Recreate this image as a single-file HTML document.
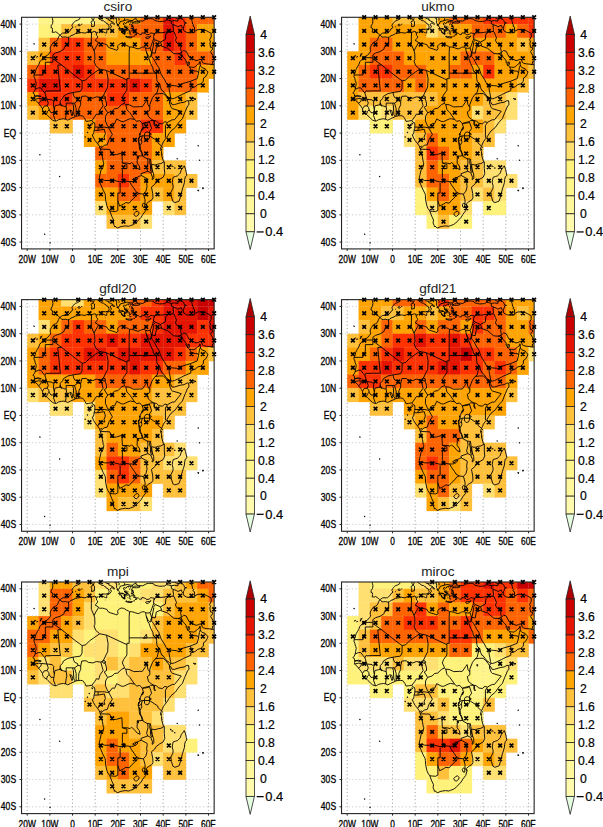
<!DOCTYPE html><html><head><meta charset="utf-8"><style>html,body{margin:0;padding:0;background:#fff;overflow:hidden}svg{display:block}</style></head><body>
<svg width="603" height="827" viewBox="0 0 603 827">
<rect width="603" height="827" fill="#fff"/>
<clipPath id="c0"><rect x="21.54" y="17.29" width="192.61" height="231.62"/></clipPath>
<g clip-path="url(#c0)">
<path d="M27.2 17.29V248.91M49.86 17.29V248.91M72.52 17.29V248.91M95.18 17.29V248.91M117.84 17.29V248.91M140.5 17.29V248.91M163.16 17.29V248.91M185.82 17.29V248.91M208.48 17.29V248.91" stroke="#a0a0a0" stroke-width="0.9" stroke-dasharray="1 2.56" fill="none"/>
<path d="M21.54 242.1H214.14M21.54 214.85H214.14M21.54 187.6H214.14M21.54 160.35H214.14M21.54 133.1H214.14M21.54 105.85H214.14M21.54 78.6H214.14M21.54 51.35H214.14M21.54 24.1H214.14" stroke="#c4c4c4" stroke-width="0.9" stroke-dasharray="1 2.56" fill="none"/>
<rect x="38.53" y="10.48" width="11.63" height="13.93" fill="#fff58a"/>
<rect x="49.86" y="10.48" width="11.63" height="13.93" fill="#fff58a"/>
<rect x="61.19" y="10.48" width="11.63" height="13.93" fill="#fff58a"/>
<rect x="72.52" y="10.48" width="11.63" height="13.93" fill="#fff58a"/>
<rect x="83.85" y="10.48" width="11.63" height="13.93" fill="#fff58a"/>
<rect x="95.18" y="10.48" width="11.63" height="13.93" fill="#ffe070"/>
<rect x="106.51" y="10.48" width="11.63" height="13.93" fill="#ffc03c"/>
<rect x="117.84" y="10.48" width="11.63" height="13.93" fill="#ffa400"/>
<rect x="129.17" y="10.48" width="11.63" height="13.93" fill="#ffa400"/>
<rect x="140.5" y="10.48" width="11.63" height="13.93" fill="#ff6400"/>
<rect x="151.83" y="10.48" width="11.63" height="13.93" fill="#ff6400"/>
<rect x="163.16" y="10.48" width="11.63" height="13.93" fill="#e41400"/>
<rect x="174.49" y="10.48" width="11.63" height="13.93" fill="#ff3200"/>
<rect x="185.82" y="10.48" width="11.63" height="13.93" fill="#ff6400"/>
<rect x="197.15" y="10.48" width="11.63" height="13.93" fill="#ff6400"/>
<rect x="208.48" y="10.48" width="11.63" height="13.93" fill="#ff6400"/>
<rect x="38.53" y="24.1" width="11.63" height="13.93" fill="#fff27a"/>
<rect x="49.86" y="24.1" width="11.63" height="13.93" fill="#fff27a"/>
<rect x="61.19" y="24.1" width="11.63" height="13.93" fill="#ffc03c"/>
<rect x="72.52" y="24.1" width="11.63" height="13.93" fill="#ffc03c"/>
<rect x="83.85" y="24.1" width="11.63" height="13.93" fill="#ffc03c"/>
<rect x="95.18" y="24.1" width="11.63" height="13.93" fill="#ffc03c"/>
<rect x="106.51" y="24.1" width="11.63" height="13.93" fill="#ffc03c"/>
<rect x="117.84" y="24.1" width="11.63" height="13.93" fill="#ffa400"/>
<rect x="129.17" y="24.1" width="11.63" height="13.93" fill="#ff6400"/>
<rect x="140.5" y="24.1" width="11.63" height="13.93" fill="#ff6400"/>
<rect x="151.83" y="24.1" width="11.63" height="13.93" fill="#ff6400"/>
<rect x="163.16" y="24.1" width="11.63" height="13.93" fill="#e41400"/>
<rect x="174.49" y="24.1" width="11.63" height="13.93" fill="#ff3200"/>
<rect x="185.82" y="24.1" width="11.63" height="13.93" fill="#ff6400"/>
<rect x="197.15" y="24.1" width="11.63" height="13.93" fill="#ffa400"/>
<rect x="208.48" y="24.1" width="11.63" height="13.93" fill="#ffa400"/>
<rect x="38.53" y="37.73" width="11.63" height="13.93" fill="#ffc03c"/>
<rect x="49.86" y="37.73" width="11.63" height="13.93" fill="#ff6400"/>
<rect x="61.19" y="37.73" width="11.63" height="13.93" fill="#ff3200"/>
<rect x="72.52" y="37.73" width="11.63" height="13.93" fill="#ff3200"/>
<rect x="83.85" y="37.73" width="11.63" height="13.93" fill="#ff6400"/>
<rect x="95.18" y="37.73" width="11.63" height="13.93" fill="#ff6400"/>
<rect x="106.51" y="37.73" width="11.63" height="13.93" fill="#ffa400"/>
<rect x="117.84" y="37.73" width="11.63" height="13.93" fill="#ffa400"/>
<rect x="129.17" y="37.73" width="11.63" height="13.93" fill="#ffa400"/>
<rect x="140.5" y="37.73" width="11.63" height="13.93" fill="#ff6400"/>
<rect x="151.83" y="37.73" width="11.63" height="13.93" fill="#ff6400"/>
<rect x="163.16" y="37.73" width="11.63" height="13.93" fill="#e41400"/>
<rect x="174.49" y="37.73" width="11.63" height="13.93" fill="#ff3200"/>
<rect x="185.82" y="37.73" width="11.63" height="13.93" fill="#ff6400"/>
<rect x="197.15" y="37.73" width="11.63" height="13.93" fill="#ffa400"/>
<rect x="208.48" y="37.73" width="11.63" height="13.93" fill="#ffa400"/>
<rect x="27.2" y="51.35" width="11.63" height="13.92" fill="#ffc03c"/>
<rect x="38.53" y="51.35" width="11.63" height="13.92" fill="#ffa400"/>
<rect x="49.86" y="51.35" width="11.63" height="13.92" fill="#ff3200"/>
<rect x="61.19" y="51.35" width="11.63" height="13.92" fill="#ff3200"/>
<rect x="72.52" y="51.35" width="11.63" height="13.92" fill="#ff3200"/>
<rect x="83.85" y="51.35" width="11.63" height="13.92" fill="#ff6400"/>
<rect x="95.18" y="51.35" width="11.63" height="13.92" fill="#ff6400"/>
<rect x="106.51" y="51.35" width="11.63" height="13.92" fill="#ffa400"/>
<rect x="117.84" y="51.35" width="11.63" height="13.92" fill="#ffa400"/>
<rect x="129.17" y="51.35" width="11.63" height="13.92" fill="#ffa400"/>
<rect x="140.5" y="51.35" width="11.63" height="13.92" fill="#ffa400"/>
<rect x="151.83" y="51.35" width="11.63" height="13.92" fill="#ff6400"/>
<rect x="163.16" y="51.35" width="11.63" height="13.92" fill="#ff6400"/>
<rect x="174.49" y="51.35" width="11.63" height="13.92" fill="#ff3200"/>
<rect x="185.82" y="51.35" width="11.63" height="13.92" fill="#ff6400"/>
<rect x="197.15" y="51.35" width="11.63" height="13.92" fill="#ff6400"/>
<rect x="208.48" y="51.35" width="11.63" height="13.92" fill="#ff6400"/>
<rect x="27.2" y="64.97" width="11.63" height="13.93" fill="#ff6400"/>
<rect x="38.53" y="64.97" width="11.63" height="13.93" fill="#ff3200"/>
<rect x="49.86" y="64.97" width="11.63" height="13.93" fill="#ff3200"/>
<rect x="61.19" y="64.97" width="11.63" height="13.93" fill="#ff3200"/>
<rect x="72.52" y="64.97" width="11.63" height="13.93" fill="#e41400"/>
<rect x="83.85" y="64.97" width="11.63" height="13.93" fill="#ff3200"/>
<rect x="95.18" y="64.97" width="11.63" height="13.93" fill="#ff6400"/>
<rect x="106.51" y="64.97" width="11.63" height="13.93" fill="#ff6400"/>
<rect x="117.84" y="64.97" width="11.63" height="13.93" fill="#ff6400"/>
<rect x="129.17" y="64.97" width="11.63" height="13.93" fill="#ff6400"/>
<rect x="140.5" y="64.97" width="11.63" height="13.93" fill="#ff6400"/>
<rect x="151.83" y="64.97" width="11.63" height="13.93" fill="#ff6400"/>
<rect x="163.16" y="64.97" width="11.63" height="13.93" fill="#ff6400"/>
<rect x="174.49" y="64.97" width="11.63" height="13.93" fill="#ff6400"/>
<rect x="185.82" y="64.97" width="11.63" height="13.93" fill="#ff6400"/>
<rect x="197.15" y="64.97" width="11.63" height="13.93" fill="#ffa400"/>
<rect x="208.48" y="64.97" width="11.63" height="13.93" fill="#ffa400"/>
<rect x="27.2" y="78.6" width="11.63" height="13.93" fill="#ff3200"/>
<rect x="38.53" y="78.6" width="11.63" height="13.93" fill="#e41400"/>
<rect x="49.86" y="78.6" width="11.63" height="13.93" fill="#e41400"/>
<rect x="61.19" y="78.6" width="11.63" height="13.93" fill="#ff3200"/>
<rect x="72.52" y="78.6" width="11.63" height="13.93" fill="#ff3200"/>
<rect x="83.85" y="78.6" width="11.63" height="13.93" fill="#ff3200"/>
<rect x="95.18" y="78.6" width="11.63" height="13.93" fill="#ff3200"/>
<rect x="106.51" y="78.6" width="11.63" height="13.93" fill="#ff3200"/>
<rect x="117.84" y="78.6" width="11.63" height="13.93" fill="#ff3200"/>
<rect x="129.17" y="78.6" width="11.63" height="13.93" fill="#e41400"/>
<rect x="140.5" y="78.6" width="11.63" height="13.93" fill="#ff3200"/>
<rect x="151.83" y="78.6" width="11.63" height="13.93" fill="#ff6400"/>
<rect x="163.16" y="78.6" width="11.63" height="13.93" fill="#ff6400"/>
<rect x="174.49" y="78.6" width="11.63" height="13.93" fill="#ff6400"/>
<rect x="185.82" y="78.6" width="11.63" height="13.93" fill="#ff6400"/>
<rect x="197.15" y="78.6" width="11.63" height="13.93" fill="#ffa400"/>
<rect x="27.2" y="92.22" width="11.63" height="13.93" fill="#ffa400"/>
<rect x="38.53" y="92.22" width="11.63" height="13.93" fill="#ff3200"/>
<rect x="49.86" y="92.22" width="11.63" height="13.93" fill="#ff3200"/>
<rect x="61.19" y="92.22" width="11.63" height="13.93" fill="#ff3200"/>
<rect x="72.52" y="92.22" width="11.63" height="13.93" fill="#ff6400"/>
<rect x="83.85" y="92.22" width="11.63" height="13.93" fill="#ff6400"/>
<rect x="95.18" y="92.22" width="11.63" height="13.93" fill="#ff6400"/>
<rect x="106.51" y="92.22" width="11.63" height="13.93" fill="#ff3200"/>
<rect x="117.84" y="92.22" width="11.63" height="13.93" fill="#ff3200"/>
<rect x="129.17" y="92.22" width="11.63" height="13.93" fill="#ff6400"/>
<rect x="140.5" y="92.22" width="11.63" height="13.93" fill="#ff6400"/>
<rect x="151.83" y="92.22" width="11.63" height="13.93" fill="#ff6400"/>
<rect x="163.16" y="92.22" width="11.63" height="13.93" fill="#ffa400"/>
<rect x="174.49" y="92.22" width="11.63" height="13.93" fill="#ffa400"/>
<rect x="185.82" y="92.22" width="11.63" height="13.93" fill="#ffc03c"/>
<rect x="27.2" y="105.85" width="11.63" height="13.93" fill="#ffc03c"/>
<rect x="38.53" y="105.85" width="11.63" height="13.93" fill="#ffa400"/>
<rect x="49.86" y="105.85" width="11.63" height="13.93" fill="#ff6400"/>
<rect x="61.19" y="105.85" width="11.63" height="13.93" fill="#ff6400"/>
<rect x="72.52" y="105.85" width="11.63" height="13.93" fill="#ff6400"/>
<rect x="83.85" y="105.85" width="11.63" height="13.93" fill="#ff6400"/>
<rect x="95.18" y="105.85" width="11.63" height="13.93" fill="#ff6400"/>
<rect x="106.51" y="105.85" width="11.63" height="13.93" fill="#ff6400"/>
<rect x="117.84" y="105.85" width="11.63" height="13.93" fill="#ff6400"/>
<rect x="129.17" y="105.85" width="11.63" height="13.93" fill="#ff6400"/>
<rect x="140.5" y="105.85" width="11.63" height="13.93" fill="#ff6400"/>
<rect x="151.83" y="105.85" width="11.63" height="13.93" fill="#ff6400"/>
<rect x="163.16" y="105.85" width="11.63" height="13.93" fill="#ffa400"/>
<rect x="174.49" y="105.85" width="11.63" height="13.93" fill="#ffa400"/>
<rect x="185.82" y="105.85" width="11.63" height="13.93" fill="#ffc03c"/>
<rect x="49.86" y="119.47" width="11.63" height="13.93" fill="#ffc03c"/>
<rect x="61.19" y="119.47" width="11.63" height="13.93" fill="#ffc03c"/>
<rect x="83.85" y="119.47" width="11.63" height="13.93" fill="#ffa400"/>
<rect x="95.18" y="119.47" width="11.63" height="13.93" fill="#ff6400"/>
<rect x="106.51" y="119.47" width="11.63" height="13.93" fill="#ff6400"/>
<rect x="117.84" y="119.47" width="11.63" height="13.93" fill="#ff6400"/>
<rect x="129.17" y="119.47" width="11.63" height="13.93" fill="#ff6400"/>
<rect x="140.5" y="119.47" width="11.63" height="13.93" fill="#ff3200"/>
<rect x="151.83" y="119.47" width="11.63" height="13.93" fill="#ff3200"/>
<rect x="163.16" y="119.47" width="11.63" height="13.93" fill="#ffa400"/>
<rect x="174.49" y="119.47" width="11.63" height="13.93" fill="#ffa400"/>
<rect x="83.85" y="133.1" width="11.63" height="13.93" fill="#ffa400"/>
<rect x="95.18" y="133.1" width="11.63" height="13.93" fill="#ffa400"/>
<rect x="106.51" y="133.1" width="11.63" height="13.93" fill="#ff6400"/>
<rect x="117.84" y="133.1" width="11.63" height="13.93" fill="#ff6400"/>
<rect x="129.17" y="133.1" width="11.63" height="13.93" fill="#ff6400"/>
<rect x="140.5" y="133.1" width="11.63" height="13.93" fill="#ff6400"/>
<rect x="151.83" y="133.1" width="11.63" height="13.93" fill="#ffa400"/>
<rect x="163.16" y="133.1" width="11.63" height="13.93" fill="#ffa400"/>
<rect x="95.18" y="146.72" width="11.63" height="13.93" fill="#ff6400"/>
<rect x="106.51" y="146.72" width="11.63" height="13.93" fill="#ff6400"/>
<rect x="117.84" y="146.72" width="11.63" height="13.93" fill="#ff6400"/>
<rect x="129.17" y="146.72" width="11.63" height="13.93" fill="#ff6400"/>
<rect x="140.5" y="146.72" width="11.63" height="13.93" fill="#ff6400"/>
<rect x="151.83" y="146.72" width="11.63" height="13.93" fill="#ffa400"/>
<rect x="95.18" y="160.35" width="11.63" height="13.93" fill="#ffa400"/>
<rect x="106.51" y="160.35" width="11.63" height="13.93" fill="#ff6400"/>
<rect x="117.84" y="160.35" width="11.63" height="13.93" fill="#ff6400"/>
<rect x="129.17" y="160.35" width="11.63" height="13.93" fill="#ff6400"/>
<rect x="140.5" y="160.35" width="11.63" height="13.93" fill="#ff6400"/>
<rect x="151.83" y="160.35" width="11.63" height="13.93" fill="#ffc03c"/>
<rect x="163.16" y="160.35" width="11.63" height="13.93" fill="#ffc03c"/>
<rect x="174.49" y="160.35" width="11.63" height="13.93" fill="#ffc03c"/>
<rect x="95.18" y="173.97" width="11.63" height="13.93" fill="#ff6400"/>
<rect x="106.51" y="173.97" width="11.63" height="13.93" fill="#ff6400"/>
<rect x="117.84" y="173.97" width="11.63" height="13.93" fill="#ff3200"/>
<rect x="129.17" y="173.97" width="11.63" height="13.93" fill="#ff6400"/>
<rect x="140.5" y="173.97" width="11.63" height="13.93" fill="#ffa400"/>
<rect x="151.83" y="173.97" width="11.63" height="13.93" fill="#ffa400"/>
<rect x="163.16" y="173.97" width="11.63" height="13.93" fill="#ffa400"/>
<rect x="174.49" y="173.97" width="11.63" height="13.93" fill="#ffc03c"/>
<rect x="185.82" y="173.97" width="11.63" height="13.93" fill="#ffc03c"/>
<rect x="95.18" y="187.6" width="11.63" height="13.93" fill="#ffa400"/>
<rect x="106.51" y="187.6" width="11.63" height="13.93" fill="#ffa400"/>
<rect x="117.84" y="187.6" width="11.63" height="13.93" fill="#ff6400"/>
<rect x="129.17" y="187.6" width="11.63" height="13.93" fill="#ff6400"/>
<rect x="140.5" y="187.6" width="11.63" height="13.93" fill="#ffa400"/>
<rect x="151.83" y="187.6" width="11.63" height="13.93" fill="#ffc03c"/>
<rect x="163.16" y="187.6" width="11.63" height="13.93" fill="#ffa400"/>
<rect x="174.49" y="187.6" width="11.63" height="13.93" fill="#ffc03c"/>
<rect x="95.18" y="201.22" width="11.63" height="13.93" fill="#ffe070"/>
<rect x="106.51" y="201.22" width="11.63" height="13.93" fill="#ffa400"/>
<rect x="117.84" y="201.22" width="11.63" height="13.93" fill="#ffa400"/>
<rect x="129.17" y="201.22" width="11.63" height="13.93" fill="#ffa400"/>
<rect x="140.5" y="201.22" width="11.63" height="13.93" fill="#ffa400"/>
<rect x="163.16" y="201.22" width="11.63" height="13.93" fill="#ffe070"/>
<rect x="174.49" y="201.22" width="11.63" height="13.93" fill="#ffc03c"/>
<rect x="106.51" y="214.85" width="11.63" height="13.93" fill="#ffc03c"/>
<rect x="117.84" y="214.85" width="11.63" height="13.93" fill="#ffc03c"/>
<rect x="129.17" y="214.85" width="11.63" height="13.93" fill="#ffc03c"/>
<rect x="140.5" y="214.85" width="11.63" height="13.93" fill="#ffe070"/>
<path d="M27.2 17.29V248.91M49.86 17.29V248.91M72.52 17.29V248.91M95.18 17.29V248.91M117.84 17.29V248.91M140.5 17.29V248.91M163.16 17.29V248.91M185.82 17.29V248.91M208.48 17.29V248.91" stroke="#a0a0a0" stroke-opacity="0.3" stroke-width="0.9" stroke-dasharray="1 2.56" fill="none"/>
<path d="M21.54 242.1H214.14M21.54 214.85H214.14M21.54 187.6H214.14M21.54 160.35H214.14M21.54 133.1H214.14M21.54 105.85H214.14M21.54 78.6H214.14M21.54 51.35H214.14M21.54 24.1H214.14" stroke="#d0d0d0" stroke-opacity="0.3" stroke-width="0.9" stroke-dasharray="1 2.56" fill="none"/>
<path d="M146.28 51.49L145.83 49.72L145.71 47.94L144.58 47.26L142.77 46.99L141.41 47.4L140.27 48.08L138.23 48.9L135.97 48.35L134.16 47.59L131.44 46.99L129.51 46.99L128.26 46.17L126.79 45.63L124.86 44.27L123.73 43.72L121.24 43.31L119.2 44.27L117.95 45.63L117.61 46.99L118.07 48.62L116.93 50.26L115.35 49.72L113.08 48.9L110.14 48.08L108.1 46.99L106.96 44.81L104.7 43.99L102.43 43.45L99.71 43.58L98.58 42.63L97.67 42.36L97.11 41.27L95.41 40.72L95.75 39.63L96.88 38.41L97.67 37.18L97.45 36.09L96.54 35.27L96.31 33.91L97.56 32.14L96.54 32.68L95.63 32.82L95.86 31.87L94.84 31.46L92.91 31.87L92.01 32.41L90.08 32.41L88.84 32.14L86.91 32.14L84.98 33.23L84.08 32.96L81.58 32.55L79.43 32.9L77.73 33.36L75.47 33.64L72.97 35L71.05 35.68L69.57 36.91L67.53 37.45L65.84 36.91L63.68 37.04L61.87 37.18L60.51 35.27L59.38 35.55L58.58 37.18L57.56 39.63L57.11 40.45L55.3 41.54L53.26 42.49L51.56 45.08L50.31 47.26L50.2 49.72L50.77 50.26L50.31 51.89L49.41 52.99L47.37 55.44L45.1 56.53L43.29 57.07L42.16 59.25L39.66 61.98L38.76 64.7L37.4 66.88L36.49 68.52L35.58 70.43L35.36 72.33L34.22 74.51L33.88 76.42L34.9 78.6L35.13 80.24L35.81 81.87L36.26 83.78L35.58 86.78L35.13 89.5L34.22 91.41L32.87 93.04L33.77 93.31L34.45 94.41L34.56 96.04L34.9 96.45L34.56 97.68L34.68 99.31L35.81 100.67L37.4 101.76L38.53 103.4L39.44 104.49L40.8 106.12L41.48 107.21L42.5 108.85L42.61 110.21L43.29 111.84L44.2 112.94L46.46 114.3L48.05 115.93L50.09 117.84L52.35 120.02L55.07 121.11L56.66 120.84L58.7 119.61L61.19 119.07L63.46 118.79L65.5 119.2L67.76 120.16L70.25 118.93L72.07 117.98L73.88 117.3L75.24 116.48L77.96 115.8L80.22 115.66L82.72 115.93L83.85 117.3L84.98 118.93L86.12 121.38L88.38 121.11L91.33 120.56L92.23 120.84L92.91 122.2L94.5 122.75L94.95 125.2L94.73 128.2L94.05 130.38L93.93 132.01L93.59 133.92L92.23 134.74L93.59 138L95.18 140.73L97.67 143.73L99.37 146.18L100.39 149.45L101.75 153.54L102.43 157.08L103.34 162.26L103.79 163.07L103.11 166.75L102.88 167.44L101.07 169.89L100.05 174.52L99.26 178.34L99.15 180.11L100.84 184.88L103.11 190.05L105.15 193.87L105.38 195.64L105.6 199.86L106.85 205.72L107.87 208.31L109.8 211.03L111.72 216.21L113.53 220.03L113.08 223.03L114.21 225.48L114.44 226.7L115.12 226.02L116.25 227.38L117.84 228.01L120.11 226.84L122.6 226.3L125.54 225.89L128.72 226.3L130.53 225.61L133.25 224.66L135.74 223.03L139.37 219.21L141.18 217.3L142.77 214.44L145.71 210.76L147.07 206.13L146.39 203.87L148.66 201.77L151.83 199.86L152.96 197.95L152.74 193.59L151.83 188.96L151.49 187.05L154.78 184.33L156.14 181.88L159.76 179.15L163.16 177.25L164.75 173.7L164.29 168.53L164.29 161.71L163.39 161.17L161.57 154.9L161.57 151.63L160.44 149.45L161.12 147L162.48 144.14L163.39 141.82L165.2 139.37L166.79 137.46L168.82 134.05L171.09 130.92L175.28 127.51L179.02 122.2L182.42 118.66L184.69 112.66L185.37 111.3L187.63 105.85L188.99 104.76L188.65 100.81L186.95 100.67L184.01 102.31L180.16 102.85L174.49 104.62L172.22 104.76L170.86 102.31L170.3 101.49L169.5 100.94L170.64 99.04L169.28 97.68L166.79 96.04L164.97 93.59L162.93 90.86L161.91 90.59L160.67 87.87L159.76 84.05L157.27 81.6L156.82 79.69L156.59 75.88L156.14 73.15L153.19 70.43L152.96 67.97L150.7 63.61L149.11 58.98L147.75 56.8L146.39 51.62L146.28 51.49M146.28 51.49L147.3 54.08L148.43 55.98L150.13 57.48L150.7 55.71L151.6 52.71L151.83 52.58L151.6 56.53L153.42 58.57L155.23 61.71L156.82 64.84L158.74 67.43L161.23 74.51L164.29 79.15L166.11 82.69L168.94 87.05L169.28 90.32L169.84 92.77L170.52 96.86L170.98 98.63L172.22 98.76L174.49 98.22L177.89 96.59L181.29 94.95L183.78 93.59L186.95 92.22L190.81 90.59L190.81 88.14L193.75 87.32L195.11 86.78L197.83 84.59L200.78 83.78L203.27 81.6L203.49 78.06L205.31 76.97L207.35 73.69L208.03 71.79L206.21 70.43L205.31 68.79L201.68 67.43L201 66.61L200.21 64.43L200.32 62.25L199.87 61.43L199.42 63.34L197.83 64.29L195.79 66.34L193.75 67.43L191.71 67.16L189.45 66.88L188.54 66.06L189.45 64.16L189.22 61.98L188.31 61.98L187.63 65.66L186.95 63.61L186.05 62.52L186.27 61.02L184.91 58.98L183.1 57.34L182.19 55.44L181.06 52.99L182.42 51.62L183.55 50.53L186.27 51.35L187.63 54.21L189.22 57.07L191.71 58.44L196.02 60.62L198.28 60.07L200.1 59.12L201.68 60.07L202.36 62.52L203.49 63.2L206.21 63.89L209.84 64.16L212.11 64.7L215.28 64.43M145.71 47.94L147.3 48.35L149.11 48.22L150.02 47.81L151.26 45.76L151.83 43.72L152.28 42.63L152.96 40.72L153.64 38.81L153.64 36.36L153.98 35.27L154.44 33.36L152.74 33.36L150.92 32.82L149.11 34.45L146.84 34.86L145.03 33.5L144.58 33.36L142.09 32.68L141.41 34.45L139.59 34.45L138.46 33.36L136.42 33.09L134.61 32.28L134.84 31.19L134.16 30.1L132.12 28.73L133.48 28.19L133.93 28.46L133.25 27.37L133.02 25.74L131.66 25.46L131.89 23.96L133.02 22.87L134.84 23.01L136.65 23.01L138.23 23.01L140.27 22.06L138.23 21.38L136.42 21.38L134.61 21.51L133.02 22.46L131.44 21.92L129.62 21.51L127.81 21.65L126.68 22.19L126.22 23.28L125.32 23.55L124.41 22.46L123.73 23.28L123.73 24.37L125.09 25.74L124.41 26.83L126 28.19L126.9 30.5L125.09 29.55L124.18 30.64L125.09 33.91L123.51 33.91L122.83 32.28L122.15 32.82L121.47 30.64L120.79 29.82L121.47 28.73L123.05 29L121.24 28.46L120.11 28.73L119.43 27.1L118.52 26.01L117.84 24.92L116.59 22.87L116.59 20.56L116.71 19.2L116.25 18.92L114.89 17.56L113.76 17.01M135.74 17.01L135.97 18.65L136.19 19.74L138.01 20.69L138.46 20.97L140.5 20.83L142.77 21.1L146.16 19.2L148.43 18.65L152.06 18.65L154.1 19.47L154.78 20.56L157.49 21.1L159.76 21.65L162.48 21.38L164.29 21.38L166.56 20.01L166.79 17.01M52.13 17.01L52.47 18.92L52.92 20.97L52.58 23.55L51.22 25.74L50.99 27.64L52.35 28.19L52.58 29.82L52.13 32.28L54.62 32.28L55.75 31.73L58.24 33.64L59.83 35L60.4 34.73L62.55 33.09L66.63 33.09L67.53 33.04L68.89 31.73L70.25 30.64L70.93 29L72.97 27.51L71.84 25.6L72.52 24.1L73.65 22.74L74.56 21.65L75.35 21.1L77.51 20.29L79.77 18.92L79.77 17.56L79.54 17.01M96.99 17.01L97.67 17.56L99.26 18.65L100.17 19.33L101.98 20.69L103.56 20.83L104.81 21.92L106.06 22.46L106.51 23.55L108.1 24.1L108.78 25.74L109.23 27.1L107.98 29.55L109 29.55L110.14 28.32L111.38 26.83L111.27 25.74L109.91 24.92L111.5 22.87L113.31 23.55L114.1 24.65L114.44 23.69L113.19 22.33L110.82 21.1L108.55 20.01L109.23 18.92L106.96 18.79L105.38 17.83L104.7 17.01M100.62 30.1L102.77 29.28L105.38 29.41L107.76 28.87L106.74 30.91L106.74 33.09L105.38 32.82L103.11 31.73L101.52 30.78L100.62 30.1M91.55 26.83L91.78 24.1L91.1 22.46L91.33 21.38L93.37 20.69L94.5 21.65L94.5 24.1L94.27 26.28L92.91 26.28L92.01 27.1L91.55 26.83M92.01 18.92L92.46 19.74L93.37 20.29L94.05 18.38L94.05 16.47L93.59 15.93L92.01 17.29L92.01 18.92M125.77 36.91L126 36.09L127.58 36.77L129.17 36.64L130.76 36.91L132.12 36.91L131.66 37.73L129.17 37.86L126.9 37.18L125.77 36.91M145.71 38L146.84 38.81L148.66 38.27L149.56 37.73L150.92 35.82L149.34 36.91L147.3 36.77L145.71 37.45L145.71 38M77.85 25.33L78.64 24.24L79.77 24.37L80.34 24.92L79.77 25.87L78.75 25.74L77.85 25.33M184.23 165.8L185.59 169.34L186.27 172.61L186.95 175.34L185.37 176.7L184.69 179.43L184.46 182.56L183.33 186.24L182.42 188.96L181.06 194.41L180.38 197.14L179.02 201.22L177.21 201.77L174.94 202.59L172.9 201.5L171.43 196.73L170.86 192.37L172.9 188.42L173.13 185.97L172.22 182.29L172.68 179.43L173.13 177.25L175.62 176.43L177.44 175.88L179.48 173.97L180.16 173.16L181.29 169.89L183.33 167.16L184.23 165.8M180.38 17.01L182.65 19.2L183.78 20.56L184.69 22.74L186.5 23.01L184.69 23.55L184.23 25.46L183.55 26.83L183.21 28.46L183.78 30.64L186.27 32.28L189.22 32.82L192.62 32.68L194.66 32.55L194.66 31.19L194.43 27.1L192.84 26.01L193.75 24.92L192.62 24.1L192.16 21.38L191.48 19.2L192.16 17.01M144.58 133.92L145.71 132.28L147.75 132.01L149.79 133.1L151.38 134.19L149.56 135.55L149.34 138L148.43 139.64L146.16 140.19L144.58 138.55L144.35 135.83L144.58 133.92M138.69 142.09L139.14 145.36L139.59 149.45L141.41 152.18L142.31 155.72L143.22 156.53L141.86 152.18L140.5 149.45L140.05 145.36L138.91 142.09M150.24 158.99L149.56 161.71L150.47 165.8L150.47 169.89L151.6 172.34L152.51 171.8L151.15 165.8L150.92 161.71L150.24 158.99M137.1 156.26L138.46 158.44L138.23 155.99L137.1 156.26M132.57 179.43L135.97 177.25L138.01 178.34L135.06 181.06L132.57 179.43M72.07 115.93L72.75 114.03L71.84 110.75L69.8 109.94L71.16 113.48L72.07 115.93M102.43 97.68L103.34 95.77L105.15 96.31L105.6 97.95L104.24 98.76L102.43 97.68M154.1 120.84L154.55 123.56L155.23 126.29L153.87 124.38L154.1 120.84M141.63 130.1L143.67 127.1L142.77 129.83L141.63 130.1M138.91 137.46L138.69 139.09L138.23 139.64L138.91 137.46M156.36 100.4L157.72 99.86L157.49 101.49L156.36 100.4M139.59 133.37L140.27 134.74L139.37 134.74L139.59 133.37M146.39 69.61L147.07 73.15L143.45 73.69L146.39 69.61M68.55 37.45L68.67 40.45L68.67 44.54L64.36 46.99L64.14 48.9L60.06 51.62L55.52 52.99L52.87 54.89L52.87 57.7M52.87 57.7L42.61 57.7M52.87 57.7L52.87 62.25L45.33 62.25L45.33 69.2L42.84 71.11L43.06 74.98L34 74.98M52.87 58.71L61.58 64.97M61.58 64.97L57.79 65.11L60.06 88.68L60.51 90.86L52.13 90.86L46.91 91.14L46.23 90.59L44.87 93.04M44.87 93.04L43.06 90.86L40.8 87.87L38.53 87.87L35.13 89.23M61.58 64.97L75.24 75.88L79.77 79.15L82.15 80.92M82.15 80.92L85.66 80.1L89.52 76.15L99.69 69.06M99.69 69.06L95.63 65.52L94.05 61.16L94.95 59.53L94.73 52.99L94.05 50.81M94.05 50.81L91.33 44.54L91.33 38.81L91.55 32.55M94.05 50.81L95.86 47.26L98.58 42.71M99.69 69.06L106.51 70.43L126.9 79.96L126.9 78.6L129.17 78.6L129.17 73.15M129.17 73.15L129.17 52.71L129.51 46.99M129.17 73.15L156.14 73.15M150.02 47.81L151.6 52.71M82.15 80.92L82.04 88.41L80.45 91.41L74.79 92.22L72.97 92.5M60.06 104.76L60.28 100.94L62.55 98.49L63.46 96.31L67.99 93.59L72.97 92.5M72.97 92.5L73.65 95.5L74.79 97.68L77.51 98.76L77.96 100.67M77.96 100.67L80.68 101.22L81.81 96.31L86.12 96.04L88.38 97.68L92.91 98.22L96.31 96.86L100.84 97.4L103.34 95.77M103.34 95.77L107.64 87.05L108.1 78.87L106.51 70.43M126.9 79.96L126.9 90.32L123.51 94.95L122.37 98.22L124.18 102.03L124.41 103.4M107.64 112.66L112.17 111.3L114.44 108.85L117.84 108.3L121.69 104.49L124.41 103.4M104.47 97.4L105.38 99.04L106.51 103.12L106.51 105.85L104.24 107.21L107.64 112.66M100.84 97.4L103.11 105.85L100.17 109.94L98.81 114.57L96.54 114.03L94.73 116.75L92.01 120.56M78.64 115.66L78.64 111.84L78.86 108.58L80.68 104.76L80.68 101.22M76.15 116.2L76.15 108.58L75.69 107.21L74.56 103.12M75.24 116.48L73.88 114.3L73.65 111.3L73.43 105.85L72.52 103.12M65.5 119.2L66.18 114.03L66.86 111.3L66.18 106.94L66.18 103.12L72.52 103.12L74.56 103.12L77.96 100.67M55.52 121.11L53.49 115.39L53.94 112.66L54.39 109.94L54.85 105.85L58.47 105.03L60.06 104.76L63.46 106.12L66.18 106.94M46.46 114.3L47.59 111.3L49.18 109.94L48.73 107.76L47.14 105.85L44.2 106.12L42.5 108.85M53.94 112.66L50.99 112.66L49.18 109.94M47.14 105.85L48.27 103.12L46.91 99.31L41.48 98.76L38.53 98.49L34.68 99.31M46.91 99.31L44.87 93.04M38.53 103.4L40.8 101.49L41.48 98.76M34.56 96.04L37.4 96.04L39.89 96.86L41.25 96.31L38.3 95.5L34.9 96.45M54.39 109.94L53.49 105.85L53.71 101.76L52.13 99.86L46.91 99.31M60.06 104.76L60.51 103.12L61.64 106.4M125.77 104.49L129.17 104.76L133.7 106.94L139.59 106.67L142.31 106.67L145.71 101.76L147.07 99.86L147.98 104.76L149.79 107.21M155.23 94.13L152.51 97.68L149.79 104.49L149.79 107.21L149.79 110.21L147.3 111.84L148.43 116.75L151.83 119.47L153.87 120.56M155.23 94.13L157.04 92.77L158.85 85.41L159.99 84.05M155.23 94.13L159.76 93.59L163.16 93.59L165.43 95.5L168.37 99.04L169.5 100.94M169.5 100.94L169.5 103.12L170.41 103.12M169.5 103.12L171.32 107.76L172.22 108.58L181.29 111.3L174.49 119.75L172.22 119.75L167.69 122.2L167.47 122.47M165.43 137.73L165.43 125.47L167.47 122.47M153.87 120.56L156.36 121.11L158.85 123.29L162.25 123.84L164.97 121.66L167.47 122.47M149.34 121.66L150.47 120.56L153.87 120.56M149.34 121.66L151.6 128.47L149.56 131.47L149.56 135.83M149.56 135.83L157.72 141.28L157.95 142.91L161.35 145.91M139.59 136.91L142.09 135.83L144.13 135.83L149.56 135.83M142.31 123.56L144.58 122.75L149.34 121.66M134.61 119.47L136.87 121.38L139.59 120.56L142.31 123.56M124.41 103.4L125.77 104.49L126.9 109.66L129.85 112.66L134.61 119.47M107.64 112.66L105.6 116.2L105.38 120.84L107.64 126.29L109.23 127.1L108.78 127.92M108.78 127.92L104.24 127.1L102.66 127.1L98.13 127.1L94.73 127.1M98.13 127.1L98.13 130.38L94.05 130.38M98.13 130.38L104.24 129.28L105.38 133.65L104.02 137.19L104.92 139.64L102.2 139.37L99.71 140.19L97.67 143.73M108.78 127.92L112.4 123.29L114.67 123.56L116.71 118.93L121.24 121.38L123.51 121.66L128.04 119.47L130.3 118.66L134.61 119.47M108.78 127.92L112.4 134.46L109.23 139.09L107.19 144.82L104.24 145.36L100.17 148.91M99.71 146.72L100.84 146.72L101.98 145.91M100.39 149.45L101.98 149.18L109.68 149.45L112.17 154.9L116.48 154.63L121.92 152.99L122.37 163.07L126.9 163.07L130.08 163.89L131.44 162.53L134.16 164.71L137.1 168.25L140.05 169.62L139.37 166.07L137.1 163.07L137.33 156.26L142.31 155.72M122.37 163.07L126.9 164.44L126.9 168.53L122.37 168.53L122.37 177.52L125.32 181.06M99.15 180.11L101.98 179.43L104.7 180.51L114.44 180.51L119.88 181.88L125.32 181.06L129.62 181.6M120.11 182.97L120.11 193.05L117.84 193.05L117.84 200.68L117.84 210.49L115.57 211.58L112.17 211.31L109.8 211.03M117.84 200.68L119.65 206.13L123.73 203.95L125.77 202.59L129.17 203.13L131.44 200.41L133.7 198.5L137.1 194.41L139.14 193.59M129.62 181.6L131.44 184.88L134.38 188.96L135.97 191.69L139.14 193.59M139.14 193.59L143.45 194.14M143.45 194.14L145.94 191.14L147.07 186.78L146.62 183.51L147.3 179.43L147.07 178.61L141.41 175.61M129.62 181.6L133.7 181.6L135.97 178.06L139.37 176.16L141.41 175.61M141.41 175.61L140.95 173.7L147.75 171.25L146.62 168.53L147.98 163.07L147.75 159.26L147.07 158.72L143.22 156.53M147.75 171.25L150.7 172.61L152.51 177.25L152.06 179.43L152.51 179.7L153.87 177.79L153.64 173.97L152.06 169.89L151.6 164.44M147.07 158.72L149.56 158.99L150.24 158.99M151.6 164.44L155.23 164.98L158.63 163.89L160.89 163.62L164.07 161.71M143.45 194.14L145.03 199.86L145.03 203.68L147.07 206.27M144.81 203.68L143.45 203.13L142.31 204.77L142.99 207.22L144.81 207.49L144.81 203.68M133.7 213.76L135.74 211.85L137.55 211.03L139.14 212.94L138.46 214.85L136.19 216.48L134.61 215.67L133.7 213.76M139.59 136.91L138.23 140.73L139.14 141L141.41 139.37L142.31 135.83M138.23 140.73L138.69 142.09M141.41 139.37L141.86 142.37L140.5 144.82L139.14 145.36M142.31 123.56L143.22 126.83L141.63 129.83L140.27 133.1L139.59 136.91M149.34 121.66L148.43 122.75L145.03 123.29L142.31 123.56M151.83 52.71L155.23 53.26L156.36 47.26L160.89 45.35L161.57 45.08M152.96 42.9L153.64 43.99L153.19 46.45L151.83 52.71M154.1 43.17L153.64 43.99M152.96 42.9L153.87 41.81L155.46 39.9L154.1 38.81L153.64 38.54M153.87 35.27L155.68 32.82L158.63 32.82L163.16 32.55L166.11 32L168.6 32M160.44 42.09L165.43 39.36L165.88 33.91L168.6 32M161.57 45.08L160.89 45.9L167.69 48.35L173.81 53.53L177.89 53.8L180.16 54.08L180.61 55.44L182.19 55.44M177.89 53.8L181.06 52.99L181.29 51.35L180.61 48.62L181.06 45.9L176.98 43.17L175.4 40.45L176.53 37.73L175.4 35.27L174.04 31.73L172.9 31.46L173.58 29.55L172.9 25.74L174.04 24.92M168.6 32L172.9 31.46M155.46 39.9L160.44 42.09L161.57 45.08M174.04 24.92L171.32 23.83L171.32 21.1L174.49 20.56L177.89 21.1L178.12 19.2L176.76 18.65L174.49 17.29L171.09 17.01M174.04 24.92L176.3 25.74L177.89 26.83L179.02 26.28L181.29 25.19L181.97 27.1L183.21 28.46M171.32 21.1L168.82 20.29L166.56 20.01M194.66 31.19L198.06 29.55L202.36 29.55L206.21 30.64L209.16 32.28L211.2 33.36L211.2 36.91L209.61 39.9L210.52 41.81L209.84 43.17L210.52 47.26L212.33 47.54L212.56 49.17L210.52 51.62L212.79 55.44L215.28 59.53M212.11 64.7L212.56 61.71L215.28 60.62M156.14 73.15L154.55 72.33L153.19 70.43M159.99 84.05L157.49 81.87M168.94 87.05L171.09 85.41L176.76 85.96L179.02 87.05L182.87 83.5L190.35 81.33L192.84 87.87M190.35 81.33L197.15 78.6L198.51 73.15L197.6 71.24L191.71 70.7L189.45 66.88M198.51 73.15L199.42 67.7L200.32 65.25M180.61 55.44L182.19 55.44M132.8 20.56L132.12 21.65M132.8 20.56L133.48 19.47L135.74 18.65M132.8 20.56L130.98 20.56L127.13 19.74L124.18 20.56L120.11 21.65L119.43 23.83L117.84 24.92M118.97 20.56L119.2 18.92L117.84 17.29M116.25 18.92L116.93 17.01M124.18 20.56L124.64 18.65L123.28 17.01M37.62 56.8L36.72 57.34L37.17 56.26L37.62 56.8M35.58 55.71L34.22 56.53L34.9 55.71L35.58 55.71M41.93 54.08L41.25 54.35L42.16 53.53L41.93 54.08M40.8 54.89L40.12 56.53L41.02 55.71L40.8 54.89M33.54 43.72L34.68 43.99L34 44.13L33.54 43.72M18.82 91.95L19.27 92.5L18.82 91.68M17.23 87.87L18.14 87.87M20.63 87.59L20.63 87.87M20.86 89.23L20.63 89.5M39.89 154.63L40.12 154.9M59.6 176.43L59.49 176.7M44.65 234.2L44.87 234.2M50.09 242.92L49.97 243.05M91.78 123.02L92.69 123.56L92.23 124.38L91.78 123.02M87.25 132.28L87.7 132.56M89.29 128.74L89.4 128.47M170.64 164.16L171.09 165.53M173.13 166.07L173.36 166.62M174.72 167.98L174.94 168.25M171.54 166.62L171.77 166.89M197.83 190.05L198.74 190.32L198.51 191.14L197.83 190.05M202.81 187.6L203.49 188.42L202.81 188.96L202.81 187.6M198.06 145.64L198.28 145.91M161.35 148.63L161.8 150.27M162.48 146.72L162.71 147.81M162.25 154.35L162.93 154.9M193.3 98.49L196.02 99.04L194.43 99.58L193.3 98.49M186.95 61.71L187.18 62.8M104.92 34.86L105.38 35.27M75.24 27.1L76.15 26.55M81.13 24.37L82.26 24.1M135.51 34.73L136.42 33.91L135.74 34.45M133.25 30.64L132.8 30.37M131.44 28.46L131.66 29M132.12 26.83L132.8 26.01M125.54 27.1L128.04 29L127.13 27.91M119.2 29L119.65 28.19M117.16 24.65L117.84 25.46M130.08 32L130.3 32.28M129.62 33.91L130.08 33.91M131.44 26.28L132.12 25.74L132.8 26.28L132.12 26.83L131.44 26.28M131.21 28.46L131.55 27.91L131.89 28.46L131.55 29L131.21 28.46M132.8 30.3L133.36 30.1L133.93 30.3L133.36 30.5L132.8 30.3M131.44 30.57L131.89 30.37L132.34 30.57L131.89 30.78L131.44 30.57M129.96 32.07L130.25 31.73L130.53 32.07L130.25 32.41L129.96 32.07M129.4 32.07L129.62 31.87L129.85 32.07L129.62 32.28L129.4 32.07M128.49 29.89L128.83 29.55L129.17 29.89L128.83 30.23L128.49 29.89M129.17 30.71L129.45 30.5L129.74 30.71L129.45 30.91L129.17 30.71M129.85 31.05L130.02 30.91L130.19 31.05L130.02 31.19L129.85 31.05M128.83 31.08L128.98 30.91L129.12 31.08L128.98 31.24L128.83 31.08M127.54 30.57L127.67 30.37L127.81 30.57L127.67 30.78L127.54 30.57M127.7 33.02L127.92 32.82L128.15 33.02L127.92 33.23L127.7 33.02M129.96 33.87L130.13 33.69L130.3 33.87L130.13 34.05L129.96 33.87M133.59 32.75L134.04 32.55L134.5 32.75L134.04 32.96L133.59 32.75M135.29 34.52L135.91 33.77L136.53 34.52L135.91 35.27L135.29 34.52M133.93 36.09L134.1 35.55L134.27 36.09L134.1 36.64L133.93 36.09M129.28 24.37L129.74 24.1L130.19 24.37L129.74 24.65L129.28 24.37M128.04 22.26L128.38 21.92L128.72 22.26L128.38 22.6L128.04 22.26M130.19 22.85L130.42 22.74L130.64 22.85L130.42 22.96L130.19 22.85M127.81 27.17L128.04 26.96L128.26 27.17L128.04 27.37L127.81 27.17M117.05 25.19L117.56 24.65L118.07 25.19L117.56 25.74L117.05 25.19M118.63 28.8L119.14 28.19L119.65 28.8L119.14 29.41L118.63 28.8M119.2 30.1L119.6 29.69L119.99 30.1L119.6 30.5L119.2 30.1M124.41 34.25L124.64 33.91L124.86 34.25L124.64 34.59L124.41 34.25M125.54 31.53L125.71 31.32L125.88 31.53L125.71 31.73L125.54 31.53M124.64 30.44L124.86 30.23L125.09 30.44L124.86 30.64L124.64 30.44M128.94 33.16L129.17 32.96L129.4 33.16L129.17 33.36L128.94 33.16M131.89 31.46L132.06 31.32L132.23 31.46L132.06 31.59L131.89 31.46M133.36 31.87L133.53 31.73L133.7 31.87L133.53 32L133.36 31.87M132.57 28.05L132.68 27.91L132.8 28.05L132.68 28.19L132.57 28.05M130.42 34.45L130.7 34.18L130.98 34.45L130.7 34.73L130.42 34.45M132.12 36.7L132.29 36.5L132.46 36.7L132.29 36.91L132.12 36.7M126.79 26.76L127.02 26.55L127.24 26.76L127.02 26.96L126.79 26.76M126 26.42L126.17 26.28L126.34 26.42L126.17 26.55L126 26.42M123.51 24.17L123.73 23.96L123.96 24.17L123.73 24.37L123.51 24.17M124.18 26.96L125.32 27.51L126.22 28.19L127.13 29L128.15 29.55L127.81 28.87L127.13 27.91L125.77 26.96L124.64 26.69L124.18 26.96M121.92 28.6L123.28 29.14L124.64 29.69L123.51 28.87L122.15 28.46M120.79 29.82L120.33 30.23L121.47 31.19L121.69 32.41L122.26 32.96L122.83 32.55L123.28 33.77L123.73 32.82L124.07 33.64L124.75 33.77L124.52 32L124.07 30.78L125.09 30.64L125.54 31.19L124.86 29.69" stroke="#000" stroke-width="0.9" fill="none" stroke-linejoin="round"/>
<g fill="#111"><circle cx="39.89" cy="154.76" r="0.75"/><circle cx="59.6" cy="176.56" r="0.75"/><circle cx="44.65" cy="234.2" r="0.75"/><circle cx="50.09" cy="242.92" r="0.75"/><circle cx="198.28" cy="145.64" r="0.75"/><circle cx="199.42" cy="160.35" r="0.75"/><circle cx="177.21" cy="158.72" r="0.75"/><circle cx="203.04" cy="188.15" r="0.75"/><circle cx="198.28" cy="190.6" r="0.75"/><circle cx="216.18" cy="186.78" r="0.75"/><circle cx="172.22" cy="166.34" r="0.75"/><circle cx="170.64" cy="164.71" r="0.75"/><circle cx="174.72" cy="167.98" r="0.75"/><circle cx="41.02" cy="54.35" r="0.75"/><circle cx="20.63" cy="89.23" r="0.75"/><circle cx="17.46" cy="92.5" r="0.75"/><circle cx="15.87" cy="86.78" r="0.75"/><circle cx="89.29" cy="128.74" r="0.75"/><circle cx="87.48" cy="132.56" r="0.75"/><circle cx="85.21" cy="136.91" r="0.75"/></g>
</g>
<rect x="21.54" y="17.29" width="192.61" height="231.62" fill="none" stroke="#222" stroke-width="1.1"/>
<path d="M27.2 248.91V250.91M49.86 248.91V250.91M72.52 248.91V250.91M95.18 248.91V250.91M117.84 248.91V250.91M140.5 248.91V250.91M163.16 248.91V250.91M185.82 248.91V250.91M208.48 248.91V250.91M21.54 242.1H19.54M21.54 214.85H19.54M21.54 187.6H19.54M21.54 160.35H19.54M21.54 133.1H19.54M21.54 105.85H19.54M21.54 78.6H19.54M21.54 51.35H19.54M21.54 24.1H19.54" stroke="#222" stroke-width="1" fill="none"/>
<path d="M99 15.44L102.69 19.14M99 19.14L102.69 15.44M110.33 15.44L114.02 19.14M110.33 19.14L114.02 15.44M144.31 15.44L148.01 19.14M144.31 19.14L148.01 15.44M155.64 15.44L159.34 19.14M155.64 19.14L159.34 15.44M166.97 15.44L170.67 19.14M166.97 19.14L170.67 15.44M178.31 15.44L182 19.14M178.31 19.14L182 15.44M189.63 15.44L193.33 19.14M189.63 19.14L193.33 15.44M200.97 15.44L204.66 19.14M200.97 19.14L204.66 15.44M212.29 15.44L215.99 19.14M212.29 19.14L215.99 15.44M65.01 29.06L68.7 32.76M65.01 32.76L68.7 29.06M76.34 29.06L80.03 32.76M76.34 32.76L80.03 29.06M87.67 29.06L91.36 32.76M87.67 32.76L91.36 29.06M99 29.06L102.69 32.76M99 32.76L102.69 29.06M110.33 29.06L114.02 32.76M110.33 32.76L114.02 29.06M121.66 29.06L125.36 32.76M121.66 32.76L125.36 29.06M132.99 29.06L136.69 32.76M132.99 32.76L136.69 29.06M144.31 29.06L148.01 32.76M144.31 32.76L148.01 29.06M155.64 29.06L159.34 32.76M155.64 32.76L159.34 29.06M166.97 29.06L170.67 32.76M166.97 32.76L170.67 29.06M178.31 29.06L182 32.76M178.31 32.76L182 29.06M189.63 29.06L193.33 32.76M189.63 32.76L193.33 29.06M200.97 29.06L204.66 32.76M200.97 32.76L204.66 29.06M212.29 29.06L215.99 32.76M212.29 32.76L215.99 29.06M42.34 42.69L46.05 46.39M42.34 46.39L46.05 42.69M53.67 42.69L57.38 46.39M53.67 46.39L57.38 42.69M65.01 42.69L68.7 46.39M65.01 46.39L68.7 42.69M76.34 42.69L80.03 46.39M76.34 46.39L80.03 42.69M87.67 42.69L91.36 46.39M87.67 46.39L91.36 42.69M99 42.69L102.69 46.39M99 46.39L102.69 42.69M110.33 42.69L114.02 46.39M110.33 46.39L114.02 42.69M121.66 42.69L125.36 46.39M121.66 46.39L125.36 42.69M132.99 42.69L136.69 46.39M132.99 46.39L136.69 42.69M144.31 42.69L148.01 46.39M144.31 46.39L148.01 42.69M155.64 42.69L159.34 46.39M155.64 46.39L159.34 42.69M166.97 42.69L170.67 46.39M166.97 46.39L170.67 42.69M178.31 42.69L182 46.39M178.31 46.39L182 42.69M189.63 42.69L193.33 46.39M189.63 46.39L193.33 42.69M200.97 42.69L204.66 46.39M200.97 46.39L204.66 42.69M212.29 42.69L215.99 46.39M212.29 46.39L215.99 42.69M31.02 56.31L34.72 60.01M31.02 60.01L34.72 56.31M42.34 56.31L46.05 60.01M42.34 60.01L46.05 56.31M53.67 56.31L57.38 60.01M53.67 60.01L57.38 56.31M65.01 56.31L68.7 60.01M65.01 60.01L68.7 56.31M76.34 56.31L80.03 60.01M76.34 60.01L80.03 56.31M87.67 56.31L91.36 60.01M87.67 60.01L91.36 56.31M99 56.31L102.69 60.01M99 60.01L102.69 56.31M144.31 56.31L148.01 60.01M144.31 60.01L148.01 56.31M155.64 56.31L159.34 60.01M155.64 60.01L159.34 56.31M166.97 56.31L170.67 60.01M166.97 60.01L170.67 56.31M178.31 56.31L182 60.01M178.31 60.01L182 56.31M189.63 56.31L193.33 60.01M189.63 60.01L193.33 56.31M200.97 56.31L204.66 60.01M200.97 60.01L204.66 56.31M212.29 56.31L215.99 60.01M212.29 60.01L215.99 56.31M31.02 69.94L34.72 73.64M31.02 73.64L34.72 69.94M42.34 69.94L46.05 73.64M42.34 73.64L46.05 69.94M53.67 69.94L57.38 73.64M53.67 73.64L57.38 69.94M65.01 69.94L68.7 73.64M65.01 73.64L68.7 69.94M76.34 69.94L80.03 73.64M76.34 73.64L80.03 69.94M87.67 69.94L91.36 73.64M87.67 73.64L91.36 69.94M99 69.94L102.69 73.64M99 73.64L102.69 69.94M110.33 69.94L114.02 73.64M110.33 73.64L114.02 69.94M121.66 69.94L125.36 73.64M121.66 73.64L125.36 69.94M132.99 69.94L136.69 73.64M132.99 73.64L136.69 69.94M144.31 69.94L148.01 73.64M144.31 73.64L148.01 69.94M155.64 69.94L159.34 73.64M155.64 73.64L159.34 69.94M166.97 69.94L170.67 73.64M166.97 73.64L170.67 69.94M178.31 69.94L182 73.64M178.31 73.64L182 69.94M189.63 69.94L193.33 73.64M189.63 73.64L193.33 69.94M200.97 69.94L204.66 73.64M200.97 73.64L204.66 69.94M212.29 69.94L215.99 73.64M212.29 73.64L215.99 69.94M31.02 83.56L34.72 87.26M31.02 87.26L34.72 83.56M42.34 83.56L46.05 87.26M42.34 87.26L46.05 83.56M53.67 83.56L57.38 87.26M53.67 87.26L57.38 83.56M65.01 83.56L68.7 87.26M65.01 87.26L68.7 83.56M76.34 83.56L80.03 87.26M76.34 87.26L80.03 83.56M87.67 83.56L91.36 87.26M87.67 87.26L91.36 83.56M99 83.56L102.69 87.26M99 87.26L102.69 83.56M110.33 83.56L114.02 87.26M110.33 87.26L114.02 83.56M121.66 83.56L125.36 87.26M121.66 87.26L125.36 83.56M132.99 83.56L136.69 87.26M132.99 87.26L136.69 83.56M144.31 83.56L148.01 87.26M144.31 87.26L148.01 83.56M155.64 83.56L159.34 87.26M155.64 87.26L159.34 83.56M166.97 83.56L170.67 87.26M166.97 87.26L170.67 83.56M178.31 83.56L182 87.26M178.31 87.26L182 83.56M189.63 83.56L193.33 87.26M189.63 87.26L193.33 83.56M200.97 83.56L204.66 87.26M200.97 87.26L204.66 83.56M31.02 97.19L34.72 100.89M31.02 100.89L34.72 97.19M42.34 97.19L46.05 100.89M42.34 100.89L46.05 97.19M53.67 97.19L57.38 100.89M53.67 100.89L57.38 97.19M65.01 97.19L68.7 100.89M65.01 100.89L68.7 97.19M76.34 97.19L80.03 100.89M76.34 100.89L80.03 97.19M87.67 97.19L91.36 100.89M87.67 100.89L91.36 97.19M99 97.19L102.69 100.89M99 100.89L102.69 97.19M110.33 97.19L114.02 100.89M110.33 100.89L114.02 97.19M121.66 97.19L125.36 100.89M121.66 100.89L125.36 97.19M132.99 97.19L136.69 100.89M132.99 100.89L136.69 97.19M144.31 97.19L148.01 100.89M144.31 100.89L148.01 97.19M155.64 97.19L159.34 100.89M155.64 100.89L159.34 97.19M166.97 97.19L170.67 100.89M166.97 100.89L170.67 97.19M178.31 97.19L182 100.89M178.31 100.89L182 97.19M189.63 97.19L193.33 100.89M189.63 100.89L193.33 97.19M31.02 110.81L34.72 114.51M31.02 114.51L34.72 110.81M42.34 110.81L46.05 114.51M42.34 114.51L46.05 110.81M53.67 110.81L57.38 114.51M53.67 114.51L57.38 110.81M65.01 110.81L68.7 114.51M65.01 114.51L68.7 110.81M76.34 110.81L80.03 114.51M76.34 114.51L80.03 110.81M87.67 110.81L91.36 114.51M87.67 114.51L91.36 110.81M99 110.81L102.69 114.51M99 114.51L102.69 110.81M110.33 110.81L114.02 114.51M110.33 114.51L114.02 110.81M121.66 110.81L125.36 114.51M121.66 114.51L125.36 110.81M132.99 110.81L136.69 114.51M132.99 114.51L136.69 110.81M144.31 110.81L148.01 114.51M144.31 114.51L148.01 110.81M155.64 110.81L159.34 114.51M155.64 114.51L159.34 110.81M166.97 110.81L170.67 114.51M166.97 114.51L170.67 110.81M178.31 110.81L182 114.51M178.31 114.51L182 110.81M189.63 110.81L193.33 114.51M189.63 114.51L193.33 110.81M53.67 124.44L57.38 128.14M53.67 128.14L57.38 124.44M65.01 124.44L68.7 128.14M65.01 128.14L68.7 124.44M87.67 124.44L91.36 128.14M87.67 128.14L91.36 124.44M99 124.44L102.69 128.14M99 128.14L102.69 124.44M110.33 124.44L114.02 128.14M110.33 128.14L114.02 124.44M121.66 124.44L125.36 128.14M121.66 128.14L125.36 124.44M132.99 124.44L136.69 128.14M132.99 128.14L136.69 124.44M144.31 124.44L148.01 128.14M144.31 128.14L148.01 124.44M155.64 124.44L159.34 128.14M155.64 128.14L159.34 124.44M166.97 124.44L170.67 128.14M166.97 128.14L170.67 124.44M178.31 124.44L182 128.14M178.31 128.14L182 124.44M87.67 138.06L91.36 141.76M87.67 141.76L91.36 138.06M99 138.06L102.69 141.76M99 141.76L102.69 138.06M110.33 138.06L114.02 141.76M110.33 141.76L114.02 138.06M121.66 138.06L125.36 141.76M121.66 141.76L125.36 138.06M132.99 138.06L136.69 141.76M132.99 141.76L136.69 138.06M144.31 138.06L148.01 141.76M144.31 141.76L148.01 138.06M155.64 138.06L159.34 141.76M155.64 141.76L159.34 138.06M166.97 138.06L170.67 141.76M166.97 141.76L170.67 138.06M99 151.69L102.69 155.39M99 155.39L102.69 151.69M110.33 151.69L114.02 155.39M110.33 155.39L114.02 151.69M121.66 151.69L125.36 155.39M121.66 155.39L125.36 151.69M132.99 151.69L136.69 155.39M132.99 155.39L136.69 151.69M144.31 151.69L148.01 155.39M144.31 155.39L148.01 151.69M155.64 151.69L159.34 155.39M155.64 155.39L159.34 151.69M99 165.31L102.69 169.01M99 169.01L102.69 165.31M110.33 165.31L114.02 169.01M110.33 169.01L114.02 165.31M121.66 165.31L125.36 169.01M121.66 169.01L125.36 165.31M132.99 165.31L136.69 169.01M132.99 169.01L136.69 165.31M144.31 165.31L148.01 169.01M144.31 169.01L148.01 165.31M155.64 165.31L159.34 169.01M155.64 169.01L159.34 165.31M166.97 165.31L170.67 169.01M166.97 169.01L170.67 165.31M178.31 165.31L182 169.01M178.31 169.01L182 165.31M99 178.94L102.69 182.64M99 182.64L102.69 178.94M110.33 178.94L114.02 182.64M110.33 182.64L114.02 178.94M121.66 178.94L125.36 182.64M121.66 182.64L125.36 178.94M132.99 178.94L136.69 182.64M132.99 182.64L136.69 178.94M144.31 178.94L148.01 182.64M144.31 182.64L148.01 178.94M155.64 178.94L159.34 182.64M155.64 182.64L159.34 178.94M166.97 178.94L170.67 182.64M166.97 182.64L170.67 178.94M178.31 178.94L182 182.64M178.31 182.64L182 178.94M189.63 178.94L193.33 182.64M189.63 182.64L193.33 178.94M99 192.56L102.69 196.26M99 196.26L102.69 192.56M110.33 192.56L114.02 196.26M110.33 196.26L114.02 192.56M121.66 192.56L125.36 196.26M121.66 196.26L125.36 192.56M132.99 192.56L136.69 196.26M132.99 196.26L136.69 192.56M144.31 192.56L148.01 196.26M144.31 196.26L148.01 192.56M155.64 192.56L159.34 196.26M155.64 196.26L159.34 192.56M166.97 192.56L170.67 196.26M166.97 196.26L170.67 192.56M178.31 192.56L182 196.26M178.31 196.26L182 192.56M99 206.19L102.69 209.89M99 209.89L102.69 206.19M110.33 206.19L114.02 209.89M110.33 209.89L114.02 206.19M121.66 206.19L125.36 209.89M121.66 209.89L125.36 206.19M132.99 206.19L136.69 209.89M132.99 209.89L136.69 206.19M144.31 206.19L148.01 209.89M144.31 209.89L148.01 206.19M166.97 206.19L170.67 209.89M166.97 209.89L170.67 206.19M178.31 206.19L182 209.89M178.31 209.89L182 206.19M110.33 219.81L114.02 223.51M110.33 223.51L114.02 219.81M121.66 219.81L125.36 223.51M121.66 223.51L125.36 219.81M132.99 219.81L136.69 223.51M132.99 223.51L136.69 219.81M144.31 219.81L148.01 223.51M144.31 223.51L148.01 219.81" stroke="#000" stroke-width="1.7" fill="none"/>
<text x="0" y="262.81" text-anchor="middle" font-size="10.2" stroke="#000" stroke-width="0.3" transform="translate(27.2 0) scale(0.82 1)" font-family="Liberation Sans, sans-serif">20W</text>
<text x="0" y="262.81" text-anchor="middle" font-size="10.2" stroke="#000" stroke-width="0.3" transform="translate(49.86 0) scale(0.82 1)" font-family="Liberation Sans, sans-serif">10W</text>
<text x="0" y="262.81" text-anchor="middle" font-size="10.2" stroke="#000" stroke-width="0.3" transform="translate(72.52 0) scale(0.82 1)" font-family="Liberation Sans, sans-serif">0</text>
<text x="0" y="262.81" text-anchor="middle" font-size="10.2" stroke="#000" stroke-width="0.3" transform="translate(95.18 0) scale(0.82 1)" font-family="Liberation Sans, sans-serif">10E</text>
<text x="0" y="262.81" text-anchor="middle" font-size="10.2" stroke="#000" stroke-width="0.3" transform="translate(117.84 0) scale(0.82 1)" font-family="Liberation Sans, sans-serif">20E</text>
<text x="0" y="262.81" text-anchor="middle" font-size="10.2" stroke="#000" stroke-width="0.3" transform="translate(140.5 0) scale(0.82 1)" font-family="Liberation Sans, sans-serif">30E</text>
<text x="0" y="262.81" text-anchor="middle" font-size="10.2" stroke="#000" stroke-width="0.3" transform="translate(163.16 0) scale(0.82 1)" font-family="Liberation Sans, sans-serif">40E</text>
<text x="0" y="262.81" text-anchor="middle" font-size="10.2" stroke="#000" stroke-width="0.3" transform="translate(185.82 0) scale(0.82 1)" font-family="Liberation Sans, sans-serif">50E</text>
<text x="0" y="262.81" text-anchor="middle" font-size="10.2" stroke="#000" stroke-width="0.3" transform="translate(208.48 0) scale(0.82 1)" font-family="Liberation Sans, sans-serif">60E</text>
<text x="0" y="245.7" text-anchor="end" font-size="10.2" stroke="#000" stroke-width="0.3" transform="translate(16.1 0) scale(0.84 1)" font-family="Liberation Sans, sans-serif">40S</text>
<text x="0" y="218.45" text-anchor="end" font-size="10.2" stroke="#000" stroke-width="0.3" transform="translate(16.1 0) scale(0.84 1)" font-family="Liberation Sans, sans-serif">30S</text>
<text x="0" y="191.2" text-anchor="end" font-size="10.2" stroke="#000" stroke-width="0.3" transform="translate(16.1 0) scale(0.84 1)" font-family="Liberation Sans, sans-serif">20S</text>
<text x="0" y="163.95" text-anchor="end" font-size="10.2" stroke="#000" stroke-width="0.3" transform="translate(16.1 0) scale(0.84 1)" font-family="Liberation Sans, sans-serif">10S</text>
<text x="0" y="136.7" text-anchor="end" font-size="10.2" stroke="#000" stroke-width="0.3" transform="translate(16.1 0) scale(0.84 1)" font-family="Liberation Sans, sans-serif">EQ</text>
<text x="0" y="109.45" text-anchor="end" font-size="10.2" stroke="#000" stroke-width="0.3" transform="translate(16.1 0) scale(0.84 1)" font-family="Liberation Sans, sans-serif">10N</text>
<text x="0" y="82.2" text-anchor="end" font-size="10.2" stroke="#000" stroke-width="0.3" transform="translate(16.1 0) scale(0.84 1)" font-family="Liberation Sans, sans-serif">20N</text>
<text x="0" y="54.95" text-anchor="end" font-size="10.2" stroke="#000" stroke-width="0.3" transform="translate(16.1 0) scale(0.84 1)" font-family="Liberation Sans, sans-serif">30N</text>
<text x="0" y="27.7" text-anchor="end" font-size="10.2" stroke="#000" stroke-width="0.3" transform="translate(16.1 0) scale(0.84 1)" font-family="Liberation Sans, sans-serif">40N</text>
<text x="117.84" y="10.9" text-anchor="middle" font-size="13.6" fill="#222" font-family="Liberation Sans, sans-serif">csiro</text>
<path d="M246 34.4L250.2 16.1L254.4 34.4Z" fill="#ae0000" stroke="#222" stroke-width="0.8"/>
<rect x="246" y="34.4" width="8.4" height="17.94" fill="#ca0000" stroke="#222" stroke-width="0.8"/>
<rect x="246" y="52.34" width="8.4" height="17.94" fill="#e41400" stroke="#222" stroke-width="0.8"/>
<rect x="246" y="70.28" width="8.4" height="17.94" fill="#ff3200" stroke="#222" stroke-width="0.8"/>
<rect x="246" y="88.22" width="8.4" height="17.94" fill="#ff6400" stroke="#222" stroke-width="0.8"/>
<rect x="246" y="106.16" width="8.4" height="17.94" fill="#ffa400" stroke="#222" stroke-width="0.8"/>
<rect x="246" y="124.1" width="8.4" height="17.94" fill="#ffc03c" stroke="#222" stroke-width="0.8"/>
<rect x="246" y="142.04" width="8.4" height="17.94" fill="#ffe070" stroke="#222" stroke-width="0.8"/>
<rect x="246" y="159.98" width="8.4" height="17.94" fill="#fff27a" stroke="#222" stroke-width="0.8"/>
<rect x="246" y="177.92" width="8.4" height="17.94" fill="#fff58a" stroke="#222" stroke-width="0.8"/>
<rect x="246" y="195.86" width="8.4" height="17.94" fill="#fff79c" stroke="#222" stroke-width="0.8"/>
<rect x="246" y="213.8" width="8.4" height="17.94" fill="#fffaae" stroke="#222" stroke-width="0.8"/>
<path d="M246 231.74L250.2 249.6L254.4 231.74Z" fill="#e6ffe1" stroke="#222" stroke-width="0.8"/>
<text x="260.2" y="38.7" font-size="12.2" stroke="#000" stroke-width="0.2" font-family="Liberation Sans, sans-serif">4</text>
<text x="257.9" y="56.64" font-size="12.2" stroke="#000" stroke-width="0.2" font-family="Liberation Sans, sans-serif">3.6</text>
<text x="257.9" y="74.58" font-size="12.2" stroke="#000" stroke-width="0.2" font-family="Liberation Sans, sans-serif">3.2</text>
<text x="257.9" y="92.52" font-size="12.2" stroke="#000" stroke-width="0.2" font-family="Liberation Sans, sans-serif">2.8</text>
<text x="257.9" y="110.46" font-size="12.2" stroke="#000" stroke-width="0.2" font-family="Liberation Sans, sans-serif">2.4</text>
<text x="259.9" y="128.4" font-size="12.2" stroke="#000" stroke-width="0.2" font-family="Liberation Sans, sans-serif">2</text>
<text x="257.9" y="146.34" font-size="12.2" stroke="#000" stroke-width="0.2" font-family="Liberation Sans, sans-serif">1.6</text>
<text x="257.9" y="164.28" font-size="12.2" stroke="#000" stroke-width="0.2" font-family="Liberation Sans, sans-serif">1.2</text>
<text x="257.9" y="182.22" font-size="12.2" stroke="#000" stroke-width="0.2" font-family="Liberation Sans, sans-serif">0.8</text>
<text x="257.9" y="200.16" font-size="12.2" stroke="#000" stroke-width="0.2" font-family="Liberation Sans, sans-serif">0.4</text>
<text x="259.9" y="218.1" font-size="12.2" stroke="#000" stroke-width="0.2" font-family="Liberation Sans, sans-serif">0</text>
<path d="M256.7 231.94H263.7" stroke="#000" stroke-width="1.25"/>
<text x="265.3" y="236.24" font-size="12.9" stroke="#000" stroke-width="0.2" font-family="Liberation Sans, sans-serif">0.4</text>
<clipPath id="c1"><rect x="341.53" y="17.29" width="192.61" height="231.62"/></clipPath>
<g clip-path="url(#c1)">
<path d="M347.2 17.29V248.91M369.86 17.29V248.91M392.52 17.29V248.91M415.18 17.29V248.91M437.84 17.29V248.91M460.5 17.29V248.91M483.16 17.29V248.91M505.82 17.29V248.91M528.48 17.29V248.91" stroke="#a0a0a0" stroke-width="0.9" stroke-dasharray="1 2.56" fill="none"/>
<path d="M341.53 242.1H534.14M341.53 214.85H534.14M341.53 187.6H534.14M341.53 160.35H534.14M341.53 133.1H534.14M341.53 105.85H534.14M341.53 78.6H534.14M341.53 51.35H534.14M341.53 24.1H534.14" stroke="#c4c4c4" stroke-width="0.9" stroke-dasharray="1 2.56" fill="none"/>
<rect x="358.53" y="10.48" width="11.63" height="13.93" fill="#ffa400"/>
<rect x="369.86" y="10.48" width="11.63" height="13.93" fill="#ffa400"/>
<rect x="381.19" y="10.48" width="11.63" height="13.93" fill="#ffa400"/>
<rect x="392.52" y="10.48" width="11.63" height="13.93" fill="#ffc03c"/>
<rect x="403.85" y="10.48" width="11.63" height="13.93" fill="#ffc03c"/>
<rect x="415.18" y="10.48" width="11.63" height="13.93" fill="#ffc03c"/>
<rect x="426.51" y="10.48" width="11.63" height="13.93" fill="#ffe070"/>
<rect x="437.84" y="10.48" width="11.63" height="13.93" fill="#ffa400"/>
<rect x="449.17" y="10.48" width="11.63" height="13.93" fill="#ff6400"/>
<rect x="460.5" y="10.48" width="11.63" height="13.93" fill="#ff6400"/>
<rect x="471.83" y="10.48" width="11.63" height="13.93" fill="#ff6400"/>
<rect x="483.16" y="10.48" width="11.63" height="13.93" fill="#ff3200"/>
<rect x="494.49" y="10.48" width="11.63" height="13.93" fill="#ff3200"/>
<rect x="505.82" y="10.48" width="11.63" height="13.93" fill="#ff3200"/>
<rect x="517.15" y="10.48" width="11.63" height="13.93" fill="#ff3200"/>
<rect x="528.48" y="10.48" width="11.63" height="13.93" fill="#ff3200"/>
<rect x="358.53" y="24.1" width="11.63" height="13.93" fill="#ffa400"/>
<rect x="369.86" y="24.1" width="11.63" height="13.93" fill="#ffa400"/>
<rect x="381.19" y="24.1" width="11.63" height="13.93" fill="#ffa400"/>
<rect x="392.52" y="24.1" width="11.63" height="13.93" fill="#ffa400"/>
<rect x="403.85" y="24.1" width="11.63" height="13.93" fill="#ffa400"/>
<rect x="415.18" y="24.1" width="11.63" height="13.93" fill="#ffa400"/>
<rect x="426.51" y="24.1" width="11.63" height="13.93" fill="#ffe070"/>
<rect x="437.84" y="24.1" width="11.63" height="13.93" fill="#ffc03c"/>
<rect x="449.17" y="24.1" width="11.63" height="13.93" fill="#ffa400"/>
<rect x="460.5" y="24.1" width="11.63" height="13.93" fill="#ffa400"/>
<rect x="471.83" y="24.1" width="11.63" height="13.93" fill="#ff6400"/>
<rect x="483.16" y="24.1" width="11.63" height="13.93" fill="#ff6400"/>
<rect x="494.49" y="24.1" width="11.63" height="13.93" fill="#ff6400"/>
<rect x="505.82" y="24.1" width="11.63" height="13.93" fill="#ffa400"/>
<rect x="517.15" y="24.1" width="11.63" height="13.93" fill="#ff6400"/>
<rect x="528.48" y="24.1" width="11.63" height="13.93" fill="#ff3200"/>
<rect x="358.53" y="37.73" width="11.63" height="13.93" fill="#ffa400"/>
<rect x="369.86" y="37.73" width="11.63" height="13.93" fill="#ff6400"/>
<rect x="381.19" y="37.73" width="11.63" height="13.93" fill="#ff6400"/>
<rect x="392.52" y="37.73" width="11.63" height="13.93" fill="#ffa400"/>
<rect x="403.85" y="37.73" width="11.63" height="13.93" fill="#ffa400"/>
<rect x="415.18" y="37.73" width="11.63" height="13.93" fill="#ffa400"/>
<rect x="426.51" y="37.73" width="11.63" height="13.93" fill="#ffa400"/>
<rect x="437.84" y="37.73" width="11.63" height="13.93" fill="#ffa400"/>
<rect x="449.17" y="37.73" width="11.63" height="13.93" fill="#ffa400"/>
<rect x="460.5" y="37.73" width="11.63" height="13.93" fill="#ffa400"/>
<rect x="471.83" y="37.73" width="11.63" height="13.93" fill="#ffa400"/>
<rect x="483.16" y="37.73" width="11.63" height="13.93" fill="#ffa400"/>
<rect x="494.49" y="37.73" width="11.63" height="13.93" fill="#ffa400"/>
<rect x="505.82" y="37.73" width="11.63" height="13.93" fill="#ffa400"/>
<rect x="517.15" y="37.73" width="11.63" height="13.93" fill="#ffc03c"/>
<rect x="528.48" y="37.73" width="11.63" height="13.93" fill="#ffa400"/>
<rect x="347.2" y="51.35" width="11.63" height="13.92" fill="#ffa400"/>
<rect x="358.53" y="51.35" width="11.63" height="13.92" fill="#ffa400"/>
<rect x="369.86" y="51.35" width="11.63" height="13.92" fill="#ff6400"/>
<rect x="381.19" y="51.35" width="11.63" height="13.92" fill="#ff6400"/>
<rect x="392.52" y="51.35" width="11.63" height="13.92" fill="#ff6400"/>
<rect x="403.85" y="51.35" width="11.63" height="13.92" fill="#ffa400"/>
<rect x="415.18" y="51.35" width="11.63" height="13.92" fill="#ffa400"/>
<rect x="426.51" y="51.35" width="11.63" height="13.92" fill="#ffa400"/>
<rect x="437.84" y="51.35" width="11.63" height="13.92" fill="#ffa400"/>
<rect x="449.17" y="51.35" width="11.63" height="13.92" fill="#ffa400"/>
<rect x="460.5" y="51.35" width="11.63" height="13.92" fill="#ff6400"/>
<rect x="471.83" y="51.35" width="11.63" height="13.92" fill="#ff6400"/>
<rect x="483.16" y="51.35" width="11.63" height="13.92" fill="#ff6400"/>
<rect x="494.49" y="51.35" width="11.63" height="13.92" fill="#ffa400"/>
<rect x="505.82" y="51.35" width="11.63" height="13.92" fill="#ffa400"/>
<rect x="517.15" y="51.35" width="11.63" height="13.92" fill="#ffa400"/>
<rect x="528.48" y="51.35" width="11.63" height="13.92" fill="#ffa400"/>
<rect x="347.2" y="64.97" width="11.63" height="13.93" fill="#ffa400"/>
<rect x="358.53" y="64.97" width="11.63" height="13.93" fill="#ff6400"/>
<rect x="369.86" y="64.97" width="11.63" height="13.93" fill="#ff3200"/>
<rect x="381.19" y="64.97" width="11.63" height="13.93" fill="#ff3200"/>
<rect x="392.52" y="64.97" width="11.63" height="13.93" fill="#ff6400"/>
<rect x="403.85" y="64.97" width="11.63" height="13.93" fill="#ff6400"/>
<rect x="415.18" y="64.97" width="11.63" height="13.93" fill="#ff6400"/>
<rect x="426.51" y="64.97" width="11.63" height="13.93" fill="#ffa400"/>
<rect x="437.84" y="64.97" width="11.63" height="13.93" fill="#ffa400"/>
<rect x="449.17" y="64.97" width="11.63" height="13.93" fill="#ff6400"/>
<rect x="460.5" y="64.97" width="11.63" height="13.93" fill="#ff6400"/>
<rect x="471.83" y="64.97" width="11.63" height="13.93" fill="#ffa400"/>
<rect x="483.16" y="64.97" width="11.63" height="13.93" fill="#ff3200"/>
<rect x="494.49" y="64.97" width="11.63" height="13.93" fill="#ffa400"/>
<rect x="505.82" y="64.97" width="11.63" height="13.93" fill="#ffa400"/>
<rect x="517.15" y="64.97" width="11.63" height="13.93" fill="#ffa400"/>
<rect x="528.48" y="64.97" width="11.63" height="13.93" fill="#ffc03c"/>
<rect x="347.2" y="78.6" width="11.63" height="13.93" fill="#ffa400"/>
<rect x="358.53" y="78.6" width="11.63" height="13.93" fill="#ff6400"/>
<rect x="369.86" y="78.6" width="11.63" height="13.93" fill="#ff6400"/>
<rect x="381.19" y="78.6" width="11.63" height="13.93" fill="#ff6400"/>
<rect x="392.52" y="78.6" width="11.63" height="13.93" fill="#ff6400"/>
<rect x="403.85" y="78.6" width="11.63" height="13.93" fill="#ffa400"/>
<rect x="415.18" y="78.6" width="11.63" height="13.93" fill="#ff6400"/>
<rect x="426.51" y="78.6" width="11.63" height="13.93" fill="#ffa400"/>
<rect x="437.84" y="78.6" width="11.63" height="13.93" fill="#ffa400"/>
<rect x="449.17" y="78.6" width="11.63" height="13.93" fill="#ffa400"/>
<rect x="460.5" y="78.6" width="11.63" height="13.93" fill="#ffa400"/>
<rect x="471.83" y="78.6" width="11.63" height="13.93" fill="#ffa400"/>
<rect x="483.16" y="78.6" width="11.63" height="13.93" fill="#ffa400"/>
<rect x="494.49" y="78.6" width="11.63" height="13.93" fill="#ffa400"/>
<rect x="505.82" y="78.6" width="11.63" height="13.93" fill="#ffa400"/>
<rect x="517.15" y="78.6" width="11.63" height="13.93" fill="#ffc03c"/>
<rect x="347.2" y="92.22" width="11.63" height="13.93" fill="#ffa400"/>
<rect x="358.53" y="92.22" width="11.63" height="13.93" fill="#ffc03c"/>
<rect x="369.86" y="92.22" width="11.63" height="13.93" fill="#ffc03c"/>
<rect x="381.19" y="92.22" width="11.63" height="13.93" fill="#ffc03c"/>
<rect x="392.52" y="92.22" width="11.63" height="13.93" fill="#ffc03c"/>
<rect x="403.85" y="92.22" width="11.63" height="13.93" fill="#ffc03c"/>
<rect x="415.18" y="92.22" width="11.63" height="13.93" fill="#ffc03c"/>
<rect x="426.51" y="92.22" width="11.63" height="13.93" fill="#ffc03c"/>
<rect x="437.84" y="92.22" width="11.63" height="13.93" fill="#ffa400"/>
<rect x="449.17" y="92.22" width="11.63" height="13.93" fill="#ffa400"/>
<rect x="460.5" y="92.22" width="11.63" height="13.93" fill="#ffa400"/>
<rect x="471.83" y="92.22" width="11.63" height="13.93" fill="#ffa400"/>
<rect x="483.16" y="92.22" width="11.63" height="13.93" fill="#ffc03c"/>
<rect x="494.49" y="92.22" width="11.63" height="13.93" fill="#ffc03c"/>
<rect x="505.82" y="92.22" width="11.63" height="13.93" fill="#ffe070"/>
<rect x="347.2" y="105.85" width="11.63" height="13.93" fill="#ffa400"/>
<rect x="358.53" y="105.85" width="11.63" height="13.93" fill="#ffe070"/>
<rect x="369.86" y="105.85" width="11.63" height="13.93" fill="#fff27a"/>
<rect x="381.19" y="105.85" width="11.63" height="13.93" fill="#ffe070"/>
<rect x="392.52" y="105.85" width="11.63" height="13.93" fill="#ffc03c"/>
<rect x="403.85" y="105.85" width="11.63" height="13.93" fill="#ffc03c"/>
<rect x="415.18" y="105.85" width="11.63" height="13.93" fill="#ffc03c"/>
<rect x="426.51" y="105.85" width="11.63" height="13.93" fill="#ffa400"/>
<rect x="437.84" y="105.85" width="11.63" height="13.93" fill="#ffa400"/>
<rect x="449.17" y="105.85" width="11.63" height="13.93" fill="#ffa400"/>
<rect x="460.5" y="105.85" width="11.63" height="13.93" fill="#ffa400"/>
<rect x="471.83" y="105.85" width="11.63" height="13.93" fill="#ffe070"/>
<rect x="483.16" y="105.85" width="11.63" height="13.93" fill="#ffc03c"/>
<rect x="494.49" y="105.85" width="11.63" height="13.93" fill="#ffc03c"/>
<rect x="505.82" y="105.85" width="11.63" height="13.93" fill="#ffe070"/>
<rect x="369.86" y="119.47" width="11.63" height="13.93" fill="#fff27a"/>
<rect x="381.19" y="119.47" width="11.63" height="13.93" fill="#fff27a"/>
<rect x="403.85" y="119.47" width="11.63" height="13.93" fill="#ffe070"/>
<rect x="415.18" y="119.47" width="11.63" height="13.93" fill="#ffa400"/>
<rect x="426.51" y="119.47" width="11.63" height="13.93" fill="#ffa400"/>
<rect x="437.84" y="119.47" width="11.63" height="13.93" fill="#ffa400"/>
<rect x="449.17" y="119.47" width="11.63" height="13.93" fill="#ffa400"/>
<rect x="460.5" y="119.47" width="11.63" height="13.93" fill="#ffa400"/>
<rect x="471.83" y="119.47" width="11.63" height="13.93" fill="#ffa400"/>
<rect x="483.16" y="119.47" width="11.63" height="13.93" fill="#ffc03c"/>
<rect x="494.49" y="119.47" width="11.63" height="13.93" fill="#ffe070"/>
<rect x="403.85" y="133.1" width="11.63" height="13.93" fill="#ffe070"/>
<rect x="415.18" y="133.1" width="11.63" height="13.93" fill="#ffc03c"/>
<rect x="426.51" y="133.1" width="11.63" height="13.93" fill="#ff6400"/>
<rect x="437.84" y="133.1" width="11.63" height="13.93" fill="#ffa400"/>
<rect x="449.17" y="133.1" width="11.63" height="13.93" fill="#ffa400"/>
<rect x="460.5" y="133.1" width="11.63" height="13.93" fill="#ffa400"/>
<rect x="471.83" y="133.1" width="11.63" height="13.93" fill="#ffc03c"/>
<rect x="483.16" y="133.1" width="11.63" height="13.93" fill="#ffc03c"/>
<rect x="415.18" y="146.72" width="11.63" height="13.93" fill="#ffc03c"/>
<rect x="426.51" y="146.72" width="11.63" height="13.93" fill="#ff3200"/>
<rect x="437.84" y="146.72" width="11.63" height="13.93" fill="#ff6400"/>
<rect x="449.17" y="146.72" width="11.63" height="13.93" fill="#ffa400"/>
<rect x="460.5" y="146.72" width="11.63" height="13.93" fill="#ffa400"/>
<rect x="471.83" y="146.72" width="11.63" height="13.93" fill="#ffc03c"/>
<rect x="415.18" y="160.35" width="11.63" height="13.93" fill="#ffc03c"/>
<rect x="426.51" y="160.35" width="11.63" height="13.93" fill="#ff6400"/>
<rect x="437.84" y="160.35" width="11.63" height="13.93" fill="#ffa400"/>
<rect x="449.17" y="160.35" width="11.63" height="13.93" fill="#ffa400"/>
<rect x="460.5" y="160.35" width="11.63" height="13.93" fill="#ffc03c"/>
<rect x="471.83" y="160.35" width="11.63" height="13.93" fill="#ffc03c"/>
<rect x="483.16" y="160.35" width="11.63" height="13.93" fill="#ffe070"/>
<rect x="494.49" y="160.35" width="11.63" height="13.93" fill="#ffe070"/>
<rect x="415.18" y="173.97" width="11.63" height="13.93" fill="#ffc03c"/>
<rect x="426.51" y="173.97" width="11.63" height="13.93" fill="#ff6400"/>
<rect x="437.84" y="173.97" width="11.63" height="13.93" fill="#ff6400"/>
<rect x="449.17" y="173.97" width="11.63" height="13.93" fill="#ffa400"/>
<rect x="460.5" y="173.97" width="11.63" height="13.93" fill="#ffc03c"/>
<rect x="471.83" y="173.97" width="11.63" height="13.93" fill="#ffc03c"/>
<rect x="483.16" y="173.97" width="11.63" height="13.93" fill="#ffe070"/>
<rect x="494.49" y="173.97" width="11.63" height="13.93" fill="#ffe070"/>
<rect x="505.82" y="173.97" width="11.63" height="13.93" fill="#ffe070"/>
<rect x="415.18" y="187.6" width="11.63" height="13.93" fill="#fff27a"/>
<rect x="426.51" y="187.6" width="11.63" height="13.93" fill="#ffa400"/>
<rect x="437.84" y="187.6" width="11.63" height="13.93" fill="#ff6400"/>
<rect x="449.17" y="187.6" width="11.63" height="13.93" fill="#ffa400"/>
<rect x="460.5" y="187.6" width="11.63" height="13.93" fill="#ffc03c"/>
<rect x="471.83" y="187.6" width="11.63" height="13.93" fill="#ffe070"/>
<rect x="483.16" y="187.6" width="11.63" height="13.93" fill="#ffc03c"/>
<rect x="494.49" y="187.6" width="11.63" height="13.93" fill="#ffe070"/>
<rect x="415.18" y="201.22" width="11.63" height="13.93" fill="#fff27a"/>
<rect x="426.51" y="201.22" width="11.63" height="13.93" fill="#ffe070"/>
<rect x="437.84" y="201.22" width="11.63" height="13.93" fill="#ffa400"/>
<rect x="449.17" y="201.22" width="11.63" height="13.93" fill="#ffa400"/>
<rect x="460.5" y="201.22" width="11.63" height="13.93" fill="#ffe070"/>
<rect x="483.16" y="201.22" width="11.63" height="13.93" fill="#fff27a"/>
<rect x="494.49" y="201.22" width="11.63" height="13.93" fill="#fff27a"/>
<rect x="426.51" y="214.85" width="11.63" height="13.93" fill="#fff27a"/>
<rect x="437.84" y="214.85" width="11.63" height="13.93" fill="#ffc03c"/>
<rect x="449.17" y="214.85" width="11.63" height="13.93" fill="#fff27a"/>
<rect x="460.5" y="214.85" width="11.63" height="13.93" fill="#fff27a"/>
<path d="M347.2 17.29V248.91M369.86 17.29V248.91M392.52 17.29V248.91M415.18 17.29V248.91M437.84 17.29V248.91M460.5 17.29V248.91M483.16 17.29V248.91M505.82 17.29V248.91M528.48 17.29V248.91" stroke="#a0a0a0" stroke-opacity="0.3" stroke-width="0.9" stroke-dasharray="1 2.56" fill="none"/>
<path d="M341.53 242.1H534.14M341.53 214.85H534.14M341.53 187.6H534.14M341.53 160.35H534.14M341.53 133.1H534.14M341.53 105.85H534.14M341.53 78.6H534.14M341.53 51.35H534.14M341.53 24.1H534.14" stroke="#d0d0d0" stroke-opacity="0.3" stroke-width="0.9" stroke-dasharray="1 2.56" fill="none"/>
<path d="M466.28 51.49L465.83 49.72L465.71 47.94L464.58 47.26L462.77 46.99L461.41 47.4L460.27 48.08L458.23 48.9L455.97 48.35L454.16 47.59L451.44 46.99L449.51 46.99L448.26 46.17L446.79 45.63L444.86 44.27L443.73 43.72L441.24 43.31L439.2 44.27L437.95 45.63L437.61 46.99L438.07 48.62L436.93 50.26L435.35 49.72L433.08 48.9L430.14 48.08L428.1 46.99L426.96 44.81L424.7 43.99L422.43 43.45L419.71 43.58L418.58 42.63L417.67 42.36L417.11 41.27L415.41 40.72L415.75 39.63L416.88 38.41L417.67 37.18L417.45 36.09L416.54 35.27L416.31 33.91L417.56 32.14L416.54 32.68L415.63 32.82L415.86 31.87L414.84 31.46L412.91 31.87L412.01 32.41L410.08 32.41L408.84 32.14L406.91 32.14L404.98 33.23L404.08 32.96L401.58 32.55L399.43 32.9L397.73 33.36L395.47 33.64L392.97 35L391.05 35.68L389.57 36.91L387.53 37.45L385.84 36.91L383.68 37.04L381.87 37.18L380.51 35.27L379.38 35.55L378.58 37.18L377.56 39.63L377.11 40.45L375.3 41.54L373.26 42.49L371.56 45.08L370.31 47.26L370.2 49.72L370.77 50.26L370.31 51.89L369.41 52.99L367.37 55.44L365.1 56.53L363.29 57.07L362.16 59.25L359.66 61.98L358.76 64.7L357.4 66.88L356.49 68.52L355.58 70.43L355.36 72.33L354.22 74.51L353.88 76.42L354.9 78.6L355.13 80.24L355.81 81.87L356.26 83.78L355.58 86.78L355.13 89.5L354.22 91.41L352.87 93.04L353.77 93.31L354.45 94.41L354.56 96.04L354.9 96.45L354.56 97.68L354.68 99.31L355.81 100.67L357.4 101.76L358.53 103.4L359.44 104.49L360.8 106.12L361.48 107.21L362.5 108.85L362.61 110.21L363.29 111.84L364.19 112.94L366.46 114.3L368.05 115.93L370.09 117.84L372.35 120.02L375.07 121.11L376.66 120.84L378.7 119.61L381.19 119.07L383.46 118.79L385.5 119.2L387.76 120.16L390.25 118.93L392.07 117.98L393.88 117.3L395.24 116.48L397.96 115.8L400.22 115.66L402.72 115.93L403.85 117.3L404.98 118.93L406.12 121.38L408.38 121.11L411.33 120.56L412.23 120.84L412.91 122.2L414.5 122.75L414.95 125.2L414.73 128.2L414.05 130.38L413.93 132.01L413.59 133.92L412.23 134.74L413.59 138L415.18 140.73L417.67 143.73L419.37 146.18L420.39 149.45L421.75 153.54L422.43 157.08L423.34 162.26L423.79 163.07L423.11 166.75L422.88 167.44L421.07 169.89L420.05 174.52L419.26 178.34L419.15 180.11L420.84 184.88L423.11 190.05L425.15 193.87L425.38 195.64L425.6 199.86L426.85 205.72L427.87 208.31L429.8 211.03L431.72 216.21L433.53 220.03L433.08 223.03L434.21 225.48L434.44 226.7L435.12 226.02L436.25 227.38L437.84 228.01L440.11 226.84L442.6 226.3L445.54 225.89L448.72 226.3L450.53 225.61L453.25 224.66L455.74 223.03L459.37 219.21L461.18 217.3L462.77 214.44L465.71 210.76L467.07 206.13L466.39 203.87L468.66 201.77L471.83 199.86L472.96 197.95L472.74 193.59L471.83 188.96L471.49 187.05L474.78 184.33L476.14 181.88L479.76 179.15L483.16 177.25L484.75 173.7L484.29 168.53L484.29 161.71L483.39 161.17L481.57 154.9L481.57 151.63L480.44 149.45L481.12 147L482.48 144.14L483.39 141.82L485.2 139.37L486.79 137.46L488.82 134.05L491.09 130.92L495.28 127.51L499.02 122.2L502.42 118.66L504.69 112.66L505.37 111.3L507.63 105.85L508.99 104.76L508.65 100.81L506.95 100.67L504.01 102.31L500.15 102.85L494.49 104.62L492.22 104.76L490.86 102.31L490.3 101.49L489.5 100.94L490.64 99.04L489.28 97.68L486.79 96.04L484.97 93.59L482.93 90.86L481.91 90.59L480.67 87.87L479.76 84.05L477.27 81.6L476.82 79.69L476.59 75.88L476.14 73.15L473.19 70.43L472.96 67.97L470.7 63.61L469.11 58.98L467.75 56.8L466.39 51.62L466.28 51.49M466.28 51.49L467.3 54.08L468.43 55.98L470.13 57.48L470.7 55.71L471.6 52.71L471.83 52.58L471.6 56.53L473.42 58.57L475.23 61.71L476.82 64.84L478.74 67.43L481.23 74.51L484.29 79.15L486.11 82.69L488.94 87.05L489.28 90.32L489.84 92.77L490.52 96.86L490.98 98.63L492.22 98.76L494.49 98.22L497.89 96.59L501.29 94.95L503.78 93.59L506.95 92.22L510.81 90.59L510.81 88.14L513.75 87.32L515.11 86.78L517.83 84.59L520.78 83.78L523.27 81.6L523.49 78.06L525.31 76.97L527.35 73.69L528.03 71.79L526.21 70.43L525.31 68.79L521.68 67.43L521 66.61L520.21 64.43L520.32 62.25L519.87 61.43L519.42 63.34L517.83 64.29L515.79 66.34L513.75 67.43L511.71 67.16L509.45 66.88L508.54 66.06L509.45 64.16L509.22 61.98L508.31 61.98L507.63 65.66L506.95 63.61L506.05 62.52L506.27 61.02L504.91 58.98L503.1 57.34L502.19 55.44L501.06 52.99L502.42 51.62L503.55 50.53L506.27 51.35L507.63 54.21L509.22 57.07L511.71 58.44L516.02 60.62L518.28 60.07L520.1 59.12L521.68 60.07L522.36 62.52L523.49 63.2L526.21 63.89L529.84 64.16L532.11 64.7L535.28 64.43M465.71 47.94L467.3 48.35L469.11 48.22L470.02 47.81L471.26 45.76L471.83 43.72L472.28 42.63L472.96 40.72L473.64 38.81L473.64 36.36L473.98 35.27L474.44 33.36L472.74 33.36L470.92 32.82L469.11 34.45L466.84 34.86L465.03 33.5L464.58 33.36L462.09 32.68L461.41 34.45L459.59 34.45L458.46 33.36L456.42 33.09L454.61 32.28L454.83 31.19L454.16 30.1L452.12 28.73L453.48 28.19L453.93 28.46L453.25 27.37L453.02 25.74L451.66 25.46L451.89 23.96L453.02 22.87L454.83 23.01L456.65 23.01L458.23 23.01L460.27 22.06L458.23 21.38L456.42 21.38L454.61 21.51L453.02 22.46L451.44 21.92L449.62 21.51L447.81 21.65L446.68 22.19L446.22 23.28L445.32 23.55L444.41 22.46L443.73 23.28L443.73 24.37L445.09 25.74L444.41 26.83L446 28.19L446.9 30.5L445.09 29.55L444.18 30.64L445.09 33.91L443.5 33.91L442.83 32.28L442.15 32.82L441.47 30.64L440.79 29.82L441.47 28.73L443.05 29L441.24 28.46L440.11 28.73L439.43 27.1L438.52 26.01L437.84 24.92L436.59 22.87L436.59 20.56L436.71 19.2L436.25 18.92L434.89 17.56L433.76 17.01M455.74 17.01L455.97 18.65L456.19 19.74L458.01 20.69L458.46 20.97L460.5 20.83L462.77 21.1L466.16 19.2L468.43 18.65L472.06 18.65L474.1 19.47L474.78 20.56L477.5 21.1L479.76 21.65L482.48 21.38L484.29 21.38L486.56 20.01L486.79 17.01M372.13 17.01L372.47 18.92L372.92 20.97L372.58 23.55L371.22 25.74L370.99 27.64L372.35 28.19L372.58 29.82L372.13 32.28L374.62 32.28L375.75 31.73L378.24 33.64L379.83 35L380.4 34.73L382.55 33.09L386.63 33.09L387.53 33.04L388.89 31.73L390.25 30.64L390.93 29L392.97 27.51L391.84 25.6L392.52 24.1L393.65 22.74L394.56 21.65L395.35 21.1L397.51 20.29L399.77 18.92L399.77 17.56L399.54 17.01M416.99 17.01L417.67 17.56L419.26 18.65L420.17 19.33L421.98 20.69L423.56 20.83L424.81 21.92L426.06 22.46L426.51 23.55L428.1 24.1L428.78 25.74L429.23 27.1L427.98 29.55L429 29.55L430.14 28.32L431.38 26.83L431.27 25.74L429.91 24.92L431.5 22.87L433.31 23.55L434.1 24.65L434.44 23.69L433.19 22.33L430.82 21.1L428.55 20.01L429.23 18.92L426.96 18.79L425.38 17.83L424.7 17.01M420.62 30.1L422.77 29.28L425.38 29.41L427.76 28.87L426.74 30.91L426.74 33.09L425.38 32.82L423.11 31.73L421.52 30.78L420.62 30.1M411.55 26.83L411.78 24.1L411.1 22.46L411.33 21.38L413.37 20.69L414.5 21.65L414.5 24.1L414.27 26.28L412.91 26.28L412.01 27.1L411.55 26.83M412.01 18.92L412.46 19.74L413.37 20.29L414.05 18.38L414.05 16.47L413.59 15.93L412.01 17.29L412.01 18.92M445.77 36.91L446 36.09L447.58 36.77L449.17 36.64L450.76 36.91L452.12 36.91L451.66 37.73L449.17 37.86L446.9 37.18L445.77 36.91M465.71 38L466.84 38.81L468.66 38.27L469.56 37.73L470.92 35.82L469.34 36.91L467.3 36.77L465.71 37.45L465.71 38M397.85 25.33L398.64 24.24L399.77 24.37L400.34 24.92L399.77 25.87L398.75 25.74L397.85 25.33M504.23 165.8L505.59 169.34L506.27 172.61L506.95 175.34L505.37 176.7L504.69 179.43L504.46 182.56L503.33 186.24L502.42 188.96L501.06 194.41L500.38 197.14L499.02 201.22L497.21 201.77L494.94 202.59L492.9 201.5L491.43 196.73L490.86 192.37L492.9 188.42L493.13 185.97L492.22 182.29L492.68 179.43L493.13 177.25L495.62 176.43L497.44 175.88L499.48 173.97L500.15 173.16L501.29 169.89L503.33 167.16L504.23 165.8M500.38 17.01L502.65 19.2L503.78 20.56L504.69 22.74L506.5 23.01L504.69 23.55L504.23 25.46L503.55 26.83L503.21 28.46L503.78 30.64L506.27 32.28L509.22 32.82L512.62 32.68L514.66 32.55L514.66 31.19L514.43 27.1L512.84 26.01L513.75 24.92L512.62 24.1L512.16 21.38L511.49 19.2L512.16 17.01M464.58 133.92L465.71 132.28L467.75 132.01L469.79 133.1L471.38 134.19L469.56 135.55L469.34 138L468.43 139.64L466.16 140.19L464.58 138.55L464.35 135.83L464.58 133.92M458.69 142.09L459.14 145.36L459.59 149.45L461.41 152.18L462.31 155.72L463.22 156.53L461.86 152.18L460.5 149.45L460.05 145.36L458.91 142.09M470.24 158.99L469.56 161.71L470.47 165.8L470.47 169.89L471.6 172.34L472.51 171.8L471.15 165.8L470.92 161.71L470.24 158.99M457.1 156.26L458.46 158.44L458.23 155.99L457.1 156.26M452.57 179.43L455.97 177.25L458.01 178.34L455.06 181.06L452.57 179.43M392.07 115.93L392.75 114.03L391.84 110.75L389.8 109.94L391.16 113.48L392.07 115.93M422.43 97.68L423.34 95.77L425.15 96.31L425.6 97.95L424.24 98.76L422.43 97.68M474.1 120.84L474.55 123.56L475.23 126.29L473.87 124.38L474.1 120.84M461.63 130.1L463.67 127.1L462.77 129.83L461.63 130.1M458.91 137.46L458.69 139.09L458.23 139.64L458.91 137.46M476.36 100.4L477.72 99.86L477.5 101.49L476.36 100.4M459.59 133.37L460.27 134.74L459.37 134.74L459.59 133.37M466.39 69.61L467.07 73.15L463.45 73.69L466.39 69.61M388.55 37.45L388.67 40.45L388.67 44.54L384.36 46.99L384.14 48.9L380.06 51.62L375.52 52.99L372.87 54.89L372.87 57.7M372.87 57.7L362.61 57.7M372.87 57.7L372.87 62.25L365.33 62.25L365.33 69.2L362.84 71.11L363.06 74.98L354 74.98M372.87 58.71L381.58 64.97M381.58 64.97L377.79 65.11L380.06 88.68L380.51 90.86L372.13 90.86L366.91 91.14L366.23 90.59L364.87 93.04M364.87 93.04L363.06 90.86L360.8 87.87L358.53 87.87L355.13 89.23M381.58 64.97L395.24 75.88L399.77 79.15L402.15 80.92M402.15 80.92L405.66 80.1L409.51 76.15L419.69 69.06M419.69 69.06L415.63 65.52L414.05 61.16L414.95 59.53L414.73 52.99L414.05 50.81M414.05 50.81L411.33 44.54L411.33 38.81L411.55 32.55M414.05 50.81L415.86 47.26L418.58 42.71M419.69 69.06L426.51 70.43L446.9 79.96L446.9 78.6L449.17 78.6L449.17 73.15M449.17 73.15L449.17 52.71L449.51 46.99M449.17 73.15L476.14 73.15M470.02 47.81L471.6 52.71M402.15 80.92L402.04 88.41L400.45 91.41L394.79 92.22L392.97 92.5M380.06 104.76L380.28 100.94L382.55 98.49L383.46 96.31L387.99 93.59L392.97 92.5M392.97 92.5L393.65 95.5L394.79 97.68L397.51 98.76L397.96 100.67M397.96 100.67L400.68 101.22L401.81 96.31L406.12 96.04L408.38 97.68L412.91 98.22L416.31 96.86L420.84 97.4L423.34 95.77M423.34 95.77L427.64 87.05L428.1 78.87L426.51 70.43M446.9 79.96L446.9 90.32L443.5 94.95L442.37 98.22L444.18 102.03L444.41 103.4M427.64 112.66L432.17 111.3L434.44 108.85L437.84 108.3L441.69 104.49L444.41 103.4M424.47 97.4L425.38 99.04L426.51 103.12L426.51 105.85L424.24 107.21L427.64 112.66M420.84 97.4L423.11 105.85L420.17 109.94L418.81 114.57L416.54 114.03L414.73 116.75L412.01 120.56M398.64 115.66L398.64 111.84L398.86 108.58L400.68 104.76L400.68 101.22M396.15 116.2L396.15 108.58L395.69 107.21L394.56 103.12M395.24 116.48L393.88 114.3L393.65 111.3L393.43 105.85L392.52 103.12M385.5 119.2L386.18 114.03L386.86 111.3L386.18 106.94L386.18 103.12L392.52 103.12L394.56 103.12L397.96 100.67M375.52 121.11L373.49 115.39L373.94 112.66L374.39 109.94L374.85 105.85L378.47 105.03L380.06 104.76L383.46 106.12L386.18 106.94M366.46 114.3L367.59 111.3L369.18 109.94L368.73 107.76L367.14 105.85L364.19 106.12L362.5 108.85M373.94 112.66L370.99 112.66L369.18 109.94M367.14 105.85L368.27 103.12L366.91 99.31L361.48 98.76L358.53 98.49L354.68 99.31M366.91 99.31L364.87 93.04M358.53 103.4L360.8 101.49L361.48 98.76M354.56 96.04L357.4 96.04L359.89 96.86L361.25 96.31L358.3 95.5L354.9 96.45M374.39 109.94L373.49 105.85L373.71 101.76L372.13 99.86L366.91 99.31M380.06 104.76L380.51 103.12L381.64 106.4M445.77 104.49L449.17 104.76L453.7 106.94L459.59 106.67L462.31 106.67L465.71 101.76L467.07 99.86L467.98 104.76L469.79 107.21M475.23 94.13L472.51 97.68L469.79 104.49L469.79 107.21L469.79 110.21L467.3 111.84L468.43 116.75L471.83 119.47L473.87 120.56M475.23 94.13L477.04 92.77L478.85 85.41L479.99 84.05M475.23 94.13L479.76 93.59L483.16 93.59L485.43 95.5L488.37 99.04L489.5 100.94M489.5 100.94L489.5 103.12L490.41 103.12M489.5 103.12L491.32 107.76L492.22 108.58L501.29 111.3L494.49 119.75L492.22 119.75L487.69 122.2L487.47 122.47M485.43 137.73L485.43 125.47L487.47 122.47M473.87 120.56L476.36 121.11L478.85 123.29L482.25 123.84L484.97 121.66L487.47 122.47M469.34 121.66L470.47 120.56L473.87 120.56M469.34 121.66L471.6 128.47L469.56 131.47L469.56 135.83M469.56 135.83L477.72 141.28L477.95 142.91L481.35 145.91M459.59 136.91L462.09 135.83L464.13 135.83L469.56 135.83M462.31 123.56L464.58 122.75L469.34 121.66M454.61 119.47L456.87 121.38L459.59 120.56L462.31 123.56M444.41 103.4L445.77 104.49L446.9 109.66L449.85 112.66L454.61 119.47M427.64 112.66L425.6 116.2L425.38 120.84L427.64 126.29L429.23 127.1L428.78 127.92M428.78 127.92L424.24 127.1L422.66 127.1L418.13 127.1L414.73 127.1M418.13 127.1L418.13 130.38L414.05 130.38M418.13 130.38L424.24 129.28L425.38 133.65L424.02 137.19L424.92 139.64L422.2 139.37L419.71 140.19L417.67 143.73M428.78 127.92L432.4 123.29L434.67 123.56L436.71 118.93L441.24 121.38L443.5 121.66L448.04 119.47L450.3 118.66L454.61 119.47M428.78 127.92L432.4 134.46L429.23 139.09L427.19 144.82L424.24 145.36L420.17 148.91M419.71 146.72L420.84 146.72L421.98 145.91M420.39 149.45L421.98 149.18L429.68 149.45L432.17 154.9L436.48 154.63L441.92 152.99L442.37 163.07L446.9 163.07L450.08 163.89L451.44 162.53L454.16 164.71L457.1 168.25L460.05 169.62L459.37 166.07L457.1 163.07L457.33 156.26L462.31 155.72M442.37 163.07L446.9 164.44L446.9 168.53L442.37 168.53L442.37 177.52L445.32 181.06M419.15 180.11L421.98 179.43L424.7 180.51L434.44 180.51L439.88 181.88L445.32 181.06L449.62 181.6M440.11 182.97L440.11 193.05L437.84 193.05L437.84 200.68L437.84 210.49L435.57 211.58L432.17 211.31L429.8 211.03M437.84 200.68L439.65 206.13L443.73 203.95L445.77 202.59L449.17 203.13L451.44 200.41L453.7 198.5L457.1 194.41L459.14 193.59M449.62 181.6L451.44 184.88L454.38 188.96L455.97 191.69L459.14 193.59M459.14 193.59L463.45 194.14M463.45 194.14L465.94 191.14L467.07 186.78L466.62 183.51L467.3 179.43L467.07 178.61L461.41 175.61M449.62 181.6L453.7 181.6L455.97 178.06L459.37 176.16L461.41 175.61M461.41 175.61L460.95 173.7L467.75 171.25L466.62 168.53L467.98 163.07L467.75 159.26L467.07 158.72L463.22 156.53M467.75 171.25L470.7 172.61L472.51 177.25L472.06 179.43L472.51 179.7L473.87 177.79L473.64 173.97L472.06 169.89L471.6 164.44M467.07 158.72L469.56 158.99L470.24 158.99M471.6 164.44L475.23 164.98L478.63 163.89L480.89 163.62L484.07 161.71M463.45 194.14L465.03 199.86L465.03 203.68L467.07 206.27M464.81 203.68L463.45 203.13L462.31 204.77L462.99 207.22L464.81 207.49L464.81 203.68M453.7 213.76L455.74 211.85L457.55 211.03L459.14 212.94L458.46 214.85L456.19 216.48L454.61 215.67L453.7 213.76M459.59 136.91L458.23 140.73L459.14 141L461.41 139.37L462.31 135.83M458.23 140.73L458.69 142.09M461.41 139.37L461.86 142.37L460.5 144.82L459.14 145.36M462.31 123.56L463.22 126.83L461.63 129.83L460.27 133.1L459.59 136.91M469.34 121.66L468.43 122.75L465.03 123.29L462.31 123.56M471.83 52.71L475.23 53.26L476.36 47.26L480.89 45.35L481.57 45.08M472.96 42.9L473.64 43.99L473.19 46.45L471.83 52.71M474.1 43.17L473.64 43.99M472.96 42.9L473.87 41.81L475.46 39.9L474.1 38.81L473.64 38.54M473.87 35.27L475.68 32.82L478.63 32.82L483.16 32.55L486.11 32L488.6 32M480.44 42.09L485.43 39.36L485.88 33.91L488.6 32M481.57 45.08L480.89 45.9L487.69 48.35L493.81 53.53L497.89 53.8L500.15 54.08L500.61 55.44L502.19 55.44M497.89 53.8L501.06 52.99L501.29 51.35L500.61 48.62L501.06 45.9L496.98 43.17L495.4 40.45L496.53 37.73L495.4 35.27L494.04 31.73L492.9 31.46L493.58 29.55L492.9 25.74L494.04 24.92M488.6 32L492.9 31.46M475.46 39.9L480.44 42.09L481.57 45.08M494.04 24.92L491.32 23.83L491.32 21.1L494.49 20.56L497.89 21.1L498.12 19.2L496.76 18.65L494.49 17.29L491.09 17.01M494.04 24.92L496.3 25.74L497.89 26.83L499.02 26.28L501.29 25.19L501.97 27.1L503.21 28.46M491.32 21.1L488.82 20.29L486.56 20.01M514.66 31.19L518.06 29.55L522.36 29.55L526.21 30.64L529.16 32.28L531.2 33.36L531.2 36.91L529.61 39.9L530.52 41.81L529.84 43.17L530.52 47.26L532.33 47.54L532.56 49.17L530.52 51.62L532.79 55.44L535.28 59.53M532.11 64.7L532.56 61.71L535.28 60.62M476.14 73.15L474.55 72.33L473.19 70.43M479.99 84.05L477.5 81.87M488.94 87.05L491.09 85.41L496.76 85.96L499.02 87.05L502.87 83.5L510.35 81.33L512.84 87.87M510.35 81.33L517.15 78.6L518.51 73.15L517.6 71.24L511.71 70.7L509.45 66.88M518.51 73.15L519.42 67.7L520.32 65.25M500.61 55.44L502.19 55.44M452.8 20.56L452.12 21.65M452.8 20.56L453.48 19.47L455.74 18.65M452.8 20.56L450.98 20.56L447.13 19.74L444.18 20.56L440.11 21.65L439.43 23.83L437.84 24.92M438.97 20.56L439.2 18.92L437.84 17.29M436.25 18.92L436.93 17.01M444.18 20.56L444.64 18.65L443.28 17.01M357.62 56.8L356.72 57.34L357.17 56.26L357.62 56.8M355.58 55.71L354.22 56.53L354.9 55.71L355.58 55.71M361.93 54.08L361.25 54.35L362.16 53.53L361.93 54.08M360.8 54.89L360.12 56.53L361.02 55.71L360.8 54.89M353.54 43.72L354.68 43.99L354 44.13L353.54 43.72M338.82 91.95L339.27 92.5L338.82 91.68M337.23 87.87L338.14 87.87M340.63 87.59L340.63 87.87M340.86 89.23L340.63 89.5M359.89 154.63L360.12 154.9M379.6 176.43L379.49 176.7M364.65 234.2L364.87 234.2M370.09 242.92L369.97 243.05M411.78 123.02L412.69 123.56L412.23 124.38L411.78 123.02M407.25 132.28L407.7 132.56M409.29 128.74L409.4 128.47M490.64 164.16L491.09 165.53M493.13 166.07L493.36 166.62M494.72 167.98L494.94 168.25M491.54 166.62L491.77 166.89M517.83 190.05L518.74 190.32L518.51 191.14L517.83 190.05M522.82 187.6L523.49 188.42L522.82 188.96L522.82 187.6M518.06 145.64L518.28 145.91M481.35 148.63L481.8 150.27M482.48 146.72L482.71 147.81M482.25 154.35L482.93 154.9M513.3 98.49L516.02 99.04L514.43 99.58L513.3 98.49M506.95 61.71L507.18 62.8M424.92 34.86L425.38 35.27M395.24 27.1L396.15 26.55M401.13 24.37L402.26 24.1M455.51 34.73L456.42 33.91L455.74 34.45M453.25 30.64L452.8 30.37M451.44 28.46L451.66 29M452.12 26.83L452.8 26.01M445.54 27.1L448.04 29L447.13 27.91M439.2 29L439.65 28.19M437.16 24.65L437.84 25.46M450.08 32L450.3 32.28M449.62 33.91L450.08 33.91M451.44 26.28L452.12 25.74L452.8 26.28L452.12 26.83L451.44 26.28M451.21 28.46L451.55 27.91L451.89 28.46L451.55 29L451.21 28.46M452.8 30.3L453.36 30.1L453.93 30.3L453.36 30.5L452.8 30.3M451.44 30.57L451.89 30.37L452.34 30.57L451.89 30.78L451.44 30.57M449.96 32.07L450.25 31.73L450.53 32.07L450.25 32.41L449.96 32.07M449.4 32.07L449.62 31.87L449.85 32.07L449.62 32.28L449.4 32.07M448.49 29.89L448.83 29.55L449.17 29.89L448.83 30.23L448.49 29.89M449.17 30.71L449.45 30.5L449.74 30.71L449.45 30.91L449.17 30.71M449.85 31.05L450.02 30.91L450.19 31.05L450.02 31.19L449.85 31.05M448.83 31.08L448.98 30.91L449.12 31.08L448.98 31.24L448.83 31.08M447.54 30.57L447.67 30.37L447.81 30.57L447.67 30.78L447.54 30.57M447.7 33.02L447.92 32.82L448.15 33.02L447.92 33.23L447.7 33.02M449.96 33.87L450.13 33.69L450.3 33.87L450.13 34.05L449.96 33.87M453.59 32.75L454.04 32.55L454.5 32.75L454.04 32.96L453.59 32.75M455.29 34.52L455.91 33.77L456.53 34.52L455.91 35.27L455.29 34.52M453.93 36.09L454.1 35.55L454.27 36.09L454.1 36.64L453.93 36.09M449.28 24.37L449.74 24.1L450.19 24.37L449.74 24.65L449.28 24.37M448.04 22.26L448.38 21.92L448.72 22.26L448.38 22.6L448.04 22.26M450.19 22.85L450.42 22.74L450.64 22.85L450.42 22.96L450.19 22.85M447.81 27.17L448.04 26.96L448.26 27.17L448.04 27.37L447.81 27.17M437.05 25.19L437.56 24.65L438.07 25.19L437.56 25.74L437.05 25.19M438.63 28.8L439.14 28.19L439.65 28.8L439.14 29.41L438.63 28.8M439.2 30.1L439.6 29.69L439.99 30.1L439.6 30.5L439.2 30.1M444.41 34.25L444.64 33.91L444.86 34.25L444.64 34.59L444.41 34.25M445.54 31.53L445.71 31.32L445.88 31.53L445.71 31.73L445.54 31.53M444.64 30.44L444.86 30.23L445.09 30.44L444.86 30.64L444.64 30.44M448.94 33.16L449.17 32.96L449.4 33.16L449.17 33.36L448.94 33.16M451.89 31.46L452.06 31.32L452.23 31.46L452.06 31.59L451.89 31.46M453.36 31.87L453.53 31.73L453.7 31.87L453.53 32L453.36 31.87M452.57 28.05L452.68 27.91L452.8 28.05L452.68 28.19L452.57 28.05M450.42 34.45L450.7 34.18L450.98 34.45L450.7 34.73L450.42 34.45M452.12 36.7L452.29 36.5L452.46 36.7L452.29 36.91L452.12 36.7M446.79 26.76L447.02 26.55L447.24 26.76L447.02 26.96L446.79 26.76M446 26.42L446.17 26.28L446.34 26.42L446.17 26.55L446 26.42M443.5 24.17L443.73 23.96L443.96 24.17L443.73 24.37L443.5 24.17M444.18 26.96L445.32 27.51L446.22 28.19L447.13 29L448.15 29.55L447.81 28.87L447.13 27.91L445.77 26.96L444.64 26.69L444.18 26.96M441.92 28.6L443.28 29.14L444.64 29.69L443.5 28.87L442.15 28.46M440.79 29.82L440.33 30.23L441.47 31.19L441.69 32.41L442.26 32.96L442.83 32.55L443.28 33.77L443.73 32.82L444.07 33.64L444.75 33.77L444.52 32L444.07 30.78L445.09 30.64L445.54 31.19L444.86 29.69" stroke="#000" stroke-width="0.9" fill="none" stroke-linejoin="round"/>
<g fill="#111"><circle cx="359.89" cy="154.76" r="0.75"/><circle cx="379.6" cy="176.56" r="0.75"/><circle cx="364.65" cy="234.2" r="0.75"/><circle cx="370.09" cy="242.92" r="0.75"/><circle cx="518.28" cy="145.64" r="0.75"/><circle cx="519.42" cy="160.35" r="0.75"/><circle cx="497.21" cy="158.72" r="0.75"/><circle cx="523.04" cy="188.15" r="0.75"/><circle cx="518.28" cy="190.6" r="0.75"/><circle cx="536.18" cy="186.78" r="0.75"/><circle cx="492.22" cy="166.34" r="0.75"/><circle cx="490.64" cy="164.71" r="0.75"/><circle cx="494.72" cy="167.98" r="0.75"/><circle cx="361.02" cy="54.35" r="0.75"/><circle cx="340.63" cy="89.23" r="0.75"/><circle cx="337.46" cy="92.5" r="0.75"/><circle cx="335.87" cy="86.78" r="0.75"/><circle cx="409.29" cy="128.74" r="0.75"/><circle cx="407.48" cy="132.56" r="0.75"/><circle cx="405.21" cy="136.91" r="0.75"/></g>
</g>
<rect x="341.53" y="17.29" width="192.61" height="231.62" fill="none" stroke="#222" stroke-width="1.1"/>
<path d="M347.2 248.91V250.91M369.86 248.91V250.91M392.52 248.91V250.91M415.18 248.91V250.91M437.84 248.91V250.91M460.5 248.91V250.91M483.16 248.91V250.91M505.82 248.91V250.91M528.48 248.91V250.91M341.53 242.1H339.53M341.53 214.85H339.53M341.53 187.6H339.53M341.53 160.35H339.53M341.53 133.1H339.53M341.53 105.85H339.53M341.53 78.6H339.53M341.53 51.35H339.53M341.53 24.1H339.53" stroke="#222" stroke-width="1" fill="none"/>
<path d="M362.34 15.44L366.05 19.14M362.34 19.14L366.05 15.44M373.67 15.44L377.38 19.14M373.67 19.14L377.38 15.44M385 15.44L388.71 19.14M385 19.14L388.71 15.44M396.33 15.44L400.04 19.14M396.33 19.14L400.04 15.44M407.66 15.44L411.37 19.14M407.66 19.14L411.37 15.44M418.99 15.44L422.69 19.14M418.99 19.14L422.69 15.44M452.98 15.44L456.69 19.14M452.98 19.14L456.69 15.44M464.31 15.44L468.01 19.14M464.31 19.14L468.01 15.44M475.64 15.44L479.35 19.14M475.64 19.14L479.35 15.44M486.97 15.44L490.68 19.14M486.97 19.14L490.68 15.44M498.3 15.44L502 19.14M498.3 19.14L502 15.44M509.63 15.44L513.34 19.14M509.63 19.14L513.34 15.44M520.97 15.44L524.67 19.14M520.97 19.14L524.67 15.44M532.29 15.44L536 19.14M532.29 19.14L536 15.44M362.34 29.06L366.05 32.76M362.34 32.76L366.05 29.06M373.67 29.06L377.38 32.76M373.67 32.76L377.38 29.06M385 29.06L388.71 32.76M385 32.76L388.71 29.06M396.33 29.06L400.04 32.76M396.33 32.76L400.04 29.06M407.66 29.06L411.37 32.76M407.66 32.76L411.37 29.06M418.99 29.06L422.69 32.76M418.99 32.76L422.69 29.06M430.32 29.06L434.02 32.76M430.32 32.76L434.02 29.06M452.98 29.06L456.69 32.76M452.98 32.76L456.69 29.06M464.31 29.06L468.01 32.76M464.31 32.76L468.01 29.06M475.64 29.06L479.35 32.76M475.64 32.76L479.35 29.06M486.97 29.06L490.68 32.76M486.97 32.76L490.68 29.06M498.3 29.06L502 32.76M498.3 32.76L502 29.06M509.63 29.06L513.34 32.76M509.63 32.76L513.34 29.06M520.97 29.06L524.67 32.76M520.97 32.76L524.67 29.06M532.29 29.06L536 32.76M532.29 32.76L536 29.06M362.34 42.69L366.05 46.39M362.34 46.39L366.05 42.69M373.67 42.69L377.38 46.39M373.67 46.39L377.38 42.69M385 42.69L388.71 46.39M385 46.39L388.71 42.69M396.33 42.69L400.04 46.39M396.33 46.39L400.04 42.69M407.66 42.69L411.37 46.39M407.66 46.39L411.37 42.69M418.99 42.69L422.69 46.39M418.99 46.39L422.69 42.69M430.32 42.69L434.02 46.39M430.32 46.39L434.02 42.69M441.65 42.69L445.36 46.39M441.65 46.39L445.36 42.69M452.98 42.69L456.69 46.39M452.98 46.39L456.69 42.69M464.31 42.69L468.01 46.39M464.31 46.39L468.01 42.69M475.64 42.69L479.35 46.39M475.64 46.39L479.35 42.69M486.97 42.69L490.68 46.39M486.97 46.39L490.68 42.69M498.3 42.69L502 46.39M498.3 46.39L502 42.69M509.63 42.69L513.34 46.39M509.63 46.39L513.34 42.69M520.97 42.69L524.67 46.39M520.97 46.39L524.67 42.69M532.29 42.69L536 46.39M532.29 46.39L536 42.69M351.01 56.31L354.72 60.01M351.01 60.01L354.72 56.31M362.34 56.31L366.05 60.01M362.34 60.01L366.05 56.31M373.67 56.31L377.38 60.01M373.67 60.01L377.38 56.31M385 56.31L388.71 60.01M385 60.01L388.71 56.31M396.33 56.31L400.04 60.01M396.33 60.01L400.04 56.31M407.66 56.31L411.37 60.01M407.66 60.01L411.37 56.31M430.32 56.31L434.02 60.01M430.32 60.01L434.02 56.31M441.65 56.31L445.36 60.01M441.65 60.01L445.36 56.31M452.98 56.31L456.69 60.01M452.98 60.01L456.69 56.31M464.31 56.31L468.01 60.01M464.31 60.01L468.01 56.31M475.64 56.31L479.35 60.01M475.64 60.01L479.35 56.31M486.97 56.31L490.68 60.01M486.97 60.01L490.68 56.31M498.3 56.31L502 60.01M498.3 60.01L502 56.31M509.63 56.31L513.34 60.01M509.63 60.01L513.34 56.31M520.97 56.31L524.67 60.01M520.97 60.01L524.67 56.31M532.29 56.31L536 60.01M532.29 60.01L536 56.31M351.01 69.94L354.72 73.64M351.01 73.64L354.72 69.94M362.34 69.94L366.05 73.64M362.34 73.64L366.05 69.94M373.67 69.94L377.38 73.64M373.67 73.64L377.38 69.94M385 69.94L388.71 73.64M385 73.64L388.71 69.94M396.33 69.94L400.04 73.64M396.33 73.64L400.04 69.94M407.66 69.94L411.37 73.64M407.66 73.64L411.37 69.94M418.99 69.94L422.69 73.64M418.99 73.64L422.69 69.94M430.32 69.94L434.02 73.64M430.32 73.64L434.02 69.94M441.65 69.94L445.36 73.64M441.65 73.64L445.36 69.94M452.98 69.94L456.69 73.64M452.98 73.64L456.69 69.94M464.31 69.94L468.01 73.64M464.31 73.64L468.01 69.94M475.64 69.94L479.35 73.64M475.64 73.64L479.35 69.94M486.97 69.94L490.68 73.64M486.97 73.64L490.68 69.94M498.3 69.94L502 73.64M498.3 73.64L502 69.94M509.63 69.94L513.34 73.64M509.63 73.64L513.34 69.94M520.97 69.94L524.67 73.64M520.97 73.64L524.67 69.94M532.29 69.94L536 73.64M532.29 73.64L536 69.94M351.01 83.56L354.72 87.26M351.01 87.26L354.72 83.56M362.34 83.56L366.05 87.26M362.34 87.26L366.05 83.56M373.67 83.56L377.38 87.26M373.67 87.26L377.38 83.56M385 83.56L388.71 87.26M385 87.26L388.71 83.56M396.33 83.56L400.04 87.26M396.33 87.26L400.04 83.56M407.66 83.56L411.37 87.26M407.66 87.26L411.37 83.56M418.99 83.56L422.69 87.26M418.99 87.26L422.69 83.56M430.32 83.56L434.02 87.26M430.32 87.26L434.02 83.56M441.65 83.56L445.36 87.26M441.65 87.26L445.36 83.56M452.98 83.56L456.69 87.26M452.98 87.26L456.69 83.56M464.31 83.56L468.01 87.26M464.31 87.26L468.01 83.56M475.64 83.56L479.35 87.26M475.64 87.26L479.35 83.56M486.97 83.56L490.68 87.26M486.97 87.26L490.68 83.56M498.3 83.56L502 87.26M498.3 87.26L502 83.56M509.63 83.56L513.34 87.26M509.63 87.26L513.34 83.56M520.97 83.56L524.67 87.26M520.97 87.26L524.67 83.56M351.01 97.19L354.72 100.89M351.01 100.89L354.72 97.19M362.34 97.19L366.05 100.89M362.34 100.89L366.05 97.19M373.67 97.19L377.38 100.89M373.67 100.89L377.38 97.19M385 97.19L388.71 100.89M385 100.89L388.71 97.19M396.33 97.19L400.04 100.89M396.33 100.89L400.04 97.19M407.66 97.19L411.37 100.89M407.66 100.89L411.37 97.19M418.99 97.19L422.69 100.89M418.99 100.89L422.69 97.19M430.32 97.19L434.02 100.89M430.32 100.89L434.02 97.19M441.65 97.19L445.36 100.89M441.65 100.89L445.36 97.19M452.98 97.19L456.69 100.89M452.98 100.89L456.69 97.19M464.31 97.19L468.01 100.89M464.31 100.89L468.01 97.19M475.64 97.19L479.35 100.89M475.64 100.89L479.35 97.19M486.97 97.19L490.68 100.89M486.97 100.89L490.68 97.19M498.3 97.19L502 100.89M498.3 100.89L502 97.19M351.01 110.81L354.72 114.51M351.01 114.51L354.72 110.81M362.34 110.81L366.05 114.51M362.34 114.51L366.05 110.81M373.67 110.81L377.38 114.51M373.67 114.51L377.38 110.81M385 110.81L388.71 114.51M385 114.51L388.71 110.81M396.33 110.81L400.04 114.51M396.33 114.51L400.04 110.81M407.66 110.81L411.37 114.51M407.66 114.51L411.37 110.81M418.99 110.81L422.69 114.51M418.99 114.51L422.69 110.81M430.32 110.81L434.02 114.51M430.32 114.51L434.02 110.81M441.65 110.81L445.36 114.51M441.65 114.51L445.36 110.81M452.98 110.81L456.69 114.51M452.98 114.51L456.69 110.81M475.64 110.81L479.35 114.51M475.64 114.51L479.35 110.81M486.97 110.81L490.68 114.51M486.97 114.51L490.68 110.81M373.67 124.44L377.38 128.14M373.67 128.14L377.38 124.44M385 124.44L388.71 128.14M385 128.14L388.71 124.44M407.66 124.44L411.37 128.14M407.66 128.14L411.37 124.44M418.99 124.44L422.69 128.14M418.99 128.14L422.69 124.44M430.32 124.44L434.02 128.14M430.32 128.14L434.02 124.44M441.65 124.44L445.36 128.14M441.65 128.14L445.36 124.44M452.98 124.44L456.69 128.14M452.98 128.14L456.69 124.44M475.64 124.44L479.35 128.14M475.64 128.14L479.35 124.44M407.66 138.06L411.37 141.76M407.66 141.76L411.37 138.06M418.99 138.06L422.69 141.76M418.99 141.76L422.69 138.06M430.32 138.06L434.02 141.76M430.32 141.76L434.02 138.06M441.65 138.06L445.36 141.76M441.65 141.76L445.36 138.06M452.98 138.06L456.69 141.76M452.98 141.76L456.69 138.06M464.31 138.06L468.01 141.76M464.31 141.76L468.01 138.06M475.64 138.06L479.35 141.76M475.64 141.76L479.35 138.06M486.97 138.06L490.68 141.76M486.97 141.76L490.68 138.06M418.99 151.69L422.69 155.39M418.99 155.39L422.69 151.69M430.32 151.69L434.02 155.39M430.32 155.39L434.02 151.69M441.65 151.69L445.36 155.39M441.65 155.39L445.36 151.69M452.98 151.69L456.69 155.39M452.98 155.39L456.69 151.69M464.31 151.69L468.01 155.39M464.31 155.39L468.01 151.69M475.64 151.69L479.35 155.39M475.64 155.39L479.35 151.69M418.99 165.31L422.69 169.01M418.99 169.01L422.69 165.31M430.32 165.31L434.02 169.01M430.32 169.01L434.02 165.31M441.65 165.31L445.36 169.01M441.65 169.01L445.36 165.31M452.98 165.31L456.69 169.01M452.98 169.01L456.69 165.31M464.31 165.31L468.01 169.01M464.31 169.01L468.01 165.31M475.64 165.31L479.35 169.01M475.64 169.01L479.35 165.31M486.97 165.31L490.68 169.01M486.97 169.01L490.68 165.31M498.3 165.31L502 169.01M498.3 169.01L502 165.31M418.99 178.94L422.69 182.64M418.99 182.64L422.69 178.94M430.32 178.94L434.02 182.64M430.32 182.64L434.02 178.94M441.65 178.94L445.36 182.64M441.65 182.64L445.36 178.94M452.98 178.94L456.69 182.64M452.98 182.64L456.69 178.94M464.31 178.94L468.01 182.64M464.31 182.64L468.01 178.94M475.64 178.94L479.35 182.64M475.64 182.64L479.35 178.94M486.97 178.94L490.68 182.64M486.97 182.64L490.68 178.94M498.3 178.94L502 182.64M498.3 182.64L502 178.94M509.63 178.94L513.34 182.64M509.63 182.64L513.34 178.94M430.32 192.56L434.02 196.26M430.32 196.26L434.02 192.56M441.65 192.56L445.36 196.26M441.65 196.26L445.36 192.56M452.98 192.56L456.69 196.26M452.98 196.26L456.69 192.56M475.64 192.56L479.35 196.26M475.64 196.26L479.35 192.56M486.97 192.56L490.68 196.26M486.97 196.26L490.68 192.56M498.3 192.56L502 196.26M498.3 196.26L502 192.56M430.32 206.19L434.02 209.89M430.32 209.89L434.02 206.19M441.65 206.19L445.36 209.89M441.65 209.89L445.36 206.19M452.98 206.19L456.69 209.89M452.98 209.89L456.69 206.19M464.31 206.19L468.01 209.89M464.31 209.89L468.01 206.19M486.97 206.19L490.68 209.89M486.97 209.89L490.68 206.19M441.65 219.81L445.36 223.51M441.65 223.51L445.36 219.81M464.31 219.81L468.01 223.51M464.31 223.51L468.01 219.81" stroke="#000" stroke-width="1.7" fill="none"/>
<text x="0" y="262.81" text-anchor="middle" font-size="10.2" stroke="#000" stroke-width="0.3" transform="translate(347.2 0) scale(0.82 1)" font-family="Liberation Sans, sans-serif">20W</text>
<text x="0" y="262.81" text-anchor="middle" font-size="10.2" stroke="#000" stroke-width="0.3" transform="translate(369.86 0) scale(0.82 1)" font-family="Liberation Sans, sans-serif">10W</text>
<text x="0" y="262.81" text-anchor="middle" font-size="10.2" stroke="#000" stroke-width="0.3" transform="translate(392.52 0) scale(0.82 1)" font-family="Liberation Sans, sans-serif">0</text>
<text x="0" y="262.81" text-anchor="middle" font-size="10.2" stroke="#000" stroke-width="0.3" transform="translate(415.18 0) scale(0.82 1)" font-family="Liberation Sans, sans-serif">10E</text>
<text x="0" y="262.81" text-anchor="middle" font-size="10.2" stroke="#000" stroke-width="0.3" transform="translate(437.84 0) scale(0.82 1)" font-family="Liberation Sans, sans-serif">20E</text>
<text x="0" y="262.81" text-anchor="middle" font-size="10.2" stroke="#000" stroke-width="0.3" transform="translate(460.5 0) scale(0.82 1)" font-family="Liberation Sans, sans-serif">30E</text>
<text x="0" y="262.81" text-anchor="middle" font-size="10.2" stroke="#000" stroke-width="0.3" transform="translate(483.16 0) scale(0.82 1)" font-family="Liberation Sans, sans-serif">40E</text>
<text x="0" y="262.81" text-anchor="middle" font-size="10.2" stroke="#000" stroke-width="0.3" transform="translate(505.82 0) scale(0.82 1)" font-family="Liberation Sans, sans-serif">50E</text>
<text x="0" y="262.81" text-anchor="middle" font-size="10.2" stroke="#000" stroke-width="0.3" transform="translate(528.48 0) scale(0.82 1)" font-family="Liberation Sans, sans-serif">60E</text>
<text x="0" y="245.7" text-anchor="end" font-size="10.2" stroke="#000" stroke-width="0.3" transform="translate(336.1 0) scale(0.84 1)" font-family="Liberation Sans, sans-serif">40S</text>
<text x="0" y="218.45" text-anchor="end" font-size="10.2" stroke="#000" stroke-width="0.3" transform="translate(336.1 0) scale(0.84 1)" font-family="Liberation Sans, sans-serif">30S</text>
<text x="0" y="191.2" text-anchor="end" font-size="10.2" stroke="#000" stroke-width="0.3" transform="translate(336.1 0) scale(0.84 1)" font-family="Liberation Sans, sans-serif">20S</text>
<text x="0" y="163.95" text-anchor="end" font-size="10.2" stroke="#000" stroke-width="0.3" transform="translate(336.1 0) scale(0.84 1)" font-family="Liberation Sans, sans-serif">10S</text>
<text x="0" y="136.7" text-anchor="end" font-size="10.2" stroke="#000" stroke-width="0.3" transform="translate(336.1 0) scale(0.84 1)" font-family="Liberation Sans, sans-serif">EQ</text>
<text x="0" y="109.45" text-anchor="end" font-size="10.2" stroke="#000" stroke-width="0.3" transform="translate(336.1 0) scale(0.84 1)" font-family="Liberation Sans, sans-serif">10N</text>
<text x="0" y="82.2" text-anchor="end" font-size="10.2" stroke="#000" stroke-width="0.3" transform="translate(336.1 0) scale(0.84 1)" font-family="Liberation Sans, sans-serif">20N</text>
<text x="0" y="54.95" text-anchor="end" font-size="10.2" stroke="#000" stroke-width="0.3" transform="translate(336.1 0) scale(0.84 1)" font-family="Liberation Sans, sans-serif">30N</text>
<text x="0" y="27.7" text-anchor="end" font-size="10.2" stroke="#000" stroke-width="0.3" transform="translate(336.1 0) scale(0.84 1)" font-family="Liberation Sans, sans-serif">40N</text>
<text x="437.84" y="10.9" text-anchor="middle" font-size="13.6" fill="#222" font-family="Liberation Sans, sans-serif">ukmo</text>
<path d="M566 34.4L570.2 16.1L574.4 34.4Z" fill="#ae0000" stroke="#222" stroke-width="0.8"/>
<rect x="566" y="34.4" width="8.4" height="17.94" fill="#ca0000" stroke="#222" stroke-width="0.8"/>
<rect x="566" y="52.34" width="8.4" height="17.94" fill="#e41400" stroke="#222" stroke-width="0.8"/>
<rect x="566" y="70.28" width="8.4" height="17.94" fill="#ff3200" stroke="#222" stroke-width="0.8"/>
<rect x="566" y="88.22" width="8.4" height="17.94" fill="#ff6400" stroke="#222" stroke-width="0.8"/>
<rect x="566" y="106.16" width="8.4" height="17.94" fill="#ffa400" stroke="#222" stroke-width="0.8"/>
<rect x="566" y="124.1" width="8.4" height="17.94" fill="#ffc03c" stroke="#222" stroke-width="0.8"/>
<rect x="566" y="142.04" width="8.4" height="17.94" fill="#ffe070" stroke="#222" stroke-width="0.8"/>
<rect x="566" y="159.98" width="8.4" height="17.94" fill="#fff27a" stroke="#222" stroke-width="0.8"/>
<rect x="566" y="177.92" width="8.4" height="17.94" fill="#fff58a" stroke="#222" stroke-width="0.8"/>
<rect x="566" y="195.86" width="8.4" height="17.94" fill="#fff79c" stroke="#222" stroke-width="0.8"/>
<rect x="566" y="213.8" width="8.4" height="17.94" fill="#fffaae" stroke="#222" stroke-width="0.8"/>
<path d="M566 231.74L570.2 249.6L574.4 231.74Z" fill="#e6ffe1" stroke="#222" stroke-width="0.8"/>
<text x="580.2" y="38.7" font-size="12.2" stroke="#000" stroke-width="0.2" font-family="Liberation Sans, sans-serif">4</text>
<text x="577.9" y="56.64" font-size="12.2" stroke="#000" stroke-width="0.2" font-family="Liberation Sans, sans-serif">3.6</text>
<text x="577.9" y="74.58" font-size="12.2" stroke="#000" stroke-width="0.2" font-family="Liberation Sans, sans-serif">3.2</text>
<text x="577.9" y="92.52" font-size="12.2" stroke="#000" stroke-width="0.2" font-family="Liberation Sans, sans-serif">2.8</text>
<text x="577.9" y="110.46" font-size="12.2" stroke="#000" stroke-width="0.2" font-family="Liberation Sans, sans-serif">2.4</text>
<text x="579.9" y="128.4" font-size="12.2" stroke="#000" stroke-width="0.2" font-family="Liberation Sans, sans-serif">2</text>
<text x="577.9" y="146.34" font-size="12.2" stroke="#000" stroke-width="0.2" font-family="Liberation Sans, sans-serif">1.6</text>
<text x="577.9" y="164.28" font-size="12.2" stroke="#000" stroke-width="0.2" font-family="Liberation Sans, sans-serif">1.2</text>
<text x="577.9" y="182.22" font-size="12.2" stroke="#000" stroke-width="0.2" font-family="Liberation Sans, sans-serif">0.8</text>
<text x="577.9" y="200.16" font-size="12.2" stroke="#000" stroke-width="0.2" font-family="Liberation Sans, sans-serif">0.4</text>
<text x="579.9" y="218.1" font-size="12.2" stroke="#000" stroke-width="0.2" font-family="Liberation Sans, sans-serif">0</text>
<path d="M576.7 231.94H583.7" stroke="#000" stroke-width="1.25"/>
<text x="585.3" y="236.24" font-size="12.9" stroke="#000" stroke-width="0.2" font-family="Liberation Sans, sans-serif">0.4</text>
<clipPath id="c2"><rect x="21.54" y="299.64" width="192.61" height="231.62"/></clipPath>
<g clip-path="url(#c2)">
<path d="M27.2 299.64V531.26M49.86 299.64V531.26M72.52 299.64V531.26M95.18 299.64V531.26M117.84 299.64V531.26M140.5 299.64V531.26M163.16 299.64V531.26M185.82 299.64V531.26M208.48 299.64V531.26" stroke="#a0a0a0" stroke-width="0.9" stroke-dasharray="1 2.56" fill="none"/>
<path d="M21.54 524.45H214.14M21.54 497.2H214.14M21.54 469.95H214.14M21.54 442.7H214.14M21.54 415.45H214.14M21.54 388.2H214.14M21.54 360.95H214.14M21.54 333.7H214.14M21.54 306.45H214.14" stroke="#c4c4c4" stroke-width="0.9" stroke-dasharray="1 2.56" fill="none"/>
<rect x="38.53" y="292.83" width="11.63" height="13.93" fill="#ffa400"/>
<rect x="49.86" y="292.83" width="11.63" height="13.93" fill="#ffa400"/>
<rect x="61.19" y="292.83" width="11.63" height="13.93" fill="#ffe070"/>
<rect x="72.52" y="292.83" width="11.63" height="13.93" fill="#ffe070"/>
<rect x="83.85" y="292.83" width="11.63" height="13.93" fill="#ffa400"/>
<rect x="95.18" y="292.83" width="11.63" height="13.93" fill="#ffa400"/>
<rect x="106.51" y="292.83" width="11.63" height="13.93" fill="#ffa400"/>
<rect x="117.84" y="292.83" width="11.63" height="13.93" fill="#ffa400"/>
<rect x="129.17" y="292.83" width="11.63" height="13.93" fill="#ff6400"/>
<rect x="140.5" y="292.83" width="11.63" height="13.93" fill="#ff6400"/>
<rect x="151.83" y="292.83" width="11.63" height="13.93" fill="#ff3200"/>
<rect x="163.16" y="292.83" width="11.63" height="13.93" fill="#e41400"/>
<rect x="174.49" y="292.83" width="11.63" height="13.93" fill="#e41400"/>
<rect x="185.82" y="292.83" width="11.63" height="13.93" fill="#e41400"/>
<rect x="197.15" y="292.83" width="11.63" height="13.93" fill="#ca0000"/>
<rect x="208.48" y="292.83" width="11.63" height="13.93" fill="#ca0000"/>
<rect x="38.53" y="306.45" width="11.63" height="13.93" fill="#ffa400"/>
<rect x="49.86" y="306.45" width="11.63" height="13.93" fill="#ffa400"/>
<rect x="61.19" y="306.45" width="11.63" height="13.93" fill="#ffa400"/>
<rect x="72.52" y="306.45" width="11.63" height="13.93" fill="#ffa400"/>
<rect x="83.85" y="306.45" width="11.63" height="13.93" fill="#ffa400"/>
<rect x="95.18" y="306.45" width="11.63" height="13.93" fill="#ffa400"/>
<rect x="106.51" y="306.45" width="11.63" height="13.93" fill="#ffa400"/>
<rect x="117.84" y="306.45" width="11.63" height="13.93" fill="#ffa400"/>
<rect x="129.17" y="306.45" width="11.63" height="13.93" fill="#ff6400"/>
<rect x="140.5" y="306.45" width="11.63" height="13.93" fill="#ff3200"/>
<rect x="151.83" y="306.45" width="11.63" height="13.93" fill="#ff3200"/>
<rect x="163.16" y="306.45" width="11.63" height="13.93" fill="#e41400"/>
<rect x="174.49" y="306.45" width="11.63" height="13.93" fill="#e41400"/>
<rect x="185.82" y="306.45" width="11.63" height="13.93" fill="#e41400"/>
<rect x="197.15" y="306.45" width="11.63" height="13.93" fill="#ca0000"/>
<rect x="208.48" y="306.45" width="11.63" height="13.93" fill="#e41400"/>
<rect x="38.53" y="320.08" width="11.63" height="13.93" fill="#ffe070"/>
<rect x="49.86" y="320.08" width="11.63" height="13.93" fill="#ffa400"/>
<rect x="61.19" y="320.08" width="11.63" height="13.93" fill="#ff6400"/>
<rect x="72.52" y="320.08" width="11.63" height="13.93" fill="#ff3200"/>
<rect x="83.85" y="320.08" width="11.63" height="13.93" fill="#ff6400"/>
<rect x="95.18" y="320.08" width="11.63" height="13.93" fill="#ff6400"/>
<rect x="106.51" y="320.08" width="11.63" height="13.93" fill="#ffa400"/>
<rect x="117.84" y="320.08" width="11.63" height="13.93" fill="#ff6400"/>
<rect x="129.17" y="320.08" width="11.63" height="13.93" fill="#ff6400"/>
<rect x="140.5" y="320.08" width="11.63" height="13.93" fill="#ff6400"/>
<rect x="151.83" y="320.08" width="11.63" height="13.93" fill="#ff3200"/>
<rect x="163.16" y="320.08" width="11.63" height="13.93" fill="#e41400"/>
<rect x="174.49" y="320.08" width="11.63" height="13.93" fill="#e41400"/>
<rect x="185.82" y="320.08" width="11.63" height="13.93" fill="#e41400"/>
<rect x="197.15" y="320.08" width="11.63" height="13.93" fill="#ff3200"/>
<rect x="208.48" y="320.08" width="11.63" height="13.93" fill="#e41400"/>
<rect x="27.2" y="333.7" width="11.63" height="13.93" fill="#ffc03c"/>
<rect x="38.53" y="333.7" width="11.63" height="13.93" fill="#ffa400"/>
<rect x="49.86" y="333.7" width="11.63" height="13.93" fill="#ff6400"/>
<rect x="61.19" y="333.7" width="11.63" height="13.93" fill="#ff3200"/>
<rect x="72.52" y="333.7" width="11.63" height="13.93" fill="#ff3200"/>
<rect x="83.85" y="333.7" width="11.63" height="13.93" fill="#ff3200"/>
<rect x="95.18" y="333.7" width="11.63" height="13.93" fill="#ff3200"/>
<rect x="106.51" y="333.7" width="11.63" height="13.93" fill="#e41400"/>
<rect x="117.84" y="333.7" width="11.63" height="13.93" fill="#ff3200"/>
<rect x="129.17" y="333.7" width="11.63" height="13.93" fill="#ff3200"/>
<rect x="140.5" y="333.7" width="11.63" height="13.93" fill="#e41400"/>
<rect x="151.83" y="333.7" width="11.63" height="13.93" fill="#e41400"/>
<rect x="163.16" y="333.7" width="11.63" height="13.93" fill="#e41400"/>
<rect x="174.49" y="333.7" width="11.63" height="13.93" fill="#e41400"/>
<rect x="185.82" y="333.7" width="11.63" height="13.93" fill="#ff3200"/>
<rect x="197.15" y="333.7" width="11.63" height="13.93" fill="#ff3200"/>
<rect x="208.48" y="333.7" width="11.63" height="13.93" fill="#ff3200"/>
<rect x="27.2" y="347.33" width="11.63" height="13.93" fill="#ffa400"/>
<rect x="38.53" y="347.33" width="11.63" height="13.93" fill="#ff6400"/>
<rect x="49.86" y="347.33" width="11.63" height="13.93" fill="#ff3200"/>
<rect x="61.19" y="347.33" width="11.63" height="13.93" fill="#ff3200"/>
<rect x="72.52" y="347.33" width="11.63" height="13.93" fill="#ff3200"/>
<rect x="83.85" y="347.33" width="11.63" height="13.93" fill="#e41400"/>
<rect x="95.18" y="347.33" width="11.63" height="13.93" fill="#e41400"/>
<rect x="106.51" y="347.33" width="11.63" height="13.93" fill="#ff3200"/>
<rect x="117.84" y="347.33" width="11.63" height="13.93" fill="#e41400"/>
<rect x="129.17" y="347.33" width="11.63" height="13.93" fill="#e41400"/>
<rect x="140.5" y="347.33" width="11.63" height="13.93" fill="#e41400"/>
<rect x="151.83" y="347.33" width="11.63" height="13.93" fill="#e41400"/>
<rect x="163.16" y="347.33" width="11.63" height="13.93" fill="#e41400"/>
<rect x="174.49" y="347.33" width="11.63" height="13.93" fill="#ff3200"/>
<rect x="185.82" y="347.33" width="11.63" height="13.93" fill="#ff6400"/>
<rect x="197.15" y="347.33" width="11.63" height="13.93" fill="#ffa400"/>
<rect x="208.48" y="347.33" width="11.63" height="13.93" fill="#ffc03c"/>
<rect x="27.2" y="360.95" width="11.63" height="13.93" fill="#ffa400"/>
<rect x="38.53" y="360.95" width="11.63" height="13.93" fill="#ff6400"/>
<rect x="49.86" y="360.95" width="11.63" height="13.93" fill="#ff3200"/>
<rect x="61.19" y="360.95" width="11.63" height="13.93" fill="#ff3200"/>
<rect x="72.52" y="360.95" width="11.63" height="13.93" fill="#ff3200"/>
<rect x="83.85" y="360.95" width="11.63" height="13.93" fill="#ff3200"/>
<rect x="95.18" y="360.95" width="11.63" height="13.93" fill="#ff3200"/>
<rect x="106.51" y="360.95" width="11.63" height="13.93" fill="#ff3200"/>
<rect x="117.84" y="360.95" width="11.63" height="13.93" fill="#ff3200"/>
<rect x="129.17" y="360.95" width="11.63" height="13.93" fill="#e41400"/>
<rect x="140.5" y="360.95" width="11.63" height="13.93" fill="#ff3200"/>
<rect x="151.83" y="360.95" width="11.63" height="13.93" fill="#ff3200"/>
<rect x="163.16" y="360.95" width="11.63" height="13.93" fill="#ff6400"/>
<rect x="174.49" y="360.95" width="11.63" height="13.93" fill="#ff6400"/>
<rect x="185.82" y="360.95" width="11.63" height="13.93" fill="#ffa400"/>
<rect x="197.15" y="360.95" width="11.63" height="13.93" fill="#ffa400"/>
<rect x="27.2" y="374.58" width="11.63" height="13.93" fill="#ffa400"/>
<rect x="38.53" y="374.58" width="11.63" height="13.93" fill="#ffa400"/>
<rect x="49.86" y="374.58" width="11.63" height="13.93" fill="#ffa400"/>
<rect x="61.19" y="374.58" width="11.63" height="13.93" fill="#ffa400"/>
<rect x="72.52" y="374.58" width="11.63" height="13.93" fill="#ffa400"/>
<rect x="83.85" y="374.58" width="11.63" height="13.93" fill="#ffa400"/>
<rect x="95.18" y="374.58" width="11.63" height="13.93" fill="#ff6400"/>
<rect x="106.51" y="374.58" width="11.63" height="13.93" fill="#ff6400"/>
<rect x="117.84" y="374.58" width="11.63" height="13.93" fill="#ff6400"/>
<rect x="129.17" y="374.58" width="11.63" height="13.93" fill="#ff6400"/>
<rect x="140.5" y="374.58" width="11.63" height="13.93" fill="#ff6400"/>
<rect x="151.83" y="374.58" width="11.63" height="13.93" fill="#ffa400"/>
<rect x="163.16" y="374.58" width="11.63" height="13.93" fill="#ffa400"/>
<rect x="174.49" y="374.58" width="11.63" height="13.93" fill="#ffc03c"/>
<rect x="185.82" y="374.58" width="11.63" height="13.93" fill="#ffc03c"/>
<rect x="27.2" y="388.2" width="11.63" height="13.93" fill="#ffe070"/>
<rect x="38.53" y="388.2" width="11.63" height="13.93" fill="#ffc03c"/>
<rect x="49.86" y="388.2" width="11.63" height="13.93" fill="#ffc03c"/>
<rect x="61.19" y="388.2" width="11.63" height="13.93" fill="#ffc03c"/>
<rect x="72.52" y="388.2" width="11.63" height="13.93" fill="#ffa400"/>
<rect x="83.85" y="388.2" width="11.63" height="13.93" fill="#ffa400"/>
<rect x="95.18" y="388.2" width="11.63" height="13.93" fill="#ffa400"/>
<rect x="106.51" y="388.2" width="11.63" height="13.93" fill="#ffa400"/>
<rect x="117.84" y="388.2" width="11.63" height="13.93" fill="#ffa400"/>
<rect x="129.17" y="388.2" width="11.63" height="13.93" fill="#ffa400"/>
<rect x="140.5" y="388.2" width="11.63" height="13.93" fill="#ffa400"/>
<rect x="151.83" y="388.2" width="11.63" height="13.93" fill="#ffc03c"/>
<rect x="163.16" y="388.2" width="11.63" height="13.93" fill="#ffc03c"/>
<rect x="174.49" y="388.2" width="11.63" height="13.93" fill="#ffc03c"/>
<rect x="185.82" y="388.2" width="11.63" height="13.93" fill="#ffc03c"/>
<rect x="49.86" y="401.83" width="11.63" height="13.93" fill="#ffe070"/>
<rect x="61.19" y="401.83" width="11.63" height="13.93" fill="#ffe070"/>
<rect x="83.85" y="401.83" width="11.63" height="13.93" fill="#ffe070"/>
<rect x="95.18" y="401.83" width="11.63" height="13.93" fill="#ffa400"/>
<rect x="106.51" y="401.83" width="11.63" height="13.93" fill="#ffa400"/>
<rect x="117.84" y="401.83" width="11.63" height="13.93" fill="#ffa400"/>
<rect x="129.17" y="401.83" width="11.63" height="13.93" fill="#ffa400"/>
<rect x="140.5" y="401.83" width="11.63" height="13.93" fill="#ffa400"/>
<rect x="151.83" y="401.83" width="11.63" height="13.93" fill="#ffc03c"/>
<rect x="163.16" y="401.83" width="11.63" height="13.93" fill="#ffc03c"/>
<rect x="174.49" y="401.83" width="11.63" height="13.93" fill="#ffc03c"/>
<rect x="83.85" y="415.45" width="11.63" height="13.93" fill="#ffe070"/>
<rect x="95.18" y="415.45" width="11.63" height="13.93" fill="#ffa400"/>
<rect x="106.51" y="415.45" width="11.63" height="13.93" fill="#ffa400"/>
<rect x="117.84" y="415.45" width="11.63" height="13.93" fill="#ffa400"/>
<rect x="129.17" y="415.45" width="11.63" height="13.93" fill="#ffa400"/>
<rect x="140.5" y="415.45" width="11.63" height="13.93" fill="#ffa400"/>
<rect x="151.83" y="415.45" width="11.63" height="13.93" fill="#ffa400"/>
<rect x="163.16" y="415.45" width="11.63" height="13.93" fill="#ffc03c"/>
<rect x="95.18" y="429.08" width="11.63" height="13.93" fill="#ffc03c"/>
<rect x="106.51" y="429.08" width="11.63" height="13.93" fill="#ffa400"/>
<rect x="117.84" y="429.08" width="11.63" height="13.93" fill="#ffa400"/>
<rect x="129.17" y="429.08" width="11.63" height="13.93" fill="#ffa400"/>
<rect x="140.5" y="429.08" width="11.63" height="13.93" fill="#ffa400"/>
<rect x="151.83" y="429.08" width="11.63" height="13.93" fill="#ffc03c"/>
<rect x="95.18" y="442.7" width="11.63" height="13.93" fill="#ffc03c"/>
<rect x="106.51" y="442.7" width="11.63" height="13.93" fill="#ff6400"/>
<rect x="117.84" y="442.7" width="11.63" height="13.93" fill="#ffa400"/>
<rect x="129.17" y="442.7" width="11.63" height="13.93" fill="#ffa400"/>
<rect x="140.5" y="442.7" width="11.63" height="13.93" fill="#ffc03c"/>
<rect x="151.83" y="442.7" width="11.63" height="13.93" fill="#ffc03c"/>
<rect x="163.16" y="442.7" width="11.63" height="13.93" fill="#ffc03c"/>
<rect x="174.49" y="442.7" width="11.63" height="13.93" fill="#ffe070"/>
<rect x="95.18" y="456.33" width="11.63" height="13.93" fill="#ffa400"/>
<rect x="106.51" y="456.33" width="11.63" height="13.93" fill="#ff3200"/>
<rect x="117.84" y="456.33" width="11.63" height="13.93" fill="#ff3200"/>
<rect x="129.17" y="456.33" width="11.63" height="13.93" fill="#ff6400"/>
<rect x="140.5" y="456.33" width="11.63" height="13.93" fill="#ffc03c"/>
<rect x="151.83" y="456.33" width="11.63" height="13.93" fill="#ffc03c"/>
<rect x="163.16" y="456.33" width="11.63" height="13.93" fill="#ffe070"/>
<rect x="174.49" y="456.33" width="11.63" height="13.93" fill="#ffe070"/>
<rect x="185.82" y="456.33" width="11.63" height="13.93" fill="#ffe070"/>
<rect x="95.18" y="469.95" width="11.63" height="13.93" fill="#ffe070"/>
<rect x="106.51" y="469.95" width="11.63" height="13.93" fill="#ff6400"/>
<rect x="117.84" y="469.95" width="11.63" height="13.93" fill="#ff3200"/>
<rect x="129.17" y="469.95" width="11.63" height="13.93" fill="#ff6400"/>
<rect x="140.5" y="469.95" width="11.63" height="13.93" fill="#ffc03c"/>
<rect x="151.83" y="469.95" width="11.63" height="13.93" fill="#ffc03c"/>
<rect x="163.16" y="469.95" width="11.63" height="13.93" fill="#ffc03c"/>
<rect x="174.49" y="469.95" width="11.63" height="13.93" fill="#ffc03c"/>
<rect x="95.18" y="483.58" width="11.63" height="13.93" fill="#ffe070"/>
<rect x="106.51" y="483.58" width="11.63" height="13.93" fill="#ffa400"/>
<rect x="117.84" y="483.58" width="11.63" height="13.93" fill="#ffa400"/>
<rect x="129.17" y="483.58" width="11.63" height="13.93" fill="#ffa400"/>
<rect x="140.5" y="483.58" width="11.63" height="13.93" fill="#ffa400"/>
<rect x="163.16" y="483.58" width="11.63" height="13.93" fill="#ffc03c"/>
<rect x="174.49" y="483.58" width="11.63" height="13.93" fill="#ffc03c"/>
<rect x="106.51" y="497.2" width="11.63" height="13.93" fill="#ffa400"/>
<rect x="117.84" y="497.2" width="11.63" height="13.93" fill="#ffc03c"/>
<rect x="129.17" y="497.2" width="11.63" height="13.93" fill="#ffc03c"/>
<rect x="140.5" y="497.2" width="11.63" height="13.93" fill="#ffe070"/>
<path d="M27.2 299.64V531.26M49.86 299.64V531.26M72.52 299.64V531.26M95.18 299.64V531.26M117.84 299.64V531.26M140.5 299.64V531.26M163.16 299.64V531.26M185.82 299.64V531.26M208.48 299.64V531.26" stroke="#a0a0a0" stroke-opacity="0.3" stroke-width="0.9" stroke-dasharray="1 2.56" fill="none"/>
<path d="M21.54 524.45H214.14M21.54 497.2H214.14M21.54 469.95H214.14M21.54 442.7H214.14M21.54 415.45H214.14M21.54 388.2H214.14M21.54 360.95H214.14M21.54 333.7H214.14M21.54 306.45H214.14" stroke="#d0d0d0" stroke-opacity="0.3" stroke-width="0.9" stroke-dasharray="1 2.56" fill="none"/>
<path d="M146.28 333.84L145.83 332.07L145.71 330.29L144.58 329.61L142.77 329.34L141.41 329.75L140.27 330.43L138.23 331.25L135.97 330.7L134.16 329.94L131.44 329.34L129.51 329.34L128.26 328.52L126.79 327.98L124.86 326.62L123.73 326.07L121.24 325.66L119.2 326.62L117.95 327.98L117.61 329.34L118.07 330.98L116.93 332.61L115.35 332.07L113.08 331.25L110.14 330.43L108.1 329.34L106.96 327.16L104.7 326.34L102.43 325.8L99.71 325.93L98.58 324.98L97.67 324.71L97.11 323.62L95.41 323.07L95.75 321.98L96.88 320.76L97.67 319.53L97.45 318.44L96.54 317.62L96.31 316.26L97.56 314.49L96.54 315.03L95.63 315.17L95.86 314.22L94.84 313.81L92.91 314.22L92.01 314.76L90.08 314.76L88.84 314.49L86.91 314.49L84.98 315.58L84.08 315.31L81.58 314.9L79.43 315.25L77.73 315.72L75.47 315.99L72.97 317.35L71.05 318.03L69.57 319.26L67.53 319.8L65.84 319.26L63.68 319.39L61.87 319.53L60.51 317.62L59.38 317.9L58.58 319.53L57.56 321.98L57.11 322.8L55.3 323.89L53.26 324.84L51.56 327.43L50.31 329.61L50.2 332.07L50.77 332.61L50.31 334.25L49.41 335.34L47.37 337.79L45.1 338.88L43.29 339.42L42.16 341.6L39.66 344.33L38.76 347.05L37.4 349.23L36.49 350.87L35.58 352.78L35.36 354.68L34.22 356.86L33.88 358.77L34.9 360.95L35.13 362.59L35.81 364.22L36.26 366.13L35.58 369.13L35.13 371.85L34.22 373.76L32.87 375.39L33.77 375.67L34.45 376.76L34.56 378.39L34.9 378.8L34.56 380.03L34.68 381.66L35.81 383.02L37.4 384.11L38.53 385.75L39.44 386.84L40.8 388.47L41.48 389.56L42.5 391.2L42.61 392.56L43.29 394.2L44.2 395.29L46.46 396.65L48.05 398.28L50.09 400.19L52.35 402.37L55.07 403.46L56.66 403.19L58.7 401.96L61.19 401.42L63.46 401.14L65.5 401.55L67.76 402.51L70.25 401.28L72.07 400.33L73.88 399.65L75.24 398.83L77.96 398.15L80.22 398.01L82.72 398.28L83.85 399.65L84.98 401.28L86.12 403.73L88.38 403.46L91.33 402.92L92.23 403.19L92.91 404.55L94.5 405.1L94.95 407.55L94.73 410.55L94.05 412.73L93.93 414.36L93.59 416.27L92.23 417.09L93.59 420.36L95.18 423.08L97.67 426.08L99.37 428.53L100.39 431.8L101.75 435.89L102.43 439.43L103.34 444.61L103.79 445.43L103.11 449.1L102.88 449.79L101.07 452.24L100.05 456.87L99.26 460.69L99.15 462.46L100.84 467.23L103.11 472.4L105.15 476.22L105.38 477.99L105.6 482.21L106.85 488.07L107.87 490.66L109.8 493.39L111.72 498.56L113.53 502.38L113.08 505.38L114.21 507.83L114.44 509.05L115.12 508.37L116.25 509.74L117.84 510.36L120.11 509.19L122.6 508.65L125.54 508.24L128.72 508.65L130.53 507.96L133.25 507.01L135.74 505.38L139.37 501.56L141.18 499.65L142.77 496.79L145.71 493.11L147.07 488.48L146.39 486.22L148.66 484.12L151.83 482.21L152.96 480.31L152.74 475.95L151.83 471.31L151.49 469.41L154.78 466.68L156.14 464.23L159.76 461.5L163.16 459.6L164.75 456.05L164.29 450.88L164.29 444.06L163.39 443.52L161.57 437.25L161.57 433.98L160.44 431.8L161.12 429.35L162.48 426.49L163.39 424.17L165.2 421.72L166.79 419.81L168.82 416.4L171.09 413.27L175.28 409.86L179.02 404.55L182.42 401.01L184.69 395.01L185.37 393.65L187.63 388.2L188.99 387.11L188.65 383.16L186.95 383.02L184.01 384.66L180.16 385.2L174.49 386.97L172.22 387.11L170.86 384.66L170.3 383.84L169.5 383.3L170.64 381.39L169.28 380.03L166.79 378.39L164.97 375.94L162.93 373.21L161.91 372.94L160.67 370.22L159.76 366.4L157.27 363.95L156.82 362.04L156.59 358.23L156.14 355.5L153.19 352.78L152.96 350.32L150.7 345.96L149.11 341.33L147.75 339.15L146.39 333.97L146.28 333.84M146.28 333.84L147.3 336.43L148.43 338.33L150.13 339.83L150.7 338.06L151.6 335.06L151.83 334.93L151.6 338.88L153.42 340.92L155.23 344.06L156.82 347.19L158.74 349.78L161.23 356.86L164.29 361.5L166.11 365.04L168.94 369.4L169.28 372.67L169.84 375.12L170.52 379.21L170.98 380.98L172.22 381.12L174.49 380.57L177.89 378.94L181.29 377.3L183.78 375.94L186.95 374.58L190.81 372.94L190.81 370.49L193.75 369.67L195.11 369.13L197.83 366.95L200.78 366.13L203.27 363.95L203.49 360.41L205.31 359.32L207.35 356.05L208.03 354.14L206.21 352.78L205.31 351.14L201.68 349.78L201 348.96L200.21 346.78L200.32 344.6L199.87 343.78L199.42 345.69L197.83 346.64L195.79 348.69L193.75 349.78L191.71 349.51L189.45 349.23L188.54 348.42L189.45 346.51L189.22 344.33L188.31 344.33L187.63 348.01L186.95 345.96L186.05 344.87L186.27 343.37L184.91 341.33L183.1 339.7L182.19 337.79L181.06 335.34L182.42 333.97L183.55 332.88L186.27 333.7L187.63 336.56L189.22 339.42L191.71 340.79L196.02 342.97L198.28 342.42L200.1 341.47L201.68 342.42L202.36 344.87L203.49 345.55L206.21 346.24L209.84 346.51L212.11 347.05L215.28 346.78M145.71 330.29L147.3 330.7L149.11 330.57L150.02 330.16L151.26 328.11L151.83 326.07L152.28 324.98L152.96 323.07L153.64 321.17L153.64 318.71L153.98 317.62L154.44 315.72L152.74 315.72L150.92 315.17L149.11 316.81L146.84 317.21L145.03 315.85L144.58 315.72L142.09 315.03L141.41 316.81L139.59 316.81L138.46 315.72L136.42 315.44L134.61 314.63L134.84 313.54L134.16 312.45L132.12 311.08L133.48 310.54L133.93 310.81L133.25 309.72L133.02 308.09L131.66 307.81L131.89 306.31L133.02 305.22L134.84 305.36L136.65 305.36L138.23 305.36L140.27 304.41L138.23 303.73L136.42 303.73L134.61 303.86L133.02 304.82L131.44 304.27L129.62 303.86L127.81 304L126.68 304.54L126.22 305.63L125.32 305.91L124.41 304.82L123.73 305.63L123.73 306.72L125.09 308.09L124.41 309.18L126 310.54L126.9 312.85L125.09 311.9L124.18 312.99L125.09 316.26L123.51 316.26L122.83 314.63L122.15 315.17L121.47 312.99L120.79 312.17L121.47 311.08L123.05 311.36L121.24 310.81L120.11 311.08L119.43 309.45L118.52 308.36L117.84 307.27L116.59 305.22L116.59 302.91L116.71 301.55L116.25 301.27L114.89 299.91L113.76 299.37M135.74 299.37L135.97 301L136.19 302.09L138.01 303.04L138.46 303.32L140.5 303.18L142.77 303.45L146.16 301.55L148.43 301L152.06 301L154.1 301.82L154.78 302.91L157.49 303.45L159.76 304L162.48 303.73L164.29 303.73L166.56 302.36L166.79 299.37M52.13 299.37L52.47 301.27L52.92 303.32L52.58 305.91L51.22 308.09L50.99 309.99L52.35 310.54L52.58 312.17L52.13 314.63L54.62 314.63L55.75 314.08L58.24 315.99L59.83 317.35L60.4 317.08L62.55 315.44L66.63 315.44L67.53 315.39L68.89 314.08L70.25 312.99L70.93 311.36L72.97 309.86L71.84 307.95L72.52 306.45L73.65 305.09L74.56 304L75.35 303.45L77.51 302.64L79.77 301.27L79.77 299.91L79.54 299.37M96.99 299.37L97.67 299.91L99.26 301L100.17 301.68L101.98 303.04L103.56 303.18L104.81 304.27L106.06 304.82L106.51 305.91L108.1 306.45L108.78 308.09L109.23 309.45L107.98 311.9L109 311.9L110.14 310.67L111.38 309.18L111.27 308.09L109.91 307.27L111.5 305.22L113.31 305.91L114.1 307L114.44 306.04L113.19 304.68L110.82 303.45L108.55 302.36L109.23 301.27L106.96 301.14L105.38 300.18L104.7 299.37M100.62 312.45L102.77 311.63L105.38 311.76L107.76 311.22L106.74 313.26L106.74 315.44L105.38 315.17L103.11 314.08L101.52 313.13L100.62 312.45M91.55 309.18L91.78 306.45L91.1 304.82L91.33 303.73L93.37 303.04L94.5 304L94.5 306.45L94.27 308.63L92.91 308.63L92.01 309.45L91.55 309.18M92.01 301.27L92.46 302.09L93.37 302.64L94.05 300.73L94.05 298.82L93.59 298.28L92.01 299.64L92.01 301.27M125.77 319.26L126 318.44L127.58 319.12L129.17 318.99L130.76 319.26L132.12 319.26L131.66 320.08L129.17 320.21L126.9 319.53L125.77 319.26M145.71 320.35L146.84 321.17L148.66 320.62L149.56 320.08L150.92 318.17L149.34 319.26L147.3 319.12L145.71 319.8L145.71 320.35M77.85 307.68L78.64 306.59L79.77 306.72L80.34 307.27L79.77 308.22L78.75 308.09L77.85 307.68M184.23 448.15L185.59 451.69L186.27 454.96L186.95 457.69L185.37 459.05L184.69 461.78L184.46 464.91L183.33 468.59L182.42 471.31L181.06 476.76L180.38 479.49L179.02 483.58L177.21 484.12L174.94 484.94L172.9 483.85L171.43 479.08L170.86 474.72L172.9 470.77L173.13 468.32L172.22 464.64L172.68 461.78L173.13 459.6L175.62 458.78L177.44 458.23L179.48 456.33L180.16 455.51L181.29 452.24L183.33 449.51L184.23 448.15M180.38 299.37L182.65 301.55L183.78 302.91L184.69 305.09L186.5 305.36L184.69 305.91L184.23 307.81L183.55 309.18L183.21 310.81L183.78 312.99L186.27 314.63L189.22 315.17L192.62 315.03L194.66 314.9L194.66 313.54L194.43 309.45L192.84 308.36L193.75 307.27L192.62 306.45L192.16 303.73L191.48 301.55L192.16 299.37M144.58 416.27L145.71 414.63L147.75 414.36L149.79 415.45L151.38 416.54L149.56 417.9L149.34 420.36L148.43 421.99L146.16 422.54L144.58 420.9L144.35 418.18L144.58 416.27M138.69 424.44L139.14 427.71L139.59 431.8L141.41 434.53L142.31 438.07L143.22 438.89L141.86 434.53L140.5 431.8L140.05 427.71L138.91 424.44M150.24 441.34L149.56 444.06L150.47 448.15L150.47 452.24L151.6 454.69L152.51 454.15L151.15 448.15L150.92 444.06L150.24 441.34M137.1 438.61L138.46 440.79L138.23 438.34L137.1 438.61M132.57 461.78L135.97 459.6L138.01 460.69L135.06 463.41L132.57 461.78M72.07 398.28L72.75 396.38L71.84 393.11L69.8 392.29L71.16 395.83L72.07 398.28M102.43 380.03L103.34 378.12L105.15 378.66L105.6 380.3L104.24 381.12L102.43 380.03M154.1 403.19L154.55 405.91L155.23 408.64L153.87 406.73L154.1 403.19M141.63 412.45L143.67 409.46L142.77 412.18L141.63 412.45M138.91 419.81L138.69 421.45L138.23 421.99L138.91 419.81M156.36 382.75L157.72 382.21L157.49 383.84L156.36 382.75M139.59 415.72L140.27 417.09L139.37 417.09L139.59 415.72M146.39 351.96L147.07 355.5L143.45 356.05L146.39 351.96M68.55 319.8L68.67 322.8L68.67 326.89L64.36 329.34L64.14 331.25L60.06 333.97L55.52 335.34L52.87 337.24L52.87 340.05M52.87 340.05L42.61 340.05M52.87 340.05L52.87 344.6L45.33 344.6L45.33 351.55L42.84 353.46L43.06 357.33L34 357.33M52.87 341.06L61.58 347.33M61.58 347.33L57.79 347.46L60.06 371.03L60.51 373.21L52.13 373.21L46.91 373.49L46.23 372.94L44.87 375.39M44.87 375.39L43.06 373.21L40.8 370.22L38.53 370.22L35.13 371.58M61.58 347.33L75.24 358.23L79.77 361.5L82.15 363.27M82.15 363.27L85.66 362.45L89.52 358.5L99.69 351.41M99.69 351.41L95.63 347.87L94.05 343.51L94.95 341.88L94.73 335.34L94.05 333.16M94.05 333.16L91.33 326.89L91.33 321.17L91.55 314.9M94.05 333.16L95.86 329.61L98.58 325.06M99.69 351.41L106.51 352.78L126.9 362.31L126.9 360.95L129.17 360.95L129.17 355.5M129.17 355.5L129.17 335.06L129.51 329.34M129.17 355.5L156.14 355.5M150.02 330.16L151.6 335.06M82.15 363.27L82.04 370.76L80.45 373.76L74.79 374.58L72.97 374.85M60.06 387.11L60.28 383.3L62.55 380.84L63.46 378.66L67.99 375.94L72.97 374.85M72.97 374.85L73.65 377.85L74.79 380.03L77.51 381.12L77.96 383.02M77.96 383.02L80.68 383.57L81.81 378.66L86.12 378.39L88.38 380.03L92.91 380.57L96.31 379.21L100.84 379.75L103.34 378.12M103.34 378.12L107.64 369.4L108.1 361.22L106.51 352.78M126.9 362.31L126.9 372.67L123.51 377.3L122.37 380.57L124.18 384.39L124.41 385.75M107.64 395.01L112.17 393.65L114.44 391.2L117.84 390.65L121.69 386.84L124.41 385.75M104.47 379.75L105.38 381.39L106.51 385.48L106.51 388.2L104.24 389.56L107.64 395.01M100.84 379.75L103.11 388.2L100.17 392.29L98.81 396.92L96.54 396.38L94.73 399.1L92.01 402.92M78.64 398.01L78.64 394.2L78.86 390.93L80.68 387.11L80.68 383.57M76.15 398.56L76.15 390.93L75.69 389.56L74.56 385.48M75.24 398.83L73.88 396.65L73.65 393.65L73.43 388.2L72.52 385.48M65.5 401.55L66.18 396.38L66.86 393.65L66.18 389.29L66.18 385.48L72.52 385.48L74.56 385.48L77.96 383.02M55.52 403.46L53.49 397.74L53.94 395.01L54.39 392.29L54.85 388.2L58.47 387.38L60.06 387.11L63.46 388.47L66.18 389.29M46.46 396.65L47.59 393.65L49.18 392.29L48.73 390.11L47.14 388.2L44.2 388.47L42.5 391.2M53.94 395.01L50.99 395.01L49.18 392.29M47.14 388.2L48.27 385.48L46.91 381.66L41.48 381.12L38.53 380.84L34.68 381.66M46.91 381.66L44.87 375.39M38.53 385.75L40.8 383.84L41.48 381.12M34.56 378.39L37.4 378.39L39.89 379.21L41.25 378.66L38.3 377.85L34.9 378.8M54.39 392.29L53.49 388.2L53.71 384.11L52.13 382.21L46.91 381.66M60.06 387.11L60.51 385.48L61.64 388.75M125.77 386.84L129.17 387.11L133.7 389.29L139.59 389.02L142.31 389.02L145.71 384.11L147.07 382.21L147.98 387.11L149.79 389.56M155.23 376.48L152.51 380.03L149.79 386.84L149.79 389.56L149.79 392.56L147.3 394.2L148.43 399.1L151.83 401.83L153.87 402.92M155.23 376.48L157.04 375.12L158.85 367.76L159.99 366.4M155.23 376.48L159.76 375.94L163.16 375.94L165.43 377.85L168.37 381.39L169.5 383.3M169.5 383.3L169.5 385.48L170.41 385.48M169.5 385.48L171.32 390.11L172.22 390.93L181.29 393.65L174.49 402.1L172.22 402.1L167.69 404.55L167.47 404.82M165.43 420.08L165.43 407.82L167.47 404.82M153.87 402.92L156.36 403.46L158.85 405.64L162.25 406.19L164.97 404.01L167.47 404.82M149.34 404.01L150.47 402.92L153.87 402.92M149.34 404.01L151.6 410.82L149.56 413.82L149.56 418.18M149.56 418.18L157.72 423.63L157.95 425.26L161.35 428.26M139.59 419.27L142.09 418.18L144.13 418.18L149.56 418.18M142.31 405.91L144.58 405.1L149.34 404.01M134.61 401.83L136.87 403.73L139.59 402.92L142.31 405.91M124.41 385.75L125.77 386.84L126.9 392.02L129.85 395.01L134.61 401.83M107.64 395.01L105.6 398.56L105.38 403.19L107.64 408.64L109.23 409.46L108.78 410.27M108.78 410.27L104.24 409.46L102.66 409.46L98.13 409.46L94.73 409.46M98.13 409.46L98.13 412.73L94.05 412.73M98.13 412.73L104.24 411.64L105.38 416L104.02 419.54L104.92 421.99L102.2 421.72L99.71 422.54L97.67 426.08M108.78 410.27L112.4 405.64L114.67 405.91L116.71 401.28L121.24 403.73L123.51 404.01L128.04 401.83L130.3 401.01L134.61 401.83M108.78 410.27L112.4 416.81L109.23 421.45L107.19 427.17L104.24 427.71L100.17 431.26M99.71 429.08L100.84 429.08L101.98 428.26M100.39 431.8L101.98 431.53L109.68 431.8L112.17 437.25L116.48 436.98L121.92 435.34L122.37 445.43L126.9 445.43L130.08 446.24L131.44 444.88L134.16 447.06L137.1 450.6L140.05 451.97L139.37 448.42L137.1 445.43L137.33 438.61L142.31 438.07M122.37 445.43L126.9 446.79L126.9 450.88L122.37 450.88L122.37 459.87L125.32 463.41M99.15 462.46L101.98 461.78L104.7 462.87L114.44 462.87L119.88 464.23L125.32 463.41L129.62 463.96M120.11 465.32L120.11 475.4L117.84 475.4L117.84 483.03L117.84 492.84L115.57 493.93L112.17 493.66L109.8 493.39M117.84 483.03L119.65 488.48L123.73 486.3L125.77 484.94L129.17 485.48L131.44 482.76L133.7 480.85L137.1 476.76L139.14 475.95M129.62 463.96L131.44 467.23L134.38 471.31L135.97 474.04L139.14 475.95M139.14 475.95L143.45 476.49M143.45 476.49L145.94 473.49L147.07 469.13L146.62 465.86L147.3 461.78L147.07 460.96L141.41 457.96M129.62 463.96L133.7 463.96L135.97 460.41L139.37 458.51L141.41 457.96M141.41 457.96L140.95 456.05L147.75 453.6L146.62 450.88L147.98 445.43L147.75 441.61L147.07 441.07L143.22 438.89M147.75 453.6L150.7 454.96L152.51 459.6L152.06 461.78L152.51 462.05L153.87 460.14L153.64 456.33L152.06 452.24L151.6 446.79M147.07 441.07L149.56 441.34L150.24 441.34M151.6 446.79L155.23 447.33L158.63 446.24L160.89 445.97L164.07 444.06M143.45 476.49L145.03 482.21L145.03 486.03L147.07 488.62M144.81 486.03L143.45 485.48L142.31 487.12L142.99 489.57L144.81 489.84L144.81 486.03M133.7 496.11L135.74 494.2L137.55 493.39L139.14 495.29L138.46 497.2L136.19 498.84L134.61 498.02L133.7 496.11M139.59 419.27L138.23 423.08L139.14 423.35L141.41 421.72L142.31 418.18M138.23 423.08L138.69 424.44M141.41 421.72L141.86 424.72L140.5 427.17L139.14 427.71M142.31 405.91L143.22 409.18L141.63 412.18L140.27 415.45L139.59 419.27M149.34 404.01L148.43 405.1L145.03 405.64L142.31 405.91M151.83 335.06L155.23 335.61L156.36 329.61L160.89 327.71L161.57 327.43M152.96 325.25L153.64 326.34L153.19 328.8L151.83 335.06M154.1 325.53L153.64 326.34M152.96 325.25L153.87 324.16L155.46 322.26L154.1 321.17L153.64 320.89M153.87 317.62L155.68 315.17L158.63 315.17L163.16 314.9L166.11 314.35L168.6 314.35M160.44 324.44L165.43 321.71L165.88 316.26L168.6 314.35M161.57 327.43L160.89 328.25L167.69 330.7L173.81 335.88L177.89 336.15L180.16 336.43L180.61 337.79L182.19 337.79M177.89 336.15L181.06 335.34L181.29 333.7L180.61 330.98L181.06 328.25L176.98 325.53L175.4 322.8L176.53 320.08L175.4 317.62L174.04 314.08L172.9 313.81L173.58 311.9L172.9 308.09L174.04 307.27M168.6 314.35L172.9 313.81M155.46 322.26L160.44 324.44L161.57 327.43M174.04 307.27L171.32 306.18L171.32 303.45L174.49 302.91L177.89 303.45L178.12 301.55L176.76 301L174.49 299.64L171.09 299.37M174.04 307.27L176.3 308.09L177.89 309.18L179.02 308.63L181.29 307.54L181.97 309.45L183.21 310.81M171.32 303.45L168.82 302.64L166.56 302.36M194.66 313.54L198.06 311.9L202.36 311.9L206.21 312.99L209.16 314.63L211.2 315.72L211.2 319.26L209.61 322.26L210.52 324.16L209.84 325.53L210.52 329.61L212.33 329.89L212.56 331.52L210.52 333.97L212.79 337.79L215.28 341.88M212.11 347.05L212.56 344.06L215.28 342.97M156.14 355.5L154.55 354.68L153.19 352.78M159.99 366.4L157.49 364.22M168.94 369.4L171.09 367.76L176.76 368.31L179.02 369.4L182.87 365.86L190.35 363.68L192.84 370.22M190.35 363.68L197.15 360.95L198.51 355.5L197.6 353.59L191.71 353.05L189.45 349.23M198.51 355.5L199.42 350.05L200.32 347.6M180.61 337.79L182.19 337.79M132.8 302.91L132.12 304M132.8 302.91L133.48 301.82L135.74 301M132.8 302.91L130.98 302.91L127.13 302.09L124.18 302.91L120.11 304L119.43 306.18L117.84 307.27M118.97 302.91L119.2 301.27L117.84 299.64M116.25 301.27L116.93 299.37M124.18 302.91L124.64 301L123.28 299.37M37.62 339.15L36.72 339.7L37.17 338.61L37.62 339.15M35.58 338.06L34.22 338.88L34.9 338.06L35.58 338.06M41.93 336.43L41.25 336.7L42.16 335.88L41.93 336.43M40.8 337.24L40.12 338.88L41.02 338.06L40.8 337.24M33.54 326.07L34.68 326.34L34 326.48L33.54 326.07M18.82 374.3L19.27 374.85L18.82 374.03M17.23 370.22L18.14 370.22M20.63 369.94L20.63 370.22M20.86 371.58L20.63 371.85M39.89 436.98L40.12 437.25M59.6 458.78L59.49 459.05M44.65 516.55L44.87 516.55M50.09 525.27L49.97 525.4M91.78 405.37L92.69 405.91L92.23 406.73L91.78 405.37M87.25 414.63L87.7 414.91M89.29 411.09L89.4 410.82M170.64 446.52L171.09 447.88M173.13 448.42L173.36 448.97M174.72 450.33L174.94 450.6M171.54 448.97L171.77 449.24M197.83 472.4L198.74 472.68L198.51 473.49L197.83 472.4M202.81 469.95L203.49 470.77L202.81 471.31L202.81 469.95M198.06 427.99L198.28 428.26M161.35 430.98L161.8 432.62M162.48 429.08L162.71 430.17M162.25 436.71L162.93 437.25M193.3 380.84L196.02 381.39L194.43 381.93L193.3 380.84M186.95 344.06L187.18 345.15M104.92 317.21L105.38 317.62M75.24 309.45L76.15 308.9M81.13 306.72L82.26 306.45M135.51 317.08L136.42 316.26L135.74 316.81M133.25 312.99L132.8 312.72M131.44 310.81L131.66 311.36M132.12 309.18L132.8 308.36M125.54 309.45L128.04 311.36L127.13 310.27M119.2 311.36L119.65 310.54M117.16 307L117.84 307.81M130.08 314.35L130.3 314.63M129.62 316.26L130.08 316.26M131.44 308.63L132.12 308.09L132.8 308.63L132.12 309.18L131.44 308.63M131.21 310.81L131.55 310.27L131.89 310.81L131.55 311.36L131.21 310.81M132.8 312.65L133.36 312.45L133.93 312.65L133.36 312.85L132.8 312.65M131.44 312.92L131.89 312.72L132.34 312.92L131.89 313.13L131.44 312.92M129.96 314.42L130.25 314.08L130.53 314.42L130.25 314.76L129.96 314.42M129.4 314.42L129.62 314.22L129.85 314.42L129.62 314.63L129.4 314.42M128.49 312.24L128.83 311.9L129.17 312.24L128.83 312.58L128.49 312.24M129.17 313.06L129.45 312.85L129.74 313.06L129.45 313.26L129.17 313.06M129.85 313.4L130.02 313.26L130.19 313.4L130.02 313.54L129.85 313.4M128.83 313.43L128.98 313.26L129.12 313.43L128.98 313.59L128.83 313.43M127.54 312.92L127.67 312.72L127.81 312.92L127.67 313.13L127.54 312.92M127.7 315.37L127.92 315.17L128.15 315.37L127.92 315.58L127.7 315.37M129.96 316.22L130.13 316.04L130.3 316.22L130.13 316.4L129.96 316.22M133.59 315.1L134.04 314.9L134.5 315.1L134.04 315.31L133.59 315.1M135.29 316.87L135.91 316.12L136.53 316.87L135.91 317.62L135.29 316.87M133.93 318.44L134.1 317.9L134.27 318.44L134.1 318.99L133.93 318.44M129.28 306.72L129.74 306.45L130.19 306.72L129.74 307L129.28 306.72M128.04 304.61L128.38 304.27L128.72 304.61L128.38 304.95L128.04 304.61M130.19 305.2L130.42 305.09L130.64 305.2L130.42 305.31L130.19 305.2M127.81 309.52L128.04 309.31L128.26 309.52L128.04 309.72L127.81 309.52M117.05 307.54L117.56 307L118.07 307.54L117.56 308.09L117.05 307.54M118.63 311.15L119.14 310.54L119.65 311.15L119.14 311.76L118.63 311.15M119.2 312.45L119.6 312.04L119.99 312.45L119.6 312.85L119.2 312.45M124.41 316.6L124.64 316.26L124.86 316.6L124.64 316.94L124.41 316.6M125.54 313.88L125.71 313.67L125.88 313.88L125.71 314.08L125.54 313.88M124.64 312.79L124.86 312.58L125.09 312.79L124.86 312.99L124.64 312.79M128.94 315.51L129.17 315.31L129.4 315.51L129.17 315.72L128.94 315.51M131.89 313.81L132.06 313.67L132.23 313.81L132.06 313.94L131.89 313.81M133.36 314.22L133.53 314.08L133.7 314.22L133.53 314.35L133.36 314.22M132.57 310.4L132.68 310.27L132.8 310.4L132.68 310.54L132.57 310.4M130.42 316.81L130.7 316.53L130.98 316.81L130.7 317.08L130.42 316.81M132.12 319.05L132.29 318.85L132.46 319.05L132.29 319.26L132.12 319.05M126.79 309.11L127.02 308.9L127.24 309.11L127.02 309.31L126.79 309.11M126 308.77L126.17 308.63L126.34 308.77L126.17 308.9L126 308.77M123.51 306.52L123.73 306.31L123.96 306.52L123.73 306.72L123.51 306.52M124.18 309.31L125.32 309.86L126.22 310.54L127.13 311.36L128.15 311.9L127.81 311.22L127.13 310.27L125.77 309.31L124.64 309.04L124.18 309.31M121.92 310.95L123.28 311.49L124.64 312.04L123.51 311.22L122.15 310.81M120.79 312.17L120.33 312.58L121.47 313.54L121.69 314.76L122.26 315.31L122.83 314.9L123.28 316.12L123.73 315.17L124.07 315.99L124.75 316.12L124.52 314.35L124.07 313.13L125.09 312.99L125.54 313.54L124.86 312.04" stroke="#000" stroke-width="0.9" fill="none" stroke-linejoin="round"/>
<g fill="#111"><circle cx="39.89" cy="437.11" r="0.75"/><circle cx="59.6" cy="458.91" r="0.75"/><circle cx="44.65" cy="516.55" r="0.75"/><circle cx="50.09" cy="525.27" r="0.75"/><circle cx="198.28" cy="427.99" r="0.75"/><circle cx="199.42" cy="442.7" r="0.75"/><circle cx="177.21" cy="441.07" r="0.75"/><circle cx="203.04" cy="470.5" r="0.75"/><circle cx="198.28" cy="472.95" r="0.75"/><circle cx="216.18" cy="469.13" r="0.75"/><circle cx="172.22" cy="448.7" r="0.75"/><circle cx="170.64" cy="447.06" r="0.75"/><circle cx="174.72" cy="450.33" r="0.75"/><circle cx="41.02" cy="336.7" r="0.75"/><circle cx="20.63" cy="371.58" r="0.75"/><circle cx="17.46" cy="374.85" r="0.75"/><circle cx="15.87" cy="369.13" r="0.75"/><circle cx="89.29" cy="411.09" r="0.75"/><circle cx="87.48" cy="414.91" r="0.75"/><circle cx="85.21" cy="419.27" r="0.75"/></g>
</g>
<rect x="21.54" y="299.64" width="192.61" height="231.62" fill="none" stroke="#222" stroke-width="1.1"/>
<path d="M27.2 531.26V533.26M49.86 531.26V533.26M72.52 531.26V533.26M95.18 531.26V533.26M117.84 531.26V533.26M140.5 531.26V533.26M163.16 531.26V533.26M185.82 531.26V533.26M208.48 531.26V533.26M21.54 524.45H19.54M21.54 497.2H19.54M21.54 469.95H19.54M21.54 442.7H19.54M21.54 415.45H19.54M21.54 388.2H19.54M21.54 360.95H19.54M21.54 333.7H19.54M21.54 306.45H19.54" stroke="#222" stroke-width="1" fill="none"/>
<path d="M42.34 297.79L46.05 301.49M42.34 301.49L46.05 297.79M53.67 297.79L57.38 301.49M53.67 301.49L57.38 297.79M76.34 297.79L80.03 301.49M76.34 301.49L80.03 297.79M87.67 297.79L91.36 301.49M87.67 301.49L91.36 297.79M99 297.79L102.69 301.49M99 301.49L102.69 297.79M110.33 297.79L114.02 301.49M110.33 301.49L114.02 297.79M121.66 297.79L125.36 301.49M121.66 301.49L125.36 297.79M132.99 297.79L136.69 301.49M132.99 301.49L136.69 297.79M144.31 297.79L148.01 301.49M144.31 301.49L148.01 297.79M155.64 297.79L159.34 301.49M155.64 301.49L159.34 297.79M166.97 297.79L170.67 301.49M166.97 301.49L170.67 297.79M178.31 297.79L182 301.49M178.31 301.49L182 297.79M189.63 297.79L193.33 301.49M189.63 301.49L193.33 297.79M200.97 297.79L204.66 301.49M200.97 301.49L204.66 297.79M212.29 297.79L215.99 301.49M212.29 301.49L215.99 297.79M42.34 311.41L46.05 315.11M42.34 315.11L46.05 311.41M53.67 311.41L57.38 315.11M53.67 315.11L57.38 311.41M65.01 311.41L68.7 315.11M65.01 315.11L68.7 311.41M76.34 311.41L80.03 315.11M76.34 315.11L80.03 311.41M87.67 311.41L91.36 315.11M87.67 315.11L91.36 311.41M99 311.41L102.69 315.11M99 315.11L102.69 311.41M110.33 311.41L114.02 315.11M110.33 315.11L114.02 311.41M132.99 311.41L136.69 315.11M132.99 315.11L136.69 311.41M144.31 311.41L148.01 315.11M144.31 315.11L148.01 311.41M155.64 311.41L159.34 315.11M155.64 315.11L159.34 311.41M166.97 311.41L170.67 315.11M166.97 315.11L170.67 311.41M178.31 311.41L182 315.11M178.31 315.11L182 311.41M189.63 311.41L193.33 315.11M189.63 315.11L193.33 311.41M200.97 311.41L204.66 315.11M200.97 315.11L204.66 311.41M212.29 311.41L215.99 315.11M212.29 315.11L215.99 311.41M42.34 325.04L46.05 328.74M42.34 328.74L46.05 325.04M53.67 325.04L57.38 328.74M53.67 328.74L57.38 325.04M65.01 325.04L68.7 328.74M65.01 328.74L68.7 325.04M76.34 325.04L80.03 328.74M76.34 328.74L80.03 325.04M87.67 325.04L91.36 328.74M87.67 328.74L91.36 325.04M99 325.04L102.69 328.74M99 328.74L102.69 325.04M110.33 325.04L114.02 328.74M110.33 328.74L114.02 325.04M121.66 325.04L125.36 328.74M121.66 328.74L125.36 325.04M132.99 325.04L136.69 328.74M132.99 328.74L136.69 325.04M144.31 325.04L148.01 328.74M144.31 328.74L148.01 325.04M155.64 325.04L159.34 328.74M155.64 328.74L159.34 325.04M166.97 325.04L170.67 328.74M166.97 328.74L170.67 325.04M178.31 325.04L182 328.74M178.31 328.74L182 325.04M189.63 325.04L193.33 328.74M189.63 328.74L193.33 325.04M200.97 325.04L204.66 328.74M200.97 328.74L204.66 325.04M212.29 325.04L215.99 328.74M212.29 328.74L215.99 325.04M31.02 338.66L34.72 342.36M31.02 342.36L34.72 338.66M42.34 338.66L46.05 342.36M42.34 342.36L46.05 338.66M53.67 338.66L57.38 342.36M53.67 342.36L57.38 338.66M65.01 338.66L68.7 342.36M65.01 342.36L68.7 338.66M76.34 338.66L80.03 342.36M76.34 342.36L80.03 338.66M87.67 338.66L91.36 342.36M87.67 342.36L91.36 338.66M99 338.66L102.69 342.36M99 342.36L102.69 338.66M110.33 338.66L114.02 342.36M110.33 342.36L114.02 338.66M121.66 338.66L125.36 342.36M121.66 342.36L125.36 338.66M132.99 338.66L136.69 342.36M132.99 342.36L136.69 338.66M144.31 338.66L148.01 342.36M144.31 342.36L148.01 338.66M155.64 338.66L159.34 342.36M155.64 342.36L159.34 338.66M166.97 338.66L170.67 342.36M166.97 342.36L170.67 338.66M178.31 338.66L182 342.36M178.31 342.36L182 338.66M189.63 338.66L193.33 342.36M189.63 342.36L193.33 338.66M200.97 338.66L204.66 342.36M200.97 342.36L204.66 338.66M212.29 338.66L215.99 342.36M212.29 342.36L215.99 338.66M31.02 352.29L34.72 355.99M31.02 355.99L34.72 352.29M42.34 352.29L46.05 355.99M42.34 355.99L46.05 352.29M53.67 352.29L57.38 355.99M53.67 355.99L57.38 352.29M65.01 352.29L68.7 355.99M65.01 355.99L68.7 352.29M76.34 352.29L80.03 355.99M76.34 355.99L80.03 352.29M87.67 352.29L91.36 355.99M87.67 355.99L91.36 352.29M99 352.29L102.69 355.99M99 355.99L102.69 352.29M110.33 352.29L114.02 355.99M110.33 355.99L114.02 352.29M121.66 352.29L125.36 355.99M121.66 355.99L125.36 352.29M132.99 352.29L136.69 355.99M132.99 355.99L136.69 352.29M144.31 352.29L148.01 355.99M144.31 355.99L148.01 352.29M155.64 352.29L159.34 355.99M155.64 355.99L159.34 352.29M166.97 352.29L170.67 355.99M166.97 355.99L170.67 352.29M178.31 352.29L182 355.99M178.31 355.99L182 352.29M189.63 352.29L193.33 355.99M189.63 355.99L193.33 352.29M200.97 352.29L204.66 355.99M200.97 355.99L204.66 352.29M212.29 352.29L215.99 355.99M212.29 355.99L215.99 352.29M31.02 365.91L34.72 369.61M31.02 369.61L34.72 365.91M42.34 365.91L46.05 369.61M42.34 369.61L46.05 365.91M53.67 365.91L57.38 369.61M53.67 369.61L57.38 365.91M65.01 365.91L68.7 369.61M65.01 369.61L68.7 365.91M76.34 365.91L80.03 369.61M76.34 369.61L80.03 365.91M87.67 365.91L91.36 369.61M87.67 369.61L91.36 365.91M99 365.91L102.69 369.61M99 369.61L102.69 365.91M110.33 365.91L114.02 369.61M110.33 369.61L114.02 365.91M121.66 365.91L125.36 369.61M121.66 369.61L125.36 365.91M132.99 365.91L136.69 369.61M132.99 369.61L136.69 365.91M144.31 365.91L148.01 369.61M144.31 369.61L148.01 365.91M155.64 365.91L159.34 369.61M155.64 369.61L159.34 365.91M166.97 365.91L170.67 369.61M166.97 369.61L170.67 365.91M178.31 365.91L182 369.61M178.31 369.61L182 365.91M189.63 365.91L193.33 369.61M189.63 369.61L193.33 365.91M200.97 365.91L204.66 369.61M200.97 369.61L204.66 365.91M31.02 379.54L34.72 383.24M31.02 383.24L34.72 379.54M42.34 379.54L46.05 383.24M42.34 383.24L46.05 379.54M53.67 379.54L57.38 383.24M53.67 383.24L57.38 379.54M65.01 379.54L68.7 383.24M65.01 383.24L68.7 379.54M76.34 379.54L80.03 383.24M76.34 383.24L80.03 379.54M87.67 379.54L91.36 383.24M87.67 383.24L91.36 379.54M99 379.54L102.69 383.24M99 383.24L102.69 379.54M110.33 379.54L114.02 383.24M110.33 383.24L114.02 379.54M121.66 379.54L125.36 383.24M121.66 383.24L125.36 379.54M132.99 379.54L136.69 383.24M132.99 383.24L136.69 379.54M144.31 379.54L148.01 383.24M144.31 383.24L148.01 379.54M155.64 379.54L159.34 383.24M155.64 383.24L159.34 379.54M166.97 379.54L170.67 383.24M166.97 383.24L170.67 379.54M178.31 379.54L182 383.24M178.31 383.24L182 379.54M189.63 379.54L193.33 383.24M189.63 383.24L193.33 379.54M31.02 393.16L34.72 396.86M31.02 396.86L34.72 393.16M42.34 393.16L46.05 396.86M42.34 396.86L46.05 393.16M53.67 393.16L57.38 396.86M53.67 396.86L57.38 393.16M65.01 393.16L68.7 396.86M65.01 396.86L68.7 393.16M76.34 393.16L80.03 396.86M76.34 396.86L80.03 393.16M87.67 393.16L91.36 396.86M87.67 396.86L91.36 393.16M99 393.16L102.69 396.86M99 396.86L102.69 393.16M110.33 393.16L114.02 396.86M110.33 396.86L114.02 393.16M121.66 393.16L125.36 396.86M121.66 396.86L125.36 393.16M132.99 393.16L136.69 396.86M132.99 396.86L136.69 393.16M144.31 393.16L148.01 396.86M144.31 396.86L148.01 393.16M155.64 393.16L159.34 396.86M155.64 396.86L159.34 393.16M166.97 393.16L170.67 396.86M166.97 396.86L170.67 393.16M189.63 393.16L193.33 396.86M189.63 396.86L193.33 393.16M53.67 406.79L57.38 410.49M53.67 410.49L57.38 406.79M65.01 406.79L68.7 410.49M65.01 410.49L68.7 406.79M87.67 406.79L91.36 410.49M87.67 410.49L91.36 406.79M99 406.79L102.69 410.49M99 410.49L102.69 406.79M110.33 406.79L114.02 410.49M110.33 410.49L114.02 406.79M121.66 406.79L125.36 410.49M121.66 410.49L125.36 406.79M132.99 406.79L136.69 410.49M132.99 410.49L136.69 406.79M144.31 406.79L148.01 410.49M144.31 410.49L148.01 406.79M155.64 406.79L159.34 410.49M155.64 410.49L159.34 406.79M166.97 406.79L170.67 410.49M166.97 410.49L170.67 406.79M178.31 406.79L182 410.49M178.31 410.49L182 406.79M87.67 420.41L91.36 424.11M87.67 424.11L91.36 420.41M99 420.41L102.69 424.11M99 424.11L102.69 420.41M110.33 420.41L114.02 424.11M110.33 424.11L114.02 420.41M121.66 420.41L125.36 424.11M121.66 424.11L125.36 420.41M132.99 420.41L136.69 424.11M132.99 424.11L136.69 420.41M144.31 420.41L148.01 424.11M144.31 424.11L148.01 420.41M155.64 420.41L159.34 424.11M155.64 424.11L159.34 420.41M166.97 420.41L170.67 424.11M166.97 424.11L170.67 420.41M99 434.04L102.69 437.74M99 437.74L102.69 434.04M110.33 434.04L114.02 437.74M110.33 437.74L114.02 434.04M121.66 434.04L125.36 437.74M121.66 437.74L125.36 434.04M132.99 434.04L136.69 437.74M132.99 437.74L136.69 434.04M144.31 434.04L148.01 437.74M144.31 437.74L148.01 434.04M155.64 434.04L159.34 437.74M155.64 437.74L159.34 434.04M99 447.66L102.69 451.36M99 451.36L102.69 447.66M110.33 447.66L114.02 451.36M110.33 451.36L114.02 447.66M121.66 447.66L125.36 451.36M121.66 451.36L125.36 447.66M132.99 447.66L136.69 451.36M132.99 451.36L136.69 447.66M144.31 447.66L148.01 451.36M144.31 451.36L148.01 447.66M155.64 447.66L159.34 451.36M155.64 451.36L159.34 447.66M166.97 447.66L170.67 451.36M166.97 451.36L170.67 447.66M178.31 447.66L182 451.36M178.31 451.36L182 447.66M99 461.29L102.69 464.99M99 464.99L102.69 461.29M110.33 461.29L114.02 464.99M110.33 464.99L114.02 461.29M121.66 461.29L125.36 464.99M121.66 464.99L125.36 461.29M132.99 461.29L136.69 464.99M132.99 464.99L136.69 461.29M144.31 461.29L148.01 464.99M144.31 464.99L148.01 461.29M155.64 461.29L159.34 464.99M155.64 464.99L159.34 461.29M166.97 461.29L170.67 464.99M166.97 464.99L170.67 461.29M178.31 461.29L182 464.99M178.31 464.99L182 461.29M189.63 461.29L193.33 464.99M189.63 464.99L193.33 461.29M99 474.91L102.69 478.61M99 478.61L102.69 474.91M110.33 474.91L114.02 478.61M110.33 478.61L114.02 474.91M121.66 474.91L125.36 478.61M121.66 478.61L125.36 474.91M132.99 474.91L136.69 478.61M132.99 478.61L136.69 474.91M144.31 474.91L148.01 478.61M144.31 478.61L148.01 474.91M155.64 474.91L159.34 478.61M155.64 478.61L159.34 474.91M166.97 474.91L170.67 478.61M166.97 478.61L170.67 474.91M178.31 474.91L182 478.61M178.31 478.61L182 474.91M99 488.54L102.69 492.24M99 492.24L102.69 488.54M110.33 488.54L114.02 492.24M110.33 492.24L114.02 488.54M121.66 488.54L125.36 492.24M121.66 492.24L125.36 488.54M132.99 488.54L136.69 492.24M132.99 492.24L136.69 488.54M144.31 488.54L148.01 492.24M144.31 492.24L148.01 488.54M166.97 488.54L170.67 492.24M166.97 492.24L170.67 488.54M178.31 488.54L182 492.24M178.31 492.24L182 488.54M110.33 502.16L114.02 505.86M110.33 505.86L114.02 502.16M121.66 502.16L125.36 505.86M121.66 505.86L125.36 502.16M132.99 502.16L136.69 505.86M132.99 505.86L136.69 502.16M144.31 502.16L148.01 505.86M144.31 505.86L148.01 502.16" stroke="#000" stroke-width="1.7" fill="none"/>
<text x="0" y="545.16" text-anchor="middle" font-size="10.2" stroke="#000" stroke-width="0.3" transform="translate(27.2 0) scale(0.82 1)" font-family="Liberation Sans, sans-serif">20W</text>
<text x="0" y="545.16" text-anchor="middle" font-size="10.2" stroke="#000" stroke-width="0.3" transform="translate(49.86 0) scale(0.82 1)" font-family="Liberation Sans, sans-serif">10W</text>
<text x="0" y="545.16" text-anchor="middle" font-size="10.2" stroke="#000" stroke-width="0.3" transform="translate(72.52 0) scale(0.82 1)" font-family="Liberation Sans, sans-serif">0</text>
<text x="0" y="545.16" text-anchor="middle" font-size="10.2" stroke="#000" stroke-width="0.3" transform="translate(95.18 0) scale(0.82 1)" font-family="Liberation Sans, sans-serif">10E</text>
<text x="0" y="545.16" text-anchor="middle" font-size="10.2" stroke="#000" stroke-width="0.3" transform="translate(117.84 0) scale(0.82 1)" font-family="Liberation Sans, sans-serif">20E</text>
<text x="0" y="545.16" text-anchor="middle" font-size="10.2" stroke="#000" stroke-width="0.3" transform="translate(140.5 0) scale(0.82 1)" font-family="Liberation Sans, sans-serif">30E</text>
<text x="0" y="545.16" text-anchor="middle" font-size="10.2" stroke="#000" stroke-width="0.3" transform="translate(163.16 0) scale(0.82 1)" font-family="Liberation Sans, sans-serif">40E</text>
<text x="0" y="545.16" text-anchor="middle" font-size="10.2" stroke="#000" stroke-width="0.3" transform="translate(185.82 0) scale(0.82 1)" font-family="Liberation Sans, sans-serif">50E</text>
<text x="0" y="545.16" text-anchor="middle" font-size="10.2" stroke="#000" stroke-width="0.3" transform="translate(208.48 0) scale(0.82 1)" font-family="Liberation Sans, sans-serif">60E</text>
<text x="0" y="528.05" text-anchor="end" font-size="10.2" stroke="#000" stroke-width="0.3" transform="translate(16.1 0) scale(0.84 1)" font-family="Liberation Sans, sans-serif">40S</text>
<text x="0" y="500.8" text-anchor="end" font-size="10.2" stroke="#000" stroke-width="0.3" transform="translate(16.1 0) scale(0.84 1)" font-family="Liberation Sans, sans-serif">30S</text>
<text x="0" y="473.55" text-anchor="end" font-size="10.2" stroke="#000" stroke-width="0.3" transform="translate(16.1 0) scale(0.84 1)" font-family="Liberation Sans, sans-serif">20S</text>
<text x="0" y="446.3" text-anchor="end" font-size="10.2" stroke="#000" stroke-width="0.3" transform="translate(16.1 0) scale(0.84 1)" font-family="Liberation Sans, sans-serif">10S</text>
<text x="0" y="419.05" text-anchor="end" font-size="10.2" stroke="#000" stroke-width="0.3" transform="translate(16.1 0) scale(0.84 1)" font-family="Liberation Sans, sans-serif">EQ</text>
<text x="0" y="391.8" text-anchor="end" font-size="10.2" stroke="#000" stroke-width="0.3" transform="translate(16.1 0) scale(0.84 1)" font-family="Liberation Sans, sans-serif">10N</text>
<text x="0" y="364.55" text-anchor="end" font-size="10.2" stroke="#000" stroke-width="0.3" transform="translate(16.1 0) scale(0.84 1)" font-family="Liberation Sans, sans-serif">20N</text>
<text x="0" y="337.3" text-anchor="end" font-size="10.2" stroke="#000" stroke-width="0.3" transform="translate(16.1 0) scale(0.84 1)" font-family="Liberation Sans, sans-serif">30N</text>
<text x="0" y="310.05" text-anchor="end" font-size="10.2" stroke="#000" stroke-width="0.3" transform="translate(16.1 0) scale(0.84 1)" font-family="Liberation Sans, sans-serif">40N</text>
<text x="117.84" y="293.25" text-anchor="middle" font-size="13.6" fill="#222" font-family="Liberation Sans, sans-serif">gfdl20</text>
<path d="M246 316.75L250.2 298.45L254.4 316.75Z" fill="#ae0000" stroke="#222" stroke-width="0.8"/>
<rect x="246" y="316.75" width="8.4" height="17.94" fill="#ca0000" stroke="#222" stroke-width="0.8"/>
<rect x="246" y="334.69" width="8.4" height="17.94" fill="#e41400" stroke="#222" stroke-width="0.8"/>
<rect x="246" y="352.63" width="8.4" height="17.94" fill="#ff3200" stroke="#222" stroke-width="0.8"/>
<rect x="246" y="370.57" width="8.4" height="17.94" fill="#ff6400" stroke="#222" stroke-width="0.8"/>
<rect x="246" y="388.51" width="8.4" height="17.94" fill="#ffa400" stroke="#222" stroke-width="0.8"/>
<rect x="246" y="406.45" width="8.4" height="17.94" fill="#ffc03c" stroke="#222" stroke-width="0.8"/>
<rect x="246" y="424.39" width="8.4" height="17.94" fill="#ffe070" stroke="#222" stroke-width="0.8"/>
<rect x="246" y="442.33" width="8.4" height="17.94" fill="#fff27a" stroke="#222" stroke-width="0.8"/>
<rect x="246" y="460.27" width="8.4" height="17.94" fill="#fff58a" stroke="#222" stroke-width="0.8"/>
<rect x="246" y="478.21" width="8.4" height="17.94" fill="#fff79c" stroke="#222" stroke-width="0.8"/>
<rect x="246" y="496.15" width="8.4" height="17.94" fill="#fffaae" stroke="#222" stroke-width="0.8"/>
<path d="M246 514.09L250.2 531.95L254.4 514.09Z" fill="#e6ffe1" stroke="#222" stroke-width="0.8"/>
<text x="260.2" y="321.05" font-size="12.2" stroke="#000" stroke-width="0.2" font-family="Liberation Sans, sans-serif">4</text>
<text x="257.9" y="338.99" font-size="12.2" stroke="#000" stroke-width="0.2" font-family="Liberation Sans, sans-serif">3.6</text>
<text x="257.9" y="356.93" font-size="12.2" stroke="#000" stroke-width="0.2" font-family="Liberation Sans, sans-serif">3.2</text>
<text x="257.9" y="374.87" font-size="12.2" stroke="#000" stroke-width="0.2" font-family="Liberation Sans, sans-serif">2.8</text>
<text x="257.9" y="392.81" font-size="12.2" stroke="#000" stroke-width="0.2" font-family="Liberation Sans, sans-serif">2.4</text>
<text x="259.9" y="410.75" font-size="12.2" stroke="#000" stroke-width="0.2" font-family="Liberation Sans, sans-serif">2</text>
<text x="257.9" y="428.69" font-size="12.2" stroke="#000" stroke-width="0.2" font-family="Liberation Sans, sans-serif">1.6</text>
<text x="257.9" y="446.63" font-size="12.2" stroke="#000" stroke-width="0.2" font-family="Liberation Sans, sans-serif">1.2</text>
<text x="257.9" y="464.57" font-size="12.2" stroke="#000" stroke-width="0.2" font-family="Liberation Sans, sans-serif">0.8</text>
<text x="257.9" y="482.51" font-size="12.2" stroke="#000" stroke-width="0.2" font-family="Liberation Sans, sans-serif">0.4</text>
<text x="259.9" y="500.45" font-size="12.2" stroke="#000" stroke-width="0.2" font-family="Liberation Sans, sans-serif">0</text>
<path d="M256.7 514.29H263.7" stroke="#000" stroke-width="1.25"/>
<text x="265.3" y="518.59" font-size="12.9" stroke="#000" stroke-width="0.2" font-family="Liberation Sans, sans-serif">0.4</text>
<clipPath id="c3"><rect x="341.53" y="299.64" width="192.61" height="231.62"/></clipPath>
<g clip-path="url(#c3)">
<path d="M347.2 299.64V531.26M369.86 299.64V531.26M392.52 299.64V531.26M415.18 299.64V531.26M437.84 299.64V531.26M460.5 299.64V531.26M483.16 299.64V531.26M505.82 299.64V531.26M528.48 299.64V531.26" stroke="#a0a0a0" stroke-width="0.9" stroke-dasharray="1 2.56" fill="none"/>
<path d="M341.53 524.45H534.14M341.53 497.2H534.14M341.53 469.95H534.14M341.53 442.7H534.14M341.53 415.45H534.14M341.53 388.2H534.14M341.53 360.95H534.14M341.53 333.7H534.14M341.53 306.45H534.14" stroke="#c4c4c4" stroke-width="0.9" stroke-dasharray="1 2.56" fill="none"/>
<rect x="358.53" y="292.83" width="11.63" height="13.93" fill="#ffa400"/>
<rect x="369.86" y="292.83" width="11.63" height="13.93" fill="#ffa400"/>
<rect x="381.19" y="292.83" width="11.63" height="13.93" fill="#ffa400"/>
<rect x="392.52" y="292.83" width="11.63" height="13.93" fill="#ff6400"/>
<rect x="403.85" y="292.83" width="11.63" height="13.93" fill="#ff6400"/>
<rect x="415.18" y="292.83" width="11.63" height="13.93" fill="#ff6400"/>
<rect x="426.51" y="292.83" width="11.63" height="13.93" fill="#ffa400"/>
<rect x="437.84" y="292.83" width="11.63" height="13.93" fill="#ff3200"/>
<rect x="449.17" y="292.83" width="11.63" height="13.93" fill="#ff6400"/>
<rect x="460.5" y="292.83" width="11.63" height="13.93" fill="#ff6400"/>
<rect x="471.83" y="292.83" width="11.63" height="13.93" fill="#ff6400"/>
<rect x="483.16" y="292.83" width="11.63" height="13.93" fill="#ff6400"/>
<rect x="494.49" y="292.83" width="11.63" height="13.93" fill="#ff6400"/>
<rect x="505.82" y="292.83" width="11.63" height="13.93" fill="#ffa400"/>
<rect x="517.15" y="292.83" width="11.63" height="13.93" fill="#ffa400"/>
<rect x="528.48" y="292.83" width="11.63" height="13.93" fill="#ffa400"/>
<rect x="358.53" y="306.45" width="11.63" height="13.93" fill="#ffa400"/>
<rect x="369.86" y="306.45" width="11.63" height="13.93" fill="#ffa400"/>
<rect x="381.19" y="306.45" width="11.63" height="13.93" fill="#ffc03c"/>
<rect x="392.52" y="306.45" width="11.63" height="13.93" fill="#ffc03c"/>
<rect x="403.85" y="306.45" width="11.63" height="13.93" fill="#ffa400"/>
<rect x="415.18" y="306.45" width="11.63" height="13.93" fill="#ffa400"/>
<rect x="426.51" y="306.45" width="11.63" height="13.93" fill="#ffc03c"/>
<rect x="437.84" y="306.45" width="11.63" height="13.93" fill="#ffa400"/>
<rect x="449.17" y="306.45" width="11.63" height="13.93" fill="#ff6400"/>
<rect x="460.5" y="306.45" width="11.63" height="13.93" fill="#ff6400"/>
<rect x="471.83" y="306.45" width="11.63" height="13.93" fill="#ff3200"/>
<rect x="483.16" y="306.45" width="11.63" height="13.93" fill="#ff3200"/>
<rect x="494.49" y="306.45" width="11.63" height="13.93" fill="#ff6400"/>
<rect x="505.82" y="306.45" width="11.63" height="13.93" fill="#ffa400"/>
<rect x="517.15" y="306.45" width="11.63" height="13.93" fill="#ffc03c"/>
<rect x="528.48" y="306.45" width="11.63" height="13.93" fill="#ffa400"/>
<rect x="358.53" y="320.08" width="11.63" height="13.93" fill="#ffc03c"/>
<rect x="369.86" y="320.08" width="11.63" height="13.93" fill="#ffa400"/>
<rect x="381.19" y="320.08" width="11.63" height="13.93" fill="#ff6400"/>
<rect x="392.52" y="320.08" width="11.63" height="13.93" fill="#ffa400"/>
<rect x="403.85" y="320.08" width="11.63" height="13.93" fill="#ffa400"/>
<rect x="415.18" y="320.08" width="11.63" height="13.93" fill="#ff6400"/>
<rect x="426.51" y="320.08" width="11.63" height="13.93" fill="#ffa400"/>
<rect x="437.84" y="320.08" width="11.63" height="13.93" fill="#ff6400"/>
<rect x="449.17" y="320.08" width="11.63" height="13.93" fill="#ff6400"/>
<rect x="460.5" y="320.08" width="11.63" height="13.93" fill="#ffa400"/>
<rect x="471.83" y="320.08" width="11.63" height="13.93" fill="#ff3200"/>
<rect x="483.16" y="320.08" width="11.63" height="13.93" fill="#ff6400"/>
<rect x="494.49" y="320.08" width="11.63" height="13.93" fill="#ff6400"/>
<rect x="505.82" y="320.08" width="11.63" height="13.93" fill="#ffa400"/>
<rect x="517.15" y="320.08" width="11.63" height="13.93" fill="#ffa400"/>
<rect x="528.48" y="320.08" width="11.63" height="13.93" fill="#ff6400"/>
<rect x="347.2" y="333.7" width="11.63" height="13.93" fill="#ffc03c"/>
<rect x="358.53" y="333.7" width="11.63" height="13.93" fill="#ffa400"/>
<rect x="369.86" y="333.7" width="11.63" height="13.93" fill="#ffa400"/>
<rect x="381.19" y="333.7" width="11.63" height="13.93" fill="#ff6400"/>
<rect x="392.52" y="333.7" width="11.63" height="13.93" fill="#ff3200"/>
<rect x="403.85" y="333.7" width="11.63" height="13.93" fill="#ff3200"/>
<rect x="415.18" y="333.7" width="11.63" height="13.93" fill="#e41400"/>
<rect x="426.51" y="333.7" width="11.63" height="13.93" fill="#ff3200"/>
<rect x="437.84" y="333.7" width="11.63" height="13.93" fill="#ff3200"/>
<rect x="449.17" y="333.7" width="11.63" height="13.93" fill="#e41400"/>
<rect x="460.5" y="333.7" width="11.63" height="13.93" fill="#ff3200"/>
<rect x="471.83" y="333.7" width="11.63" height="13.93" fill="#ff6400"/>
<rect x="483.16" y="333.7" width="11.63" height="13.93" fill="#ff6400"/>
<rect x="494.49" y="333.7" width="11.63" height="13.93" fill="#ff6400"/>
<rect x="505.82" y="333.7" width="11.63" height="13.93" fill="#ffa400"/>
<rect x="517.15" y="333.7" width="11.63" height="13.93" fill="#ffa400"/>
<rect x="528.48" y="333.7" width="11.63" height="13.93" fill="#ffa400"/>
<rect x="347.2" y="347.33" width="11.63" height="13.93" fill="#ffa400"/>
<rect x="358.53" y="347.33" width="11.63" height="13.93" fill="#ffa400"/>
<rect x="369.86" y="347.33" width="11.63" height="13.93" fill="#ff6400"/>
<rect x="381.19" y="347.33" width="11.63" height="13.93" fill="#ff3200"/>
<rect x="392.52" y="347.33" width="11.63" height="13.93" fill="#e41400"/>
<rect x="403.85" y="347.33" width="11.63" height="13.93" fill="#ff3200"/>
<rect x="415.18" y="347.33" width="11.63" height="13.93" fill="#ff3200"/>
<rect x="426.51" y="347.33" width="11.63" height="13.93" fill="#ff3200"/>
<rect x="437.84" y="347.33" width="11.63" height="13.93" fill="#ff3200"/>
<rect x="449.17" y="347.33" width="11.63" height="13.93" fill="#e41400"/>
<rect x="460.5" y="347.33" width="11.63" height="13.93" fill="#ca0000"/>
<rect x="471.83" y="347.33" width="11.63" height="13.93" fill="#ff3200"/>
<rect x="483.16" y="347.33" width="11.63" height="13.93" fill="#ff3200"/>
<rect x="494.49" y="347.33" width="11.63" height="13.93" fill="#ff6400"/>
<rect x="505.82" y="347.33" width="11.63" height="13.93" fill="#ff6400"/>
<rect x="517.15" y="347.33" width="11.63" height="13.93" fill="#ffa400"/>
<rect x="528.48" y="347.33" width="11.63" height="13.93" fill="#ffe070"/>
<rect x="347.2" y="360.95" width="11.63" height="13.93" fill="#ffa400"/>
<rect x="358.53" y="360.95" width="11.63" height="13.93" fill="#ff3200"/>
<rect x="369.86" y="360.95" width="11.63" height="13.93" fill="#ff3200"/>
<rect x="381.19" y="360.95" width="11.63" height="13.93" fill="#e41400"/>
<rect x="392.52" y="360.95" width="11.63" height="13.93" fill="#ff3200"/>
<rect x="403.85" y="360.95" width="11.63" height="13.93" fill="#ff3200"/>
<rect x="415.18" y="360.95" width="11.63" height="13.93" fill="#ff3200"/>
<rect x="426.51" y="360.95" width="11.63" height="13.93" fill="#ff3200"/>
<rect x="437.84" y="360.95" width="11.63" height="13.93" fill="#e41400"/>
<rect x="449.17" y="360.95" width="11.63" height="13.93" fill="#e41400"/>
<rect x="460.5" y="360.95" width="11.63" height="13.93" fill="#ff3200"/>
<rect x="471.83" y="360.95" width="11.63" height="13.93" fill="#ff3200"/>
<rect x="483.16" y="360.95" width="11.63" height="13.93" fill="#ff6400"/>
<rect x="494.49" y="360.95" width="11.63" height="13.93" fill="#ff3200"/>
<rect x="505.82" y="360.95" width="11.63" height="13.93" fill="#ff6400"/>
<rect x="517.15" y="360.95" width="11.63" height="13.93" fill="#ffa400"/>
<rect x="347.2" y="374.58" width="11.63" height="13.93" fill="#ff6400"/>
<rect x="358.53" y="374.58" width="11.63" height="13.93" fill="#ff3200"/>
<rect x="369.86" y="374.58" width="11.63" height="13.93" fill="#ff3200"/>
<rect x="381.19" y="374.58" width="11.63" height="13.93" fill="#ff6400"/>
<rect x="392.52" y="374.58" width="11.63" height="13.93" fill="#ff6400"/>
<rect x="403.85" y="374.58" width="11.63" height="13.93" fill="#ff6400"/>
<rect x="415.18" y="374.58" width="11.63" height="13.93" fill="#ff6400"/>
<rect x="426.51" y="374.58" width="11.63" height="13.93" fill="#ff6400"/>
<rect x="437.84" y="374.58" width="11.63" height="13.93" fill="#ff6400"/>
<rect x="449.17" y="374.58" width="11.63" height="13.93" fill="#ff6400"/>
<rect x="460.5" y="374.58" width="11.63" height="13.93" fill="#ff6400"/>
<rect x="471.83" y="374.58" width="11.63" height="13.93" fill="#ff6400"/>
<rect x="483.16" y="374.58" width="11.63" height="13.93" fill="#ff6400"/>
<rect x="494.49" y="374.58" width="11.63" height="13.93" fill="#ff6400"/>
<rect x="505.82" y="374.58" width="11.63" height="13.93" fill="#ffa400"/>
<rect x="347.2" y="388.2" width="11.63" height="13.93" fill="#ffc03c"/>
<rect x="358.53" y="388.2" width="11.63" height="13.93" fill="#ffa400"/>
<rect x="369.86" y="388.2" width="11.63" height="13.93" fill="#ffa400"/>
<rect x="381.19" y="388.2" width="11.63" height="13.93" fill="#ffa400"/>
<rect x="392.52" y="388.2" width="11.63" height="13.93" fill="#ffa400"/>
<rect x="403.85" y="388.2" width="11.63" height="13.93" fill="#ffa400"/>
<rect x="415.18" y="388.2" width="11.63" height="13.93" fill="#ffa400"/>
<rect x="426.51" y="388.2" width="11.63" height="13.93" fill="#ffa400"/>
<rect x="437.84" y="388.2" width="11.63" height="13.93" fill="#ffa400"/>
<rect x="449.17" y="388.2" width="11.63" height="13.93" fill="#ffa400"/>
<rect x="460.5" y="388.2" width="11.63" height="13.93" fill="#ffa400"/>
<rect x="471.83" y="388.2" width="11.63" height="13.93" fill="#ffa400"/>
<rect x="483.16" y="388.2" width="11.63" height="13.93" fill="#ffa400"/>
<rect x="494.49" y="388.2" width="11.63" height="13.93" fill="#ffa400"/>
<rect x="505.82" y="388.2" width="11.63" height="13.93" fill="#ffc03c"/>
<rect x="369.86" y="401.83" width="11.63" height="13.93" fill="#ffc03c"/>
<rect x="381.19" y="401.83" width="11.63" height="13.93" fill="#ffc03c"/>
<rect x="403.85" y="401.83" width="11.63" height="13.93" fill="#ffa400"/>
<rect x="415.18" y="401.83" width="11.63" height="13.93" fill="#ffa400"/>
<rect x="426.51" y="401.83" width="11.63" height="13.93" fill="#ffa400"/>
<rect x="437.84" y="401.83" width="11.63" height="13.93" fill="#ffa400"/>
<rect x="449.17" y="401.83" width="11.63" height="13.93" fill="#ffa400"/>
<rect x="460.5" y="401.83" width="11.63" height="13.93" fill="#ffa400"/>
<rect x="471.83" y="401.83" width="11.63" height="13.93" fill="#ffa400"/>
<rect x="483.16" y="401.83" width="11.63" height="13.93" fill="#ffa400"/>
<rect x="494.49" y="401.83" width="11.63" height="13.93" fill="#ffa400"/>
<rect x="403.85" y="415.45" width="11.63" height="13.93" fill="#ffc03c"/>
<rect x="415.18" y="415.45" width="11.63" height="13.93" fill="#ffa400"/>
<rect x="426.51" y="415.45" width="11.63" height="13.93" fill="#ff6400"/>
<rect x="437.84" y="415.45" width="11.63" height="13.93" fill="#ffa400"/>
<rect x="449.17" y="415.45" width="11.63" height="13.93" fill="#ffa400"/>
<rect x="460.5" y="415.45" width="11.63" height="13.93" fill="#ffc03c"/>
<rect x="471.83" y="415.45" width="11.63" height="13.93" fill="#ffc03c"/>
<rect x="483.16" y="415.45" width="11.63" height="13.93" fill="#ffc03c"/>
<rect x="415.18" y="429.08" width="11.63" height="13.93" fill="#ffc03c"/>
<rect x="426.51" y="429.08" width="11.63" height="13.93" fill="#ff6400"/>
<rect x="437.84" y="429.08" width="11.63" height="13.93" fill="#ff6400"/>
<rect x="449.17" y="429.08" width="11.63" height="13.93" fill="#ff6400"/>
<rect x="460.5" y="429.08" width="11.63" height="13.93" fill="#ffc03c"/>
<rect x="471.83" y="429.08" width="11.63" height="13.93" fill="#ffc03c"/>
<rect x="415.18" y="442.7" width="11.63" height="13.93" fill="#ff6400"/>
<rect x="426.51" y="442.7" width="11.63" height="13.93" fill="#ff6400"/>
<rect x="437.84" y="442.7" width="11.63" height="13.93" fill="#ff6400"/>
<rect x="449.17" y="442.7" width="11.63" height="13.93" fill="#ffa400"/>
<rect x="460.5" y="442.7" width="11.63" height="13.93" fill="#ffc03c"/>
<rect x="471.83" y="442.7" width="11.63" height="13.93" fill="#ffc03c"/>
<rect x="483.16" y="442.7" width="11.63" height="13.93" fill="#ffc03c"/>
<rect x="494.49" y="442.7" width="11.63" height="13.93" fill="#ffc03c"/>
<rect x="415.18" y="456.33" width="11.63" height="13.93" fill="#ff6400"/>
<rect x="426.51" y="456.33" width="11.63" height="13.93" fill="#ff3200"/>
<rect x="437.84" y="456.33" width="11.63" height="13.93" fill="#ff6400"/>
<rect x="449.17" y="456.33" width="11.63" height="13.93" fill="#ffa400"/>
<rect x="460.5" y="456.33" width="11.63" height="13.93" fill="#ffc03c"/>
<rect x="471.83" y="456.33" width="11.63" height="13.93" fill="#ffc03c"/>
<rect x="483.16" y="456.33" width="11.63" height="13.93" fill="#ffc03c"/>
<rect x="494.49" y="456.33" width="11.63" height="13.93" fill="#ffc03c"/>
<rect x="505.82" y="456.33" width="11.63" height="13.93" fill="#ffc03c"/>
<rect x="415.18" y="469.95" width="11.63" height="13.93" fill="#ffa400"/>
<rect x="426.51" y="469.95" width="11.63" height="13.93" fill="#ff6400"/>
<rect x="437.84" y="469.95" width="11.63" height="13.93" fill="#ff6400"/>
<rect x="449.17" y="469.95" width="11.63" height="13.93" fill="#ffa400"/>
<rect x="460.5" y="469.95" width="11.63" height="13.93" fill="#ffc03c"/>
<rect x="471.83" y="469.95" width="11.63" height="13.93" fill="#ffc03c"/>
<rect x="483.16" y="469.95" width="11.63" height="13.93" fill="#ffc03c"/>
<rect x="494.49" y="469.95" width="11.63" height="13.93" fill="#ffc03c"/>
<rect x="415.18" y="483.58" width="11.63" height="13.93" fill="#ffe070"/>
<rect x="426.51" y="483.58" width="11.63" height="13.93" fill="#ffa400"/>
<rect x="437.84" y="483.58" width="11.63" height="13.93" fill="#ff6400"/>
<rect x="449.17" y="483.58" width="11.63" height="13.93" fill="#ffc03c"/>
<rect x="460.5" y="483.58" width="11.63" height="13.93" fill="#ffc03c"/>
<rect x="483.16" y="483.58" width="11.63" height="13.93" fill="#ffe070"/>
<rect x="494.49" y="483.58" width="11.63" height="13.93" fill="#ffc03c"/>
<rect x="426.51" y="497.2" width="11.63" height="13.93" fill="#ffa400"/>
<rect x="437.84" y="497.2" width="11.63" height="13.93" fill="#ffc03c"/>
<rect x="449.17" y="497.2" width="11.63" height="13.93" fill="#ffe070"/>
<rect x="460.5" y="497.2" width="11.63" height="13.93" fill="#ffc03c"/>
<path d="M347.2 299.64V531.26M369.86 299.64V531.26M392.52 299.64V531.26M415.18 299.64V531.26M437.84 299.64V531.26M460.5 299.64V531.26M483.16 299.64V531.26M505.82 299.64V531.26M528.48 299.64V531.26" stroke="#a0a0a0" stroke-opacity="0.3" stroke-width="0.9" stroke-dasharray="1 2.56" fill="none"/>
<path d="M341.53 524.45H534.14M341.53 497.2H534.14M341.53 469.95H534.14M341.53 442.7H534.14M341.53 415.45H534.14M341.53 388.2H534.14M341.53 360.95H534.14M341.53 333.7H534.14M341.53 306.45H534.14" stroke="#d0d0d0" stroke-opacity="0.3" stroke-width="0.9" stroke-dasharray="1 2.56" fill="none"/>
<path d="M466.28 333.84L465.83 332.07L465.71 330.29L464.58 329.61L462.77 329.34L461.41 329.75L460.27 330.43L458.23 331.25L455.97 330.7L454.16 329.94L451.44 329.34L449.51 329.34L448.26 328.52L446.79 327.98L444.86 326.62L443.73 326.07L441.24 325.66L439.2 326.62L437.95 327.98L437.61 329.34L438.07 330.98L436.93 332.61L435.35 332.07L433.08 331.25L430.14 330.43L428.1 329.34L426.96 327.16L424.7 326.34L422.43 325.8L419.71 325.93L418.58 324.98L417.67 324.71L417.11 323.62L415.41 323.07L415.75 321.98L416.88 320.76L417.67 319.53L417.45 318.44L416.54 317.62L416.31 316.26L417.56 314.49L416.54 315.03L415.63 315.17L415.86 314.22L414.84 313.81L412.91 314.22L412.01 314.76L410.08 314.76L408.84 314.49L406.91 314.49L404.98 315.58L404.08 315.31L401.58 314.9L399.43 315.25L397.73 315.72L395.47 315.99L392.97 317.35L391.05 318.03L389.57 319.26L387.53 319.8L385.84 319.26L383.68 319.39L381.87 319.53L380.51 317.62L379.38 317.9L378.58 319.53L377.56 321.98L377.11 322.8L375.3 323.89L373.26 324.84L371.56 327.43L370.31 329.61L370.2 332.07L370.77 332.61L370.31 334.25L369.41 335.34L367.37 337.79L365.1 338.88L363.29 339.42L362.16 341.6L359.66 344.33L358.76 347.05L357.4 349.23L356.49 350.87L355.58 352.78L355.36 354.68L354.22 356.86L353.88 358.77L354.9 360.95L355.13 362.59L355.81 364.22L356.26 366.13L355.58 369.13L355.13 371.85L354.22 373.76L352.87 375.39L353.77 375.67L354.45 376.76L354.56 378.39L354.9 378.8L354.56 380.03L354.68 381.66L355.81 383.02L357.4 384.11L358.53 385.75L359.44 386.84L360.8 388.47L361.48 389.56L362.5 391.2L362.61 392.56L363.29 394.2L364.19 395.29L366.46 396.65L368.05 398.28L370.09 400.19L372.35 402.37L375.07 403.46L376.66 403.19L378.7 401.96L381.19 401.42L383.46 401.14L385.5 401.55L387.76 402.51L390.25 401.28L392.07 400.33L393.88 399.65L395.24 398.83L397.96 398.15L400.22 398.01L402.72 398.28L403.85 399.65L404.98 401.28L406.12 403.73L408.38 403.46L411.33 402.92L412.23 403.19L412.91 404.55L414.5 405.1L414.95 407.55L414.73 410.55L414.05 412.73L413.93 414.36L413.59 416.27L412.23 417.09L413.59 420.36L415.18 423.08L417.67 426.08L419.37 428.53L420.39 431.8L421.75 435.89L422.43 439.43L423.34 444.61L423.79 445.43L423.11 449.1L422.88 449.79L421.07 452.24L420.05 456.87L419.26 460.69L419.15 462.46L420.84 467.23L423.11 472.4L425.15 476.22L425.38 477.99L425.6 482.21L426.85 488.07L427.87 490.66L429.8 493.39L431.72 498.56L433.53 502.38L433.08 505.38L434.21 507.83L434.44 509.05L435.12 508.37L436.25 509.74L437.84 510.36L440.11 509.19L442.6 508.65L445.54 508.24L448.72 508.65L450.53 507.96L453.25 507.01L455.74 505.38L459.37 501.56L461.18 499.65L462.77 496.79L465.71 493.11L467.07 488.48L466.39 486.22L468.66 484.12L471.83 482.21L472.96 480.31L472.74 475.95L471.83 471.31L471.49 469.41L474.78 466.68L476.14 464.23L479.76 461.5L483.16 459.6L484.75 456.05L484.29 450.88L484.29 444.06L483.39 443.52L481.57 437.25L481.57 433.98L480.44 431.8L481.12 429.35L482.48 426.49L483.39 424.17L485.2 421.72L486.79 419.81L488.82 416.4L491.09 413.27L495.28 409.86L499.02 404.55L502.42 401.01L504.69 395.01L505.37 393.65L507.63 388.2L508.99 387.11L508.65 383.16L506.95 383.02L504.01 384.66L500.15 385.2L494.49 386.97L492.22 387.11L490.86 384.66L490.3 383.84L489.5 383.3L490.64 381.39L489.28 380.03L486.79 378.39L484.97 375.94L482.93 373.21L481.91 372.94L480.67 370.22L479.76 366.4L477.27 363.95L476.82 362.04L476.59 358.23L476.14 355.5L473.19 352.78L472.96 350.32L470.7 345.96L469.11 341.33L467.75 339.15L466.39 333.97L466.28 333.84M466.28 333.84L467.3 336.43L468.43 338.33L470.13 339.83L470.7 338.06L471.6 335.06L471.83 334.93L471.6 338.88L473.42 340.92L475.23 344.06L476.82 347.19L478.74 349.78L481.23 356.86L484.29 361.5L486.11 365.04L488.94 369.4L489.28 372.67L489.84 375.12L490.52 379.21L490.98 380.98L492.22 381.12L494.49 380.57L497.89 378.94L501.29 377.3L503.78 375.94L506.95 374.58L510.81 372.94L510.81 370.49L513.75 369.67L515.11 369.13L517.83 366.95L520.78 366.13L523.27 363.95L523.49 360.41L525.31 359.32L527.35 356.05L528.03 354.14L526.21 352.78L525.31 351.14L521.68 349.78L521 348.96L520.21 346.78L520.32 344.6L519.87 343.78L519.42 345.69L517.83 346.64L515.79 348.69L513.75 349.78L511.71 349.51L509.45 349.23L508.54 348.42L509.45 346.51L509.22 344.33L508.31 344.33L507.63 348.01L506.95 345.96L506.05 344.87L506.27 343.37L504.91 341.33L503.1 339.7L502.19 337.79L501.06 335.34L502.42 333.97L503.55 332.88L506.27 333.7L507.63 336.56L509.22 339.42L511.71 340.79L516.02 342.97L518.28 342.42L520.1 341.47L521.68 342.42L522.36 344.87L523.49 345.55L526.21 346.24L529.84 346.51L532.11 347.05L535.28 346.78M465.71 330.29L467.3 330.7L469.11 330.57L470.02 330.16L471.26 328.11L471.83 326.07L472.28 324.98L472.96 323.07L473.64 321.17L473.64 318.71L473.98 317.62L474.44 315.72L472.74 315.72L470.92 315.17L469.11 316.81L466.84 317.21L465.03 315.85L464.58 315.72L462.09 315.03L461.41 316.81L459.59 316.81L458.46 315.72L456.42 315.44L454.61 314.63L454.83 313.54L454.16 312.45L452.12 311.08L453.48 310.54L453.93 310.81L453.25 309.72L453.02 308.09L451.66 307.81L451.89 306.31L453.02 305.22L454.83 305.36L456.65 305.36L458.23 305.36L460.27 304.41L458.23 303.73L456.42 303.73L454.61 303.86L453.02 304.82L451.44 304.27L449.62 303.86L447.81 304L446.68 304.54L446.22 305.63L445.32 305.91L444.41 304.82L443.73 305.63L443.73 306.72L445.09 308.09L444.41 309.18L446 310.54L446.9 312.85L445.09 311.9L444.18 312.99L445.09 316.26L443.5 316.26L442.83 314.63L442.15 315.17L441.47 312.99L440.79 312.17L441.47 311.08L443.05 311.36L441.24 310.81L440.11 311.08L439.43 309.45L438.52 308.36L437.84 307.27L436.59 305.22L436.59 302.91L436.71 301.55L436.25 301.27L434.89 299.91L433.76 299.37M455.74 299.37L455.97 301L456.19 302.09L458.01 303.04L458.46 303.32L460.5 303.18L462.77 303.45L466.16 301.55L468.43 301L472.06 301L474.1 301.82L474.78 302.91L477.5 303.45L479.76 304L482.48 303.73L484.29 303.73L486.56 302.36L486.79 299.37M372.13 299.37L372.47 301.27L372.92 303.32L372.58 305.91L371.22 308.09L370.99 309.99L372.35 310.54L372.58 312.17L372.13 314.63L374.62 314.63L375.75 314.08L378.24 315.99L379.83 317.35L380.4 317.08L382.55 315.44L386.63 315.44L387.53 315.39L388.89 314.08L390.25 312.99L390.93 311.36L392.97 309.86L391.84 307.95L392.52 306.45L393.65 305.09L394.56 304L395.35 303.45L397.51 302.64L399.77 301.27L399.77 299.91L399.54 299.37M416.99 299.37L417.67 299.91L419.26 301L420.17 301.68L421.98 303.04L423.56 303.18L424.81 304.27L426.06 304.82L426.51 305.91L428.1 306.45L428.78 308.09L429.23 309.45L427.98 311.9L429 311.9L430.14 310.67L431.38 309.18L431.27 308.09L429.91 307.27L431.5 305.22L433.31 305.91L434.1 307L434.44 306.04L433.19 304.68L430.82 303.45L428.55 302.36L429.23 301.27L426.96 301.14L425.38 300.18L424.7 299.37M420.62 312.45L422.77 311.63L425.38 311.76L427.76 311.22L426.74 313.26L426.74 315.44L425.38 315.17L423.11 314.08L421.52 313.13L420.62 312.45M411.55 309.18L411.78 306.45L411.1 304.82L411.33 303.73L413.37 303.04L414.5 304L414.5 306.45L414.27 308.63L412.91 308.63L412.01 309.45L411.55 309.18M412.01 301.27L412.46 302.09L413.37 302.64L414.05 300.73L414.05 298.82L413.59 298.28L412.01 299.64L412.01 301.27M445.77 319.26L446 318.44L447.58 319.12L449.17 318.99L450.76 319.26L452.12 319.26L451.66 320.08L449.17 320.21L446.9 319.53L445.77 319.26M465.71 320.35L466.84 321.17L468.66 320.62L469.56 320.08L470.92 318.17L469.34 319.26L467.3 319.12L465.71 319.8L465.71 320.35M397.85 307.68L398.64 306.59L399.77 306.72L400.34 307.27L399.77 308.22L398.75 308.09L397.85 307.68M504.23 448.15L505.59 451.69L506.27 454.96L506.95 457.69L505.37 459.05L504.69 461.78L504.46 464.91L503.33 468.59L502.42 471.31L501.06 476.76L500.38 479.49L499.02 483.58L497.21 484.12L494.94 484.94L492.9 483.85L491.43 479.08L490.86 474.72L492.9 470.77L493.13 468.32L492.22 464.64L492.68 461.78L493.13 459.6L495.62 458.78L497.44 458.23L499.48 456.33L500.15 455.51L501.29 452.24L503.33 449.51L504.23 448.15M500.38 299.37L502.65 301.55L503.78 302.91L504.69 305.09L506.5 305.36L504.69 305.91L504.23 307.81L503.55 309.18L503.21 310.81L503.78 312.99L506.27 314.63L509.22 315.17L512.62 315.03L514.66 314.9L514.66 313.54L514.43 309.45L512.84 308.36L513.75 307.27L512.62 306.45L512.16 303.73L511.49 301.55L512.16 299.37M464.58 416.27L465.71 414.63L467.75 414.36L469.79 415.45L471.38 416.54L469.56 417.9L469.34 420.36L468.43 421.99L466.16 422.54L464.58 420.9L464.35 418.18L464.58 416.27M458.69 424.44L459.14 427.71L459.59 431.8L461.41 434.53L462.31 438.07L463.22 438.89L461.86 434.53L460.5 431.8L460.05 427.71L458.91 424.44M470.24 441.34L469.56 444.06L470.47 448.15L470.47 452.24L471.6 454.69L472.51 454.15L471.15 448.15L470.92 444.06L470.24 441.34M457.1 438.61L458.46 440.79L458.23 438.34L457.1 438.61M452.57 461.78L455.97 459.6L458.01 460.69L455.06 463.41L452.57 461.78M392.07 398.28L392.75 396.38L391.84 393.11L389.8 392.29L391.16 395.83L392.07 398.28M422.43 380.03L423.34 378.12L425.15 378.66L425.6 380.3L424.24 381.12L422.43 380.03M474.1 403.19L474.55 405.91L475.23 408.64L473.87 406.73L474.1 403.19M461.63 412.45L463.67 409.46L462.77 412.18L461.63 412.45M458.91 419.81L458.69 421.45L458.23 421.99L458.91 419.81M476.36 382.75L477.72 382.21L477.5 383.84L476.36 382.75M459.59 415.72L460.27 417.09L459.37 417.09L459.59 415.72M466.39 351.96L467.07 355.5L463.45 356.05L466.39 351.96M388.55 319.8L388.67 322.8L388.67 326.89L384.36 329.34L384.14 331.25L380.06 333.97L375.52 335.34L372.87 337.24L372.87 340.05M372.87 340.05L362.61 340.05M372.87 340.05L372.87 344.6L365.33 344.6L365.33 351.55L362.84 353.46L363.06 357.33L354 357.33M372.87 341.06L381.58 347.33M381.58 347.33L377.79 347.46L380.06 371.03L380.51 373.21L372.13 373.21L366.91 373.49L366.23 372.94L364.87 375.39M364.87 375.39L363.06 373.21L360.8 370.22L358.53 370.22L355.13 371.58M381.58 347.33L395.24 358.23L399.77 361.5L402.15 363.27M402.15 363.27L405.66 362.45L409.51 358.5L419.69 351.41M419.69 351.41L415.63 347.87L414.05 343.51L414.95 341.88L414.73 335.34L414.05 333.16M414.05 333.16L411.33 326.89L411.33 321.17L411.55 314.9M414.05 333.16L415.86 329.61L418.58 325.06M419.69 351.41L426.51 352.78L446.9 362.31L446.9 360.95L449.17 360.95L449.17 355.5M449.17 355.5L449.17 335.06L449.51 329.34M449.17 355.5L476.14 355.5M470.02 330.16L471.6 335.06M402.15 363.27L402.04 370.76L400.45 373.76L394.79 374.58L392.97 374.85M380.06 387.11L380.28 383.3L382.55 380.84L383.46 378.66L387.99 375.94L392.97 374.85M392.97 374.85L393.65 377.85L394.79 380.03L397.51 381.12L397.96 383.02M397.96 383.02L400.68 383.57L401.81 378.66L406.12 378.39L408.38 380.03L412.91 380.57L416.31 379.21L420.84 379.75L423.34 378.12M423.34 378.12L427.64 369.4L428.1 361.22L426.51 352.78M446.9 362.31L446.9 372.67L443.5 377.3L442.37 380.57L444.18 384.39L444.41 385.75M427.64 395.01L432.17 393.65L434.44 391.2L437.84 390.65L441.69 386.84L444.41 385.75M424.47 379.75L425.38 381.39L426.51 385.48L426.51 388.2L424.24 389.56L427.64 395.01M420.84 379.75L423.11 388.2L420.17 392.29L418.81 396.92L416.54 396.38L414.73 399.1L412.01 402.92M398.64 398.01L398.64 394.2L398.86 390.93L400.68 387.11L400.68 383.57M396.15 398.56L396.15 390.93L395.69 389.56L394.56 385.48M395.24 398.83L393.88 396.65L393.65 393.65L393.43 388.2L392.52 385.48M385.5 401.55L386.18 396.38L386.86 393.65L386.18 389.29L386.18 385.48L392.52 385.48L394.56 385.48L397.96 383.02M375.52 403.46L373.49 397.74L373.94 395.01L374.39 392.29L374.85 388.2L378.47 387.38L380.06 387.11L383.46 388.47L386.18 389.29M366.46 396.65L367.59 393.65L369.18 392.29L368.73 390.11L367.14 388.2L364.19 388.47L362.5 391.2M373.94 395.01L370.99 395.01L369.18 392.29M367.14 388.2L368.27 385.48L366.91 381.66L361.48 381.12L358.53 380.84L354.68 381.66M366.91 381.66L364.87 375.39M358.53 385.75L360.8 383.84L361.48 381.12M354.56 378.39L357.4 378.39L359.89 379.21L361.25 378.66L358.3 377.85L354.9 378.8M374.39 392.29L373.49 388.2L373.71 384.11L372.13 382.21L366.91 381.66M380.06 387.11L380.51 385.48L381.64 388.75M445.77 386.84L449.17 387.11L453.7 389.29L459.59 389.02L462.31 389.02L465.71 384.11L467.07 382.21L467.98 387.11L469.79 389.56M475.23 376.48L472.51 380.03L469.79 386.84L469.79 389.56L469.79 392.56L467.3 394.2L468.43 399.1L471.83 401.83L473.87 402.92M475.23 376.48L477.04 375.12L478.85 367.76L479.99 366.4M475.23 376.48L479.76 375.94L483.16 375.94L485.43 377.85L488.37 381.39L489.5 383.3M489.5 383.3L489.5 385.48L490.41 385.48M489.5 385.48L491.32 390.11L492.22 390.93L501.29 393.65L494.49 402.1L492.22 402.1L487.69 404.55L487.47 404.82M485.43 420.08L485.43 407.82L487.47 404.82M473.87 402.92L476.36 403.46L478.85 405.64L482.25 406.19L484.97 404.01L487.47 404.82M469.34 404.01L470.47 402.92L473.87 402.92M469.34 404.01L471.6 410.82L469.56 413.82L469.56 418.18M469.56 418.18L477.72 423.63L477.95 425.26L481.35 428.26M459.59 419.27L462.09 418.18L464.13 418.18L469.56 418.18M462.31 405.91L464.58 405.1L469.34 404.01M454.61 401.83L456.87 403.73L459.59 402.92L462.31 405.91M444.41 385.75L445.77 386.84L446.9 392.02L449.85 395.01L454.61 401.83M427.64 395.01L425.6 398.56L425.38 403.19L427.64 408.64L429.23 409.46L428.78 410.27M428.78 410.27L424.24 409.46L422.66 409.46L418.13 409.46L414.73 409.46M418.13 409.46L418.13 412.73L414.05 412.73M418.13 412.73L424.24 411.64L425.38 416L424.02 419.54L424.92 421.99L422.2 421.72L419.71 422.54L417.67 426.08M428.78 410.27L432.4 405.64L434.67 405.91L436.71 401.28L441.24 403.73L443.5 404.01L448.04 401.83L450.3 401.01L454.61 401.83M428.78 410.27L432.4 416.81L429.23 421.45L427.19 427.17L424.24 427.71L420.17 431.26M419.71 429.08L420.84 429.08L421.98 428.26M420.39 431.8L421.98 431.53L429.68 431.8L432.17 437.25L436.48 436.98L441.92 435.34L442.37 445.43L446.9 445.43L450.08 446.24L451.44 444.88L454.16 447.06L457.1 450.6L460.05 451.97L459.37 448.42L457.1 445.43L457.33 438.61L462.31 438.07M442.37 445.43L446.9 446.79L446.9 450.88L442.37 450.88L442.37 459.87L445.32 463.41M419.15 462.46L421.98 461.78L424.7 462.87L434.44 462.87L439.88 464.23L445.32 463.41L449.62 463.96M440.11 465.32L440.11 475.4L437.84 475.4L437.84 483.03L437.84 492.84L435.57 493.93L432.17 493.66L429.8 493.39M437.84 483.03L439.65 488.48L443.73 486.3L445.77 484.94L449.17 485.48L451.44 482.76L453.7 480.85L457.1 476.76L459.14 475.95M449.62 463.96L451.44 467.23L454.38 471.31L455.97 474.04L459.14 475.95M459.14 475.95L463.45 476.49M463.45 476.49L465.94 473.49L467.07 469.13L466.62 465.86L467.3 461.78L467.07 460.96L461.41 457.96M449.62 463.96L453.7 463.96L455.97 460.41L459.37 458.51L461.41 457.96M461.41 457.96L460.95 456.05L467.75 453.6L466.62 450.88L467.98 445.43L467.75 441.61L467.07 441.07L463.22 438.89M467.75 453.6L470.7 454.96L472.51 459.6L472.06 461.78L472.51 462.05L473.87 460.14L473.64 456.33L472.06 452.24L471.6 446.79M467.07 441.07L469.56 441.34L470.24 441.34M471.6 446.79L475.23 447.33L478.63 446.24L480.89 445.97L484.07 444.06M463.45 476.49L465.03 482.21L465.03 486.03L467.07 488.62M464.81 486.03L463.45 485.48L462.31 487.12L462.99 489.57L464.81 489.84L464.81 486.03M453.7 496.11L455.74 494.2L457.55 493.39L459.14 495.29L458.46 497.2L456.19 498.84L454.61 498.02L453.7 496.11M459.59 419.27L458.23 423.08L459.14 423.35L461.41 421.72L462.31 418.18M458.23 423.08L458.69 424.44M461.41 421.72L461.86 424.72L460.5 427.17L459.14 427.71M462.31 405.91L463.22 409.18L461.63 412.18L460.27 415.45L459.59 419.27M469.34 404.01L468.43 405.1L465.03 405.64L462.31 405.91M471.83 335.06L475.23 335.61L476.36 329.61L480.89 327.71L481.57 327.43M472.96 325.25L473.64 326.34L473.19 328.8L471.83 335.06M474.1 325.53L473.64 326.34M472.96 325.25L473.87 324.16L475.46 322.26L474.1 321.17L473.64 320.89M473.87 317.62L475.68 315.17L478.63 315.17L483.16 314.9L486.11 314.35L488.6 314.35M480.44 324.44L485.43 321.71L485.88 316.26L488.6 314.35M481.57 327.43L480.89 328.25L487.69 330.7L493.81 335.88L497.89 336.15L500.15 336.43L500.61 337.79L502.19 337.79M497.89 336.15L501.06 335.34L501.29 333.7L500.61 330.98L501.06 328.25L496.98 325.53L495.4 322.8L496.53 320.08L495.4 317.62L494.04 314.08L492.9 313.81L493.58 311.9L492.9 308.09L494.04 307.27M488.6 314.35L492.9 313.81M475.46 322.26L480.44 324.44L481.57 327.43M494.04 307.27L491.32 306.18L491.32 303.45L494.49 302.91L497.89 303.45L498.12 301.55L496.76 301L494.49 299.64L491.09 299.37M494.04 307.27L496.3 308.09L497.89 309.18L499.02 308.63L501.29 307.54L501.97 309.45L503.21 310.81M491.32 303.45L488.82 302.64L486.56 302.36M514.66 313.54L518.06 311.9L522.36 311.9L526.21 312.99L529.16 314.63L531.2 315.72L531.2 319.26L529.61 322.26L530.52 324.16L529.84 325.53L530.52 329.61L532.33 329.89L532.56 331.52L530.52 333.97L532.79 337.79L535.28 341.88M532.11 347.05L532.56 344.06L535.28 342.97M476.14 355.5L474.55 354.68L473.19 352.78M479.99 366.4L477.5 364.22M488.94 369.4L491.09 367.76L496.76 368.31L499.02 369.4L502.87 365.86L510.35 363.68L512.84 370.22M510.35 363.68L517.15 360.95L518.51 355.5L517.6 353.59L511.71 353.05L509.45 349.23M518.51 355.5L519.42 350.05L520.32 347.6M500.61 337.79L502.19 337.79M452.8 302.91L452.12 304M452.8 302.91L453.48 301.82L455.74 301M452.8 302.91L450.98 302.91L447.13 302.09L444.18 302.91L440.11 304L439.43 306.18L437.84 307.27M438.97 302.91L439.2 301.27L437.84 299.64M436.25 301.27L436.93 299.37M444.18 302.91L444.64 301L443.28 299.37M357.62 339.15L356.72 339.7L357.17 338.61L357.62 339.15M355.58 338.06L354.22 338.88L354.9 338.06L355.58 338.06M361.93 336.43L361.25 336.7L362.16 335.88L361.93 336.43M360.8 337.24L360.12 338.88L361.02 338.06L360.8 337.24M353.54 326.07L354.68 326.34L354 326.48L353.54 326.07M338.82 374.3L339.27 374.85L338.82 374.03M337.23 370.22L338.14 370.22M340.63 369.94L340.63 370.22M340.86 371.58L340.63 371.85M359.89 436.98L360.12 437.25M379.6 458.78L379.49 459.05M364.65 516.55L364.87 516.55M370.09 525.27L369.97 525.4M411.78 405.37L412.69 405.91L412.23 406.73L411.78 405.37M407.25 414.63L407.7 414.91M409.29 411.09L409.4 410.82M490.64 446.52L491.09 447.88M493.13 448.42L493.36 448.97M494.72 450.33L494.94 450.6M491.54 448.97L491.77 449.24M517.83 472.4L518.74 472.68L518.51 473.49L517.83 472.4M522.82 469.95L523.49 470.77L522.82 471.31L522.82 469.95M518.06 427.99L518.28 428.26M481.35 430.98L481.8 432.62M482.48 429.08L482.71 430.17M482.25 436.71L482.93 437.25M513.3 380.84L516.02 381.39L514.43 381.93L513.3 380.84M506.95 344.06L507.18 345.15M424.92 317.21L425.38 317.62M395.24 309.45L396.15 308.9M401.13 306.72L402.26 306.45M455.51 317.08L456.42 316.26L455.74 316.81M453.25 312.99L452.8 312.72M451.44 310.81L451.66 311.36M452.12 309.18L452.8 308.36M445.54 309.45L448.04 311.36L447.13 310.27M439.2 311.36L439.65 310.54M437.16 307L437.84 307.81M450.08 314.35L450.3 314.63M449.62 316.26L450.08 316.26M451.44 308.63L452.12 308.09L452.8 308.63L452.12 309.18L451.44 308.63M451.21 310.81L451.55 310.27L451.89 310.81L451.55 311.36L451.21 310.81M452.8 312.65L453.36 312.45L453.93 312.65L453.36 312.85L452.8 312.65M451.44 312.92L451.89 312.72L452.34 312.92L451.89 313.13L451.44 312.92M449.96 314.42L450.25 314.08L450.53 314.42L450.25 314.76L449.96 314.42M449.4 314.42L449.62 314.22L449.85 314.42L449.62 314.63L449.4 314.42M448.49 312.24L448.83 311.9L449.17 312.24L448.83 312.58L448.49 312.24M449.17 313.06L449.45 312.85L449.74 313.06L449.45 313.26L449.17 313.06M449.85 313.4L450.02 313.26L450.19 313.4L450.02 313.54L449.85 313.4M448.83 313.43L448.98 313.26L449.12 313.43L448.98 313.59L448.83 313.43M447.54 312.92L447.67 312.72L447.81 312.92L447.67 313.13L447.54 312.92M447.7 315.37L447.92 315.17L448.15 315.37L447.92 315.58L447.7 315.37M449.96 316.22L450.13 316.04L450.3 316.22L450.13 316.4L449.96 316.22M453.59 315.1L454.04 314.9L454.5 315.1L454.04 315.31L453.59 315.1M455.29 316.87L455.91 316.12L456.53 316.87L455.91 317.62L455.29 316.87M453.93 318.44L454.1 317.9L454.27 318.44L454.1 318.99L453.93 318.44M449.28 306.72L449.74 306.45L450.19 306.72L449.74 307L449.28 306.72M448.04 304.61L448.38 304.27L448.72 304.61L448.38 304.95L448.04 304.61M450.19 305.2L450.42 305.09L450.64 305.2L450.42 305.31L450.19 305.2M447.81 309.52L448.04 309.31L448.26 309.52L448.04 309.72L447.81 309.52M437.05 307.54L437.56 307L438.07 307.54L437.56 308.09L437.05 307.54M438.63 311.15L439.14 310.54L439.65 311.15L439.14 311.76L438.63 311.15M439.2 312.45L439.6 312.04L439.99 312.45L439.6 312.85L439.2 312.45M444.41 316.6L444.64 316.26L444.86 316.6L444.64 316.94L444.41 316.6M445.54 313.88L445.71 313.67L445.88 313.88L445.71 314.08L445.54 313.88M444.64 312.79L444.86 312.58L445.09 312.79L444.86 312.99L444.64 312.79M448.94 315.51L449.17 315.31L449.4 315.51L449.17 315.72L448.94 315.51M451.89 313.81L452.06 313.67L452.23 313.81L452.06 313.94L451.89 313.81M453.36 314.22L453.53 314.08L453.7 314.22L453.53 314.35L453.36 314.22M452.57 310.4L452.68 310.27L452.8 310.4L452.68 310.54L452.57 310.4M450.42 316.81L450.7 316.53L450.98 316.81L450.7 317.08L450.42 316.81M452.12 319.05L452.29 318.85L452.46 319.05L452.29 319.26L452.12 319.05M446.79 309.11L447.02 308.9L447.24 309.11L447.02 309.31L446.79 309.11M446 308.77L446.17 308.63L446.34 308.77L446.17 308.9L446 308.77M443.5 306.52L443.73 306.31L443.96 306.52L443.73 306.72L443.5 306.52M444.18 309.31L445.32 309.86L446.22 310.54L447.13 311.36L448.15 311.9L447.81 311.22L447.13 310.27L445.77 309.31L444.64 309.04L444.18 309.31M441.92 310.95L443.28 311.49L444.64 312.04L443.5 311.22L442.15 310.81M440.79 312.17L440.33 312.58L441.47 313.54L441.69 314.76L442.26 315.31L442.83 314.9L443.28 316.12L443.73 315.17L444.07 315.99L444.75 316.12L444.52 314.35L444.07 313.13L445.09 312.99L445.54 313.54L444.86 312.04" stroke="#000" stroke-width="0.9" fill="none" stroke-linejoin="round"/>
<g fill="#111"><circle cx="359.89" cy="437.11" r="0.75"/><circle cx="379.6" cy="458.91" r="0.75"/><circle cx="364.65" cy="516.55" r="0.75"/><circle cx="370.09" cy="525.27" r="0.75"/><circle cx="518.28" cy="427.99" r="0.75"/><circle cx="519.42" cy="442.7" r="0.75"/><circle cx="497.21" cy="441.07" r="0.75"/><circle cx="523.04" cy="470.5" r="0.75"/><circle cx="518.28" cy="472.95" r="0.75"/><circle cx="536.18" cy="469.13" r="0.75"/><circle cx="492.22" cy="448.7" r="0.75"/><circle cx="490.64" cy="447.06" r="0.75"/><circle cx="494.72" cy="450.33" r="0.75"/><circle cx="361.02" cy="336.7" r="0.75"/><circle cx="340.63" cy="371.58" r="0.75"/><circle cx="337.46" cy="374.85" r="0.75"/><circle cx="335.87" cy="369.13" r="0.75"/><circle cx="409.29" cy="411.09" r="0.75"/><circle cx="407.48" cy="414.91" r="0.75"/><circle cx="405.21" cy="419.27" r="0.75"/></g>
</g>
<rect x="341.53" y="299.64" width="192.61" height="231.62" fill="none" stroke="#222" stroke-width="1.1"/>
<path d="M347.2 531.26V533.26M369.86 531.26V533.26M392.52 531.26V533.26M415.18 531.26V533.26M437.84 531.26V533.26M460.5 531.26V533.26M483.16 531.26V533.26M505.82 531.26V533.26M528.48 531.26V533.26M341.53 524.45H339.53M341.53 497.2H339.53M341.53 469.95H339.53M341.53 442.7H339.53M341.53 415.45H339.53M341.53 388.2H339.53M341.53 360.95H339.53M341.53 333.7H339.53M341.53 306.45H339.53" stroke="#222" stroke-width="1" fill="none"/>
<path d="M362.34 297.79L366.05 301.49M362.34 301.49L366.05 297.79M373.67 297.79L377.38 301.49M373.67 301.49L377.38 297.79M385 297.79L388.71 301.49M385 301.49L388.71 297.79M396.33 297.79L400.04 301.49M396.33 301.49L400.04 297.79M407.66 297.79L411.37 301.49M407.66 301.49L411.37 297.79M418.99 297.79L422.69 301.49M418.99 301.49L422.69 297.79M430.32 297.79L434.02 301.49M430.32 301.49L434.02 297.79M441.65 297.79L445.36 301.49M441.65 301.49L445.36 297.79M452.98 297.79L456.69 301.49M452.98 301.49L456.69 297.79M464.31 297.79L468.01 301.49M464.31 301.49L468.01 297.79M475.64 297.79L479.35 301.49M475.64 301.49L479.35 297.79M486.97 297.79L490.68 301.49M486.97 301.49L490.68 297.79M498.3 297.79L502 301.49M498.3 301.49L502 297.79M509.63 297.79L513.34 301.49M509.63 301.49L513.34 297.79M520.97 297.79L524.67 301.49M520.97 301.49L524.67 297.79M532.29 297.79L536 301.49M532.29 301.49L536 297.79M362.34 311.41L366.05 315.11M362.34 315.11L366.05 311.41M373.67 311.41L377.38 315.11M373.67 315.11L377.38 311.41M385 311.41L388.71 315.11M385 315.11L388.71 311.41M396.33 311.41L400.04 315.11M396.33 315.11L400.04 311.41M407.66 311.41L411.37 315.11M407.66 315.11L411.37 311.41M418.99 311.41L422.69 315.11M418.99 315.11L422.69 311.41M430.32 311.41L434.02 315.11M430.32 315.11L434.02 311.41M452.98 311.41L456.69 315.11M452.98 315.11L456.69 311.41M464.31 311.41L468.01 315.11M464.31 315.11L468.01 311.41M475.64 311.41L479.35 315.11M475.64 315.11L479.35 311.41M486.97 311.41L490.68 315.11M486.97 315.11L490.68 311.41M498.3 311.41L502 315.11M498.3 315.11L502 311.41M509.63 311.41L513.34 315.11M509.63 315.11L513.34 311.41M520.97 311.41L524.67 315.11M520.97 315.11L524.67 311.41M532.29 311.41L536 315.11M532.29 315.11L536 311.41M362.34 325.04L366.05 328.74M362.34 328.74L366.05 325.04M373.67 325.04L377.38 328.74M373.67 328.74L377.38 325.04M385 325.04L388.71 328.74M385 328.74L388.71 325.04M396.33 325.04L400.04 328.74M396.33 328.74L400.04 325.04M407.66 325.04L411.37 328.74M407.66 328.74L411.37 325.04M418.99 325.04L422.69 328.74M418.99 328.74L422.69 325.04M430.32 325.04L434.02 328.74M430.32 328.74L434.02 325.04M441.65 325.04L445.36 328.74M441.65 328.74L445.36 325.04M452.98 325.04L456.69 328.74M452.98 328.74L456.69 325.04M464.31 325.04L468.01 328.74M464.31 328.74L468.01 325.04M475.64 325.04L479.35 328.74M475.64 328.74L479.35 325.04M486.97 325.04L490.68 328.74M486.97 328.74L490.68 325.04M498.3 325.04L502 328.74M498.3 328.74L502 325.04M509.63 325.04L513.34 328.74M509.63 328.74L513.34 325.04M520.97 325.04L524.67 328.74M520.97 328.74L524.67 325.04M532.29 325.04L536 328.74M532.29 328.74L536 325.04M351.01 338.66L354.72 342.36M351.01 342.36L354.72 338.66M362.34 338.66L366.05 342.36M362.34 342.36L366.05 338.66M373.67 338.66L377.38 342.36M373.67 342.36L377.38 338.66M385 338.66L388.71 342.36M385 342.36L388.71 338.66M396.33 338.66L400.04 342.36M396.33 342.36L400.04 338.66M407.66 338.66L411.37 342.36M407.66 342.36L411.37 338.66M418.99 338.66L422.69 342.36M418.99 342.36L422.69 338.66M430.32 338.66L434.02 342.36M430.32 342.36L434.02 338.66M441.65 338.66L445.36 342.36M441.65 342.36L445.36 338.66M452.98 338.66L456.69 342.36M452.98 342.36L456.69 338.66M464.31 338.66L468.01 342.36M464.31 342.36L468.01 338.66M475.64 338.66L479.35 342.36M475.64 342.36L479.35 338.66M486.97 338.66L490.68 342.36M486.97 342.36L490.68 338.66M498.3 338.66L502 342.36M498.3 342.36L502 338.66M509.63 338.66L513.34 342.36M509.63 342.36L513.34 338.66M520.97 338.66L524.67 342.36M520.97 342.36L524.67 338.66M532.29 338.66L536 342.36M532.29 342.36L536 338.66M351.01 352.29L354.72 355.99M351.01 355.99L354.72 352.29M362.34 352.29L366.05 355.99M362.34 355.99L366.05 352.29M373.67 352.29L377.38 355.99M373.67 355.99L377.38 352.29M385 352.29L388.71 355.99M385 355.99L388.71 352.29M396.33 352.29L400.04 355.99M396.33 355.99L400.04 352.29M407.66 352.29L411.37 355.99M407.66 355.99L411.37 352.29M418.99 352.29L422.69 355.99M418.99 355.99L422.69 352.29M430.32 352.29L434.02 355.99M430.32 355.99L434.02 352.29M441.65 352.29L445.36 355.99M441.65 355.99L445.36 352.29M452.98 352.29L456.69 355.99M452.98 355.99L456.69 352.29M464.31 352.29L468.01 355.99M464.31 355.99L468.01 352.29M475.64 352.29L479.35 355.99M475.64 355.99L479.35 352.29M486.97 352.29L490.68 355.99M486.97 355.99L490.68 352.29M498.3 352.29L502 355.99M498.3 355.99L502 352.29M509.63 352.29L513.34 355.99M509.63 355.99L513.34 352.29M520.97 352.29L524.67 355.99M520.97 355.99L524.67 352.29M532.29 352.29L536 355.99M532.29 355.99L536 352.29M351.01 365.91L354.72 369.61M351.01 369.61L354.72 365.91M362.34 365.91L366.05 369.61M362.34 369.61L366.05 365.91M373.67 365.91L377.38 369.61M373.67 369.61L377.38 365.91M385 365.91L388.71 369.61M385 369.61L388.71 365.91M396.33 365.91L400.04 369.61M396.33 369.61L400.04 365.91M407.66 365.91L411.37 369.61M407.66 369.61L411.37 365.91M418.99 365.91L422.69 369.61M418.99 369.61L422.69 365.91M430.32 365.91L434.02 369.61M430.32 369.61L434.02 365.91M441.65 365.91L445.36 369.61M441.65 369.61L445.36 365.91M452.98 365.91L456.69 369.61M452.98 369.61L456.69 365.91M464.31 365.91L468.01 369.61M464.31 369.61L468.01 365.91M475.64 365.91L479.35 369.61M475.64 369.61L479.35 365.91M486.97 365.91L490.68 369.61M486.97 369.61L490.68 365.91M498.3 365.91L502 369.61M498.3 369.61L502 365.91M509.63 365.91L513.34 369.61M509.63 369.61L513.34 365.91M520.97 365.91L524.67 369.61M520.97 369.61L524.67 365.91M351.01 379.54L354.72 383.24M351.01 383.24L354.72 379.54M362.34 379.54L366.05 383.24M362.34 383.24L366.05 379.54M373.67 379.54L377.38 383.24M373.67 383.24L377.38 379.54M385 379.54L388.71 383.24M385 383.24L388.71 379.54M396.33 379.54L400.04 383.24M396.33 383.24L400.04 379.54M407.66 379.54L411.37 383.24M407.66 383.24L411.37 379.54M418.99 379.54L422.69 383.24M418.99 383.24L422.69 379.54M430.32 379.54L434.02 383.24M430.32 383.24L434.02 379.54M441.65 379.54L445.36 383.24M441.65 383.24L445.36 379.54M452.98 379.54L456.69 383.24M452.98 383.24L456.69 379.54M464.31 379.54L468.01 383.24M464.31 383.24L468.01 379.54M475.64 379.54L479.35 383.24M475.64 383.24L479.35 379.54M486.97 379.54L490.68 383.24M486.97 383.24L490.68 379.54M498.3 379.54L502 383.24M498.3 383.24L502 379.54M509.63 379.54L513.34 383.24M509.63 383.24L513.34 379.54M351.01 393.16L354.72 396.86M351.01 396.86L354.72 393.16M362.34 393.16L366.05 396.86M362.34 396.86L366.05 393.16M373.67 393.16L377.38 396.86M373.67 396.86L377.38 393.16M385 393.16L388.71 396.86M385 396.86L388.71 393.16M396.33 393.16L400.04 396.86M396.33 396.86L400.04 393.16M407.66 393.16L411.37 396.86M407.66 396.86L411.37 393.16M418.99 393.16L422.69 396.86M418.99 396.86L422.69 393.16M430.32 393.16L434.02 396.86M430.32 396.86L434.02 393.16M441.65 393.16L445.36 396.86M441.65 396.86L445.36 393.16M452.98 393.16L456.69 396.86M452.98 396.86L456.69 393.16M475.64 393.16L479.35 396.86M475.64 396.86L479.35 393.16M486.97 393.16L490.68 396.86M486.97 396.86L490.68 393.16M509.63 393.16L513.34 396.86M509.63 396.86L513.34 393.16M373.67 406.79L377.38 410.49M373.67 410.49L377.38 406.79M385 406.79L388.71 410.49M385 410.49L388.71 406.79M407.66 406.79L411.37 410.49M407.66 410.49L411.37 406.79M418.99 406.79L422.69 410.49M418.99 410.49L422.69 406.79M430.32 406.79L434.02 410.49M430.32 410.49L434.02 406.79M441.65 406.79L445.36 410.49M441.65 410.49L445.36 406.79M452.98 406.79L456.69 410.49M452.98 410.49L456.69 406.79M486.97 406.79L490.68 410.49M486.97 410.49L490.68 406.79M498.3 406.79L502 410.49M498.3 410.49L502 406.79M407.66 420.41L411.37 424.11M407.66 424.11L411.37 420.41M418.99 420.41L422.69 424.11M418.99 424.11L422.69 420.41M430.32 420.41L434.02 424.11M430.32 424.11L434.02 420.41M441.65 420.41L445.36 424.11M441.65 424.11L445.36 420.41M452.98 420.41L456.69 424.11M452.98 424.11L456.69 420.41M475.64 420.41L479.35 424.11M475.64 424.11L479.35 420.41M486.97 420.41L490.68 424.11M486.97 424.11L490.68 420.41M418.99 434.04L422.69 437.74M418.99 437.74L422.69 434.04M430.32 434.04L434.02 437.74M430.32 437.74L434.02 434.04M441.65 434.04L445.36 437.74M441.65 437.74L445.36 434.04M452.98 434.04L456.69 437.74M452.98 437.74L456.69 434.04M464.31 434.04L468.01 437.74M464.31 437.74L468.01 434.04M475.64 434.04L479.35 437.74M475.64 437.74L479.35 434.04M418.99 447.66L422.69 451.36M418.99 451.36L422.69 447.66M430.32 447.66L434.02 451.36M430.32 451.36L434.02 447.66M441.65 447.66L445.36 451.36M441.65 451.36L445.36 447.66M475.64 447.66L479.35 451.36M475.64 451.36L479.35 447.66M486.97 447.66L490.68 451.36M486.97 451.36L490.68 447.66M498.3 447.66L502 451.36M498.3 451.36L502 447.66M418.99 461.29L422.69 464.99M418.99 464.99L422.69 461.29M430.32 461.29L434.02 464.99M430.32 464.99L434.02 461.29M441.65 461.29L445.36 464.99M441.65 464.99L445.36 461.29M475.64 461.29L479.35 464.99M475.64 464.99L479.35 461.29M486.97 461.29L490.68 464.99M486.97 464.99L490.68 461.29M498.3 461.29L502 464.99M498.3 464.99L502 461.29M509.63 461.29L513.34 464.99M509.63 464.99L513.34 461.29M418.99 474.91L422.69 478.61M418.99 478.61L422.69 474.91M430.32 474.91L434.02 478.61M430.32 478.61L434.02 474.91M441.65 474.91L445.36 478.61M441.65 478.61L445.36 474.91M475.64 474.91L479.35 478.61M475.64 478.61L479.35 474.91M486.97 474.91L490.68 478.61M486.97 478.61L490.68 474.91M498.3 474.91L502 478.61M498.3 478.61L502 474.91M418.99 488.54L422.69 492.24M418.99 492.24L422.69 488.54M430.32 488.54L434.02 492.24M430.32 492.24L434.02 488.54M441.65 488.54L445.36 492.24M441.65 492.24L445.36 488.54M452.98 488.54L456.69 492.24M452.98 492.24L456.69 488.54M464.31 488.54L468.01 492.24M464.31 492.24L468.01 488.54M486.97 488.54L490.68 492.24M486.97 492.24L490.68 488.54M498.3 488.54L502 492.24M498.3 492.24L502 488.54M430.32 502.16L434.02 505.86M430.32 505.86L434.02 502.16M441.65 502.16L445.36 505.86M441.65 505.86L445.36 502.16M452.98 502.16L456.69 505.86M452.98 505.86L456.69 502.16M464.31 502.16L468.01 505.86M464.31 505.86L468.01 502.16" stroke="#000" stroke-width="1.7" fill="none"/>
<text x="0" y="545.16" text-anchor="middle" font-size="10.2" stroke="#000" stroke-width="0.3" transform="translate(347.2 0) scale(0.82 1)" font-family="Liberation Sans, sans-serif">20W</text>
<text x="0" y="545.16" text-anchor="middle" font-size="10.2" stroke="#000" stroke-width="0.3" transform="translate(369.86 0) scale(0.82 1)" font-family="Liberation Sans, sans-serif">10W</text>
<text x="0" y="545.16" text-anchor="middle" font-size="10.2" stroke="#000" stroke-width="0.3" transform="translate(392.52 0) scale(0.82 1)" font-family="Liberation Sans, sans-serif">0</text>
<text x="0" y="545.16" text-anchor="middle" font-size="10.2" stroke="#000" stroke-width="0.3" transform="translate(415.18 0) scale(0.82 1)" font-family="Liberation Sans, sans-serif">10E</text>
<text x="0" y="545.16" text-anchor="middle" font-size="10.2" stroke="#000" stroke-width="0.3" transform="translate(437.84 0) scale(0.82 1)" font-family="Liberation Sans, sans-serif">20E</text>
<text x="0" y="545.16" text-anchor="middle" font-size="10.2" stroke="#000" stroke-width="0.3" transform="translate(460.5 0) scale(0.82 1)" font-family="Liberation Sans, sans-serif">30E</text>
<text x="0" y="545.16" text-anchor="middle" font-size="10.2" stroke="#000" stroke-width="0.3" transform="translate(483.16 0) scale(0.82 1)" font-family="Liberation Sans, sans-serif">40E</text>
<text x="0" y="545.16" text-anchor="middle" font-size="10.2" stroke="#000" stroke-width="0.3" transform="translate(505.82 0) scale(0.82 1)" font-family="Liberation Sans, sans-serif">50E</text>
<text x="0" y="545.16" text-anchor="middle" font-size="10.2" stroke="#000" stroke-width="0.3" transform="translate(528.48 0) scale(0.82 1)" font-family="Liberation Sans, sans-serif">60E</text>
<text x="0" y="528.05" text-anchor="end" font-size="10.2" stroke="#000" stroke-width="0.3" transform="translate(336.1 0) scale(0.84 1)" font-family="Liberation Sans, sans-serif">40S</text>
<text x="0" y="500.8" text-anchor="end" font-size="10.2" stroke="#000" stroke-width="0.3" transform="translate(336.1 0) scale(0.84 1)" font-family="Liberation Sans, sans-serif">30S</text>
<text x="0" y="473.55" text-anchor="end" font-size="10.2" stroke="#000" stroke-width="0.3" transform="translate(336.1 0) scale(0.84 1)" font-family="Liberation Sans, sans-serif">20S</text>
<text x="0" y="446.3" text-anchor="end" font-size="10.2" stroke="#000" stroke-width="0.3" transform="translate(336.1 0) scale(0.84 1)" font-family="Liberation Sans, sans-serif">10S</text>
<text x="0" y="419.05" text-anchor="end" font-size="10.2" stroke="#000" stroke-width="0.3" transform="translate(336.1 0) scale(0.84 1)" font-family="Liberation Sans, sans-serif">EQ</text>
<text x="0" y="391.8" text-anchor="end" font-size="10.2" stroke="#000" stroke-width="0.3" transform="translate(336.1 0) scale(0.84 1)" font-family="Liberation Sans, sans-serif">10N</text>
<text x="0" y="364.55" text-anchor="end" font-size="10.2" stroke="#000" stroke-width="0.3" transform="translate(336.1 0) scale(0.84 1)" font-family="Liberation Sans, sans-serif">20N</text>
<text x="0" y="337.3" text-anchor="end" font-size="10.2" stroke="#000" stroke-width="0.3" transform="translate(336.1 0) scale(0.84 1)" font-family="Liberation Sans, sans-serif">30N</text>
<text x="0" y="310.05" text-anchor="end" font-size="10.2" stroke="#000" stroke-width="0.3" transform="translate(336.1 0) scale(0.84 1)" font-family="Liberation Sans, sans-serif">40N</text>
<text x="437.84" y="293.25" text-anchor="middle" font-size="13.6" fill="#222" font-family="Liberation Sans, sans-serif">gfdl21</text>
<path d="M566 316.75L570.2 298.45L574.4 316.75Z" fill="#ae0000" stroke="#222" stroke-width="0.8"/>
<rect x="566" y="316.75" width="8.4" height="17.94" fill="#ca0000" stroke="#222" stroke-width="0.8"/>
<rect x="566" y="334.69" width="8.4" height="17.94" fill="#e41400" stroke="#222" stroke-width="0.8"/>
<rect x="566" y="352.63" width="8.4" height="17.94" fill="#ff3200" stroke="#222" stroke-width="0.8"/>
<rect x="566" y="370.57" width="8.4" height="17.94" fill="#ff6400" stroke="#222" stroke-width="0.8"/>
<rect x="566" y="388.51" width="8.4" height="17.94" fill="#ffa400" stroke="#222" stroke-width="0.8"/>
<rect x="566" y="406.45" width="8.4" height="17.94" fill="#ffc03c" stroke="#222" stroke-width="0.8"/>
<rect x="566" y="424.39" width="8.4" height="17.94" fill="#ffe070" stroke="#222" stroke-width="0.8"/>
<rect x="566" y="442.33" width="8.4" height="17.94" fill="#fff27a" stroke="#222" stroke-width="0.8"/>
<rect x="566" y="460.27" width="8.4" height="17.94" fill="#fff58a" stroke="#222" stroke-width="0.8"/>
<rect x="566" y="478.21" width="8.4" height="17.94" fill="#fff79c" stroke="#222" stroke-width="0.8"/>
<rect x="566" y="496.15" width="8.4" height="17.94" fill="#fffaae" stroke="#222" stroke-width="0.8"/>
<path d="M566 514.09L570.2 531.95L574.4 514.09Z" fill="#e6ffe1" stroke="#222" stroke-width="0.8"/>
<text x="580.2" y="321.05" font-size="12.2" stroke="#000" stroke-width="0.2" font-family="Liberation Sans, sans-serif">4</text>
<text x="577.9" y="338.99" font-size="12.2" stroke="#000" stroke-width="0.2" font-family="Liberation Sans, sans-serif">3.6</text>
<text x="577.9" y="356.93" font-size="12.2" stroke="#000" stroke-width="0.2" font-family="Liberation Sans, sans-serif">3.2</text>
<text x="577.9" y="374.87" font-size="12.2" stroke="#000" stroke-width="0.2" font-family="Liberation Sans, sans-serif">2.8</text>
<text x="577.9" y="392.81" font-size="12.2" stroke="#000" stroke-width="0.2" font-family="Liberation Sans, sans-serif">2.4</text>
<text x="579.9" y="410.75" font-size="12.2" stroke="#000" stroke-width="0.2" font-family="Liberation Sans, sans-serif">2</text>
<text x="577.9" y="428.69" font-size="12.2" stroke="#000" stroke-width="0.2" font-family="Liberation Sans, sans-serif">1.6</text>
<text x="577.9" y="446.63" font-size="12.2" stroke="#000" stroke-width="0.2" font-family="Liberation Sans, sans-serif">1.2</text>
<text x="577.9" y="464.57" font-size="12.2" stroke="#000" stroke-width="0.2" font-family="Liberation Sans, sans-serif">0.8</text>
<text x="577.9" y="482.51" font-size="12.2" stroke="#000" stroke-width="0.2" font-family="Liberation Sans, sans-serif">0.4</text>
<text x="579.9" y="500.45" font-size="12.2" stroke="#000" stroke-width="0.2" font-family="Liberation Sans, sans-serif">0</text>
<path d="M576.7 514.29H583.7" stroke="#000" stroke-width="1.25"/>
<text x="585.3" y="518.59" font-size="12.9" stroke="#000" stroke-width="0.2" font-family="Liberation Sans, sans-serif">0.4</text>
<clipPath id="c4"><rect x="21.54" y="581.99" width="192.61" height="231.62"/></clipPath>
<g clip-path="url(#c4)">
<path d="M27.2 581.99V813.61M49.86 581.99V813.61M72.52 581.99V813.61M95.18 581.99V813.61M117.84 581.99V813.61M140.5 581.99V813.61M163.16 581.99V813.61M185.82 581.99V813.61M208.48 581.99V813.61" stroke="#a0a0a0" stroke-width="0.9" stroke-dasharray="1 2.56" fill="none"/>
<path d="M21.54 806.8H214.14M21.54 779.55H214.14M21.54 752.3H214.14M21.54 725.05H214.14M21.54 697.8H214.14M21.54 670.55H214.14M21.54 643.3H214.14M21.54 616.05H214.14M21.54 588.8H214.14" stroke="#c4c4c4" stroke-width="0.9" stroke-dasharray="1 2.56" fill="none"/>
<rect x="38.53" y="575.18" width="11.63" height="13.93" fill="#ffe070"/>
<rect x="49.86" y="575.18" width="11.63" height="13.93" fill="#ffa400"/>
<rect x="61.19" y="575.18" width="11.63" height="13.93" fill="#ffa400"/>
<rect x="72.52" y="575.18" width="11.63" height="13.93" fill="#ffc03c"/>
<rect x="83.85" y="575.18" width="11.63" height="13.93" fill="#ffc03c"/>
<rect x="95.18" y="575.18" width="11.63" height="13.93" fill="#ffe070"/>
<rect x="106.51" y="575.18" width="11.63" height="13.93" fill="#ffe070"/>
<rect x="117.84" y="575.18" width="11.63" height="13.93" fill="#fff27a"/>
<rect x="129.17" y="575.18" width="11.63" height="13.93" fill="#fff27a"/>
<rect x="140.5" y="575.18" width="11.63" height="13.93" fill="#fff27a"/>
<rect x="151.83" y="575.18" width="11.63" height="13.93" fill="#ffe070"/>
<rect x="163.16" y="575.18" width="11.63" height="13.93" fill="#ffe070"/>
<rect x="174.49" y="575.18" width="11.63" height="13.93" fill="#ffc03c"/>
<rect x="185.82" y="575.18" width="11.63" height="13.93" fill="#ffa400"/>
<rect x="197.15" y="575.18" width="11.63" height="13.93" fill="#ff6400"/>
<rect x="208.48" y="575.18" width="11.63" height="13.93" fill="#ff6400"/>
<rect x="38.53" y="588.8" width="11.63" height="13.93" fill="#ffe070"/>
<rect x="49.86" y="588.8" width="11.63" height="13.93" fill="#ff6400"/>
<rect x="61.19" y="588.8" width="11.63" height="13.93" fill="#ff6400"/>
<rect x="72.52" y="588.8" width="11.63" height="13.93" fill="#ffa400"/>
<rect x="83.85" y="588.8" width="11.63" height="13.93" fill="#ffc03c"/>
<rect x="95.18" y="588.8" width="11.63" height="13.93" fill="#fff27a"/>
<rect x="106.51" y="588.8" width="11.63" height="13.93" fill="#fff27a"/>
<rect x="117.84" y="588.8" width="11.63" height="13.93" fill="#fff27a"/>
<rect x="129.17" y="588.8" width="11.63" height="13.93" fill="#fff27a"/>
<rect x="140.5" y="588.8" width="11.63" height="13.93" fill="#ffe070"/>
<rect x="151.83" y="588.8" width="11.63" height="13.93" fill="#ffe070"/>
<rect x="163.16" y="588.8" width="11.63" height="13.93" fill="#ffc03c"/>
<rect x="174.49" y="588.8" width="11.63" height="13.93" fill="#ffc03c"/>
<rect x="185.82" y="588.8" width="11.63" height="13.93" fill="#ffc03c"/>
<rect x="197.15" y="588.8" width="11.63" height="13.93" fill="#ffa400"/>
<rect x="208.48" y="588.8" width="11.63" height="13.93" fill="#ff6400"/>
<rect x="38.53" y="602.43" width="11.63" height="13.93" fill="#ffe070"/>
<rect x="49.86" y="602.43" width="11.63" height="13.93" fill="#ff6400"/>
<rect x="61.19" y="602.43" width="11.63" height="13.93" fill="#ff6400"/>
<rect x="72.52" y="602.43" width="11.63" height="13.93" fill="#ffa400"/>
<rect x="83.85" y="602.43" width="11.63" height="13.93" fill="#ffe070"/>
<rect x="95.18" y="602.43" width="11.63" height="13.93" fill="#fff27a"/>
<rect x="106.51" y="602.43" width="11.63" height="13.93" fill="#fff27a"/>
<rect x="117.84" y="602.43" width="11.63" height="13.93" fill="#fff27a"/>
<rect x="129.17" y="602.43" width="11.63" height="13.93" fill="#fff27a"/>
<rect x="140.5" y="602.43" width="11.63" height="13.93" fill="#fff27a"/>
<rect x="151.83" y="602.43" width="11.63" height="13.93" fill="#fff27a"/>
<rect x="163.16" y="602.43" width="11.63" height="13.93" fill="#ffc03c"/>
<rect x="174.49" y="602.43" width="11.63" height="13.93" fill="#ffa400"/>
<rect x="185.82" y="602.43" width="11.63" height="13.93" fill="#ffa400"/>
<rect x="197.15" y="602.43" width="11.63" height="13.93" fill="#ffa400"/>
<rect x="208.48" y="602.43" width="11.63" height="13.93" fill="#ffc03c"/>
<rect x="27.2" y="616.05" width="11.63" height="13.93" fill="#ffa400"/>
<rect x="38.53" y="616.05" width="11.63" height="13.93" fill="#ff6400"/>
<rect x="49.86" y="616.05" width="11.63" height="13.93" fill="#ff6400"/>
<rect x="61.19" y="616.05" width="11.63" height="13.93" fill="#ffa400"/>
<rect x="72.52" y="616.05" width="11.63" height="13.93" fill="#ffc03c"/>
<rect x="83.85" y="616.05" width="11.63" height="13.93" fill="#ffe070"/>
<rect x="95.18" y="616.05" width="11.63" height="13.93" fill="#fff27a"/>
<rect x="106.51" y="616.05" width="11.63" height="13.93" fill="#fff27a"/>
<rect x="117.84" y="616.05" width="11.63" height="13.93" fill="#fff27a"/>
<rect x="129.17" y="616.05" width="11.63" height="13.93" fill="#fff27a"/>
<rect x="140.5" y="616.05" width="11.63" height="13.93" fill="#fff27a"/>
<rect x="151.83" y="616.05" width="11.63" height="13.93" fill="#ffc03c"/>
<rect x="163.16" y="616.05" width="11.63" height="13.93" fill="#ffa400"/>
<rect x="174.49" y="616.05" width="11.63" height="13.93" fill="#ffa400"/>
<rect x="185.82" y="616.05" width="11.63" height="13.93" fill="#ffa400"/>
<rect x="197.15" y="616.05" width="11.63" height="13.93" fill="#ffa400"/>
<rect x="208.48" y="616.05" width="11.63" height="13.93" fill="#ffc03c"/>
<rect x="27.2" y="629.68" width="11.63" height="13.93" fill="#ff6400"/>
<rect x="38.53" y="629.68" width="11.63" height="13.93" fill="#ff6400"/>
<rect x="49.86" y="629.68" width="11.63" height="13.93" fill="#ffa400"/>
<rect x="61.19" y="629.68" width="11.63" height="13.93" fill="#ffa400"/>
<rect x="72.52" y="629.68" width="11.63" height="13.93" fill="#ffe070"/>
<rect x="83.85" y="629.68" width="11.63" height="13.93" fill="#fff27a"/>
<rect x="95.18" y="629.68" width="11.63" height="13.93" fill="#ffe070"/>
<rect x="106.51" y="629.68" width="11.63" height="13.93" fill="#ffe070"/>
<rect x="117.84" y="629.68" width="11.63" height="13.93" fill="#fff27a"/>
<rect x="129.17" y="629.68" width="11.63" height="13.93" fill="#fff27a"/>
<rect x="140.5" y="629.68" width="11.63" height="13.93" fill="#ffe070"/>
<rect x="151.83" y="629.68" width="11.63" height="13.93" fill="#ffc03c"/>
<rect x="163.16" y="629.68" width="11.63" height="13.93" fill="#ffa400"/>
<rect x="174.49" y="629.68" width="11.63" height="13.93" fill="#ffa400"/>
<rect x="185.82" y="629.68" width="11.63" height="13.93" fill="#ffa400"/>
<rect x="197.15" y="629.68" width="11.63" height="13.93" fill="#ffc03c"/>
<rect x="208.48" y="629.68" width="11.63" height="13.93" fill="#ffc03c"/>
<rect x="27.2" y="643.3" width="11.63" height="13.93" fill="#ff6400"/>
<rect x="38.53" y="643.3" width="11.63" height="13.93" fill="#ffa400"/>
<rect x="49.86" y="643.3" width="11.63" height="13.93" fill="#ffc03c"/>
<rect x="61.19" y="643.3" width="11.63" height="13.93" fill="#ffc03c"/>
<rect x="72.52" y="643.3" width="11.63" height="13.93" fill="#fff27a"/>
<rect x="83.85" y="643.3" width="11.63" height="13.93" fill="#ffe070"/>
<rect x="95.18" y="643.3" width="11.63" height="13.93" fill="#ffe070"/>
<rect x="106.51" y="643.3" width="11.63" height="13.93" fill="#ffe070"/>
<rect x="117.84" y="643.3" width="11.63" height="13.93" fill="#fff27a"/>
<rect x="129.17" y="643.3" width="11.63" height="13.93" fill="#ffe070"/>
<rect x="140.5" y="643.3" width="11.63" height="13.93" fill="#ffa400"/>
<rect x="151.83" y="643.3" width="11.63" height="13.93" fill="#ffa400"/>
<rect x="163.16" y="643.3" width="11.63" height="13.93" fill="#ffa400"/>
<rect x="174.49" y="643.3" width="11.63" height="13.93" fill="#ffa400"/>
<rect x="185.82" y="643.3" width="11.63" height="13.93" fill="#ffc03c"/>
<rect x="197.15" y="643.3" width="11.63" height="13.93" fill="#ffc03c"/>
<rect x="27.2" y="656.93" width="11.63" height="13.93" fill="#ffa400"/>
<rect x="38.53" y="656.93" width="11.63" height="13.93" fill="#ffe070"/>
<rect x="49.86" y="656.93" width="11.63" height="13.93" fill="#ffc03c"/>
<rect x="61.19" y="656.93" width="11.63" height="13.93" fill="#fff27a"/>
<rect x="72.52" y="656.93" width="11.63" height="13.93" fill="#fff27a"/>
<rect x="83.85" y="656.93" width="11.63" height="13.93" fill="#fff27a"/>
<rect x="95.18" y="656.93" width="11.63" height="13.93" fill="#ffe070"/>
<rect x="106.51" y="656.93" width="11.63" height="13.93" fill="#ffc03c"/>
<rect x="117.84" y="656.93" width="11.63" height="13.93" fill="#ffe070"/>
<rect x="129.17" y="656.93" width="11.63" height="13.93" fill="#ffc03c"/>
<rect x="140.5" y="656.93" width="11.63" height="13.93" fill="#ffc03c"/>
<rect x="151.83" y="656.93" width="11.63" height="13.93" fill="#ffa400"/>
<rect x="163.16" y="656.93" width="11.63" height="13.93" fill="#ffc03c"/>
<rect x="174.49" y="656.93" width="11.63" height="13.93" fill="#ffc03c"/>
<rect x="185.82" y="656.93" width="11.63" height="13.93" fill="#ffe070"/>
<rect x="27.2" y="670.55" width="11.63" height="13.93" fill="#ffc03c"/>
<rect x="38.53" y="670.55" width="11.63" height="13.93" fill="#ffe070"/>
<rect x="49.86" y="670.55" width="11.63" height="13.93" fill="#ffc03c"/>
<rect x="61.19" y="670.55" width="11.63" height="13.93" fill="#ffc03c"/>
<rect x="72.52" y="670.55" width="11.63" height="13.93" fill="#fff27a"/>
<rect x="83.85" y="670.55" width="11.63" height="13.93" fill="#fff27a"/>
<rect x="95.18" y="670.55" width="11.63" height="13.93" fill="#ffe070"/>
<rect x="106.51" y="670.55" width="11.63" height="13.93" fill="#fff27a"/>
<rect x="117.84" y="670.55" width="11.63" height="13.93" fill="#ffe070"/>
<rect x="129.17" y="670.55" width="11.63" height="13.93" fill="#ffc03c"/>
<rect x="140.5" y="670.55" width="11.63" height="13.93" fill="#ffc03c"/>
<rect x="151.83" y="670.55" width="11.63" height="13.93" fill="#ffc03c"/>
<rect x="163.16" y="670.55" width="11.63" height="13.93" fill="#ffc03c"/>
<rect x="174.49" y="670.55" width="11.63" height="13.93" fill="#ffe070"/>
<rect x="185.82" y="670.55" width="11.63" height="13.93" fill="#ffe070"/>
<rect x="49.86" y="684.18" width="11.63" height="13.93" fill="#ffe070"/>
<rect x="61.19" y="684.18" width="11.63" height="13.93" fill="#ffe070"/>
<rect x="83.85" y="684.18" width="11.63" height="13.93" fill="#ffe070"/>
<rect x="95.18" y="684.18" width="11.63" height="13.93" fill="#ffc03c"/>
<rect x="106.51" y="684.18" width="11.63" height="13.93" fill="#ffe070"/>
<rect x="117.84" y="684.18" width="11.63" height="13.93" fill="#ffe070"/>
<rect x="129.17" y="684.18" width="11.63" height="13.93" fill="#ffc03c"/>
<rect x="140.5" y="684.18" width="11.63" height="13.93" fill="#ffc03c"/>
<rect x="151.83" y="684.18" width="11.63" height="13.93" fill="#ffc03c"/>
<rect x="163.16" y="684.18" width="11.63" height="13.93" fill="#ffc03c"/>
<rect x="174.49" y="684.18" width="11.63" height="13.93" fill="#ffe070"/>
<rect x="83.85" y="697.8" width="11.63" height="13.93" fill="#ffc03c"/>
<rect x="95.18" y="697.8" width="11.63" height="13.93" fill="#ffc03c"/>
<rect x="106.51" y="697.8" width="11.63" height="13.93" fill="#ffc03c"/>
<rect x="117.84" y="697.8" width="11.63" height="13.93" fill="#ffc03c"/>
<rect x="129.17" y="697.8" width="11.63" height="13.93" fill="#ffc03c"/>
<rect x="140.5" y="697.8" width="11.63" height="13.93" fill="#ffc03c"/>
<rect x="151.83" y="697.8" width="11.63" height="13.93" fill="#ffc03c"/>
<rect x="163.16" y="697.8" width="11.63" height="13.93" fill="#ffe070"/>
<rect x="95.18" y="711.43" width="11.63" height="13.93" fill="#ffc03c"/>
<rect x="106.51" y="711.43" width="11.63" height="13.93" fill="#ffa400"/>
<rect x="117.84" y="711.43" width="11.63" height="13.93" fill="#ffa400"/>
<rect x="129.17" y="711.43" width="11.63" height="13.93" fill="#ffc03c"/>
<rect x="140.5" y="711.43" width="11.63" height="13.93" fill="#ffc03c"/>
<rect x="151.83" y="711.43" width="11.63" height="13.93" fill="#ffe070"/>
<rect x="95.18" y="725.05" width="11.63" height="13.93" fill="#ffa400"/>
<rect x="106.51" y="725.05" width="11.63" height="13.93" fill="#ffa400"/>
<rect x="117.84" y="725.05" width="11.63" height="13.93" fill="#ffa400"/>
<rect x="129.17" y="725.05" width="11.63" height="13.93" fill="#ffc03c"/>
<rect x="140.5" y="725.05" width="11.63" height="13.93" fill="#ffc03c"/>
<rect x="151.83" y="725.05" width="11.63" height="13.93" fill="#ffc03c"/>
<rect x="163.16" y="725.05" width="11.63" height="13.93" fill="#ffe070"/>
<rect x="174.49" y="725.05" width="11.63" height="13.93" fill="#ffe070"/>
<rect x="95.18" y="738.68" width="11.63" height="13.93" fill="#ffa400"/>
<rect x="106.51" y="738.68" width="11.63" height="13.93" fill="#ff6400"/>
<rect x="117.84" y="738.68" width="11.63" height="13.93" fill="#ffa400"/>
<rect x="129.17" y="738.68" width="11.63" height="13.93" fill="#ffa400"/>
<rect x="140.5" y="738.68" width="11.63" height="13.93" fill="#ffc03c"/>
<rect x="151.83" y="738.68" width="11.63" height="13.93" fill="#ffc03c"/>
<rect x="163.16" y="738.68" width="11.63" height="13.93" fill="#ffe070"/>
<rect x="174.49" y="738.68" width="11.63" height="13.93" fill="#ffe070"/>
<rect x="185.82" y="738.68" width="11.63" height="13.93" fill="#fff27a"/>
<rect x="95.18" y="752.3" width="11.63" height="13.93" fill="#ffa400"/>
<rect x="106.51" y="752.3" width="11.63" height="13.93" fill="#ff6400"/>
<rect x="117.84" y="752.3" width="11.63" height="13.93" fill="#ff6400"/>
<rect x="129.17" y="752.3" width="11.63" height="13.93" fill="#ffa400"/>
<rect x="140.5" y="752.3" width="11.63" height="13.93" fill="#ffc03c"/>
<rect x="151.83" y="752.3" width="11.63" height="13.93" fill="#ffe070"/>
<rect x="163.16" y="752.3" width="11.63" height="13.93" fill="#ffc03c"/>
<rect x="174.49" y="752.3" width="11.63" height="13.93" fill="#ffc03c"/>
<rect x="95.18" y="765.93" width="11.63" height="13.93" fill="#ffc03c"/>
<rect x="106.51" y="765.93" width="11.63" height="13.93" fill="#ffa400"/>
<rect x="117.84" y="765.93" width="11.63" height="13.93" fill="#ff6400"/>
<rect x="129.17" y="765.93" width="11.63" height="13.93" fill="#ffa400"/>
<rect x="140.5" y="765.93" width="11.63" height="13.93" fill="#ffa400"/>
<rect x="163.16" y="765.93" width="11.63" height="13.93" fill="#ffc03c"/>
<rect x="174.49" y="765.93" width="11.63" height="13.93" fill="#ffc03c"/>
<rect x="106.51" y="779.55" width="11.63" height="13.93" fill="#ffc03c"/>
<rect x="117.84" y="779.55" width="11.63" height="13.93" fill="#ffc03c"/>
<rect x="129.17" y="779.55" width="11.63" height="13.93" fill="#ffc03c"/>
<rect x="140.5" y="779.55" width="11.63" height="13.93" fill="#ffc03c"/>
<path d="M27.2 581.99V813.61M49.86 581.99V813.61M72.52 581.99V813.61M95.18 581.99V813.61M117.84 581.99V813.61M140.5 581.99V813.61M163.16 581.99V813.61M185.82 581.99V813.61M208.48 581.99V813.61" stroke="#a0a0a0" stroke-opacity="0.3" stroke-width="0.9" stroke-dasharray="1 2.56" fill="none"/>
<path d="M21.54 806.8H214.14M21.54 779.55H214.14M21.54 752.3H214.14M21.54 725.05H214.14M21.54 697.8H214.14M21.54 670.55H214.14M21.54 643.3H214.14M21.54 616.05H214.14M21.54 588.8H214.14" stroke="#d0d0d0" stroke-opacity="0.3" stroke-width="0.9" stroke-dasharray="1 2.56" fill="none"/>
<path d="M146.28 616.19L145.83 614.42L145.71 612.64L144.58 611.96L142.77 611.69L141.41 612.1L140.27 612.78L138.23 613.6L135.97 613.05L134.16 612.29L131.44 611.69L129.51 611.69L128.26 610.87L126.79 610.33L124.86 608.97L123.73 608.42L121.24 608.01L119.2 608.97L117.95 610.33L117.61 611.69L118.07 613.33L116.93 614.96L115.35 614.42L113.08 613.6L110.14 612.78L108.1 611.69L106.96 609.51L104.7 608.69L102.43 608.15L99.71 608.28L98.58 607.33L97.67 607.06L97.11 605.97L95.41 605.42L95.75 604.33L96.88 603.11L97.67 601.88L97.45 600.79L96.54 599.97L96.31 598.61L97.56 596.84L96.54 597.38L95.63 597.52L95.86 596.57L94.84 596.16L92.91 596.57L92.01 597.11L90.08 597.11L88.84 596.84L86.91 596.84L84.98 597.93L84.08 597.66L81.58 597.25L79.43 597.6L77.73 598.07L75.47 598.34L72.97 599.7L71.05 600.38L69.57 601.61L67.53 602.15L65.84 601.61L63.68 601.74L61.87 601.88L60.51 599.97L59.38 600.25L58.58 601.88L57.56 604.33L57.11 605.15L55.3 606.24L53.26 607.19L51.56 609.78L50.31 611.96L50.2 614.42L50.77 614.96L50.31 616.6L49.41 617.69L47.37 620.14L45.1 621.23L43.29 621.77L42.16 623.95L39.66 626.68L38.76 629.4L37.4 631.58L36.49 633.22L35.58 635.13L35.36 637.03L34.22 639.21L33.88 641.12L34.9 643.3L35.13 644.94L35.81 646.57L36.26 648.48L35.58 651.48L35.13 654.2L34.22 656.11L32.87 657.74L33.77 658.02L34.45 659.11L34.56 660.74L34.9 661.15L34.56 662.38L34.68 664.01L35.81 665.37L37.4 666.46L38.53 668.1L39.44 669.19L40.8 670.82L41.48 671.91L42.5 673.55L42.61 674.91L43.29 676.55L44.2 677.64L46.46 679L48.05 680.63L50.09 682.54L52.35 684.72L55.07 685.81L56.66 685.54L58.7 684.31L61.19 683.77L63.46 683.49L65.5 683.9L67.76 684.86L70.25 683.63L72.07 682.68L73.88 682L75.24 681.18L77.96 680.5L80.22 680.36L82.72 680.63L83.85 682L84.98 683.63L86.12 686.08L88.38 685.81L91.33 685.27L92.23 685.54L92.91 686.9L94.5 687.45L94.95 689.9L94.73 692.9L94.05 695.08L93.93 696.71L93.59 698.62L92.23 699.44L93.59 702.71L95.18 705.43L97.67 708.43L99.37 710.88L100.39 714.15L101.75 718.24L102.43 721.78L103.34 726.96L103.79 727.78L103.11 731.45L102.88 732.14L101.07 734.59L100.05 739.22L99.26 743.04L99.15 744.81L100.84 749.58L103.11 754.75L105.15 758.57L105.38 760.34L105.6 764.56L106.85 770.42L107.87 773.01L109.8 775.74L111.72 780.91L113.53 784.73L113.08 787.73L114.21 790.18L114.44 791.4L115.12 790.72L116.25 792.09L117.84 792.71L120.11 791.54L122.6 791L125.54 790.59L128.72 791L130.53 790.31L133.25 789.36L135.74 787.73L139.37 783.91L141.18 782L142.77 779.14L145.71 775.46L147.07 770.83L146.39 768.57L148.66 766.47L151.83 764.56L152.96 762.66L152.74 758.3L151.83 753.66L151.49 751.76L154.78 749.03L156.14 746.58L159.76 743.85L163.16 741.95L164.75 738.4L164.29 733.23L164.29 726.41L163.39 725.87L161.57 719.6L161.57 716.33L160.44 714.15L161.12 711.7L162.48 708.84L163.39 706.52L165.2 704.07L166.79 702.16L168.82 698.75L171.09 695.62L175.28 692.21L179.02 686.9L182.42 683.36L184.69 677.36L185.37 676L187.63 670.55L188.99 669.46L188.65 665.51L186.95 665.37L184.01 667.01L180.16 667.55L174.49 669.32L172.22 669.46L170.86 667.01L170.3 666.19L169.5 665.65L170.64 663.74L169.28 662.38L166.79 660.74L164.97 658.29L162.93 655.56L161.91 655.29L160.67 652.57L159.76 648.75L157.27 646.3L156.82 644.39L156.59 640.58L156.14 637.85L153.19 635.13L152.96 632.67L150.7 628.31L149.11 623.68L147.75 621.5L146.39 616.32L146.28 616.19M146.28 616.19L147.3 618.78L148.43 620.68L150.13 622.18L150.7 620.41L151.6 617.41L151.83 617.28L151.6 621.23L153.42 623.27L155.23 626.41L156.82 629.54L158.74 632.13L161.23 639.21L164.29 643.85L166.11 647.39L168.94 651.75L169.28 655.02L169.84 657.47L170.52 661.56L170.98 663.33L172.22 663.47L174.49 662.92L177.89 661.29L181.29 659.65L183.78 658.29L186.95 656.93L190.81 655.29L190.81 652.84L193.75 652.02L195.11 651.48L197.83 649.3L200.78 648.48L203.27 646.3L203.49 642.76L205.31 641.67L207.35 638.4L208.03 636.49L206.21 635.13L205.31 633.49L201.68 632.13L201 631.31L200.21 629.13L200.32 626.95L199.87 626.13L199.42 628.04L197.83 628.99L195.79 631.04L193.75 632.13L191.71 631.86L189.45 631.58L188.54 630.77L189.45 628.86L189.22 626.68L188.31 626.68L187.63 630.36L186.95 628.31L186.05 627.22L186.27 625.72L184.91 623.68L183.1 622.05L182.19 620.14L181.06 617.69L182.42 616.32L183.55 615.23L186.27 616.05L187.63 618.91L189.22 621.77L191.71 623.14L196.02 625.32L198.28 624.77L200.1 623.82L201.68 624.77L202.36 627.22L203.49 627.9L206.21 628.59L209.84 628.86L212.11 629.4L215.28 629.13M145.71 612.64L147.3 613.05L149.11 612.92L150.02 612.51L151.26 610.46L151.83 608.42L152.28 607.33L152.96 605.42L153.64 603.52L153.64 601.06L153.98 599.97L154.44 598.07L152.74 598.07L150.92 597.52L149.11 599.16L146.84 599.56L145.03 598.2L144.58 598.07L142.09 597.38L141.41 599.16L139.59 599.16L138.46 598.07L136.42 597.79L134.61 596.98L134.84 595.89L134.16 594.8L132.12 593.43L133.48 592.89L133.93 593.16L133.25 592.07L133.02 590.44L131.66 590.16L131.89 588.66L133.02 587.57L134.84 587.71L136.65 587.71L138.23 587.71L140.27 586.76L138.23 586.08L136.42 586.08L134.61 586.21L133.02 587.17L131.44 586.62L129.62 586.21L127.81 586.35L126.68 586.89L126.22 587.98L125.32 588.26L124.41 587.17L123.73 587.98L123.73 589.07L125.09 590.44L124.41 591.53L126 592.89L126.9 595.2L125.09 594.25L124.18 595.34L125.09 598.61L123.51 598.61L122.83 596.98L122.15 597.52L121.47 595.34L120.79 594.52L121.47 593.43L123.05 593.71L121.24 593.16L120.11 593.43L119.43 591.8L118.52 590.71L117.84 589.62L116.59 587.57L116.59 585.26L116.71 583.9L116.25 583.62L114.89 582.26L113.76 581.72M135.74 581.72L135.97 583.35L136.19 584.44L138.01 585.39L138.46 585.67L140.5 585.53L142.77 585.8L146.16 583.9L148.43 583.35L152.06 583.35L154.1 584.17L154.78 585.26L157.49 585.8L159.76 586.35L162.48 586.08L164.29 586.08L166.56 584.71L166.79 581.72M52.13 581.72L52.47 583.62L52.92 585.67L52.58 588.26L51.22 590.44L50.99 592.34L52.35 592.89L52.58 594.52L52.13 596.98L54.62 596.98L55.75 596.43L58.24 598.34L59.83 599.7L60.4 599.43L62.55 597.79L66.63 597.79L67.53 597.74L68.89 596.43L70.25 595.34L70.93 593.71L72.97 592.21L71.84 590.3L72.52 588.8L73.65 587.44L74.56 586.35L75.35 585.8L77.51 584.99L79.77 583.62L79.77 582.26L79.54 581.72M96.99 581.72L97.67 582.26L99.26 583.35L100.17 584.03L101.98 585.39L103.56 585.53L104.81 586.62L106.06 587.17L106.51 588.26L108.1 588.8L108.78 590.44L109.23 591.8L107.98 594.25L109 594.25L110.14 593.02L111.38 591.53L111.27 590.44L109.91 589.62L111.5 587.57L113.31 588.26L114.1 589.35L114.44 588.39L113.19 587.03L110.82 585.8L108.55 584.71L109.23 583.62L106.96 583.49L105.38 582.53L104.7 581.72M100.62 594.8L102.77 593.98L105.38 594.11L107.76 593.57L106.74 595.61L106.74 597.79L105.38 597.52L103.11 596.43L101.52 595.48L100.62 594.8M91.55 591.53L91.78 588.8L91.1 587.17L91.33 586.08L93.37 585.39L94.5 586.35L94.5 588.8L94.27 590.98L92.91 590.98L92.01 591.8L91.55 591.53M92.01 583.62L92.46 584.44L93.37 584.99L94.05 583.08L94.05 581.17L93.59 580.63L92.01 581.99L92.01 583.62M125.77 601.61L126 600.79L127.58 601.47L129.17 601.34L130.76 601.61L132.12 601.61L131.66 602.43L129.17 602.56L126.9 601.88L125.77 601.61M145.71 602.7L146.84 603.52L148.66 602.97L149.56 602.43L150.92 600.52L149.34 601.61L147.3 601.47L145.71 602.15L145.71 602.7M77.85 590.03L78.64 588.94L79.77 589.07L80.34 589.62L79.77 590.57L78.75 590.44L77.85 590.03M184.23 730.5L185.59 734.04L186.27 737.31L186.95 740.04L185.37 741.4L184.69 744.13L184.46 747.26L183.33 750.94L182.42 753.66L181.06 759.11L180.38 761.84L179.02 765.93L177.21 766.47L174.94 767.29L172.9 766.2L171.43 761.43L170.86 757.07L172.9 753.12L173.13 750.67L172.22 746.99L172.68 744.13L173.13 741.95L175.62 741.13L177.44 740.58L179.48 738.68L180.16 737.86L181.29 734.59L183.33 731.86L184.23 730.5M180.38 581.72L182.65 583.9L183.78 585.26L184.69 587.44L186.5 587.71L184.69 588.26L184.23 590.16L183.55 591.53L183.21 593.16L183.78 595.34L186.27 596.98L189.22 597.52L192.62 597.38L194.66 597.25L194.66 595.89L194.43 591.8L192.84 590.71L193.75 589.62L192.62 588.8L192.16 586.08L191.48 583.9L192.16 581.72M144.58 698.62L145.71 696.98L147.75 696.71L149.79 697.8L151.38 698.89L149.56 700.25L149.34 702.71L148.43 704.34L146.16 704.89L144.58 703.25L144.35 700.53L144.58 698.62M138.69 706.79L139.14 710.06L139.59 714.15L141.41 716.88L142.31 720.42L143.22 721.24L141.86 716.88L140.5 714.15L140.05 710.06L138.91 706.79M150.24 723.69L149.56 726.41L150.47 730.5L150.47 734.59L151.6 737.04L152.51 736.5L151.15 730.5L150.92 726.41L150.24 723.69M137.1 720.96L138.46 723.14L138.23 720.69L137.1 720.96M132.57 744.13L135.97 741.95L138.01 743.04L135.06 745.76L132.57 744.13M72.07 680.63L72.75 678.73L71.84 675.46L69.8 674.64L71.16 678.18L72.07 680.63M102.43 662.38L103.34 660.47L105.15 661.01L105.6 662.65L104.24 663.47L102.43 662.38M154.1 685.54L154.55 688.26L155.23 690.99L153.87 689.08L154.1 685.54M141.63 694.8L143.67 691.81L142.77 694.53L141.63 694.8M138.91 702.16L138.69 703.8L138.23 704.34L138.91 702.16M156.36 665.1L157.72 664.56L157.49 666.19L156.36 665.1M139.59 698.07L140.27 699.44L139.37 699.44L139.59 698.07M146.39 634.31L147.07 637.85L143.45 638.4L146.39 634.31M68.55 602.15L68.67 605.15L68.67 609.24L64.36 611.69L64.14 613.6L60.06 616.32L55.52 617.69L52.87 619.59L52.87 622.4M52.87 622.4L42.61 622.4M52.87 622.4L52.87 626.95L45.33 626.95L45.33 633.9L42.84 635.81L43.06 639.68L34 639.68M52.87 623.41L61.58 629.68M61.58 629.68L57.79 629.81L60.06 653.38L60.51 655.56L52.13 655.56L46.91 655.84L46.23 655.29L44.87 657.74M44.87 657.74L43.06 655.56L40.8 652.57L38.53 652.57L35.13 653.93M61.58 629.68L75.24 640.58L79.77 643.85L82.15 645.62M82.15 645.62L85.66 644.8L89.52 640.85L99.69 633.76M99.69 633.76L95.63 630.22L94.05 625.86L94.95 624.23L94.73 617.69L94.05 615.51M94.05 615.51L91.33 609.24L91.33 603.52L91.55 597.25M94.05 615.51L95.86 611.96L98.58 607.41M99.69 633.76L106.51 635.13L126.9 644.66L126.9 643.3L129.17 643.3L129.17 637.85M129.17 637.85L129.17 617.41L129.51 611.69M129.17 637.85L156.14 637.85M150.02 612.51L151.6 617.41M82.15 645.62L82.04 653.11L80.45 656.11L74.79 656.93L72.97 657.2M60.06 669.46L60.28 665.65L62.55 663.19L63.46 661.01L67.99 658.29L72.97 657.2M72.97 657.2L73.65 660.2L74.79 662.38L77.51 663.47L77.96 665.37M77.96 665.37L80.68 665.92L81.81 661.01L86.12 660.74L88.38 662.38L92.91 662.92L96.31 661.56L100.84 662.1L103.34 660.47M103.34 660.47L107.64 651.75L108.1 643.57L106.51 635.13M126.9 644.66L126.9 655.02L123.51 659.65L122.37 662.92L124.18 666.74L124.41 668.1M107.64 677.36L112.17 676L114.44 673.55L117.84 673L121.69 669.19L124.41 668.1M104.47 662.1L105.38 663.74L106.51 667.83L106.51 670.55L104.24 671.91L107.64 677.36M100.84 662.1L103.11 670.55L100.17 674.64L98.81 679.27L96.54 678.73L94.73 681.45L92.01 685.27M78.64 680.36L78.64 676.55L78.86 673.28L80.68 669.46L80.68 665.92M76.15 680.91L76.15 673.28L75.69 671.91L74.56 667.83M75.24 681.18L73.88 679L73.65 676L73.43 670.55L72.52 667.83M65.5 683.9L66.18 678.73L66.86 676L66.18 671.64L66.18 667.83L72.52 667.83L74.56 667.83L77.96 665.37M55.52 685.81L53.49 680.09L53.94 677.36L54.39 674.64L54.85 670.55L58.47 669.73L60.06 669.46L63.46 670.82L66.18 671.64M46.46 679L47.59 676L49.18 674.64L48.73 672.46L47.14 670.55L44.2 670.82L42.5 673.55M53.94 677.36L50.99 677.36L49.18 674.64M47.14 670.55L48.27 667.83L46.91 664.01L41.48 663.47L38.53 663.19L34.68 664.01M46.91 664.01L44.87 657.74M38.53 668.1L40.8 666.19L41.48 663.47M34.56 660.74L37.4 660.74L39.89 661.56L41.25 661.01L38.3 660.2L34.9 661.15M54.39 674.64L53.49 670.55L53.71 666.46L52.13 664.56L46.91 664.01M60.06 669.46L60.51 667.83L61.64 671.1M125.77 669.19L129.17 669.46L133.7 671.64L139.59 671.37L142.31 671.37L145.71 666.46L147.07 664.56L147.98 669.46L149.79 671.91M155.23 658.83L152.51 662.38L149.79 669.19L149.79 671.91L149.79 674.91L147.3 676.55L148.43 681.45L151.83 684.18L153.87 685.27M155.23 658.83L157.04 657.47L158.85 650.11L159.99 648.75M155.23 658.83L159.76 658.29L163.16 658.29L165.43 660.2L168.37 663.74L169.5 665.65M169.5 665.65L169.5 667.83L170.41 667.83M169.5 667.83L171.32 672.46L172.22 673.28L181.29 676L174.49 684.45L172.22 684.45L167.69 686.9L167.47 687.17M165.43 702.43L165.43 690.17L167.47 687.17M153.87 685.27L156.36 685.81L158.85 687.99L162.25 688.54L164.97 686.36L167.47 687.17M149.34 686.36L150.47 685.27L153.87 685.27M149.34 686.36L151.6 693.17L149.56 696.17L149.56 700.53M149.56 700.53L157.72 705.98L157.95 707.61L161.35 710.61M139.59 701.62L142.09 700.53L144.13 700.53L149.56 700.53M142.31 688.26L144.58 687.45L149.34 686.36M134.61 684.18L136.87 686.08L139.59 685.27L142.31 688.26M124.41 668.1L125.77 669.19L126.9 674.37L129.85 677.36L134.61 684.18M107.64 677.36L105.6 680.91L105.38 685.54L107.64 690.99L109.23 691.81L108.78 692.62M108.78 692.62L104.24 691.81L102.66 691.81L98.13 691.81L94.73 691.81M98.13 691.81L98.13 695.08L94.05 695.08M98.13 695.08L104.24 693.99L105.38 698.35L104.02 701.89L104.92 704.34L102.2 704.07L99.71 704.89L97.67 708.43M108.78 692.62L112.4 687.99L114.67 688.26L116.71 683.63L121.24 686.08L123.51 686.36L128.04 684.18L130.3 683.36L134.61 684.18M108.78 692.62L112.4 699.16L109.23 703.8L107.19 709.52L104.24 710.06L100.17 713.61M99.71 711.43L100.84 711.43L101.98 710.61M100.39 714.15L101.98 713.88L109.68 714.15L112.17 719.6L116.48 719.33L121.92 717.69L122.37 727.78L126.9 727.78L130.08 728.59L131.44 727.23L134.16 729.41L137.1 732.95L140.05 734.32L139.37 730.77L137.1 727.78L137.33 720.96L142.31 720.42M122.37 727.78L126.9 729.14L126.9 733.23L122.37 733.23L122.37 742.22L125.32 745.76M99.15 744.81L101.98 744.13L104.7 745.22L114.44 745.22L119.88 746.58L125.32 745.76L129.62 746.31M120.11 747.67L120.11 757.75L117.84 757.75L117.84 765.38L117.84 775.19L115.57 776.28L112.17 776.01L109.8 775.74M117.84 765.38L119.65 770.83L123.73 768.65L125.77 767.29L129.17 767.83L131.44 765.11L133.7 763.2L137.1 759.11L139.14 758.3M129.62 746.31L131.44 749.58L134.38 753.66L135.97 756.39L139.14 758.3M139.14 758.3L143.45 758.84M143.45 758.84L145.94 755.84L147.07 751.48L146.62 748.21L147.3 744.13L147.07 743.31L141.41 740.31M129.62 746.31L133.7 746.31L135.97 742.76L139.37 740.86L141.41 740.31M141.41 740.31L140.95 738.4L147.75 735.95L146.62 733.23L147.98 727.78L147.75 723.96L147.07 723.42L143.22 721.24M147.75 735.95L150.7 737.31L152.51 741.95L152.06 744.13L152.51 744.4L153.87 742.49L153.64 738.68L152.06 734.59L151.6 729.14M147.07 723.42L149.56 723.69L150.24 723.69M151.6 729.14L155.23 729.68L158.63 728.59L160.89 728.32L164.07 726.41M143.45 758.84L145.03 764.56L145.03 768.38L147.07 770.97M144.81 768.38L143.45 767.83L142.31 769.47L142.99 771.92L144.81 772.19L144.81 768.38M133.7 778.46L135.74 776.55L137.55 775.74L139.14 777.64L138.46 779.55L136.19 781.19L134.61 780.37L133.7 778.46M139.59 701.62L138.23 705.43L139.14 705.7L141.41 704.07L142.31 700.53M138.23 705.43L138.69 706.79M141.41 704.07L141.86 707.07L140.5 709.52L139.14 710.06M142.31 688.26L143.22 691.53L141.63 694.53L140.27 697.8L139.59 701.62M149.34 686.36L148.43 687.45L145.03 687.99L142.31 688.26M151.83 617.41L155.23 617.96L156.36 611.96L160.89 610.06L161.57 609.78M152.96 607.6L153.64 608.69L153.19 611.15L151.83 617.41M154.1 607.88L153.64 608.69M152.96 607.6L153.87 606.51L155.46 604.61L154.1 603.52L153.64 603.24M153.87 599.97L155.68 597.52L158.63 597.52L163.16 597.25L166.11 596.7L168.6 596.7M160.44 606.79L165.43 604.06L165.88 598.61L168.6 596.7M161.57 609.78L160.89 610.6L167.69 613.05L173.81 618.23L177.89 618.5L180.16 618.78L180.61 620.14L182.19 620.14M177.89 618.5L181.06 617.69L181.29 616.05L180.61 613.33L181.06 610.6L176.98 607.88L175.4 605.15L176.53 602.43L175.4 599.97L174.04 596.43L172.9 596.16L173.58 594.25L172.9 590.44L174.04 589.62M168.6 596.7L172.9 596.16M155.46 604.61L160.44 606.79L161.57 609.78M174.04 589.62L171.32 588.53L171.32 585.8L174.49 585.26L177.89 585.8L178.12 583.9L176.76 583.35L174.49 581.99L171.09 581.72M174.04 589.62L176.3 590.44L177.89 591.53L179.02 590.98L181.29 589.89L181.97 591.8L183.21 593.16M171.32 585.8L168.82 584.99L166.56 584.71M194.66 595.89L198.06 594.25L202.36 594.25L206.21 595.34L209.16 596.98L211.2 598.07L211.2 601.61L209.61 604.61L210.52 606.51L209.84 607.88L210.52 611.96L212.33 612.24L212.56 613.87L210.52 616.32L212.79 620.14L215.28 624.23M212.11 629.4L212.56 626.41L215.28 625.32M156.14 637.85L154.55 637.03L153.19 635.13M159.99 648.75L157.49 646.57M168.94 651.75L171.09 650.11L176.76 650.66L179.02 651.75L182.87 648.21L190.35 646.03L192.84 652.57M190.35 646.03L197.15 643.3L198.51 637.85L197.6 635.94L191.71 635.4L189.45 631.58M198.51 637.85L199.42 632.4L200.32 629.95M180.61 620.14L182.19 620.14M132.8 585.26L132.12 586.35M132.8 585.26L133.48 584.17L135.74 583.35M132.8 585.26L130.98 585.26L127.13 584.44L124.18 585.26L120.11 586.35L119.43 588.53L117.84 589.62M118.97 585.26L119.2 583.62L117.84 581.99M116.25 583.62L116.93 581.72M124.18 585.26L124.64 583.35L123.28 581.72M37.62 621.5L36.72 622.05L37.17 620.96L37.62 621.5M35.58 620.41L34.22 621.23L34.9 620.41L35.58 620.41M41.93 618.78L41.25 619.05L42.16 618.23L41.93 618.78M40.8 619.59L40.12 621.23L41.02 620.41L40.8 619.59M33.54 608.42L34.68 608.69L34 608.83L33.54 608.42M18.82 656.65L19.27 657.2L18.82 656.38M17.23 652.57L18.14 652.57M20.63 652.29L20.63 652.57M20.86 653.93L20.63 654.2M39.89 719.33L40.12 719.6M59.6 741.13L59.49 741.4M44.65 798.9L44.87 798.9M50.09 807.62L49.97 807.75M91.78 687.72L92.69 688.26L92.23 689.08L91.78 687.72M87.25 696.98L87.7 697.26M89.29 693.44L89.4 693.17M170.64 728.87L171.09 730.23M173.13 730.77L173.36 731.32M174.72 732.68L174.94 732.95M171.54 731.32L171.77 731.59M197.83 754.75L198.74 755.03L198.51 755.84L197.83 754.75M202.81 752.3L203.49 753.12L202.81 753.66L202.81 752.3M198.06 710.34L198.28 710.61M161.35 713.33L161.8 714.97M162.48 711.43L162.71 712.52M162.25 719.06L162.93 719.6M193.3 663.19L196.02 663.74L194.43 664.28L193.3 663.19M186.95 626.41L187.18 627.5M104.92 599.56L105.38 599.97M75.24 591.8L76.15 591.25M81.13 589.07L82.26 588.8M135.51 599.43L136.42 598.61L135.74 599.16M133.25 595.34L132.8 595.07M131.44 593.16L131.66 593.71M132.12 591.53L132.8 590.71M125.54 591.8L128.04 593.71L127.13 592.62M119.2 593.71L119.65 592.89M117.16 589.35L117.84 590.16M130.08 596.7L130.3 596.98M129.62 598.61L130.08 598.61M131.44 590.98L132.12 590.44L132.8 590.98L132.12 591.53L131.44 590.98M131.21 593.16L131.55 592.62L131.89 593.16L131.55 593.71L131.21 593.16M132.8 595L133.36 594.8L133.93 595L133.36 595.2L132.8 595M131.44 595.27L131.89 595.07L132.34 595.27L131.89 595.48L131.44 595.27M129.96 596.77L130.25 596.43L130.53 596.77L130.25 597.11L129.96 596.77M129.4 596.77L129.62 596.57L129.85 596.77L129.62 596.98L129.4 596.77M128.49 594.59L128.83 594.25L129.17 594.59L128.83 594.93L128.49 594.59M129.17 595.41L129.45 595.2L129.74 595.41L129.45 595.61L129.17 595.41M129.85 595.75L130.02 595.61L130.19 595.75L130.02 595.89L129.85 595.75M128.83 595.78L128.98 595.61L129.12 595.78L128.98 595.94L128.83 595.78M127.54 595.27L127.67 595.07L127.81 595.27L127.67 595.48L127.54 595.27M127.7 597.72L127.92 597.52L128.15 597.72L127.92 597.93L127.7 597.72M129.96 598.57L130.13 598.39L130.3 598.57L130.13 598.75L129.96 598.57M133.59 597.45L134.04 597.25L134.5 597.45L134.04 597.66L133.59 597.45M135.29 599.22L135.91 598.47L136.53 599.22L135.91 599.97L135.29 599.22M133.93 600.79L134.1 600.25L134.27 600.79L134.1 601.34L133.93 600.79M129.28 589.07L129.74 588.8L130.19 589.07L129.74 589.35L129.28 589.07M128.04 586.96L128.38 586.62L128.72 586.96L128.38 587.3L128.04 586.96M130.19 587.55L130.42 587.44L130.64 587.55L130.42 587.66L130.19 587.55M127.81 591.87L128.04 591.66L128.26 591.87L128.04 592.07L127.81 591.87M117.05 589.89L117.56 589.35L118.07 589.89L117.56 590.44L117.05 589.89M118.63 593.5L119.14 592.89L119.65 593.5L119.14 594.11L118.63 593.5M119.2 594.8L119.6 594.39L119.99 594.8L119.6 595.2L119.2 594.8M124.41 598.95L124.64 598.61L124.86 598.95L124.64 599.29L124.41 598.95M125.54 596.23L125.71 596.02L125.88 596.23L125.71 596.43L125.54 596.23M124.64 595.14L124.86 594.93L125.09 595.14L124.86 595.34L124.64 595.14M128.94 597.86L129.17 597.66L129.4 597.86L129.17 598.07L128.94 597.86M131.89 596.16L132.06 596.02L132.23 596.16L132.06 596.29L131.89 596.16M133.36 596.57L133.53 596.43L133.7 596.57L133.53 596.7L133.36 596.57M132.57 592.75L132.68 592.62L132.8 592.75L132.68 592.89L132.57 592.75M130.42 599.16L130.7 598.88L130.98 599.16L130.7 599.43L130.42 599.16M132.12 601.4L132.29 601.2L132.46 601.4L132.29 601.61L132.12 601.4M126.79 591.46L127.02 591.25L127.24 591.46L127.02 591.66L126.79 591.46M126 591.12L126.17 590.98L126.34 591.12L126.17 591.25L126 591.12M123.51 588.87L123.73 588.66L123.96 588.87L123.73 589.07L123.51 588.87M124.18 591.66L125.32 592.21L126.22 592.89L127.13 593.71L128.15 594.25L127.81 593.57L127.13 592.62L125.77 591.66L124.64 591.39L124.18 591.66M121.92 593.3L123.28 593.84L124.64 594.39L123.51 593.57L122.15 593.16M120.79 594.52L120.33 594.93L121.47 595.89L121.69 597.11L122.26 597.66L122.83 597.25L123.28 598.47L123.73 597.52L124.07 598.34L124.75 598.47L124.52 596.7L124.07 595.48L125.09 595.34L125.54 595.89L124.86 594.39" stroke="#000" stroke-width="0.9" fill="none" stroke-linejoin="round"/>
<g fill="#111"><circle cx="39.89" cy="719.46" r="0.75"/><circle cx="59.6" cy="741.26" r="0.75"/><circle cx="44.65" cy="798.9" r="0.75"/><circle cx="50.09" cy="807.62" r="0.75"/><circle cx="198.28" cy="710.34" r="0.75"/><circle cx="199.42" cy="725.05" r="0.75"/><circle cx="177.21" cy="723.42" r="0.75"/><circle cx="203.04" cy="752.85" r="0.75"/><circle cx="198.28" cy="755.3" r="0.75"/><circle cx="216.18" cy="751.48" r="0.75"/><circle cx="172.22" cy="731.05" r="0.75"/><circle cx="170.64" cy="729.41" r="0.75"/><circle cx="174.72" cy="732.68" r="0.75"/><circle cx="41.02" cy="619.05" r="0.75"/><circle cx="20.63" cy="653.93" r="0.75"/><circle cx="17.46" cy="657.2" r="0.75"/><circle cx="15.87" cy="651.48" r="0.75"/><circle cx="89.29" cy="693.44" r="0.75"/><circle cx="87.48" cy="697.26" r="0.75"/><circle cx="85.21" cy="701.62" r="0.75"/></g>
</g>
<rect x="21.54" y="581.99" width="192.61" height="231.62" fill="none" stroke="#222" stroke-width="1.1"/>
<path d="M27.2 813.61V815.61M49.86 813.61V815.61M72.52 813.61V815.61M95.18 813.61V815.61M117.84 813.61V815.61M140.5 813.61V815.61M163.16 813.61V815.61M185.82 813.61V815.61M208.48 813.61V815.61M21.54 806.8H19.54M21.54 779.55H19.54M21.54 752.3H19.54M21.54 725.05H19.54M21.54 697.8H19.54M21.54 670.55H19.54M21.54 643.3H19.54M21.54 616.05H19.54M21.54 588.8H19.54" stroke="#222" stroke-width="1" fill="none"/>
<path d="M42.34 580.14L46.05 583.84M42.34 583.84L46.05 580.14M53.67 580.14L57.38 583.84M53.67 583.84L57.38 580.14M65.01 580.14L68.7 583.84M65.01 583.84L68.7 580.14M76.34 580.14L80.03 583.84M76.34 583.84L80.03 580.14M87.67 580.14L91.36 583.84M87.67 583.84L91.36 580.14M99 580.14L102.69 583.84M99 583.84L102.69 580.14M166.97 580.14L170.67 583.84M166.97 583.84L170.67 580.14M178.31 580.14L182 583.84M178.31 583.84L182 580.14M189.63 580.14L193.33 583.84M189.63 583.84L193.33 580.14M200.97 580.14L204.66 583.84M200.97 583.84L204.66 580.14M212.29 580.14L215.99 583.84M212.29 583.84L215.99 580.14M42.34 593.76L46.05 597.46M42.34 597.46L46.05 593.76M53.67 593.76L57.38 597.46M53.67 597.46L57.38 593.76M65.01 593.76L68.7 597.46M65.01 597.46L68.7 593.76M76.34 593.76L80.03 597.46M76.34 597.46L80.03 593.76M87.67 593.76L91.36 597.46M87.67 597.46L91.36 593.76M99 593.76L102.69 597.46M99 597.46L102.69 593.76M155.64 593.76L159.34 597.46M155.64 597.46L159.34 593.76M166.97 593.76L170.67 597.46M166.97 597.46L170.67 593.76M178.31 593.76L182 597.46M178.31 597.46L182 593.76M189.63 593.76L193.33 597.46M189.63 597.46L193.33 593.76M200.97 593.76L204.66 597.46M200.97 597.46L204.66 593.76M212.29 593.76L215.99 597.46M212.29 597.46L215.99 593.76M42.34 607.39L46.05 611.09M42.34 611.09L46.05 607.39M53.67 607.39L57.38 611.09M53.67 611.09L57.38 607.39M65.01 607.39L68.7 611.09M65.01 611.09L68.7 607.39M76.34 607.39L80.03 611.09M76.34 611.09L80.03 607.39M166.97 607.39L170.67 611.09M166.97 611.09L170.67 607.39M178.31 607.39L182 611.09M178.31 611.09L182 607.39M189.63 607.39L193.33 611.09M189.63 611.09L193.33 607.39M200.97 607.39L204.66 611.09M200.97 611.09L204.66 607.39M212.29 607.39L215.99 611.09M212.29 611.09L215.99 607.39M31.02 621.01L34.72 624.71M31.02 624.71L34.72 621.01M42.34 621.01L46.05 624.71M42.34 624.71L46.05 621.01M53.67 621.01L57.38 624.71M53.67 624.71L57.38 621.01M65.01 621.01L68.7 624.71M65.01 624.71L68.7 621.01M76.34 621.01L80.03 624.71M76.34 624.71L80.03 621.01M155.64 621.01L159.34 624.71M155.64 624.71L159.34 621.01M166.97 621.01L170.67 624.71M166.97 624.71L170.67 621.01M178.31 621.01L182 624.71M178.31 624.71L182 621.01M189.63 621.01L193.33 624.71M189.63 624.71L193.33 621.01M200.97 621.01L204.66 624.71M200.97 624.71L204.66 621.01M212.29 621.01L215.99 624.71M212.29 624.71L215.99 621.01M31.02 634.64L34.72 638.34M31.02 638.34L34.72 634.64M42.34 634.64L46.05 638.34M42.34 638.34L46.05 634.64M53.67 634.64L57.38 638.34M53.67 638.34L57.38 634.64M65.01 634.64L68.7 638.34M65.01 638.34L68.7 634.64M155.64 634.64L159.34 638.34M155.64 638.34L159.34 634.64M166.97 634.64L170.67 638.34M166.97 638.34L170.67 634.64M178.31 634.64L182 638.34M178.31 638.34L182 634.64M189.63 634.64L193.33 638.34M189.63 638.34L193.33 634.64M200.97 634.64L204.66 638.34M200.97 638.34L204.66 634.64M212.29 634.64L215.99 638.34M212.29 638.34L215.99 634.64M31.02 648.26L34.72 651.96M31.02 651.96L34.72 648.26M42.34 648.26L46.05 651.96M42.34 651.96L46.05 648.26M53.67 648.26L57.38 651.96M53.67 651.96L57.38 648.26M65.01 648.26L68.7 651.96M65.01 651.96L68.7 648.26M144.31 648.26L148.01 651.96M144.31 651.96L148.01 648.26M155.64 648.26L159.34 651.96M155.64 651.96L159.34 648.26M166.97 648.26L170.67 651.96M166.97 651.96L170.67 648.26M178.31 648.26L182 651.96M178.31 651.96L182 648.26M189.63 648.26L193.33 651.96M189.63 651.96L193.33 648.26M200.97 648.26L204.66 651.96M200.97 651.96L204.66 648.26M31.02 661.89L34.72 665.59M31.02 665.59L34.72 661.89M144.31 661.89L148.01 665.59M144.31 665.59L148.01 661.89M155.64 661.89L159.34 665.59M155.64 665.59L159.34 661.89M31.02 675.51L34.72 679.21M31.02 679.21L34.72 675.51M155.64 675.51L159.34 679.21M155.64 679.21L159.34 675.51M166.97 675.51L170.67 679.21M166.97 679.21L170.67 675.51M87.67 702.76L91.36 706.46M87.67 706.46L91.36 702.76M99 702.76L102.69 706.46M99 706.46L102.69 702.76M110.33 702.76L114.02 706.46M110.33 706.46L114.02 702.76M99 716.39L102.69 720.09M99 720.09L102.69 716.39M110.33 716.39L114.02 720.09M110.33 720.09L114.02 716.39M99 730.01L102.69 733.71M99 733.71L102.69 730.01M110.33 730.01L114.02 733.71M110.33 733.71L114.02 730.01M99 743.64L102.69 747.34M99 747.34L102.69 743.64M110.33 743.64L114.02 747.34M110.33 747.34L114.02 743.64M121.66 743.64L125.36 747.34M121.66 747.34L125.36 743.64M166.97 743.64L170.67 747.34M166.97 747.34L170.67 743.64M99 757.26L102.69 760.96M99 760.96L102.69 757.26M110.33 757.26L114.02 760.96M110.33 760.96L114.02 757.26M121.66 757.26L125.36 760.96M121.66 760.96L125.36 757.26M132.99 757.26L136.69 760.96M132.99 760.96L136.69 757.26M155.64 757.26L159.34 760.96M155.64 760.96L159.34 757.26M166.97 757.26L170.67 760.96M166.97 760.96L170.67 757.26M178.31 757.26L182 760.96M178.31 760.96L182 757.26M99 770.89L102.69 774.59M99 774.59L102.69 770.89M110.33 770.89L114.02 774.59M110.33 774.59L114.02 770.89M121.66 770.89L125.36 774.59M121.66 774.59L125.36 770.89M132.99 770.89L136.69 774.59M132.99 774.59L136.69 770.89M144.31 770.89L148.01 774.59M144.31 774.59L148.01 770.89M166.97 770.89L170.67 774.59M166.97 774.59L170.67 770.89M178.31 770.89L182 774.59M178.31 774.59L182 770.89M110.33 784.51L114.02 788.21M110.33 788.21L114.02 784.51M121.66 784.51L125.36 788.21M121.66 788.21L125.36 784.51M132.99 784.51L136.69 788.21M132.99 788.21L136.69 784.51M144.31 784.51L148.01 788.21M144.31 788.21L148.01 784.51" stroke="#000" stroke-width="1.7" fill="none"/>
<text x="0" y="827.51" text-anchor="middle" font-size="10.2" stroke="#000" stroke-width="0.3" transform="translate(27.2 0) scale(0.82 1)" font-family="Liberation Sans, sans-serif">20W</text>
<text x="0" y="827.51" text-anchor="middle" font-size="10.2" stroke="#000" stroke-width="0.3" transform="translate(49.86 0) scale(0.82 1)" font-family="Liberation Sans, sans-serif">10W</text>
<text x="0" y="827.51" text-anchor="middle" font-size="10.2" stroke="#000" stroke-width="0.3" transform="translate(72.52 0) scale(0.82 1)" font-family="Liberation Sans, sans-serif">0</text>
<text x="0" y="827.51" text-anchor="middle" font-size="10.2" stroke="#000" stroke-width="0.3" transform="translate(95.18 0) scale(0.82 1)" font-family="Liberation Sans, sans-serif">10E</text>
<text x="0" y="827.51" text-anchor="middle" font-size="10.2" stroke="#000" stroke-width="0.3" transform="translate(117.84 0) scale(0.82 1)" font-family="Liberation Sans, sans-serif">20E</text>
<text x="0" y="827.51" text-anchor="middle" font-size="10.2" stroke="#000" stroke-width="0.3" transform="translate(140.5 0) scale(0.82 1)" font-family="Liberation Sans, sans-serif">30E</text>
<text x="0" y="827.51" text-anchor="middle" font-size="10.2" stroke="#000" stroke-width="0.3" transform="translate(163.16 0) scale(0.82 1)" font-family="Liberation Sans, sans-serif">40E</text>
<text x="0" y="827.51" text-anchor="middle" font-size="10.2" stroke="#000" stroke-width="0.3" transform="translate(185.82 0) scale(0.82 1)" font-family="Liberation Sans, sans-serif">50E</text>
<text x="0" y="827.51" text-anchor="middle" font-size="10.2" stroke="#000" stroke-width="0.3" transform="translate(208.48 0) scale(0.82 1)" font-family="Liberation Sans, sans-serif">60E</text>
<text x="0" y="810.4" text-anchor="end" font-size="10.2" stroke="#000" stroke-width="0.3" transform="translate(16.1 0) scale(0.84 1)" font-family="Liberation Sans, sans-serif">40S</text>
<text x="0" y="783.15" text-anchor="end" font-size="10.2" stroke="#000" stroke-width="0.3" transform="translate(16.1 0) scale(0.84 1)" font-family="Liberation Sans, sans-serif">30S</text>
<text x="0" y="755.9" text-anchor="end" font-size="10.2" stroke="#000" stroke-width="0.3" transform="translate(16.1 0) scale(0.84 1)" font-family="Liberation Sans, sans-serif">20S</text>
<text x="0" y="728.65" text-anchor="end" font-size="10.2" stroke="#000" stroke-width="0.3" transform="translate(16.1 0) scale(0.84 1)" font-family="Liberation Sans, sans-serif">10S</text>
<text x="0" y="701.4" text-anchor="end" font-size="10.2" stroke="#000" stroke-width="0.3" transform="translate(16.1 0) scale(0.84 1)" font-family="Liberation Sans, sans-serif">EQ</text>
<text x="0" y="674.15" text-anchor="end" font-size="10.2" stroke="#000" stroke-width="0.3" transform="translate(16.1 0) scale(0.84 1)" font-family="Liberation Sans, sans-serif">10N</text>
<text x="0" y="646.9" text-anchor="end" font-size="10.2" stroke="#000" stroke-width="0.3" transform="translate(16.1 0) scale(0.84 1)" font-family="Liberation Sans, sans-serif">20N</text>
<text x="0" y="619.65" text-anchor="end" font-size="10.2" stroke="#000" stroke-width="0.3" transform="translate(16.1 0) scale(0.84 1)" font-family="Liberation Sans, sans-serif">30N</text>
<text x="0" y="592.4" text-anchor="end" font-size="10.2" stroke="#000" stroke-width="0.3" transform="translate(16.1 0) scale(0.84 1)" font-family="Liberation Sans, sans-serif">40N</text>
<text x="117.84" y="575.6" text-anchor="middle" font-size="13.6" fill="#222" font-family="Liberation Sans, sans-serif">mpi</text>
<path d="M246 599.1L250.2 580.8L254.4 599.1Z" fill="#ae0000" stroke="#222" stroke-width="0.8"/>
<rect x="246" y="599.1" width="8.4" height="17.94" fill="#ca0000" stroke="#222" stroke-width="0.8"/>
<rect x="246" y="617.04" width="8.4" height="17.94" fill="#e41400" stroke="#222" stroke-width="0.8"/>
<rect x="246" y="634.98" width="8.4" height="17.94" fill="#ff3200" stroke="#222" stroke-width="0.8"/>
<rect x="246" y="652.92" width="8.4" height="17.94" fill="#ff6400" stroke="#222" stroke-width="0.8"/>
<rect x="246" y="670.86" width="8.4" height="17.94" fill="#ffa400" stroke="#222" stroke-width="0.8"/>
<rect x="246" y="688.8" width="8.4" height="17.94" fill="#ffc03c" stroke="#222" stroke-width="0.8"/>
<rect x="246" y="706.74" width="8.4" height="17.94" fill="#ffe070" stroke="#222" stroke-width="0.8"/>
<rect x="246" y="724.68" width="8.4" height="17.94" fill="#fff27a" stroke="#222" stroke-width="0.8"/>
<rect x="246" y="742.62" width="8.4" height="17.94" fill="#fff58a" stroke="#222" stroke-width="0.8"/>
<rect x="246" y="760.56" width="8.4" height="17.94" fill="#fff79c" stroke="#222" stroke-width="0.8"/>
<rect x="246" y="778.5" width="8.4" height="17.94" fill="#fffaae" stroke="#222" stroke-width="0.8"/>
<path d="M246 796.44L250.2 814.3L254.4 796.44Z" fill="#e6ffe1" stroke="#222" stroke-width="0.8"/>
<text x="260.2" y="603.4" font-size="12.2" stroke="#000" stroke-width="0.2" font-family="Liberation Sans, sans-serif">4</text>
<text x="257.9" y="621.34" font-size="12.2" stroke="#000" stroke-width="0.2" font-family="Liberation Sans, sans-serif">3.6</text>
<text x="257.9" y="639.28" font-size="12.2" stroke="#000" stroke-width="0.2" font-family="Liberation Sans, sans-serif">3.2</text>
<text x="257.9" y="657.22" font-size="12.2" stroke="#000" stroke-width="0.2" font-family="Liberation Sans, sans-serif">2.8</text>
<text x="257.9" y="675.16" font-size="12.2" stroke="#000" stroke-width="0.2" font-family="Liberation Sans, sans-serif">2.4</text>
<text x="259.9" y="693.1" font-size="12.2" stroke="#000" stroke-width="0.2" font-family="Liberation Sans, sans-serif">2</text>
<text x="257.9" y="711.04" font-size="12.2" stroke="#000" stroke-width="0.2" font-family="Liberation Sans, sans-serif">1.6</text>
<text x="257.9" y="728.98" font-size="12.2" stroke="#000" stroke-width="0.2" font-family="Liberation Sans, sans-serif">1.2</text>
<text x="257.9" y="746.92" font-size="12.2" stroke="#000" stroke-width="0.2" font-family="Liberation Sans, sans-serif">0.8</text>
<text x="257.9" y="764.86" font-size="12.2" stroke="#000" stroke-width="0.2" font-family="Liberation Sans, sans-serif">0.4</text>
<text x="259.9" y="782.8" font-size="12.2" stroke="#000" stroke-width="0.2" font-family="Liberation Sans, sans-serif">0</text>
<path d="M256.7 796.64H263.7" stroke="#000" stroke-width="1.25"/>
<text x="265.3" y="800.94" font-size="12.9" stroke="#000" stroke-width="0.2" font-family="Liberation Sans, sans-serif">0.4</text>
<clipPath id="c5"><rect x="341.53" y="581.99" width="192.61" height="231.62"/></clipPath>
<g clip-path="url(#c5)">
<path d="M347.2 581.99V813.61M369.86 581.99V813.61M392.52 581.99V813.61M415.18 581.99V813.61M437.84 581.99V813.61M460.5 581.99V813.61M483.16 581.99V813.61M505.82 581.99V813.61M528.48 581.99V813.61" stroke="#a0a0a0" stroke-width="0.9" stroke-dasharray="1 2.56" fill="none"/>
<path d="M341.53 806.8H534.14M341.53 779.55H534.14M341.53 752.3H534.14M341.53 725.05H534.14M341.53 697.8H534.14M341.53 670.55H534.14M341.53 643.3H534.14M341.53 616.05H534.14M341.53 588.8H534.14" stroke="#c4c4c4" stroke-width="0.9" stroke-dasharray="1 2.56" fill="none"/>
<rect x="358.53" y="575.18" width="11.63" height="13.93" fill="#ffe070"/>
<rect x="369.86" y="575.18" width="11.63" height="13.93" fill="#fff27a"/>
<rect x="381.19" y="575.18" width="11.63" height="13.93" fill="#fff27a"/>
<rect x="392.52" y="575.18" width="11.63" height="13.93" fill="#fff27a"/>
<rect x="403.85" y="575.18" width="11.63" height="13.93" fill="#fff27a"/>
<rect x="415.18" y="575.18" width="11.63" height="13.93" fill="#ffe070"/>
<rect x="426.51" y="575.18" width="11.63" height="13.93" fill="#ffe070"/>
<rect x="437.84" y="575.18" width="11.63" height="13.93" fill="#ffa400"/>
<rect x="449.17" y="575.18" width="11.63" height="13.93" fill="#ff6400"/>
<rect x="460.5" y="575.18" width="11.63" height="13.93" fill="#ff3200"/>
<rect x="471.83" y="575.18" width="11.63" height="13.93" fill="#ff3200"/>
<rect x="483.16" y="575.18" width="11.63" height="13.93" fill="#e41400"/>
<rect x="494.49" y="575.18" width="11.63" height="13.93" fill="#ff3200"/>
<rect x="505.82" y="575.18" width="11.63" height="13.93" fill="#ff3200"/>
<rect x="517.15" y="575.18" width="11.63" height="13.93" fill="#ca0000"/>
<rect x="528.48" y="575.18" width="11.63" height="13.93" fill="#ca0000"/>
<rect x="358.53" y="588.8" width="11.63" height="13.93" fill="#ffe070"/>
<rect x="369.86" y="588.8" width="11.63" height="13.93" fill="#ffe070"/>
<rect x="381.19" y="588.8" width="11.63" height="13.93" fill="#ffe070"/>
<rect x="392.52" y="588.8" width="11.63" height="13.93" fill="#ffc03c"/>
<rect x="403.85" y="588.8" width="11.63" height="13.93" fill="#ffa400"/>
<rect x="415.18" y="588.8" width="11.63" height="13.93" fill="#ffc03c"/>
<rect x="426.51" y="588.8" width="11.63" height="13.93" fill="#ffc03c"/>
<rect x="437.84" y="588.8" width="11.63" height="13.93" fill="#ffa400"/>
<rect x="449.17" y="588.8" width="11.63" height="13.93" fill="#ff6400"/>
<rect x="460.5" y="588.8" width="11.63" height="13.93" fill="#ff3200"/>
<rect x="471.83" y="588.8" width="11.63" height="13.93" fill="#ff3200"/>
<rect x="483.16" y="588.8" width="11.63" height="13.93" fill="#ff3200"/>
<rect x="494.49" y="588.8" width="11.63" height="13.93" fill="#ff3200"/>
<rect x="505.82" y="588.8" width="11.63" height="13.93" fill="#ff6400"/>
<rect x="517.15" y="588.8" width="11.63" height="13.93" fill="#ff3200"/>
<rect x="528.48" y="588.8" width="11.63" height="13.93" fill="#ff6400"/>
<rect x="358.53" y="602.43" width="11.63" height="13.93" fill="#ffe070"/>
<rect x="369.86" y="602.43" width="11.63" height="13.93" fill="#ffc03c"/>
<rect x="381.19" y="602.43" width="11.63" height="13.93" fill="#ffc03c"/>
<rect x="392.52" y="602.43" width="11.63" height="13.93" fill="#ff6400"/>
<rect x="403.85" y="602.43" width="11.63" height="13.93" fill="#ff6400"/>
<rect x="415.18" y="602.43" width="11.63" height="13.93" fill="#ff3200"/>
<rect x="426.51" y="602.43" width="11.63" height="13.93" fill="#ffa400"/>
<rect x="437.84" y="602.43" width="11.63" height="13.93" fill="#ff6400"/>
<rect x="449.17" y="602.43" width="11.63" height="13.93" fill="#ffa400"/>
<rect x="460.5" y="602.43" width="11.63" height="13.93" fill="#ffa400"/>
<rect x="471.83" y="602.43" width="11.63" height="13.93" fill="#ff6400"/>
<rect x="483.16" y="602.43" width="11.63" height="13.93" fill="#ff3200"/>
<rect x="494.49" y="602.43" width="11.63" height="13.93" fill="#ff3200"/>
<rect x="505.82" y="602.43" width="11.63" height="13.93" fill="#ff6400"/>
<rect x="517.15" y="602.43" width="11.63" height="13.93" fill="#ff6400"/>
<rect x="528.48" y="602.43" width="11.63" height="13.93" fill="#ff6400"/>
<rect x="347.2" y="616.05" width="11.63" height="13.93" fill="#fff27a"/>
<rect x="358.53" y="616.05" width="11.63" height="13.93" fill="#ffe070"/>
<rect x="369.86" y="616.05" width="11.63" height="13.93" fill="#ffc03c"/>
<rect x="381.19" y="616.05" width="11.63" height="13.93" fill="#ff6400"/>
<rect x="392.52" y="616.05" width="11.63" height="13.93" fill="#ff6400"/>
<rect x="403.85" y="616.05" width="11.63" height="13.93" fill="#ff3200"/>
<rect x="415.18" y="616.05" width="11.63" height="13.93" fill="#ff3200"/>
<rect x="426.51" y="616.05" width="11.63" height="13.93" fill="#ff3200"/>
<rect x="437.84" y="616.05" width="11.63" height="13.93" fill="#ff6400"/>
<rect x="449.17" y="616.05" width="11.63" height="13.93" fill="#ff6400"/>
<rect x="460.5" y="616.05" width="11.63" height="13.93" fill="#ff3200"/>
<rect x="471.83" y="616.05" width="11.63" height="13.93" fill="#ff6400"/>
<rect x="483.16" y="616.05" width="11.63" height="13.93" fill="#ff6400"/>
<rect x="494.49" y="616.05" width="11.63" height="13.93" fill="#ff6400"/>
<rect x="505.82" y="616.05" width="11.63" height="13.93" fill="#ff6400"/>
<rect x="517.15" y="616.05" width="11.63" height="13.93" fill="#ff6400"/>
<rect x="528.48" y="616.05" width="11.63" height="13.93" fill="#ffa400"/>
<rect x="347.2" y="629.68" width="11.63" height="13.93" fill="#fff27a"/>
<rect x="358.53" y="629.68" width="11.63" height="13.93" fill="#ffc03c"/>
<rect x="369.86" y="629.68" width="11.63" height="13.93" fill="#ff6400"/>
<rect x="381.19" y="629.68" width="11.63" height="13.93" fill="#ff6400"/>
<rect x="392.52" y="629.68" width="11.63" height="13.93" fill="#ff6400"/>
<rect x="403.85" y="629.68" width="11.63" height="13.93" fill="#ff6400"/>
<rect x="415.18" y="629.68" width="11.63" height="13.93" fill="#ff6400"/>
<rect x="426.51" y="629.68" width="11.63" height="13.93" fill="#ff6400"/>
<rect x="437.84" y="629.68" width="11.63" height="13.93" fill="#ff6400"/>
<rect x="449.17" y="629.68" width="11.63" height="13.93" fill="#ff3200"/>
<rect x="460.5" y="629.68" width="11.63" height="13.93" fill="#ff3200"/>
<rect x="471.83" y="629.68" width="11.63" height="13.93" fill="#ff6400"/>
<rect x="483.16" y="629.68" width="11.63" height="13.93" fill="#ffa400"/>
<rect x="494.49" y="629.68" width="11.63" height="13.93" fill="#ffa400"/>
<rect x="505.82" y="629.68" width="11.63" height="13.93" fill="#ffa400"/>
<rect x="517.15" y="629.68" width="11.63" height="13.93" fill="#ffa400"/>
<rect x="528.48" y="629.68" width="11.63" height="13.93" fill="#ff6400"/>
<rect x="347.2" y="643.3" width="11.63" height="13.93" fill="#fff27a"/>
<rect x="358.53" y="643.3" width="11.63" height="13.93" fill="#ffc03c"/>
<rect x="369.86" y="643.3" width="11.63" height="13.93" fill="#ffa400"/>
<rect x="381.19" y="643.3" width="11.63" height="13.93" fill="#ffa400"/>
<rect x="392.52" y="643.3" width="11.63" height="13.93" fill="#ffa400"/>
<rect x="403.85" y="643.3" width="11.63" height="13.93" fill="#ffa400"/>
<rect x="415.18" y="643.3" width="11.63" height="13.93" fill="#ffa400"/>
<rect x="426.51" y="643.3" width="11.63" height="13.93" fill="#ffa400"/>
<rect x="437.84" y="643.3" width="11.63" height="13.93" fill="#ffa400"/>
<rect x="449.17" y="643.3" width="11.63" height="13.93" fill="#ff6400"/>
<rect x="460.5" y="643.3" width="11.63" height="13.93" fill="#ff6400"/>
<rect x="471.83" y="643.3" width="11.63" height="13.93" fill="#fff27a"/>
<rect x="483.16" y="643.3" width="11.63" height="13.93" fill="#fff27a"/>
<rect x="494.49" y="643.3" width="11.63" height="13.93" fill="#ffe070"/>
<rect x="505.82" y="643.3" width="11.63" height="13.93" fill="#ffc03c"/>
<rect x="517.15" y="643.3" width="11.63" height="13.93" fill="#ffc03c"/>
<rect x="347.2" y="656.93" width="11.63" height="13.93" fill="#fff27a"/>
<rect x="358.53" y="656.93" width="11.63" height="13.93" fill="#ffe070"/>
<rect x="369.86" y="656.93" width="11.63" height="13.93" fill="#ffe070"/>
<rect x="381.19" y="656.93" width="11.63" height="13.93" fill="#ffe070"/>
<rect x="392.52" y="656.93" width="11.63" height="13.93" fill="#ffc03c"/>
<rect x="403.85" y="656.93" width="11.63" height="13.93" fill="#ffe070"/>
<rect x="415.18" y="656.93" width="11.63" height="13.93" fill="#ffe070"/>
<rect x="426.51" y="656.93" width="11.63" height="13.93" fill="#ffe070"/>
<rect x="437.84" y="656.93" width="11.63" height="13.93" fill="#fff27a"/>
<rect x="449.17" y="656.93" width="11.63" height="13.93" fill="#fff27a"/>
<rect x="460.5" y="656.93" width="11.63" height="13.93" fill="#fff27a"/>
<rect x="471.83" y="656.93" width="11.63" height="13.93" fill="#fff58a"/>
<rect x="483.16" y="656.93" width="11.63" height="13.93" fill="#fff58a"/>
<rect x="494.49" y="656.93" width="11.63" height="13.93" fill="#fff27a"/>
<rect x="505.82" y="656.93" width="11.63" height="13.93" fill="#ffe070"/>
<rect x="347.2" y="670.55" width="11.63" height="13.93" fill="#fff27a"/>
<rect x="358.53" y="670.55" width="11.63" height="13.93" fill="#fff27a"/>
<rect x="369.86" y="670.55" width="11.63" height="13.93" fill="#fff27a"/>
<rect x="381.19" y="670.55" width="11.63" height="13.93" fill="#fff27a"/>
<rect x="392.52" y="670.55" width="11.63" height="13.93" fill="#fff27a"/>
<rect x="403.85" y="670.55" width="11.63" height="13.93" fill="#fff27a"/>
<rect x="415.18" y="670.55" width="11.63" height="13.93" fill="#fff27a"/>
<rect x="426.51" y="670.55" width="11.63" height="13.93" fill="#fff27a"/>
<rect x="437.84" y="670.55" width="11.63" height="13.93" fill="#fff27a"/>
<rect x="449.17" y="670.55" width="11.63" height="13.93" fill="#fff27a"/>
<rect x="460.5" y="670.55" width="11.63" height="13.93" fill="#fff27a"/>
<rect x="471.83" y="670.55" width="11.63" height="13.93" fill="#fff58a"/>
<rect x="483.16" y="670.55" width="11.63" height="13.93" fill="#fff58a"/>
<rect x="494.49" y="670.55" width="11.63" height="13.93" fill="#fff27a"/>
<rect x="505.82" y="670.55" width="11.63" height="13.93" fill="#fff27a"/>
<rect x="369.86" y="684.18" width="11.63" height="13.93" fill="#fff27a"/>
<rect x="381.19" y="684.18" width="11.63" height="13.93" fill="#fff27a"/>
<rect x="403.85" y="684.18" width="11.63" height="13.93" fill="#fff27a"/>
<rect x="415.18" y="684.18" width="11.63" height="13.93" fill="#ffc03c"/>
<rect x="426.51" y="684.18" width="11.63" height="13.93" fill="#ffc03c"/>
<rect x="437.84" y="684.18" width="11.63" height="13.93" fill="#fff27a"/>
<rect x="449.17" y="684.18" width="11.63" height="13.93" fill="#fff27a"/>
<rect x="460.5" y="684.18" width="11.63" height="13.93" fill="#fff27a"/>
<rect x="471.83" y="684.18" width="11.63" height="13.93" fill="#fff58a"/>
<rect x="483.16" y="684.18" width="11.63" height="13.93" fill="#fff27a"/>
<rect x="494.49" y="684.18" width="11.63" height="13.93" fill="#fff27a"/>
<rect x="403.85" y="697.8" width="11.63" height="13.93" fill="#ffe070"/>
<rect x="415.18" y="697.8" width="11.63" height="13.93" fill="#ffe070"/>
<rect x="426.51" y="697.8" width="11.63" height="13.93" fill="#ffe070"/>
<rect x="437.84" y="697.8" width="11.63" height="13.93" fill="#ffc03c"/>
<rect x="449.17" y="697.8" width="11.63" height="13.93" fill="#fff27a"/>
<rect x="460.5" y="697.8" width="11.63" height="13.93" fill="#fff27a"/>
<rect x="471.83" y="697.8" width="11.63" height="13.93" fill="#fff27a"/>
<rect x="483.16" y="697.8" width="11.63" height="13.93" fill="#ffc03c"/>
<rect x="415.18" y="711.43" width="11.63" height="13.93" fill="#ffc03c"/>
<rect x="426.51" y="711.43" width="11.63" height="13.93" fill="#ffc03c"/>
<rect x="437.84" y="711.43" width="11.63" height="13.93" fill="#ffe070"/>
<rect x="449.17" y="711.43" width="11.63" height="13.93" fill="#fff27a"/>
<rect x="460.5" y="711.43" width="11.63" height="13.93" fill="#fff27a"/>
<rect x="471.83" y="711.43" width="11.63" height="13.93" fill="#fff27a"/>
<rect x="415.18" y="725.05" width="11.63" height="13.93" fill="#ffc03c"/>
<rect x="426.51" y="725.05" width="11.63" height="13.93" fill="#ff6400"/>
<rect x="437.84" y="725.05" width="11.63" height="13.93" fill="#ffc03c"/>
<rect x="449.17" y="725.05" width="11.63" height="13.93" fill="#ffc03c"/>
<rect x="460.5" y="725.05" width="11.63" height="13.93" fill="#ffe070"/>
<rect x="471.83" y="725.05" width="11.63" height="13.93" fill="#ffc03c"/>
<rect x="483.16" y="725.05" width="11.63" height="13.93" fill="#ffc03c"/>
<rect x="494.49" y="725.05" width="11.63" height="13.93" fill="#ffc03c"/>
<rect x="415.18" y="738.68" width="11.63" height="13.93" fill="#ffc03c"/>
<rect x="426.51" y="738.68" width="11.63" height="13.93" fill="#ff3200"/>
<rect x="437.84" y="738.68" width="11.63" height="13.93" fill="#ff3200"/>
<rect x="449.17" y="738.68" width="11.63" height="13.93" fill="#e41400"/>
<rect x="460.5" y="738.68" width="11.63" height="13.93" fill="#ff6400"/>
<rect x="471.83" y="738.68" width="11.63" height="13.93" fill="#ffa400"/>
<rect x="483.16" y="738.68" width="11.63" height="13.93" fill="#ffc03c"/>
<rect x="494.49" y="738.68" width="11.63" height="13.93" fill="#ffc03c"/>
<rect x="505.82" y="738.68" width="11.63" height="13.93" fill="#ffc03c"/>
<rect x="415.18" y="752.3" width="11.63" height="13.93" fill="#fff27a"/>
<rect x="426.51" y="752.3" width="11.63" height="13.93" fill="#ffa400"/>
<rect x="437.84" y="752.3" width="11.63" height="13.93" fill="#ff6400"/>
<rect x="449.17" y="752.3" width="11.63" height="13.93" fill="#ff6400"/>
<rect x="460.5" y="752.3" width="11.63" height="13.93" fill="#ffa400"/>
<rect x="471.83" y="752.3" width="11.63" height="13.93" fill="#ffe070"/>
<rect x="483.16" y="752.3" width="11.63" height="13.93" fill="#ffa400"/>
<rect x="494.49" y="752.3" width="11.63" height="13.93" fill="#ffc03c"/>
<rect x="415.18" y="765.93" width="11.63" height="13.93" fill="#fff27a"/>
<rect x="426.51" y="765.93" width="11.63" height="13.93" fill="#fff27a"/>
<rect x="437.84" y="765.93" width="11.63" height="13.93" fill="#ffc03c"/>
<rect x="449.17" y="765.93" width="11.63" height="13.93" fill="#fff27a"/>
<rect x="460.5" y="765.93" width="11.63" height="13.93" fill="#fff27a"/>
<rect x="483.16" y="765.93" width="11.63" height="13.93" fill="#ffe070"/>
<rect x="494.49" y="765.93" width="11.63" height="13.93" fill="#ffe070"/>
<rect x="426.51" y="779.55" width="11.63" height="13.93" fill="#fff27a"/>
<rect x="437.84" y="779.55" width="11.63" height="13.93" fill="#fff27a"/>
<rect x="449.17" y="779.55" width="11.63" height="13.93" fill="#fff27a"/>
<rect x="460.5" y="779.55" width="11.63" height="13.93" fill="#fff27a"/>
<path d="M347.2 581.99V813.61M369.86 581.99V813.61M392.52 581.99V813.61M415.18 581.99V813.61M437.84 581.99V813.61M460.5 581.99V813.61M483.16 581.99V813.61M505.82 581.99V813.61M528.48 581.99V813.61" stroke="#a0a0a0" stroke-opacity="0.3" stroke-width="0.9" stroke-dasharray="1 2.56" fill="none"/>
<path d="M341.53 806.8H534.14M341.53 779.55H534.14M341.53 752.3H534.14M341.53 725.05H534.14M341.53 697.8H534.14M341.53 670.55H534.14M341.53 643.3H534.14M341.53 616.05H534.14M341.53 588.8H534.14" stroke="#d0d0d0" stroke-opacity="0.3" stroke-width="0.9" stroke-dasharray="1 2.56" fill="none"/>
<path d="M466.28 616.19L465.83 614.42L465.71 612.64L464.58 611.96L462.77 611.69L461.41 612.1L460.27 612.78L458.23 613.6L455.97 613.05L454.16 612.29L451.44 611.69L449.51 611.69L448.26 610.87L446.79 610.33L444.86 608.97L443.73 608.42L441.24 608.01L439.2 608.97L437.95 610.33L437.61 611.69L438.07 613.33L436.93 614.96L435.35 614.42L433.08 613.6L430.14 612.78L428.1 611.69L426.96 609.51L424.7 608.69L422.43 608.15L419.71 608.28L418.58 607.33L417.67 607.06L417.11 605.97L415.41 605.42L415.75 604.33L416.88 603.11L417.67 601.88L417.45 600.79L416.54 599.97L416.31 598.61L417.56 596.84L416.54 597.38L415.63 597.52L415.86 596.57L414.84 596.16L412.91 596.57L412.01 597.11L410.08 597.11L408.84 596.84L406.91 596.84L404.98 597.93L404.08 597.66L401.58 597.25L399.43 597.6L397.73 598.07L395.47 598.34L392.97 599.7L391.05 600.38L389.57 601.61L387.53 602.15L385.84 601.61L383.68 601.74L381.87 601.88L380.51 599.97L379.38 600.25L378.58 601.88L377.56 604.33L377.11 605.15L375.3 606.24L373.26 607.19L371.56 609.78L370.31 611.96L370.2 614.42L370.77 614.96L370.31 616.6L369.41 617.69L367.37 620.14L365.1 621.23L363.29 621.77L362.16 623.95L359.66 626.68L358.76 629.4L357.4 631.58L356.49 633.22L355.58 635.13L355.36 637.03L354.22 639.21L353.88 641.12L354.9 643.3L355.13 644.94L355.81 646.57L356.26 648.48L355.58 651.48L355.13 654.2L354.22 656.11L352.87 657.74L353.77 658.02L354.45 659.11L354.56 660.74L354.9 661.15L354.56 662.38L354.68 664.01L355.81 665.37L357.4 666.46L358.53 668.1L359.44 669.19L360.8 670.82L361.48 671.91L362.5 673.55L362.61 674.91L363.29 676.55L364.19 677.64L366.46 679L368.05 680.63L370.09 682.54L372.35 684.72L375.07 685.81L376.66 685.54L378.7 684.31L381.19 683.77L383.46 683.49L385.5 683.9L387.76 684.86L390.25 683.63L392.07 682.68L393.88 682L395.24 681.18L397.96 680.5L400.22 680.36L402.72 680.63L403.85 682L404.98 683.63L406.12 686.08L408.38 685.81L411.33 685.27L412.23 685.54L412.91 686.9L414.5 687.45L414.95 689.9L414.73 692.9L414.05 695.08L413.93 696.71L413.59 698.62L412.23 699.44L413.59 702.71L415.18 705.43L417.67 708.43L419.37 710.88L420.39 714.15L421.75 718.24L422.43 721.78L423.34 726.96L423.79 727.78L423.11 731.45L422.88 732.14L421.07 734.59L420.05 739.22L419.26 743.04L419.15 744.81L420.84 749.58L423.11 754.75L425.15 758.57L425.38 760.34L425.6 764.56L426.85 770.42L427.87 773.01L429.8 775.74L431.72 780.91L433.53 784.73L433.08 787.73L434.21 790.18L434.44 791.4L435.12 790.72L436.25 792.09L437.84 792.71L440.11 791.54L442.6 791L445.54 790.59L448.72 791L450.53 790.31L453.25 789.36L455.74 787.73L459.37 783.91L461.18 782L462.77 779.14L465.71 775.46L467.07 770.83L466.39 768.57L468.66 766.47L471.83 764.56L472.96 762.66L472.74 758.3L471.83 753.66L471.49 751.76L474.78 749.03L476.14 746.58L479.76 743.85L483.16 741.95L484.75 738.4L484.29 733.23L484.29 726.41L483.39 725.87L481.57 719.6L481.57 716.33L480.44 714.15L481.12 711.7L482.48 708.84L483.39 706.52L485.2 704.07L486.79 702.16L488.82 698.75L491.09 695.62L495.28 692.21L499.02 686.9L502.42 683.36L504.69 677.36L505.37 676L507.63 670.55L508.99 669.46L508.65 665.51L506.95 665.37L504.01 667.01L500.15 667.55L494.49 669.32L492.22 669.46L490.86 667.01L490.3 666.19L489.5 665.65L490.64 663.74L489.28 662.38L486.79 660.74L484.97 658.29L482.93 655.56L481.91 655.29L480.67 652.57L479.76 648.75L477.27 646.3L476.82 644.39L476.59 640.58L476.14 637.85L473.19 635.13L472.96 632.67L470.7 628.31L469.11 623.68L467.75 621.5L466.39 616.32L466.28 616.19M466.28 616.19L467.3 618.78L468.43 620.68L470.13 622.18L470.7 620.41L471.6 617.41L471.83 617.28L471.6 621.23L473.42 623.27L475.23 626.41L476.82 629.54L478.74 632.13L481.23 639.21L484.29 643.85L486.11 647.39L488.94 651.75L489.28 655.02L489.84 657.47L490.52 661.56L490.98 663.33L492.22 663.47L494.49 662.92L497.89 661.29L501.29 659.65L503.78 658.29L506.95 656.93L510.81 655.29L510.81 652.84L513.75 652.02L515.11 651.48L517.83 649.3L520.78 648.48L523.27 646.3L523.49 642.76L525.31 641.67L527.35 638.4L528.03 636.49L526.21 635.13L525.31 633.49L521.68 632.13L521 631.31L520.21 629.13L520.32 626.95L519.87 626.13L519.42 628.04L517.83 628.99L515.79 631.04L513.75 632.13L511.71 631.86L509.45 631.58L508.54 630.77L509.45 628.86L509.22 626.68L508.31 626.68L507.63 630.36L506.95 628.31L506.05 627.22L506.27 625.72L504.91 623.68L503.1 622.05L502.19 620.14L501.06 617.69L502.42 616.32L503.55 615.23L506.27 616.05L507.63 618.91L509.22 621.77L511.71 623.14L516.02 625.32L518.28 624.77L520.1 623.82L521.68 624.77L522.36 627.22L523.49 627.9L526.21 628.59L529.84 628.86L532.11 629.4L535.28 629.13M465.71 612.64L467.3 613.05L469.11 612.92L470.02 612.51L471.26 610.46L471.83 608.42L472.28 607.33L472.96 605.42L473.64 603.52L473.64 601.06L473.98 599.97L474.44 598.07L472.74 598.07L470.92 597.52L469.11 599.16L466.84 599.56L465.03 598.2L464.58 598.07L462.09 597.38L461.41 599.16L459.59 599.16L458.46 598.07L456.42 597.79L454.61 596.98L454.83 595.89L454.16 594.8L452.12 593.43L453.48 592.89L453.93 593.16L453.25 592.07L453.02 590.44L451.66 590.16L451.89 588.66L453.02 587.57L454.83 587.71L456.65 587.71L458.23 587.71L460.27 586.76L458.23 586.08L456.42 586.08L454.61 586.21L453.02 587.17L451.44 586.62L449.62 586.21L447.81 586.35L446.68 586.89L446.22 587.98L445.32 588.26L444.41 587.17L443.73 587.98L443.73 589.07L445.09 590.44L444.41 591.53L446 592.89L446.9 595.2L445.09 594.25L444.18 595.34L445.09 598.61L443.5 598.61L442.83 596.98L442.15 597.52L441.47 595.34L440.79 594.52L441.47 593.43L443.05 593.71L441.24 593.16L440.11 593.43L439.43 591.8L438.52 590.71L437.84 589.62L436.59 587.57L436.59 585.26L436.71 583.9L436.25 583.62L434.89 582.26L433.76 581.72M455.74 581.72L455.97 583.35L456.19 584.44L458.01 585.39L458.46 585.67L460.5 585.53L462.77 585.8L466.16 583.9L468.43 583.35L472.06 583.35L474.1 584.17L474.78 585.26L477.5 585.8L479.76 586.35L482.48 586.08L484.29 586.08L486.56 584.71L486.79 581.72M372.13 581.72L372.47 583.62L372.92 585.67L372.58 588.26L371.22 590.44L370.99 592.34L372.35 592.89L372.58 594.52L372.13 596.98L374.62 596.98L375.75 596.43L378.24 598.34L379.83 599.7L380.4 599.43L382.55 597.79L386.63 597.79L387.53 597.74L388.89 596.43L390.25 595.34L390.93 593.71L392.97 592.21L391.84 590.3L392.52 588.8L393.65 587.44L394.56 586.35L395.35 585.8L397.51 584.99L399.77 583.62L399.77 582.26L399.54 581.72M416.99 581.72L417.67 582.26L419.26 583.35L420.17 584.03L421.98 585.39L423.56 585.53L424.81 586.62L426.06 587.17L426.51 588.26L428.1 588.8L428.78 590.44L429.23 591.8L427.98 594.25L429 594.25L430.14 593.02L431.38 591.53L431.27 590.44L429.91 589.62L431.5 587.57L433.31 588.26L434.1 589.35L434.44 588.39L433.19 587.03L430.82 585.8L428.55 584.71L429.23 583.62L426.96 583.49L425.38 582.53L424.7 581.72M420.62 594.8L422.77 593.98L425.38 594.11L427.76 593.57L426.74 595.61L426.74 597.79L425.38 597.52L423.11 596.43L421.52 595.48L420.62 594.8M411.55 591.53L411.78 588.8L411.1 587.17L411.33 586.08L413.37 585.39L414.5 586.35L414.5 588.8L414.27 590.98L412.91 590.98L412.01 591.8L411.55 591.53M412.01 583.62L412.46 584.44L413.37 584.99L414.05 583.08L414.05 581.17L413.59 580.63L412.01 581.99L412.01 583.62M445.77 601.61L446 600.79L447.58 601.47L449.17 601.34L450.76 601.61L452.12 601.61L451.66 602.43L449.17 602.56L446.9 601.88L445.77 601.61M465.71 602.7L466.84 603.52L468.66 602.97L469.56 602.43L470.92 600.52L469.34 601.61L467.3 601.47L465.71 602.15L465.71 602.7M397.85 590.03L398.64 588.94L399.77 589.07L400.34 589.62L399.77 590.57L398.75 590.44L397.85 590.03M504.23 730.5L505.59 734.04L506.27 737.31L506.95 740.04L505.37 741.4L504.69 744.13L504.46 747.26L503.33 750.94L502.42 753.66L501.06 759.11L500.38 761.84L499.02 765.93L497.21 766.47L494.94 767.29L492.9 766.2L491.43 761.43L490.86 757.07L492.9 753.12L493.13 750.67L492.22 746.99L492.68 744.13L493.13 741.95L495.62 741.13L497.44 740.58L499.48 738.68L500.15 737.86L501.29 734.59L503.33 731.86L504.23 730.5M500.38 581.72L502.65 583.9L503.78 585.26L504.69 587.44L506.5 587.71L504.69 588.26L504.23 590.16L503.55 591.53L503.21 593.16L503.78 595.34L506.27 596.98L509.22 597.52L512.62 597.38L514.66 597.25L514.66 595.89L514.43 591.8L512.84 590.71L513.75 589.62L512.62 588.8L512.16 586.08L511.49 583.9L512.16 581.72M464.58 698.62L465.71 696.98L467.75 696.71L469.79 697.8L471.38 698.89L469.56 700.25L469.34 702.71L468.43 704.34L466.16 704.89L464.58 703.25L464.35 700.53L464.58 698.62M458.69 706.79L459.14 710.06L459.59 714.15L461.41 716.88L462.31 720.42L463.22 721.24L461.86 716.88L460.5 714.15L460.05 710.06L458.91 706.79M470.24 723.69L469.56 726.41L470.47 730.5L470.47 734.59L471.6 737.04L472.51 736.5L471.15 730.5L470.92 726.41L470.24 723.69M457.1 720.96L458.46 723.14L458.23 720.69L457.1 720.96M452.57 744.13L455.97 741.95L458.01 743.04L455.06 745.76L452.57 744.13M392.07 680.63L392.75 678.73L391.84 675.46L389.8 674.64L391.16 678.18L392.07 680.63M422.43 662.38L423.34 660.47L425.15 661.01L425.6 662.65L424.24 663.47L422.43 662.38M474.1 685.54L474.55 688.26L475.23 690.99L473.87 689.08L474.1 685.54M461.63 694.8L463.67 691.81L462.77 694.53L461.63 694.8M458.91 702.16L458.69 703.8L458.23 704.34L458.91 702.16M476.36 665.1L477.72 664.56L477.5 666.19L476.36 665.1M459.59 698.07L460.27 699.44L459.37 699.44L459.59 698.07M466.39 634.31L467.07 637.85L463.45 638.4L466.39 634.31M388.55 602.15L388.67 605.15L388.67 609.24L384.36 611.69L384.14 613.6L380.06 616.32L375.52 617.69L372.87 619.59L372.87 622.4M372.87 622.4L362.61 622.4M372.87 622.4L372.87 626.95L365.33 626.95L365.33 633.9L362.84 635.81L363.06 639.68L354 639.68M372.87 623.41L381.58 629.68M381.58 629.68L377.79 629.81L380.06 653.38L380.51 655.56L372.13 655.56L366.91 655.84L366.23 655.29L364.87 657.74M364.87 657.74L363.06 655.56L360.8 652.57L358.53 652.57L355.13 653.93M381.58 629.68L395.24 640.58L399.77 643.85L402.15 645.62M402.15 645.62L405.66 644.8L409.51 640.85L419.69 633.76M419.69 633.76L415.63 630.22L414.05 625.86L414.95 624.23L414.73 617.69L414.05 615.51M414.05 615.51L411.33 609.24L411.33 603.52L411.55 597.25M414.05 615.51L415.86 611.96L418.58 607.41M419.69 633.76L426.51 635.13L446.9 644.66L446.9 643.3L449.17 643.3L449.17 637.85M449.17 637.85L449.17 617.41L449.51 611.69M449.17 637.85L476.14 637.85M470.02 612.51L471.6 617.41M402.15 645.62L402.04 653.11L400.45 656.11L394.79 656.93L392.97 657.2M380.06 669.46L380.28 665.65L382.55 663.19L383.46 661.01L387.99 658.29L392.97 657.2M392.97 657.2L393.65 660.2L394.79 662.38L397.51 663.47L397.96 665.37M397.96 665.37L400.68 665.92L401.81 661.01L406.12 660.74L408.38 662.38L412.91 662.92L416.31 661.56L420.84 662.1L423.34 660.47M423.34 660.47L427.64 651.75L428.1 643.57L426.51 635.13M446.9 644.66L446.9 655.02L443.5 659.65L442.37 662.92L444.18 666.74L444.41 668.1M427.64 677.36L432.17 676L434.44 673.55L437.84 673L441.69 669.19L444.41 668.1M424.47 662.1L425.38 663.74L426.51 667.83L426.51 670.55L424.24 671.91L427.64 677.36M420.84 662.1L423.11 670.55L420.17 674.64L418.81 679.27L416.54 678.73L414.73 681.45L412.01 685.27M398.64 680.36L398.64 676.55L398.86 673.28L400.68 669.46L400.68 665.92M396.15 680.91L396.15 673.28L395.69 671.91L394.56 667.83M395.24 681.18L393.88 679L393.65 676L393.43 670.55L392.52 667.83M385.5 683.9L386.18 678.73L386.86 676L386.18 671.64L386.18 667.83L392.52 667.83L394.56 667.83L397.96 665.37M375.52 685.81L373.49 680.09L373.94 677.36L374.39 674.64L374.85 670.55L378.47 669.73L380.06 669.46L383.46 670.82L386.18 671.64M366.46 679L367.59 676L369.18 674.64L368.73 672.46L367.14 670.55L364.19 670.82L362.5 673.55M373.94 677.36L370.99 677.36L369.18 674.64M367.14 670.55L368.27 667.83L366.91 664.01L361.48 663.47L358.53 663.19L354.68 664.01M366.91 664.01L364.87 657.74M358.53 668.1L360.8 666.19L361.48 663.47M354.56 660.74L357.4 660.74L359.89 661.56L361.25 661.01L358.3 660.2L354.9 661.15M374.39 674.64L373.49 670.55L373.71 666.46L372.13 664.56L366.91 664.01M380.06 669.46L380.51 667.83L381.64 671.1M445.77 669.19L449.17 669.46L453.7 671.64L459.59 671.37L462.31 671.37L465.71 666.46L467.07 664.56L467.98 669.46L469.79 671.91M475.23 658.83L472.51 662.38L469.79 669.19L469.79 671.91L469.79 674.91L467.3 676.55L468.43 681.45L471.83 684.18L473.87 685.27M475.23 658.83L477.04 657.47L478.85 650.11L479.99 648.75M475.23 658.83L479.76 658.29L483.16 658.29L485.43 660.2L488.37 663.74L489.5 665.65M489.5 665.65L489.5 667.83L490.41 667.83M489.5 667.83L491.32 672.46L492.22 673.28L501.29 676L494.49 684.45L492.22 684.45L487.69 686.9L487.47 687.17M485.43 702.43L485.43 690.17L487.47 687.17M473.87 685.27L476.36 685.81L478.85 687.99L482.25 688.54L484.97 686.36L487.47 687.17M469.34 686.36L470.47 685.27L473.87 685.27M469.34 686.36L471.6 693.17L469.56 696.17L469.56 700.53M469.56 700.53L477.72 705.98L477.95 707.61L481.35 710.61M459.59 701.62L462.09 700.53L464.13 700.53L469.56 700.53M462.31 688.26L464.58 687.45L469.34 686.36M454.61 684.18L456.87 686.08L459.59 685.27L462.31 688.26M444.41 668.1L445.77 669.19L446.9 674.37L449.85 677.36L454.61 684.18M427.64 677.36L425.6 680.91L425.38 685.54L427.64 690.99L429.23 691.81L428.78 692.62M428.78 692.62L424.24 691.81L422.66 691.81L418.13 691.81L414.73 691.81M418.13 691.81L418.13 695.08L414.05 695.08M418.13 695.08L424.24 693.99L425.38 698.35L424.02 701.89L424.92 704.34L422.2 704.07L419.71 704.89L417.67 708.43M428.78 692.62L432.4 687.99L434.67 688.26L436.71 683.63L441.24 686.08L443.5 686.36L448.04 684.18L450.3 683.36L454.61 684.18M428.78 692.62L432.4 699.16L429.23 703.8L427.19 709.52L424.24 710.06L420.17 713.61M419.71 711.43L420.84 711.43L421.98 710.61M420.39 714.15L421.98 713.88L429.68 714.15L432.17 719.6L436.48 719.33L441.92 717.69L442.37 727.78L446.9 727.78L450.08 728.59L451.44 727.23L454.16 729.41L457.1 732.95L460.05 734.32L459.37 730.77L457.1 727.78L457.33 720.96L462.31 720.42M442.37 727.78L446.9 729.14L446.9 733.23L442.37 733.23L442.37 742.22L445.32 745.76M419.15 744.81L421.98 744.13L424.7 745.22L434.44 745.22L439.88 746.58L445.32 745.76L449.62 746.31M440.11 747.67L440.11 757.75L437.84 757.75L437.84 765.38L437.84 775.19L435.57 776.28L432.17 776.01L429.8 775.74M437.84 765.38L439.65 770.83L443.73 768.65L445.77 767.29L449.17 767.83L451.44 765.11L453.7 763.2L457.1 759.11L459.14 758.3M449.62 746.31L451.44 749.58L454.38 753.66L455.97 756.39L459.14 758.3M459.14 758.3L463.45 758.84M463.45 758.84L465.94 755.84L467.07 751.48L466.62 748.21L467.3 744.13L467.07 743.31L461.41 740.31M449.62 746.31L453.7 746.31L455.97 742.76L459.37 740.86L461.41 740.31M461.41 740.31L460.95 738.4L467.75 735.95L466.62 733.23L467.98 727.78L467.75 723.96L467.07 723.42L463.22 721.24M467.75 735.95L470.7 737.31L472.51 741.95L472.06 744.13L472.51 744.4L473.87 742.49L473.64 738.68L472.06 734.59L471.6 729.14M467.07 723.42L469.56 723.69L470.24 723.69M471.6 729.14L475.23 729.68L478.63 728.59L480.89 728.32L484.07 726.41M463.45 758.84L465.03 764.56L465.03 768.38L467.07 770.97M464.81 768.38L463.45 767.83L462.31 769.47L462.99 771.92L464.81 772.19L464.81 768.38M453.7 778.46L455.74 776.55L457.55 775.74L459.14 777.64L458.46 779.55L456.19 781.19L454.61 780.37L453.7 778.46M459.59 701.62L458.23 705.43L459.14 705.7L461.41 704.07L462.31 700.53M458.23 705.43L458.69 706.79M461.41 704.07L461.86 707.07L460.5 709.52L459.14 710.06M462.31 688.26L463.22 691.53L461.63 694.53L460.27 697.8L459.59 701.62M469.34 686.36L468.43 687.45L465.03 687.99L462.31 688.26M471.83 617.41L475.23 617.96L476.36 611.96L480.89 610.06L481.57 609.78M472.96 607.6L473.64 608.69L473.19 611.15L471.83 617.41M474.1 607.88L473.64 608.69M472.96 607.6L473.87 606.51L475.46 604.61L474.1 603.52L473.64 603.24M473.87 599.97L475.68 597.52L478.63 597.52L483.16 597.25L486.11 596.7L488.6 596.7M480.44 606.79L485.43 604.06L485.88 598.61L488.6 596.7M481.57 609.78L480.89 610.6L487.69 613.05L493.81 618.23L497.89 618.5L500.15 618.78L500.61 620.14L502.19 620.14M497.89 618.5L501.06 617.69L501.29 616.05L500.61 613.33L501.06 610.6L496.98 607.88L495.4 605.15L496.53 602.43L495.4 599.97L494.04 596.43L492.9 596.16L493.58 594.25L492.9 590.44L494.04 589.62M488.6 596.7L492.9 596.16M475.46 604.61L480.44 606.79L481.57 609.78M494.04 589.62L491.32 588.53L491.32 585.8L494.49 585.26L497.89 585.8L498.12 583.9L496.76 583.35L494.49 581.99L491.09 581.72M494.04 589.62L496.3 590.44L497.89 591.53L499.02 590.98L501.29 589.89L501.97 591.8L503.21 593.16M491.32 585.8L488.82 584.99L486.56 584.71M514.66 595.89L518.06 594.25L522.36 594.25L526.21 595.34L529.16 596.98L531.2 598.07L531.2 601.61L529.61 604.61L530.52 606.51L529.84 607.88L530.52 611.96L532.33 612.24L532.56 613.87L530.52 616.32L532.79 620.14L535.28 624.23M532.11 629.4L532.56 626.41L535.28 625.32M476.14 637.85L474.55 637.03L473.19 635.13M479.99 648.75L477.5 646.57M488.94 651.75L491.09 650.11L496.76 650.66L499.02 651.75L502.87 648.21L510.35 646.03L512.84 652.57M510.35 646.03L517.15 643.3L518.51 637.85L517.6 635.94L511.71 635.4L509.45 631.58M518.51 637.85L519.42 632.4L520.32 629.95M500.61 620.14L502.19 620.14M452.8 585.26L452.12 586.35M452.8 585.26L453.48 584.17L455.74 583.35M452.8 585.26L450.98 585.26L447.13 584.44L444.18 585.26L440.11 586.35L439.43 588.53L437.84 589.62M438.97 585.26L439.2 583.62L437.84 581.99M436.25 583.62L436.93 581.72M444.18 585.26L444.64 583.35L443.28 581.72M357.62 621.5L356.72 622.05L357.17 620.96L357.62 621.5M355.58 620.41L354.22 621.23L354.9 620.41L355.58 620.41M361.93 618.78L361.25 619.05L362.16 618.23L361.93 618.78M360.8 619.59L360.12 621.23L361.02 620.41L360.8 619.59M353.54 608.42L354.68 608.69L354 608.83L353.54 608.42M338.82 656.65L339.27 657.2L338.82 656.38M337.23 652.57L338.14 652.57M340.63 652.29L340.63 652.57M340.86 653.93L340.63 654.2M359.89 719.33L360.12 719.6M379.6 741.13L379.49 741.4M364.65 798.9L364.87 798.9M370.09 807.62L369.97 807.75M411.78 687.72L412.69 688.26L412.23 689.08L411.78 687.72M407.25 696.98L407.7 697.26M409.29 693.44L409.4 693.17M490.64 728.87L491.09 730.23M493.13 730.77L493.36 731.32M494.72 732.68L494.94 732.95M491.54 731.32L491.77 731.59M517.83 754.75L518.74 755.03L518.51 755.84L517.83 754.75M522.82 752.3L523.49 753.12L522.82 753.66L522.82 752.3M518.06 710.34L518.28 710.61M481.35 713.33L481.8 714.97M482.48 711.43L482.71 712.52M482.25 719.06L482.93 719.6M513.3 663.19L516.02 663.74L514.43 664.28L513.3 663.19M506.95 626.41L507.18 627.5M424.92 599.56L425.38 599.97M395.24 591.8L396.15 591.25M401.13 589.07L402.26 588.8M455.51 599.43L456.42 598.61L455.74 599.16M453.25 595.34L452.8 595.07M451.44 593.16L451.66 593.71M452.12 591.53L452.8 590.71M445.54 591.8L448.04 593.71L447.13 592.62M439.2 593.71L439.65 592.89M437.16 589.35L437.84 590.16M450.08 596.7L450.3 596.98M449.62 598.61L450.08 598.61M451.44 590.98L452.12 590.44L452.8 590.98L452.12 591.53L451.44 590.98M451.21 593.16L451.55 592.62L451.89 593.16L451.55 593.71L451.21 593.16M452.8 595L453.36 594.8L453.93 595L453.36 595.2L452.8 595M451.44 595.27L451.89 595.07L452.34 595.27L451.89 595.48L451.44 595.27M449.96 596.77L450.25 596.43L450.53 596.77L450.25 597.11L449.96 596.77M449.4 596.77L449.62 596.57L449.85 596.77L449.62 596.98L449.4 596.77M448.49 594.59L448.83 594.25L449.17 594.59L448.83 594.93L448.49 594.59M449.17 595.41L449.45 595.2L449.74 595.41L449.45 595.61L449.17 595.41M449.85 595.75L450.02 595.61L450.19 595.75L450.02 595.89L449.85 595.75M448.83 595.78L448.98 595.61L449.12 595.78L448.98 595.94L448.83 595.78M447.54 595.27L447.67 595.07L447.81 595.27L447.67 595.48L447.54 595.27M447.7 597.72L447.92 597.52L448.15 597.72L447.92 597.93L447.7 597.72M449.96 598.57L450.13 598.39L450.3 598.57L450.13 598.75L449.96 598.57M453.59 597.45L454.04 597.25L454.5 597.45L454.04 597.66L453.59 597.45M455.29 599.22L455.91 598.47L456.53 599.22L455.91 599.97L455.29 599.22M453.93 600.79L454.1 600.25L454.27 600.79L454.1 601.34L453.93 600.79M449.28 589.07L449.74 588.8L450.19 589.07L449.74 589.35L449.28 589.07M448.04 586.96L448.38 586.62L448.72 586.96L448.38 587.3L448.04 586.96M450.19 587.55L450.42 587.44L450.64 587.55L450.42 587.66L450.19 587.55M447.81 591.87L448.04 591.66L448.26 591.87L448.04 592.07L447.81 591.87M437.05 589.89L437.56 589.35L438.07 589.89L437.56 590.44L437.05 589.89M438.63 593.5L439.14 592.89L439.65 593.5L439.14 594.11L438.63 593.5M439.2 594.8L439.6 594.39L439.99 594.8L439.6 595.2L439.2 594.8M444.41 598.95L444.64 598.61L444.86 598.95L444.64 599.29L444.41 598.95M445.54 596.23L445.71 596.02L445.88 596.23L445.71 596.43L445.54 596.23M444.64 595.14L444.86 594.93L445.09 595.14L444.86 595.34L444.64 595.14M448.94 597.86L449.17 597.66L449.4 597.86L449.17 598.07L448.94 597.86M451.89 596.16L452.06 596.02L452.23 596.16L452.06 596.29L451.89 596.16M453.36 596.57L453.53 596.43L453.7 596.57L453.53 596.7L453.36 596.57M452.57 592.75L452.68 592.62L452.8 592.75L452.68 592.89L452.57 592.75M450.42 599.16L450.7 598.88L450.98 599.16L450.7 599.43L450.42 599.16M452.12 601.4L452.29 601.2L452.46 601.4L452.29 601.61L452.12 601.4M446.79 591.46L447.02 591.25L447.24 591.46L447.02 591.66L446.79 591.46M446 591.12L446.17 590.98L446.34 591.12L446.17 591.25L446 591.12M443.5 588.87L443.73 588.66L443.96 588.87L443.73 589.07L443.5 588.87M444.18 591.66L445.32 592.21L446.22 592.89L447.13 593.71L448.15 594.25L447.81 593.57L447.13 592.62L445.77 591.66L444.64 591.39L444.18 591.66M441.92 593.3L443.28 593.84L444.64 594.39L443.5 593.57L442.15 593.16M440.79 594.52L440.33 594.93L441.47 595.89L441.69 597.11L442.26 597.66L442.83 597.25L443.28 598.47L443.73 597.52L444.07 598.34L444.75 598.47L444.52 596.7L444.07 595.48L445.09 595.34L445.54 595.89L444.86 594.39" stroke="#000" stroke-width="0.9" fill="none" stroke-linejoin="round"/>
<g fill="#111"><circle cx="359.89" cy="719.46" r="0.75"/><circle cx="379.6" cy="741.26" r="0.75"/><circle cx="364.65" cy="798.9" r="0.75"/><circle cx="370.09" cy="807.62" r="0.75"/><circle cx="518.28" cy="710.34" r="0.75"/><circle cx="519.42" cy="725.05" r="0.75"/><circle cx="497.21" cy="723.42" r="0.75"/><circle cx="523.04" cy="752.85" r="0.75"/><circle cx="518.28" cy="755.3" r="0.75"/><circle cx="536.18" cy="751.48" r="0.75"/><circle cx="492.22" cy="731.05" r="0.75"/><circle cx="490.64" cy="729.41" r="0.75"/><circle cx="494.72" cy="732.68" r="0.75"/><circle cx="361.02" cy="619.05" r="0.75"/><circle cx="340.63" cy="653.93" r="0.75"/><circle cx="337.46" cy="657.2" r="0.75"/><circle cx="335.87" cy="651.48" r="0.75"/><circle cx="409.29" cy="693.44" r="0.75"/><circle cx="407.48" cy="697.26" r="0.75"/><circle cx="405.21" cy="701.62" r="0.75"/></g>
</g>
<rect x="341.53" y="581.99" width="192.61" height="231.62" fill="none" stroke="#222" stroke-width="1.1"/>
<path d="M347.2 813.61V815.61M369.86 813.61V815.61M392.52 813.61V815.61M415.18 813.61V815.61M437.84 813.61V815.61M460.5 813.61V815.61M483.16 813.61V815.61M505.82 813.61V815.61M528.48 813.61V815.61M341.53 806.8H339.53M341.53 779.55H339.53M341.53 752.3H339.53M341.53 725.05H339.53M341.53 697.8H339.53M341.53 670.55H339.53M341.53 643.3H339.53M341.53 616.05H339.53M341.53 588.8H339.53" stroke="#222" stroke-width="1" fill="none"/>
<path d="M430.32 580.14L434.02 583.84M430.32 583.84L434.02 580.14M452.98 580.14L456.69 583.84M452.98 583.84L456.69 580.14M464.31 580.14L468.01 583.84M464.31 583.84L468.01 580.14M475.64 580.14L479.35 583.84M475.64 583.84L479.35 580.14M486.97 580.14L490.68 583.84M486.97 583.84L490.68 580.14M498.3 580.14L502 583.84M498.3 583.84L502 580.14M509.63 580.14L513.34 583.84M509.63 583.84L513.34 580.14M520.97 580.14L524.67 583.84M520.97 583.84L524.67 580.14M532.29 580.14L536 583.84M532.29 583.84L536 580.14M396.33 593.76L400.04 597.46M396.33 597.46L400.04 593.76M407.66 593.76L411.37 597.46M407.66 597.46L411.37 593.76M418.99 593.76L422.69 597.46M418.99 597.46L422.69 593.76M430.32 593.76L434.02 597.46M430.32 597.46L434.02 593.76M452.98 593.76L456.69 597.46M452.98 597.46L456.69 593.76M464.31 593.76L468.01 597.46M464.31 597.46L468.01 593.76M475.64 593.76L479.35 597.46M475.64 597.46L479.35 593.76M486.97 593.76L490.68 597.46M486.97 597.46L490.68 593.76M498.3 593.76L502 597.46M498.3 597.46L502 593.76M509.63 593.76L513.34 597.46M509.63 597.46L513.34 593.76M520.97 593.76L524.67 597.46M520.97 597.46L524.67 593.76M532.29 593.76L536 597.46M532.29 597.46L536 593.76M373.67 607.39L377.38 611.09M373.67 611.09L377.38 607.39M385 607.39L388.71 611.09M385 611.09L388.71 607.39M396.33 607.39L400.04 611.09M396.33 611.09L400.04 607.39M407.66 607.39L411.37 611.09M407.66 611.09L411.37 607.39M418.99 607.39L422.69 611.09M418.99 611.09L422.69 607.39M430.32 607.39L434.02 611.09M430.32 611.09L434.02 607.39M441.65 607.39L445.36 611.09M441.65 611.09L445.36 607.39M452.98 607.39L456.69 611.09M452.98 611.09L456.69 607.39M464.31 607.39L468.01 611.09M464.31 611.09L468.01 607.39M475.64 607.39L479.35 611.09M475.64 611.09L479.35 607.39M486.97 607.39L490.68 611.09M486.97 611.09L490.68 607.39M498.3 607.39L502 611.09M498.3 611.09L502 607.39M509.63 607.39L513.34 611.09M509.63 611.09L513.34 607.39M520.97 607.39L524.67 611.09M520.97 611.09L524.67 607.39M532.29 607.39L536 611.09M532.29 611.09L536 607.39M362.34 621.01L366.05 624.71M362.34 624.71L366.05 621.01M373.67 621.01L377.38 624.71M373.67 624.71L377.38 621.01M385 621.01L388.71 624.71M385 624.71L388.71 621.01M396.33 621.01L400.04 624.71M396.33 624.71L400.04 621.01M407.66 621.01L411.37 624.71M407.66 624.71L411.37 621.01M418.99 621.01L422.69 624.71M418.99 624.71L422.69 621.01M430.32 621.01L434.02 624.71M430.32 624.71L434.02 621.01M441.65 621.01L445.36 624.71M441.65 624.71L445.36 621.01M452.98 621.01L456.69 624.71M452.98 624.71L456.69 621.01M464.31 621.01L468.01 624.71M464.31 624.71L468.01 621.01M475.64 621.01L479.35 624.71M475.64 624.71L479.35 621.01M486.97 621.01L490.68 624.71M486.97 624.71L490.68 621.01M498.3 621.01L502 624.71M498.3 624.71L502 621.01M509.63 621.01L513.34 624.71M509.63 624.71L513.34 621.01M520.97 621.01L524.67 624.71M520.97 624.71L524.67 621.01M532.29 621.01L536 624.71M532.29 624.71L536 621.01M351.01 634.64L354.72 638.34M351.01 638.34L354.72 634.64M362.34 634.64L366.05 638.34M362.34 638.34L366.05 634.64M373.67 634.64L377.38 638.34M373.67 638.34L377.38 634.64M385 634.64L388.71 638.34M385 638.34L388.71 634.64M396.33 634.64L400.04 638.34M396.33 638.34L400.04 634.64M407.66 634.64L411.37 638.34M407.66 638.34L411.37 634.64M418.99 634.64L422.69 638.34M418.99 638.34L422.69 634.64M430.32 634.64L434.02 638.34M430.32 638.34L434.02 634.64M441.65 634.64L445.36 638.34M441.65 638.34L445.36 634.64M452.98 634.64L456.69 638.34M452.98 638.34L456.69 634.64M464.31 634.64L468.01 638.34M464.31 638.34L468.01 634.64M475.64 634.64L479.35 638.34M475.64 638.34L479.35 634.64M486.97 634.64L490.68 638.34M486.97 638.34L490.68 634.64M498.3 634.64L502 638.34M498.3 638.34L502 634.64M509.63 634.64L513.34 638.34M509.63 638.34L513.34 634.64M520.97 634.64L524.67 638.34M520.97 638.34L524.67 634.64M532.29 634.64L536 638.34M532.29 638.34L536 634.64M362.34 648.26L366.05 651.96M362.34 651.96L366.05 648.26M373.67 648.26L377.38 651.96M373.67 651.96L377.38 648.26M385 648.26L388.71 651.96M385 651.96L388.71 648.26M396.33 648.26L400.04 651.96M396.33 651.96L400.04 648.26M407.66 648.26L411.37 651.96M407.66 651.96L411.37 648.26M418.99 648.26L422.69 651.96M418.99 651.96L422.69 648.26M430.32 648.26L434.02 651.96M430.32 651.96L434.02 648.26M441.65 648.26L445.36 651.96M441.65 651.96L445.36 648.26M452.98 648.26L456.69 651.96M452.98 651.96L456.69 648.26M464.31 648.26L468.01 651.96M464.31 651.96L468.01 648.26M475.64 648.26L479.35 651.96M475.64 651.96L479.35 648.26M486.97 648.26L490.68 651.96M486.97 651.96L490.68 648.26M498.3 648.26L502 651.96M498.3 651.96L502 648.26M509.63 648.26L513.34 651.96M509.63 651.96L513.34 648.26M520.97 648.26L524.67 651.96M520.97 651.96L524.67 648.26M362.34 661.89L366.05 665.59M362.34 665.59L366.05 661.89M373.67 661.89L377.38 665.59M373.67 665.59L377.38 661.89M385 661.89L388.71 665.59M385 665.59L388.71 661.89M396.33 661.89L400.04 665.59M396.33 665.59L400.04 661.89M407.66 661.89L411.37 665.59M407.66 665.59L411.37 661.89M418.99 661.89L422.69 665.59M418.99 665.59L422.69 661.89M498.3 661.89L502 665.59M498.3 665.59L502 661.89M509.63 661.89L513.34 665.59M509.63 665.59L513.34 661.89M362.34 675.51L366.05 679.21M362.34 679.21L366.05 675.51M373.67 675.51L377.38 679.21M373.67 679.21L377.38 675.51M385 675.51L388.71 679.21M385 679.21L388.71 675.51M396.33 675.51L400.04 679.21M396.33 679.21L400.04 675.51M407.66 675.51L411.37 679.21M407.66 679.21L411.37 675.51M418.99 675.51L422.69 679.21M418.99 679.21L422.69 675.51M509.63 675.51L513.34 679.21M509.63 679.21L513.34 675.51M373.67 689.14L377.38 692.84M373.67 692.84L377.38 689.14M385 689.14L388.71 692.84M385 692.84L388.71 689.14M407.66 689.14L411.37 692.84M407.66 692.84L411.37 689.14M418.99 689.14L422.69 692.84M418.99 692.84L422.69 689.14M430.32 689.14L434.02 692.84M430.32 692.84L434.02 689.14M441.65 689.14L445.36 692.84M441.65 692.84L445.36 689.14M452.98 689.14L456.69 692.84M452.98 692.84L456.69 689.14M486.97 689.14L490.68 692.84M486.97 692.84L490.68 689.14M498.3 689.14L502 692.84M498.3 692.84L502 689.14M407.66 702.76L411.37 706.46M407.66 706.46L411.37 702.76M418.99 702.76L422.69 706.46M418.99 706.46L422.69 702.76M430.32 702.76L434.02 706.46M430.32 706.46L434.02 702.76M441.65 702.76L445.36 706.46M441.65 706.46L445.36 702.76M452.98 702.76L456.69 706.46M452.98 706.46L456.69 702.76M464.31 702.76L468.01 706.46M464.31 706.46L468.01 702.76M475.64 702.76L479.35 706.46M475.64 706.46L479.35 702.76M486.97 702.76L490.68 706.46M486.97 706.46L490.68 702.76M418.99 716.39L422.69 720.09M418.99 720.09L422.69 716.39M430.32 716.39L434.02 720.09M430.32 720.09L434.02 716.39M441.65 716.39L445.36 720.09M441.65 720.09L445.36 716.39M452.98 716.39L456.69 720.09M452.98 720.09L456.69 716.39M464.31 716.39L468.01 720.09M464.31 720.09L468.01 716.39M475.64 716.39L479.35 720.09M475.64 720.09L479.35 716.39M418.99 730.01L422.69 733.71M418.99 733.71L422.69 730.01M430.32 730.01L434.02 733.71M430.32 733.71L434.02 730.01M441.65 730.01L445.36 733.71M441.65 733.71L445.36 730.01M452.98 730.01L456.69 733.71M452.98 733.71L456.69 730.01M464.31 730.01L468.01 733.71M464.31 733.71L468.01 730.01M475.64 730.01L479.35 733.71M475.64 733.71L479.35 730.01M486.97 730.01L490.68 733.71M486.97 733.71L490.68 730.01M498.3 730.01L502 733.71M498.3 733.71L502 730.01M418.99 743.64L422.69 747.34M418.99 747.34L422.69 743.64M430.32 743.64L434.02 747.34M430.32 747.34L434.02 743.64M441.65 743.64L445.36 747.34M441.65 747.34L445.36 743.64M452.98 743.64L456.69 747.34M452.98 747.34L456.69 743.64M464.31 743.64L468.01 747.34M464.31 747.34L468.01 743.64M475.64 743.64L479.35 747.34M475.64 747.34L479.35 743.64M486.97 743.64L490.68 747.34M486.97 747.34L490.68 743.64M498.3 743.64L502 747.34M498.3 747.34L502 743.64M509.63 743.64L513.34 747.34M509.63 747.34L513.34 743.64M430.32 757.26L434.02 760.96M430.32 760.96L434.02 757.26M441.65 757.26L445.36 760.96M441.65 760.96L445.36 757.26M452.98 757.26L456.69 760.96M452.98 760.96L456.69 757.26M464.31 757.26L468.01 760.96M464.31 760.96L468.01 757.26M475.64 757.26L479.35 760.96M475.64 760.96L479.35 757.26M486.97 757.26L490.68 760.96M486.97 760.96L490.68 757.26M498.3 757.26L502 760.96M498.3 760.96L502 757.26M486.97 770.89L490.68 774.59M486.97 774.59L490.68 770.89M498.3 770.89L502 774.59M498.3 774.59L502 770.89" stroke="#000" stroke-width="1.7" fill="none"/>
<text x="0" y="827.51" text-anchor="middle" font-size="10.2" stroke="#000" stroke-width="0.3" transform="translate(347.2 0) scale(0.82 1)" font-family="Liberation Sans, sans-serif">20W</text>
<text x="0" y="827.51" text-anchor="middle" font-size="10.2" stroke="#000" stroke-width="0.3" transform="translate(369.86 0) scale(0.82 1)" font-family="Liberation Sans, sans-serif">10W</text>
<text x="0" y="827.51" text-anchor="middle" font-size="10.2" stroke="#000" stroke-width="0.3" transform="translate(392.52 0) scale(0.82 1)" font-family="Liberation Sans, sans-serif">0</text>
<text x="0" y="827.51" text-anchor="middle" font-size="10.2" stroke="#000" stroke-width="0.3" transform="translate(415.18 0) scale(0.82 1)" font-family="Liberation Sans, sans-serif">10E</text>
<text x="0" y="827.51" text-anchor="middle" font-size="10.2" stroke="#000" stroke-width="0.3" transform="translate(437.84 0) scale(0.82 1)" font-family="Liberation Sans, sans-serif">20E</text>
<text x="0" y="827.51" text-anchor="middle" font-size="10.2" stroke="#000" stroke-width="0.3" transform="translate(460.5 0) scale(0.82 1)" font-family="Liberation Sans, sans-serif">30E</text>
<text x="0" y="827.51" text-anchor="middle" font-size="10.2" stroke="#000" stroke-width="0.3" transform="translate(483.16 0) scale(0.82 1)" font-family="Liberation Sans, sans-serif">40E</text>
<text x="0" y="827.51" text-anchor="middle" font-size="10.2" stroke="#000" stroke-width="0.3" transform="translate(505.82 0) scale(0.82 1)" font-family="Liberation Sans, sans-serif">50E</text>
<text x="0" y="827.51" text-anchor="middle" font-size="10.2" stroke="#000" stroke-width="0.3" transform="translate(528.48 0) scale(0.82 1)" font-family="Liberation Sans, sans-serif">60E</text>
<text x="0" y="810.4" text-anchor="end" font-size="10.2" stroke="#000" stroke-width="0.3" transform="translate(336.1 0) scale(0.84 1)" font-family="Liberation Sans, sans-serif">40S</text>
<text x="0" y="783.15" text-anchor="end" font-size="10.2" stroke="#000" stroke-width="0.3" transform="translate(336.1 0) scale(0.84 1)" font-family="Liberation Sans, sans-serif">30S</text>
<text x="0" y="755.9" text-anchor="end" font-size="10.2" stroke="#000" stroke-width="0.3" transform="translate(336.1 0) scale(0.84 1)" font-family="Liberation Sans, sans-serif">20S</text>
<text x="0" y="728.65" text-anchor="end" font-size="10.2" stroke="#000" stroke-width="0.3" transform="translate(336.1 0) scale(0.84 1)" font-family="Liberation Sans, sans-serif">10S</text>
<text x="0" y="701.4" text-anchor="end" font-size="10.2" stroke="#000" stroke-width="0.3" transform="translate(336.1 0) scale(0.84 1)" font-family="Liberation Sans, sans-serif">EQ</text>
<text x="0" y="674.15" text-anchor="end" font-size="10.2" stroke="#000" stroke-width="0.3" transform="translate(336.1 0) scale(0.84 1)" font-family="Liberation Sans, sans-serif">10N</text>
<text x="0" y="646.9" text-anchor="end" font-size="10.2" stroke="#000" stroke-width="0.3" transform="translate(336.1 0) scale(0.84 1)" font-family="Liberation Sans, sans-serif">20N</text>
<text x="0" y="619.65" text-anchor="end" font-size="10.2" stroke="#000" stroke-width="0.3" transform="translate(336.1 0) scale(0.84 1)" font-family="Liberation Sans, sans-serif">30N</text>
<text x="0" y="592.4" text-anchor="end" font-size="10.2" stroke="#000" stroke-width="0.3" transform="translate(336.1 0) scale(0.84 1)" font-family="Liberation Sans, sans-serif">40N</text>
<text x="437.84" y="575.6" text-anchor="middle" font-size="13.6" fill="#222" font-family="Liberation Sans, sans-serif">miroc</text>
<path d="M566 599.1L570.2 580.8L574.4 599.1Z" fill="#ae0000" stroke="#222" stroke-width="0.8"/>
<rect x="566" y="599.1" width="8.4" height="17.94" fill="#ca0000" stroke="#222" stroke-width="0.8"/>
<rect x="566" y="617.04" width="8.4" height="17.94" fill="#e41400" stroke="#222" stroke-width="0.8"/>
<rect x="566" y="634.98" width="8.4" height="17.94" fill="#ff3200" stroke="#222" stroke-width="0.8"/>
<rect x="566" y="652.92" width="8.4" height="17.94" fill="#ff6400" stroke="#222" stroke-width="0.8"/>
<rect x="566" y="670.86" width="8.4" height="17.94" fill="#ffa400" stroke="#222" stroke-width="0.8"/>
<rect x="566" y="688.8" width="8.4" height="17.94" fill="#ffc03c" stroke="#222" stroke-width="0.8"/>
<rect x="566" y="706.74" width="8.4" height="17.94" fill="#ffe070" stroke="#222" stroke-width="0.8"/>
<rect x="566" y="724.68" width="8.4" height="17.94" fill="#fff27a" stroke="#222" stroke-width="0.8"/>
<rect x="566" y="742.62" width="8.4" height="17.94" fill="#fff58a" stroke="#222" stroke-width="0.8"/>
<rect x="566" y="760.56" width="8.4" height="17.94" fill="#fff79c" stroke="#222" stroke-width="0.8"/>
<rect x="566" y="778.5" width="8.4" height="17.94" fill="#fffaae" stroke="#222" stroke-width="0.8"/>
<path d="M566 796.44L570.2 814.3L574.4 796.44Z" fill="#e6ffe1" stroke="#222" stroke-width="0.8"/>
<text x="580.2" y="603.4" font-size="12.2" stroke="#000" stroke-width="0.2" font-family="Liberation Sans, sans-serif">4</text>
<text x="577.9" y="621.34" font-size="12.2" stroke="#000" stroke-width="0.2" font-family="Liberation Sans, sans-serif">3.6</text>
<text x="577.9" y="639.28" font-size="12.2" stroke="#000" stroke-width="0.2" font-family="Liberation Sans, sans-serif">3.2</text>
<text x="577.9" y="657.22" font-size="12.2" stroke="#000" stroke-width="0.2" font-family="Liberation Sans, sans-serif">2.8</text>
<text x="577.9" y="675.16" font-size="12.2" stroke="#000" stroke-width="0.2" font-family="Liberation Sans, sans-serif">2.4</text>
<text x="579.9" y="693.1" font-size="12.2" stroke="#000" stroke-width="0.2" font-family="Liberation Sans, sans-serif">2</text>
<text x="577.9" y="711.04" font-size="12.2" stroke="#000" stroke-width="0.2" font-family="Liberation Sans, sans-serif">1.6</text>
<text x="577.9" y="728.98" font-size="12.2" stroke="#000" stroke-width="0.2" font-family="Liberation Sans, sans-serif">1.2</text>
<text x="577.9" y="746.92" font-size="12.2" stroke="#000" stroke-width="0.2" font-family="Liberation Sans, sans-serif">0.8</text>
<text x="577.9" y="764.86" font-size="12.2" stroke="#000" stroke-width="0.2" font-family="Liberation Sans, sans-serif">0.4</text>
<text x="579.9" y="782.8" font-size="12.2" stroke="#000" stroke-width="0.2" font-family="Liberation Sans, sans-serif">0</text>
<path d="M576.7 796.64H583.7" stroke="#000" stroke-width="1.25"/>
<text x="585.3" y="800.94" font-size="12.9" stroke="#000" stroke-width="0.2" font-family="Liberation Sans, sans-serif">0.4</text>
</svg></body></html>
